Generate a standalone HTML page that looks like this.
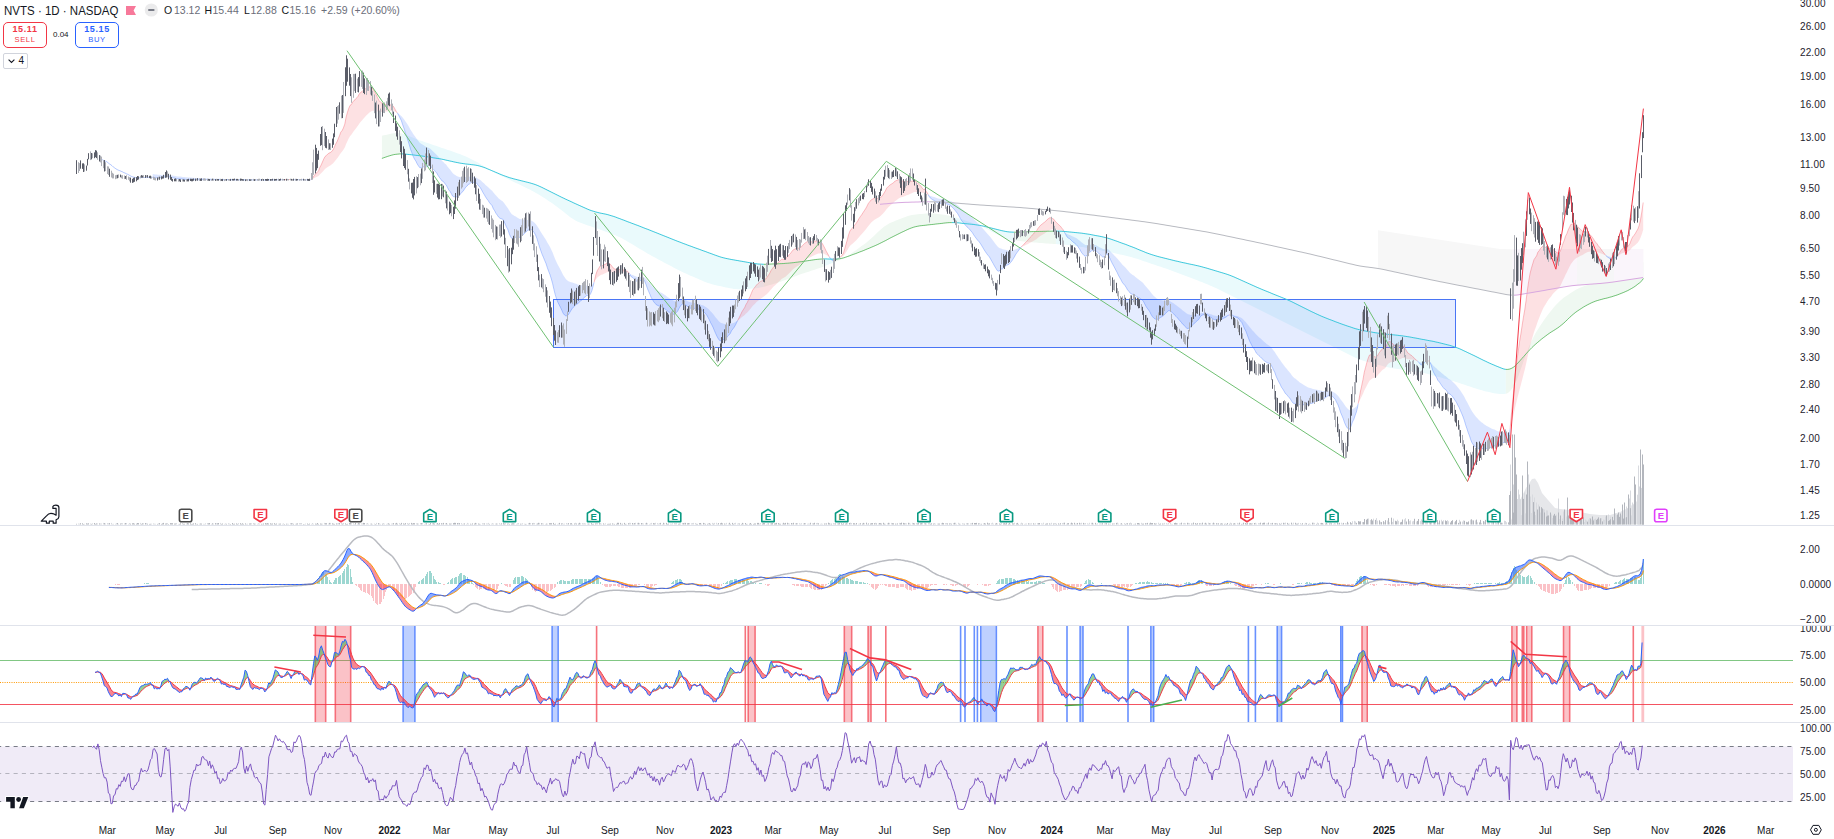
<!DOCTYPE html>
<html><head><meta charset="utf-8"><style>
html,body{margin:0;padding:0;background:#fff;}
body{width:1834px;height:839px;overflow:hidden;position:relative;font-family:"Liberation Sans",sans-serif;color:#131722}
svg{position:absolute;left:0;top:0;font-family:"Liberation Sans",sans-serif;}
.a{position:absolute;white-space:nowrap}
.hdr{left:4px;top:1.6px;font-size:13px;line-height:17px;transform:scaleX(0.885);transform-origin:0 0}
.o{top:3px;font-size:10.5px;line-height:14px;color:#131722}
.v{top:3px;font-size:10.5px;line-height:14px;color:#6b6e79}
.btn{position:absolute;top:22px;height:26px;border:1px solid;border-radius:5px;box-sizing:border-box;text-align:center}
.btn .p{position:absolute;left:0;right:0;top:1.2px;font-weight:bold;font-size:9px;line-height:10px;letter-spacing:0.6px}
.btn .l{position:absolute;left:0;right:0;top:12.1px;font-size:7.6px;line-height:9px;letter-spacing:0.6px}
</style></head><body>
<svg width="1834" height="839" viewBox="0 0 1834 839">
<polygon points="381.9,158.4 383.9,157.7 385.9,157 387.9,156.3 389.9,155.7 391.9,155.1 393.9,154.6 395.9,154.3 397.9,154.1 399.9,153.9 401.9,153.9 401.9,133.6 399.9,133.2 397.9,133 395.9,133 393.9,133.2 391.9,133.5 389.9,134 387.9,134.4 385.9,134.9 383.9,135.3 381.9,135.8" fill="#eff8f1"/>
<polygon points="401.9,153.9 403.9,154 405.9,154.2 407.9,154.4 409.9,154.6 411.9,154.8 413.9,155 415.9,155.3 417.9,155.5 419.9,155.8 421.9,156 423.9,156.3 425.9,156.6 427.9,156.9 429.9,157.2 431.9,157.5 433.9,157.9 435.9,158.2 437.9,158.5 439.9,158.8 441.9,159.2 443.9,159.6 445.9,160.1 447.9,160.5 449.9,161 451.9,161.4 453.9,161.9 455.9,162.3 457.9,162.7 459.9,163.1 461.9,163.4 463.9,163.7 465.9,164 467.9,164.2 469.9,164.4 471.9,164.7 473.9,164.9 475.9,165.2 477.9,165.6 479.9,166.1 481.9,166.7 483.9,167.4 485.9,168.1 487.9,169 489.9,169.8 491.9,170.7 493.9,171.5 495.9,172.4 497.9,173.2 499.9,174.1 501.9,174.9 503.9,175.7 505.9,176.4 507.9,177.1 509.9,177.8 511.9,178.3 513.9,178.9 515.9,179.4 517.9,179.9 519.9,180.4 521.9,180.9 523.9,181.4 525.9,181.9 527.9,182.4 529.9,182.9 531.9,183.5 533.9,184.1 535.9,184.8 537.9,185.6 539.9,186.5 541.9,187.4 543.9,188.4 545.9,189.4 547.9,190.4 549.9,191.4 551.9,192.4 553.9,193.4 555.9,194.4 557.9,195.4 559.9,196.4 561.9,197.4 563.9,198.3 565.9,199.3 567.9,200.2 569.9,201.1 571.9,202 573.9,203 575.9,203.9 577.9,204.8 579.9,205.7 581.9,206.6 583.9,207.5 585.9,208.4 587.9,209.3 589.9,210.1 591.9,210.8 593.9,211.4 595.9,212 597.9,212.5 599.9,213 601.9,213.4 603.9,213.8 605.9,214.2 607.9,214.7 609.9,215.3 611.9,215.9 613.9,216.5 615.9,217.2 617.9,218 619.9,218.7 621.9,219.5 623.9,220.2 625.9,221 627.9,221.8 629.9,222.5 631.9,223.3 633.9,224 635.9,224.8 637.9,225.5 639.9,226.3 641.9,227.1 643.9,227.9 645.9,228.7 647.9,229.4 649.9,230.2 651.9,231 653.9,231.8 655.9,232.6 657.9,233.4 659.9,234.2 661.9,235 663.9,235.8 665.9,236.6 667.9,237.4 669.9,238.2 671.9,239 673.9,239.8 675.9,240.6 677.9,241.4 679.9,242.1 681.9,242.9 683.9,243.7 685.9,244.4 687.9,245.2 689.9,245.9 691.9,246.6 693.9,247.4 695.9,248.1 697.9,248.8 699.9,249.5 701.9,250.3 703.9,251 705.9,251.7 707.9,252.5 709.9,253.2 711.9,253.9 713.9,254.7 715.9,255.4 717.9,256.1 719.9,256.8 721.9,257.4 723.9,257.9 725.9,258.4 727.9,258.8 729.9,259.2 731.9,259.6 733.9,259.9 735.9,260.3 737.9,260.6 739.9,261 741.9,261.3 743.9,261.7 745.9,262 747.9,262.4 749.9,262.7 751.9,263.1 753.9,263.4 755.9,263.7 757.9,264 759.9,264.1 761.9,264.2 763.9,264.3 763.9,286.8 761.9,287.2 759.9,287.6 757.9,288 755.9,288.2 753.9,288.5 751.9,288.6 749.9,288.7 747.9,288.9 745.9,289 743.9,289.2 741.9,289.3 739.9,289.3 737.9,289.3 735.9,289.1 733.9,288.9 731.9,288.6 729.9,288.2 727.9,287.8 725.9,287.4 723.9,286.9 721.9,286.5 719.9,286.1 717.9,285.7 715.9,285.2 713.9,284.8 711.9,284.2 709.9,283.6 707.9,282.9 705.9,282.2 703.9,281.4 701.9,280.5 699.9,279.7 697.9,278.8 695.9,278 693.9,277.1 691.9,276.2 689.9,275.4 687.9,274.5 685.9,273.6 683.9,272.7 681.9,271.8 679.9,270.8 677.9,269.8 675.9,268.8 673.9,267.7 671.9,266.6 669.9,265.6 667.9,264.5 665.9,263.4 663.9,262.4 661.9,261.3 659.9,260.3 657.9,259.2 655.9,258.1 653.9,257.1 651.9,255.9 649.9,254.8 647.9,253.7 645.9,252.5 643.9,251.3 641.9,250.1 639.9,248.9 637.9,247.7 635.9,246.5 633.9,245.3 631.9,244.1 629.9,242.9 627.9,241.7 625.9,240.5 623.9,239.4 621.9,238.3 619.9,237.3 617.9,236.4 615.9,235.5 613.9,234.7 611.9,234 609.9,233.2 607.9,232.5 605.9,231.7 603.9,231 601.9,230.2 599.9,229.5 597.9,228.8 595.9,228.1 593.9,227.4 591.9,226.7 589.9,226.1 587.9,225.4 585.9,224.7 583.9,224 581.9,223.3 579.9,222.6 577.9,221.7 575.9,220.7 573.9,219.5 571.9,218.3 569.9,216.9 567.9,215.3 565.9,213.7 563.9,212.1 561.9,210.5 559.9,208.9 557.9,207.4 555.9,205.9 553.9,204.5 551.9,203.1 549.9,201.7 547.9,200.4 545.9,199.1 543.9,197.8 541.9,196.5 539.9,195.2 537.9,194 535.9,192.9 533.9,191.7 531.9,190.7 529.9,189.6 527.9,188.7 525.9,187.7 523.9,186.7 521.9,185.8 519.9,184.8 517.9,183.8 515.9,182.9 513.9,181.9 511.9,180.9 509.9,180 507.9,179 505.9,178.1 503.9,177.1 501.9,176.2 499.9,175.2 497.9,174.3 495.9,173.3 493.9,172.2 491.9,171.1 489.9,169.9 487.9,168.6 485.9,167.4 483.9,166.1 481.9,164.9 479.9,163.7 477.9,162.5 475.9,161.4 473.9,160.4 471.9,159.4 469.9,158.4 467.9,157.4 465.9,156.5 463.9,155.7 461.9,154.9 459.9,154.1 457.9,153.4 455.9,152.7 453.9,152 451.9,151.3 449.9,150.6 447.9,149.9 445.9,149.2 443.9,148.5 441.9,147.9 439.9,147.2 437.9,146.5 435.9,145.8 433.9,145.2 431.9,144.5 429.9,143.8 427.9,143.1 425.9,142.5 423.9,141.8 421.9,141.1 419.9,140.4 417.9,139.6 415.9,138.9 413.9,138.1 411.9,137.3 409.9,136.5 407.9,135.7 405.9,134.9 403.9,134.2 401.9,133.6" fill="#eafafc"/>
<polygon points="763.9,264.3 765.9,264.3 767.9,264.2 769.9,264.1 771.9,264 773.9,263.9 775.9,263.9 777.9,263.8 779.9,263.7 781.9,263.6 783.9,263.5 785.9,263.3 787.9,263.2 789.9,263 791.9,262.8 793.9,262.6 795.9,262.3 797.9,262.1 799.9,261.8 801.9,261.6 803.9,261.3 805.9,261 807.9,260.7 809.9,260.4 811.9,260.1 813.9,259.8 815.9,259.5 817.9,259.3 819.9,259.1 821.9,259 823.9,258.9 823.9,266.4 821.9,267.2 819.9,267.9 817.9,268.6 815.9,269.3 813.9,270 811.9,270.6 809.9,271.2 807.9,271.9 805.9,272.5 803.9,273.2 801.9,273.8 799.9,274.5 797.9,275.2 795.9,276 793.9,276.7 791.9,277.5 789.9,278.2 787.9,279 785.9,279.8 783.9,280.5 781.9,281.2 779.9,281.9 777.9,282.6 775.9,283.2 773.9,283.8 771.9,284.4 769.9,285 767.9,285.6 765.9,286.2 763.9,286.8" fill="#eff8f1"/>
<polygon points="823.9,258.9 825.9,258.9 827.9,259 829.9,259.1 831.9,259.2 833.9,259.2 833.9,262.4 831.9,263.2 829.9,264 827.9,264.8 825.9,265.6 823.9,266.4" fill="#eafafc"/>
<polygon points="833.9,259.2 835.9,259.2 837.9,259 839.9,258.7 841.9,258.3 843.9,257.8 845.9,257.1 847.9,256.4 849.9,255.7 851.9,254.9 853.9,254.2 855.9,253.5 857.9,252.7 859.9,251.9 861.9,251.2 863.9,250.4 865.9,249.5 867.9,248.7 869.9,247.9 871.9,247 873.9,246.2 875.9,245.3 877.9,244.4 879.9,243.4 881.9,242.4 883.9,241.4 885.9,240.4 887.9,239.3 889.9,238.2 891.9,237.2 893.9,236.2 895.9,235.2 897.9,234.2 899.9,233.2 901.9,232.2 903.9,231.3 905.9,230.3 907.9,229.4 909.9,228.5 911.9,227.8 913.9,227.1 915.9,226.6 917.9,226.2 919.9,225.8 921.9,225.6 923.9,225.4 925.9,225.2 927.9,224.9 929.9,224.7 931.9,224.5 933.9,224.3 935.9,224 937.9,223.8 939.9,223.6 941.9,223.4 943.9,223.1 945.9,222.9 947.9,222.7 949.9,222.6 951.9,222.6 951.9,216.3 949.9,215.9 947.9,215.5 945.9,215.1 943.9,214.8 941.9,214.6 939.9,214.3 937.9,214 935.9,213.7 933.9,213.6 931.9,213.4 929.9,213.4 927.9,213.4 925.9,213.5 923.9,213.7 921.9,213.9 919.9,214.1 917.9,214.2 915.9,214.4 913.9,214.7 911.9,215.1 909.9,215.5 907.9,216.1 905.9,216.7 903.9,217.4 901.9,218.2 899.9,219 897.9,219.8 895.9,220.6 893.9,221.4 891.9,222.2 889.9,223.1 887.9,224.2 885.9,225.4 883.9,226.8 881.9,228.4 879.9,230.2 877.9,232.1 875.9,234.1 873.9,236 871.9,237.8 869.9,239.6 867.9,241.3 865.9,242.9 863.9,244.4 861.9,245.8 859.9,247.3 857.9,248.7 855.9,250.2 853.9,251.6 851.9,253 849.9,254.4 847.9,255.7 845.9,256.9 843.9,258 841.9,259.1 839.9,260 837.9,260.8 835.9,261.6 833.9,262.4" fill="#eff8f1"/>
<polygon points="951.9,222.6 953.9,222.6 955.9,222.7 957.9,222.8 959.9,223 961.9,223.3 963.9,223.5 965.9,223.7 967.9,223.9 969.9,224.1 971.9,224.3 973.9,224.5 975.9,224.8 977.9,225.1 979.9,225.4 981.9,225.8 983.9,226.2 985.9,226.7 987.9,227.2 989.9,227.7 991.9,228.2 993.9,228.7 995.9,229.2 997.9,229.7 999.9,230.2 1001.9,230.7 1003.9,231.1 1005.9,231.5 1007.9,231.8 1009.9,232 1011.9,232.1 1013.9,232.2 1013.9,240.5 1011.9,240.2 1009.9,239.8 1007.9,239.2 1005.9,238.6 1003.9,237.8 1001.9,236.8 999.9,235.8 997.9,234.8 995.9,233.7 993.9,232.7 991.9,231.7 989.9,230.6 987.9,229.6 985.9,228.6 983.9,227.6 981.9,226.6 979.9,225.8 977.9,224.9 975.9,224.2 973.9,223.4 971.9,222.8 969.9,222.1 967.9,221.4 965.9,220.7 963.9,220 961.9,219.4 959.9,218.7 957.9,218 955.9,217.4 953.9,216.8 951.9,216.3" fill="#eafafc"/>
<polygon points="1013.9,232.2 1015.9,232.2 1017.9,232.1 1019.9,232 1021.9,231.9 1023.9,231.9 1025.9,231.8 1027.9,231.7 1029.9,231.7 1031.9,231.6 1033.9,231.6 1035.9,231.5 1037.9,231.5 1039.9,231.4 1041.9,231.4 1043.9,231.3 1045.9,231.3 1047.9,231.2 1049.9,231.2 1051.9,231.2 1053.9,231.1 1055.9,231.1 1055.9,244.1 1053.9,243.9 1051.9,243.8 1049.9,243.7 1047.9,243.5 1045.9,243.4 1043.9,243.3 1041.9,243.1 1039.9,242.9 1037.9,242.8 1035.9,242.6 1033.9,242.4 1031.9,242.2 1029.9,242.1 1027.9,241.9 1025.9,241.7 1023.9,241.5 1021.9,241.3 1019.9,241.1 1017.9,240.9 1015.9,240.7 1013.9,240.5" fill="#eff8f1"/>
<polygon points="1055.9,231.1 1057.9,231.1 1059.9,231.2 1061.9,231.3 1063.9,231.4 1065.9,231.6 1067.9,231.8 1069.9,232 1071.9,232.2 1073.9,232.4 1075.9,232.6 1077.9,232.8 1079.9,233 1081.9,233.2 1083.9,233.5 1085.9,233.8 1087.9,234.1 1089.9,234.4 1091.9,234.8 1093.9,235.2 1095.9,235.6 1097.9,235.9 1099.9,236.3 1101.9,236.7 1103.9,237.2 1105.9,237.7 1107.9,238.2 1109.9,238.8 1111.9,239.5 1113.9,240.2 1115.9,240.9 1117.9,241.6 1119.9,242.4 1121.9,243.1 1123.9,243.8 1125.9,244.5 1127.9,245.3 1129.9,246.1 1131.9,246.8 1133.9,247.6 1135.9,248.4 1137.9,249.3 1139.9,250.1 1141.9,250.9 1143.9,251.7 1145.9,252.6 1147.9,253.3 1149.9,254 1151.9,254.7 1153.9,255.3 1155.9,255.9 1157.9,256.5 1159.9,257 1161.9,257.5 1163.9,258 1165.9,258.5 1167.9,259 1169.9,259.5 1171.9,260 1173.9,260.5 1175.9,261 1177.9,261.4 1179.9,261.9 1181.9,262.4 1183.9,262.8 1185.9,263.2 1187.9,263.7 1189.9,264.1 1191.9,264.5 1193.9,264.9 1195.9,265.4 1197.9,265.8 1199.9,266.3 1201.9,266.8 1203.9,267.4 1205.9,267.9 1207.9,268.5 1209.9,269.1 1211.9,269.7 1213.9,270.3 1215.9,270.9 1217.9,271.5 1219.9,272.1 1221.9,272.7 1223.9,273.3 1225.9,273.9 1227.9,274.6 1229.9,275.3 1231.9,276.1 1233.9,276.9 1235.9,277.8 1237.9,278.7 1239.9,279.6 1241.9,280.5 1243.9,281.4 1245.9,282.3 1247.9,283.2 1249.9,284.1 1251.9,285 1253.9,285.9 1255.9,286.8 1257.9,287.7 1259.9,288.5 1261.9,289.4 1263.9,290.2 1265.9,291 1267.9,291.8 1269.9,292.6 1271.9,293.5 1273.9,294.3 1275.9,295.1 1277.9,295.9 1279.9,296.7 1281.9,297.5 1283.9,298.3 1285.9,299.1 1287.9,300 1289.9,300.9 1291.9,301.8 1293.9,302.8 1295.9,303.8 1297.9,304.8 1299.9,305.8 1301.9,306.8 1303.9,307.8 1305.9,308.8 1307.9,309.8 1309.9,310.8 1311.9,311.8 1313.9,312.7 1315.9,313.7 1317.9,314.6 1319.9,315.5 1321.9,316.4 1323.9,317.2 1325.9,318 1327.9,318.8 1329.9,319.6 1331.9,320.3 1333.9,321.1 1335.9,321.9 1337.9,322.6 1339.9,323.4 1341.9,324.1 1343.9,324.8 1345.9,325.5 1347.9,326.2 1349.9,326.8 1351.9,327.5 1353.9,328.2 1355.9,328.8 1357.9,329.3 1359.9,329.9 1361.9,330.3 1363.9,330.7 1365.9,331.1 1367.9,331.5 1369.9,331.8 1371.9,332.1 1373.9,332.5 1375.9,332.8 1377.9,333.1 1379.9,333.4 1381.9,333.6 1383.9,333.9 1385.9,334.1 1387.9,334.3 1389.9,334.5 1391.9,334.7 1393.9,334.9 1395.9,335.1 1397.9,335.3 1399.9,335.6 1401.9,335.8 1403.9,336.1 1405.9,336.4 1407.9,336.7 1409.9,337 1411.9,337.4 1413.9,337.8 1415.9,338.1 1417.9,338.5 1419.9,338.9 1421.9,339.3 1423.9,339.6 1425.9,340 1427.9,340.4 1429.9,340.8 1431.9,341.1 1433.9,341.5 1435.9,342 1437.9,342.4 1439.9,342.9 1441.9,343.4 1443.9,343.9 1445.9,344.4 1447.9,344.9 1449.9,345.4 1451.9,346 1453.9,346.7 1455.9,347.4 1457.9,348.1 1459.9,348.9 1461.9,349.8 1463.9,350.8 1465.9,351.7 1467.9,352.7 1469.9,353.6 1471.9,354.6 1473.9,355.5 1475.9,356.5 1477.9,357.5 1479.9,358.5 1481.9,359.5 1483.9,360.5 1485.9,361.4 1487.9,362.4 1489.9,363.3 1491.9,364.2 1493.9,365 1495.9,365.9 1497.9,366.7 1499.9,367.5 1501.9,368.3 1503.9,369 1505.9,369.4 1505.9,393.8 1503.9,394 1501.9,394 1499.9,394 1497.9,393.8 1495.9,393.6 1493.9,393.2 1491.9,392.7 1489.9,392.3 1487.9,391.8 1485.9,391.4 1483.9,390.9 1481.9,390.3 1479.9,389.8 1477.9,389.2 1475.9,388.6 1473.9,388 1471.9,387.3 1469.9,386.6 1467.9,386 1465.9,385.3 1463.9,384.6 1461.9,384 1459.9,383.3 1457.9,382.6 1455.9,382 1453.9,381.3 1451.9,380.7 1449.9,380.1 1447.9,379.5 1445.9,378.9 1443.9,378.4 1441.9,377.8 1439.9,377.3 1437.9,376.8 1435.9,376.2 1433.9,375.7 1431.9,375.2 1429.9,374.6 1427.9,374.1 1425.9,373.6 1423.9,373.1 1421.9,372.6 1419.9,372.2 1417.9,371.8 1415.9,371.5 1413.9,371.2 1411.9,370.9 1409.9,370.7 1407.9,370.4 1405.9,370.1 1403.9,369.9 1401.9,369.6 1399.9,369.3 1397.9,369.1 1395.9,368.8 1393.9,368.5 1391.9,368.1 1389.9,367.8 1387.9,367.3 1385.9,366.9 1383.9,366.4 1381.9,365.8 1379.9,365.3 1377.9,364.8 1375.9,364.2 1373.9,363.7 1371.9,363.2 1369.9,362.6 1367.9,362.1 1365.9,361.6 1363.9,361 1361.9,360.3 1359.9,359.6 1357.9,358.8 1355.9,357.9 1353.9,357 1351.9,356 1349.9,355 1347.9,354 1345.9,353 1343.9,352 1341.9,351 1339.9,350 1337.9,349 1335.9,348 1333.9,347 1331.9,346 1329.9,345 1327.9,344 1325.9,343 1323.9,342 1321.9,341 1319.9,340 1317.9,339 1315.9,338 1313.9,337 1311.9,336 1309.9,335 1307.9,334 1305.9,333 1303.9,332 1301.9,331 1299.9,330 1297.9,329 1295.9,328 1293.9,327 1291.9,326 1289.9,325 1287.9,324 1285.9,323 1283.9,322 1281.9,321 1279.9,320 1277.9,319 1275.9,318 1273.9,317 1271.9,316 1269.9,315 1267.9,314 1265.9,313 1263.9,312 1261.9,311 1259.9,310 1257.9,309 1255.9,308 1253.9,307 1251.9,306 1249.9,305 1247.9,304 1245.9,303 1243.9,302 1241.9,301 1239.9,300 1237.9,299 1235.9,298 1233.9,297 1231.9,296 1229.9,295.1 1227.9,294.1 1225.9,293.1 1223.9,292.1 1221.9,291.1 1219.9,290.1 1217.9,289.1 1215.9,288.1 1213.9,287.2 1211.9,286.2 1209.9,285.4 1207.9,284.5 1205.9,283.7 1203.9,282.9 1201.9,282.1 1199.9,281.4 1197.9,280.6 1195.9,279.8 1193.9,279.1 1191.9,278.3 1189.9,277.6 1187.9,276.8 1185.9,276 1183.9,275.3 1181.9,274.5 1179.9,273.8 1177.9,273 1175.9,272.2 1173.9,271.5 1171.9,270.8 1169.9,270 1167.9,269.3 1165.9,268.6 1163.9,267.9 1161.9,267.3 1159.9,266.6 1157.9,265.9 1155.9,265.2 1153.9,264.6 1151.9,263.9 1149.9,263.2 1147.9,262.5 1145.9,261.8 1143.9,261.2 1141.9,260.5 1139.9,259.8 1137.9,259.1 1135.9,258.5 1133.9,257.9 1131.9,257.3 1129.9,256.7 1127.9,256.2 1125.9,255.7 1123.9,255.2 1121.9,254.8 1119.9,254.4 1117.9,253.9 1115.9,253.5 1113.9,253 1111.9,252.6 1109.9,252.2 1107.9,251.7 1105.9,251.3 1103.9,250.9 1101.9,250.5 1099.9,250.1 1097.9,249.7 1095.9,249.3 1093.9,249 1091.9,248.7 1089.9,248.3 1087.9,248 1085.9,247.7 1083.9,247.3 1081.9,247 1079.9,246.7 1077.9,246.3 1075.9,246 1073.9,245.7 1071.9,245.4 1069.9,245.2 1067.9,244.9 1065.9,244.8 1063.9,244.6 1061.9,244.5 1059.9,244.3 1057.9,244.2 1055.9,244.1" fill="#eafafc"/>
<polygon points="1505.9,369.4 1507.9,369.4 1509.9,369 1511.9,368.2 1513.9,366.9 1515.9,365.2 1517.9,363 1519.9,360.8 1521.9,358.5 1523.9,356.3 1525.9,354 1527.9,351.8 1529.9,349.7 1531.9,347.6 1533.9,345.7 1535.9,343.9 1537.9,342.2 1539.9,340.5 1541.9,338.8 1543.9,337.3 1545.9,335.8 1547.9,334.3 1549.9,332.9 1551.9,331.6 1553.9,330.4 1555.9,329.1 1557.9,327.8 1559.9,326.3 1561.9,324.7 1563.9,323 1565.9,321.1 1567.9,319.2 1569.9,317.2 1571.9,315.4 1573.9,313.7 1575.9,312.1 1577.9,310.7 1579.9,309.4 1581.9,308.1 1583.9,306.8 1585.9,305.7 1587.9,304.6 1589.9,303.6 1591.9,302.6 1593.9,301.8 1595.9,301 1597.9,300.4 1599.9,299.8 1601.9,299.3 1603.9,298.7 1605.9,298.3 1607.9,297.8 1609.9,297.2 1611.9,296.7 1613.9,296 1615.9,295.4 1617.9,294.7 1619.9,293.9 1621.9,293.1 1623.9,292.3 1625.9,291.4 1627.9,290.5 1629.9,289.4 1631.9,288.3 1633.9,287.1 1635.9,285.7 1637.9,284.1 1639.9,282.6 1641.9,280.7 1643.4,278.4 1643.4,262 1641.9,263.1 1639.9,264.5 1637.9,265.8 1635.9,267.1 1633.9,268.5 1631.9,269.9 1629.9,271.2 1627.9,272.6 1625.9,274 1623.9,275.2 1621.9,276.3 1619.9,277.2 1617.9,278 1615.9,278.7 1613.9,279.2 1611.9,279.6 1609.9,280 1607.9,280.4 1605.9,280.8 1603.9,281.2 1601.9,281.7 1599.9,282.1 1597.9,282.6 1595.9,283 1593.9,283.5 1591.9,284 1589.9,284.5 1587.9,285 1585.9,285.5 1583.9,286.2 1581.9,286.9 1579.9,287.7 1577.9,288.7 1575.9,289.8 1573.9,291 1571.9,292.3 1569.9,293.6 1567.9,294.9 1565.9,296.2 1563.9,297.6 1561.9,299.3 1559.9,301 1557.9,303 1555.9,305.1 1553.9,307.3 1551.9,309.7 1549.9,312.2 1547.9,314.8 1545.9,317.5 1543.9,320.3 1541.9,323.2 1539.9,326.2 1537.9,329.4 1535.9,332.6 1533.9,336.2 1531.9,340.2 1529.9,344.6 1527.9,349.5 1525.9,354.7 1523.9,360.2 1521.9,366 1519.9,371.6 1517.9,377.2 1515.9,381.9 1513.9,385.8 1511.9,388.8 1509.9,391.2 1507.9,392.9 1505.9,393.8" fill="#eff8f1"/>
<polygon points="1378,230.3 1500,249 1512.5,249.3 1512.5,295.8 1500,293.3 1470,287.5 1436.6,281 1378,268.3" fill="#f7f7f7"/>
<polygon points="1512.5,249 1577.5,249 1577.5,285.1 1545,290.3 1512.5,295.8" fill="#faf5fb"/>
<polygon points="1577,249 1614.5,249 1614.5,281.8 1595.8,283.8 1577,285.2" fill="#f6f6f7"/>
<polygon points="1614,249 1643.4,249 1643.4,277.5 1628.7,279.7 1614,281.9" fill="#faf5fb"/>
<rect x="553.5" y="299.5" width="902" height="48" fill="#2962ff" fill-opacity="0.12" stroke="#4a75f5" stroke-width="1"/>
<polyline points="100.1,159 101.4,159 102.7,159.9 104,160.7 105.3,161.1 106.7,161.7 108,162.7 109.3,163.8 110.6,164.6 111.9,165.6 113.2,166.9 114.5,167.8 115.9,168.8 117.2,169.6 118.5,170.2 119.8,170.7 121.1,171.3 122.4,171.8 123.8,172.6 125.1,173.1 126.4,173.8 127.7,174.3 129,175 130.3,175.8 131.7,176.5 133,177 134.3,177.3 135.6,177.6 136.9,177.8 138.2,177.8 139.5,177.8 140.9,177.6 142.2,177.6 143.5,177.5 144.8,177.5 146.1,177.4 147.4,177.4 148.8,177.3 150.1,177.4 151.4,177.3 152.7,177.4" fill="none" stroke="#2962ff" stroke-opacity="0.35" stroke-width="1"/>
<polygon points="152.7,177.4 154,177.6 155.3,177.7 156.6,177.8 158,177.8 159.3,177.7 160.6,177.7 161.9,177.8 163.2,177.6 164.5,177.1 165.9,176.8 167.2,176.7 168.5,176.8 169.8,177.1 171.1,177.4 172.4,177.6 173.7,177.9 175.1,178.3 176.4,178.6 177.7,178.7 179,178.8 180.3,178.9 181.6,178.9 183,179.1 184.3,179.2 185.6,179.4 186.9,179.5 188.2,179.7 189.5,179.7 190.8,179.7 192.2,179.8 193.5,179.7 194.8,179.7 196.1,179.7 197.4,179.8 198.7,179.8 200.1,179.7 201.4,179.6 202.7,179.7 204,179.6 205.3,179.6 206.6,179.6 207.9,179.7 209.3,179.8 210.6,179.9 211.9,179.8 213.2,179.7 214.5,179.6 215.8,179.6 217.2,179.6 218.5,179.6 219.8,179.6 221.1,179.5 222.4,179.7 223.7,179.8 225.1,179.8 226.4,179.7 227.7,179.7 229,179.7 230.3,179.8 231.6,179.8 232.9,179.8 234.3,179.8 235.6,179.9 236.9,179.9 238.2,179.9 239.5,179.9 240.8,179.8 242.2,179.8 243.5,179.9 244.8,179.9 246.1,179.9 247.4,180 248.7,180 250,180 251.4,180 252.7,180 254,180 255.3,179.9 256.6,180 257.9,179.9 259.3,179.9 260.6,180 261.9,179.9 263.2,180 264.5,180.1 265.8,180 267.1,179.9 268.5,179.9 269.8,179.9 271.1,179.9 272.4,179.9 273.7,179.9 275,179.8 276.4,179.9 277.7,179.8 279,179.8 280.3,179.8 281.6,179.7 282.9,179.7 284,179.7 284,179.7 282.9,179.7 281.6,179.7 280.3,179.7 279,179.7 277.7,179.7 276.4,179.7 275,179.7 273.7,179.7 272.4,179.7 271.1,179.7 269.8,179.7 268.5,179.7 267.1,179.7 265.8,179.7 264.5,179.7 263.2,179.7 261.9,179.6 260.6,179.6 259.3,179.6 257.9,179.6 256.6,179.6 255.3,179.6 254,179.6 252.7,179.6 251.4,179.5 250,179.5 248.7,179.5 247.4,179.5 246.1,179.4 244.8,179.4 243.5,179.4 242.2,179.3 240.8,179.3 239.5,179.3 238.2,179.3 236.9,179.3 235.6,179.2 234.3,179.2 232.9,179.2 231.6,179.1 230.3,179.1 229,179.1 227.7,179 226.4,179 225.1,179 223.7,179 222.4,178.9 221.1,178.8 219.8,178.8 218.5,178.8 217.2,178.7 215.8,178.7 214.5,178.7 213.2,178.7 211.9,178.6 210.6,178.6 209.3,178.5 207.9,178.5 206.6,178.4 205.3,178.3 204,178.3 202.7,178.3 201.4,178.2 200.1,178.1 198.7,178.1 197.4,178 196.1,177.9 194.8,177.9 193.5,177.8 192.2,177.7 190.8,177.6 189.5,177.5 188.2,177.4 186.9,177.3 185.6,177.2 184.3,177 183,176.9 181.6,176.7 180.3,176.6 179,176.5 177.7,176.4 176.4,176.2 175.1,176 173.7,175.8 172.4,175.6 171.1,175.5 169.8,175.3 168.5,175.1 167.2,175 165.9,175 164.5,175 163.2,175.1 161.9,175.1 160.6,175 159.3,174.8 158,174.7 156.6,174.6 155.3,174.5 154,174.3 152.7,174.1" fill="#2962ff" fill-opacity="0.17"/>
<polyline points="152.7,177.4 154,177.6 155.3,177.7 156.6,177.8 158,177.8 159.3,177.7 160.6,177.7 161.9,177.8 163.2,177.6 164.5,177.1 165.9,176.8 167.2,176.7 168.5,176.8 169.8,177.1 171.1,177.4 172.4,177.6 173.7,177.9 175.1,178.3 176.4,178.6 177.7,178.7 179,178.8 180.3,178.9 181.6,178.9 183,179.1 184.3,179.2 185.6,179.4 186.9,179.5 188.2,179.7 189.5,179.7 190.8,179.7 192.2,179.8 193.5,179.7 194.8,179.7 196.1,179.7 197.4,179.8 198.7,179.8 200.1,179.7 201.4,179.6 202.7,179.7 204,179.6 205.3,179.6 206.6,179.6 207.9,179.7 209.3,179.8 210.6,179.9 211.9,179.8 213.2,179.7 214.5,179.6 215.8,179.6 217.2,179.6 218.5,179.6 219.8,179.6 221.1,179.5 222.4,179.7 223.7,179.8 225.1,179.8 226.4,179.7 227.7,179.7 229,179.7 230.3,179.8 231.6,179.8 232.9,179.8 234.3,179.8 235.6,179.9 236.9,179.9 238.2,179.9 239.5,179.9 240.8,179.8 242.2,179.8 243.5,179.9 244.8,179.9 246.1,179.9 247.4,180 248.7,180 250,180 251.4,180 252.7,180 254,180 255.3,179.9 256.6,180 257.9,179.9 259.3,179.9 260.6,180 261.9,179.9 263.2,180 264.5,180.1 265.8,180 267.1,179.9 268.5,179.9 269.8,179.9 271.1,179.9 272.4,179.9 273.7,179.9 275,179.8 276.4,179.9 277.7,179.8 279,179.8 280.3,179.8 281.6,179.7 282.9,179.7 284,179.7" fill="none" stroke="#2962ff" stroke-opacity="0.3" stroke-width="1"/>
<polygon points="284,179.7 284.2,179.6 285.6,179.6 286.9,179.6 288.2,179.6 289.5,179.5 290.8,179.5 292.1,179.6 293.4,179.6 293.4,179.6 292.1,179.6 290.8,179.6 289.5,179.6 288.2,179.6 286.9,179.6 285.6,179.6 284.2,179.7 284,179.7" fill="#f23645" fill-opacity="0.15"/>
<polyline points="284,179.7 284.2,179.6 285.6,179.6 286.9,179.6 288.2,179.6 289.5,179.5 290.8,179.5 292.1,179.6 293.4,179.6" fill="none" stroke="#f23645" stroke-opacity="0.3" stroke-width="1"/>
<polygon points="293.4,179.6 293.5,179.6 294.8,179.7 296.1,179.7 297.4,179.7 298.7,179.7 300,179.7 301.4,179.7 302.7,179.7 304,179.8 305.3,179.8 306.6,179.8 307.9,179.9 309.2,180 310.6,179.8 310.8,179.7 310.8,179.7 310.6,179.7 309.2,179.8 307.9,179.7 306.6,179.7 305.3,179.7 304,179.7 302.7,179.7 301.4,179.7 300,179.7 298.7,179.7 297.4,179.7 296.1,179.7 294.8,179.7 293.5,179.6 293.4,179.6" fill="#2962ff" fill-opacity="0.17"/>
<polyline points="293.4,179.6 293.5,179.6 294.8,179.7 296.1,179.7 297.4,179.7 298.7,179.7 300,179.7 301.4,179.7 302.7,179.7 304,179.8 305.3,179.8 306.6,179.8 307.9,179.9 309.2,180 310.6,179.8 310.8,179.7" fill="none" stroke="#2962ff" stroke-opacity="0.3" stroke-width="1"/>
<polygon points="310.8,179.7 311.9,179.3 313.2,177.1 314.5,175.3 315.8,173.4 317.1,172.6 318.5,170.9 319.8,167.5 321.1,165.1 322.4,162.1 323.7,159.1 325,156.6 326.3,155.6 327.7,154.1 329,153.1 330.3,152.6 331.6,151.6 332.9,150.1 334.2,147.6 335.6,144.2 336.9,142 338.2,138.8 339.5,135.7 340.8,132.1 342.1,130.6 343.4,128 344.8,124.1 346.1,117.2 347.4,112.5 348.7,108.5 350,105.4 351.3,104.6 352.7,102.2 354,100.4 355.3,99.6 356.6,97.9 357.9,96.5 359.2,94.1 360.5,92.6 361.9,91.6 363.2,90.3 364.5,89.6 365.8,88.5 367.1,88 368.4,87.4 369.8,86.8 371.1,87.4 372.4,88.1 373.7,90.2 375,92.5 376.3,94.9 377.6,97.8 379,100.4 380.3,102 381.6,102.8 382.9,103.8 384.2,104 385.5,104.5 386.9,105 388.2,104.5 389.5,104.6 390.8,105 392.1,105.5 393.4,106.3 394.8,108.8 396.1,111.3 397.3,112.9 397.3,112.9 396.1,112.3 394.8,111.5 393.4,110.7 392.1,110.7 390.8,110.7 389.5,110.8 388.2,111 386.9,111.4 385.5,111.5 384.2,111.6 382.9,111.9 381.6,111.9 380.3,111.9 379,111.8 377.6,111.4 376.3,110.9 375,110.7 373.7,110.7 372.4,110.8 371.1,111.5 369.8,112.3 368.4,113.5 367.1,114.8 365.8,116 364.5,117.5 363.2,118.9 361.9,120.5 360.5,122.1 359.2,123.8 357.9,125.8 356.6,127.5 355.3,129.3 354,130.8 352.7,132.7 351.3,134.8 350,136.3 348.7,138.6 347.4,141.2 346.1,144 344.8,147.5 343.4,149.8 342.1,151.6 340.8,153 339.5,155.1 338.2,157 336.9,158.8 335.6,160.3 334.2,162.1 332.9,163.6 331.6,164.6 330.3,165.5 329,166.2 327.7,167.1 326.3,168.1 325,169 323.7,170.4 322.4,171.9 321.1,173.3 319.8,174.5 318.5,175.9 317.1,176.7 315.8,177.2 314.5,178 313.2,178.7 311.9,179.6 310.8,179.7" fill="#f23645" fill-opacity="0.15"/>
<polyline points="310.8,179.7 311.9,179.3 313.2,177.1 314.5,175.3 315.8,173.4 317.1,172.6 318.5,170.9 319.8,167.5 321.1,165.1 322.4,162.1 323.7,159.1 325,156.6 326.3,155.6 327.7,154.1 329,153.1 330.3,152.6 331.6,151.6 332.9,150.1 334.2,147.6 335.6,144.2 336.9,142 338.2,138.8 339.5,135.7 340.8,132.1 342.1,130.6 343.4,128 344.8,124.1 346.1,117.2 347.4,112.5 348.7,108.5 350,105.4 351.3,104.6 352.7,102.2 354,100.4 355.3,99.6 356.6,97.9 357.9,96.5 359.2,94.1 360.5,92.6 361.9,91.6 363.2,90.3 364.5,89.6 365.8,88.5 367.1,88 368.4,87.4 369.8,86.8 371.1,87.4 372.4,88.1 373.7,90.2 375,92.5 376.3,94.9 377.6,97.8 379,100.4 380.3,102 381.6,102.8 382.9,103.8 384.2,104 385.5,104.5 386.9,105 388.2,104.5 389.5,104.6 390.8,105 392.1,105.5 393.4,106.3 394.8,108.8 396.1,111.3 397.3,112.9" fill="none" stroke="#f23645" stroke-opacity="0.3" stroke-width="1"/>
<polygon points="397.3,112.9 397.4,113 398.7,115.4 400,118 401.3,120.5 402.6,124.5 404,128.4 405.3,132.8 406.6,136.3 407.9,140.4 409.2,144.5 410.5,149.2 411.9,152.8 413.2,156.4 414.5,159.1 415.8,161 417.1,163.7 418.4,165.8 419.7,167.6 421.1,167.7 422.4,167.3 423.7,166.9 425,167.1 426.3,166.8 427.6,166.5 429,165.6 430.3,166 431.6,167.5 432.9,168.7 434.2,170.1 435.5,171.6 436.8,173.2 438.2,175.6 439.5,177.5 440.8,179.2 442.1,181 443.4,181.5 444.7,183.5 446.1,184.8 447.4,187.4 448.7,189.9 450,191.4 451.3,193.6 452.6,196.1 453.9,196.8 455.3,196.8 456.6,196.9 457.9,196.3 459.2,195.8 460.5,193.9 461.8,192.3 463.2,191.2 464.5,189 465.8,187.1 467.1,186 468.4,184.4 469.7,183.8 471,182.5 472.4,182.4 473.7,182.6 475,182.4 476.3,182.8 477.6,184.6 478.9,186 480.3,187.7 481.6,189.9 482.9,192.4 484.2,194.5 485.5,196.8 486.8,198.8 488.2,200.6 489.5,202.7 490.8,204.2 492.1,205.7 493.4,208.9 494.7,210.8 496,213.4 497.4,215.3 498.7,217.2 500,218.3 501.3,218.7 502.6,219.1 503.9,221.2 505.3,224.4 506.6,227.2 507.9,229.6 509.2,233.6 510.5,236.7 511.8,238.4 513.1,238.3 514.5,237.9 515.8,237.2 517.1,237.5 518.4,237.5 519.7,237.3 521,236.6 522.4,235.6 523.7,234.1 525,233 526.3,231.6 527.6,230.5 528.9,229.8 530.2,230.1 531.6,229.8 532.9,230.9 534.2,232.6 535.5,234.9 536.8,238.1 538.1,242.3 539.5,246.9 540.8,250.7 542.1,254.3 543.4,257.3 544.7,260.5 546,263.5 547.3,267.6 548.7,271.4 550,274.7 551.3,278.9 552.6,283.6 553.9,289.3 555.2,294.6 556.6,299 557.9,302.3 559.2,304.9 560.5,307.4 561.8,310.2 563.1,313.2 564.5,315 565.8,315.9 567.1,315.8 568.4,314.7 569.7,312.6 571,310.4 572.3,308.4 573.7,307 575,305.6 576.3,304.3 577.6,303.9 578.9,302.4 580.2,301.2 581.6,300.3 582.9,299.1 584.2,297.4 585.5,296.7 586.8,295.2 588.1,295.6 589.4,295.6 590.8,293.3 592.1,290.1 593.4,285 594.1,282.2 594.1,282.2 593.4,283.2 592.1,284.9 590.8,285.8 589.4,286.3 588.1,285.9 586.8,285.4 585.5,285.5 584.2,285.3 582.9,285.4 581.6,285.2 580.2,284.9 578.9,284.7 577.6,284.5 576.3,283.8 575,283.5 573.7,283 572.3,282.5 571,282.2 569.7,281.8 568.4,281.3 567.1,280.3 565.8,278.9 564.5,277 563.1,274.9 561.8,272.3 560.5,269.7 559.2,267.3 557.9,264.9 556.6,262.2 555.2,259.2 553.9,255.9 552.6,252.6 551.3,249.7 550,247 548.7,244.8 547.3,242.4 546,239.9 544.7,237.9 543.4,235.9 542.1,234 540.8,231.9 539.5,229.8 538.1,227.5 536.8,225.5 535.5,223.8 534.2,222.6 532.9,221.6 531.6,220.8 530.2,220.5 528.9,220.1 527.6,219.9 526.3,219.9 525,219.9 523.7,219.7 522.4,219.6 521,219.3 519.7,218.9 518.4,218.2 517.1,217.4 515.8,216.5 514.5,215.9 513.1,215.1 511.8,214.2 510.5,212.6 509.2,210.5 507.9,208.2 506.6,206.5 505.3,204.7 503.9,202.8 502.6,201.3 501.3,200.4 500,199.6 498.7,198.4 497.4,197 496,195.6 494.7,194 493.4,192.6 492.1,190.8 490.8,189.7 489.5,188.6 488.2,187.3 486.8,186.1 485.5,184.9 484.2,183.6 482.9,182.5 481.6,181.2 480.3,180.1 478.9,179.2 477.6,178.4 476.3,177.5 475,177.2 473.7,177 472.4,176.7 471,176.5 469.7,176.7 468.4,176.6 467.1,176.9 465.8,176.9 464.5,177.1 463.2,177.4 461.8,177.2 460.5,177.2 459.2,177.1 457.9,176.6 456.6,176 455.3,175.1 453.9,174.2 452.6,173 451.3,171.2 450,169.6 448.7,168.1 447.4,166.4 446.1,164.6 444.7,163.4 443.4,161.9 442.1,160.9 440.8,159.4 439.5,158 438.2,156.6 436.8,155 435.5,153.7 434.2,152.4 432.9,151.2 431.6,150.1 430.3,148.8 429,148 427.6,147.6 426.3,146.9 425,146.2 423.7,145.3 422.4,144.5 421.1,143.8 419.7,142.7 418.4,141.1 417.1,139.4 415.8,137.4 414.5,135.8 413.2,133.9 411.9,131.8 410.5,129.7 409.2,127.2 407.9,125.1 406.6,123.1 405.3,121.3 404,119.3 402.6,117.6 401.3,115.9 400,114.9 398.7,113.8 397.4,112.9 397.3,112.9" fill="#2962ff" fill-opacity="0.17"/>
<polyline points="397.3,112.9 397.4,113 398.7,115.4 400,118 401.3,120.5 402.6,124.5 404,128.4 405.3,132.8 406.6,136.3 407.9,140.4 409.2,144.5 410.5,149.2 411.9,152.8 413.2,156.4 414.5,159.1 415.8,161 417.1,163.7 418.4,165.8 419.7,167.6 421.1,167.7 422.4,167.3 423.7,166.9 425,167.1 426.3,166.8 427.6,166.5 429,165.6 430.3,166 431.6,167.5 432.9,168.7 434.2,170.1 435.5,171.6 436.8,173.2 438.2,175.6 439.5,177.5 440.8,179.2 442.1,181 443.4,181.5 444.7,183.5 446.1,184.8 447.4,187.4 448.7,189.9 450,191.4 451.3,193.6 452.6,196.1 453.9,196.8 455.3,196.8 456.6,196.9 457.9,196.3 459.2,195.8 460.5,193.9 461.8,192.3 463.2,191.2 464.5,189 465.8,187.1 467.1,186 468.4,184.4 469.7,183.8 471,182.5 472.4,182.4 473.7,182.6 475,182.4 476.3,182.8 477.6,184.6 478.9,186 480.3,187.7 481.6,189.9 482.9,192.4 484.2,194.5 485.5,196.8 486.8,198.8 488.2,200.6 489.5,202.7 490.8,204.2 492.1,205.7 493.4,208.9 494.7,210.8 496,213.4 497.4,215.3 498.7,217.2 500,218.3 501.3,218.7 502.6,219.1 503.9,221.2 505.3,224.4 506.6,227.2 507.9,229.6 509.2,233.6 510.5,236.7 511.8,238.4 513.1,238.3 514.5,237.9 515.8,237.2 517.1,237.5 518.4,237.5 519.7,237.3 521,236.6 522.4,235.6 523.7,234.1 525,233 526.3,231.6 527.6,230.5 528.9,229.8 530.2,230.1 531.6,229.8 532.9,230.9 534.2,232.6 535.5,234.9 536.8,238.1 538.1,242.3 539.5,246.9 540.8,250.7 542.1,254.3 543.4,257.3 544.7,260.5 546,263.5 547.3,267.6 548.7,271.4 550,274.7 551.3,278.9 552.6,283.6 553.9,289.3 555.2,294.6 556.6,299 557.9,302.3 559.2,304.9 560.5,307.4 561.8,310.2 563.1,313.2 564.5,315 565.8,315.9 567.1,315.8 568.4,314.7 569.7,312.6 571,310.4 572.3,308.4 573.7,307 575,305.6 576.3,304.3 577.6,303.9 578.9,302.4 580.2,301.2 581.6,300.3 582.9,299.1 584.2,297.4 585.5,296.7 586.8,295.2 588.1,295.6 589.4,295.6 590.8,293.3 592.1,290.1 593.4,285 594.1,282.2" fill="none" stroke="#2962ff" stroke-opacity="0.3" stroke-width="1"/>
<polygon points="594.1,282.2 594.7,279.6 596,274.2 597.3,270.5 598.7,268.4 600,266.1 601.3,265.4 602.6,265.6 603.9,264.8 605.2,264.4 606.5,263.3 607.9,263.1 609.2,263.4 610.5,264.4 611.8,266.1 613.1,267.9 614.4,268.8 615.8,269.5 617.1,269.9 618.4,269.7 619.7,269.5 621,269.8 622.3,269.4 623.6,270 625,269.9 626.3,270.8 627.6,271.3 628.9,272.7 629.3,273.3 629.3,273.3 628.9,273.1 627.6,272.7 626.3,272.5 625,272.3 623.6,272.4 622.3,272.3 621,272.6 619.7,272.6 618.4,272.8 617.1,273 615.8,273 614.4,272.8 613.1,272.7 611.8,272.2 610.5,271.9 609.2,271.9 607.9,272.1 606.5,272.6 605.2,273.3 603.9,273.8 602.6,274.5 601.3,274.8 600,275.4 598.7,276.6 597.3,277.6 596,279.2 594.7,281.3 594.1,282.2" fill="#f23645" fill-opacity="0.15"/>
<polyline points="594.1,282.2 594.7,279.6 596,274.2 597.3,270.5 598.7,268.4 600,266.1 601.3,265.4 602.6,265.6 603.9,264.8 605.2,264.4 606.5,263.3 607.9,263.1 609.2,263.4 610.5,264.4 611.8,266.1 613.1,267.9 614.4,268.8 615.8,269.5 617.1,269.9 618.4,269.7 619.7,269.5 621,269.8 622.3,269.4 623.6,270 625,269.9 626.3,270.8 627.6,271.3 628.9,272.7 629.3,273.3" fill="none" stroke="#f23645" stroke-opacity="0.3" stroke-width="1"/>
<polygon points="629.3,273.3 630.2,275 631.5,277 632.9,277.6 634.2,279 635.5,280.3 636.8,281.3 638.1,281.9 639.4,281 640.7,280.4 642.1,279.2 643.4,279.2 644.7,281.3 646,284.4 647.3,288.2 648.6,291.3 650,294.5 651.3,297.7 652.6,299.8 653.9,302 655.2,303.4 656.5,304.9 657.9,305.5 659.2,306.1 660.5,306.6 661.8,306.9 663.1,307.5 664.4,308.6 665.7,309.3 667.1,310.8 668.4,311.8 669.7,312.4 671,313.7 672.3,314 673.6,314.3 675,314 676.3,312.6 677.6,311.2 678.9,308.7 680.2,306.4 681.5,304.6 682.8,304.1 684.2,304.4 685.5,304.6 686.8,305.8 688.1,307 689.4,308 690.7,308.2 692.1,308.8 693.4,308.3 694.7,308.4 696,308.7 697.3,309.3 698.6,309.2 699.9,309.5 701.3,310.5 702.6,311 703.9,311.9 705.2,313.5 706.5,314.6 707.8,317 709.2,319.6 710.5,322.5 711.8,324.8 713.1,327.4 714.4,330.6 715.7,333.6 717,336.4 718.4,338.9 719.7,340.5 721,340.8 722.3,339.9 723.6,339.4 724.9,338.4 726.3,338.3 727.6,336.3 728.9,335.1 730.2,333.6 731.5,330.7 732.8,329.1 734.2,327.2 735.5,324.9 736.8,322.2 737.7,320.5 737.7,320.5 736.8,321.1 735.5,322 734.2,322.7 732.8,323.2 731.5,323.5 730.2,324.2 728.9,324.3 727.6,324.3 726.3,324.5 724.9,324 723.6,323.7 722.3,323.3 721,322.9 719.7,322 718.4,320.7 717,319.1 715.7,317.5 714.4,315.8 713.1,314 711.8,312.6 710.5,311.3 709.2,309.8 707.8,308.5 706.5,307.4 705.2,306.7 703.9,305.8 702.6,305.3 701.3,304.9 699.9,304.3 698.6,304 697.3,303.8 696,303.4 694.7,303.1 693.4,302.8 692.1,302.7 690.7,302.3 689.4,302 688.1,301.4 686.8,300.7 685.5,300.1 684.2,299.9 682.8,299.6 681.5,299.6 680.2,300 678.9,300.5 677.6,301.1 676.3,301.1 675,301.2 673.6,300.8 672.3,300.1 671,299.4 669.7,298.4 668.4,297.6 667.1,296.7 665.7,295.6 664.4,294.8 663.1,293.8 661.8,293.1 660.5,292.4 659.2,291.6 657.9,290.8 656.5,290 655.2,288.9 653.9,287.8 652.6,286.5 651.3,285.2 650,283.6 648.6,282.1 647.3,280.6 646,279 644.7,277.7 643.4,276.8 642.1,276.7 640.7,277 639.4,277.1 638.1,277.2 636.8,276.8 635.5,276.3 634.2,275.7 632.9,275 631.5,274.7 630.2,274 629.3,273.3" fill="#2962ff" fill-opacity="0.17"/>
<polyline points="629.3,273.3 630.2,275 631.5,277 632.9,277.6 634.2,279 635.5,280.3 636.8,281.3 638.1,281.9 639.4,281 640.7,280.4 642.1,279.2 643.4,279.2 644.7,281.3 646,284.4 647.3,288.2 648.6,291.3 650,294.5 651.3,297.7 652.6,299.8 653.9,302 655.2,303.4 656.5,304.9 657.9,305.5 659.2,306.1 660.5,306.6 661.8,306.9 663.1,307.5 664.4,308.6 665.7,309.3 667.1,310.8 668.4,311.8 669.7,312.4 671,313.7 672.3,314 673.6,314.3 675,314 676.3,312.6 677.6,311.2 678.9,308.7 680.2,306.4 681.5,304.6 682.8,304.1 684.2,304.4 685.5,304.6 686.8,305.8 688.1,307 689.4,308 690.7,308.2 692.1,308.8 693.4,308.3 694.7,308.4 696,308.7 697.3,309.3 698.6,309.2 699.9,309.5 701.3,310.5 702.6,311 703.9,311.9 705.2,313.5 706.5,314.6 707.8,317 709.2,319.6 710.5,322.5 711.8,324.8 713.1,327.4 714.4,330.6 715.7,333.6 717,336.4 718.4,338.9 719.7,340.5 721,340.8 722.3,339.9 723.6,339.4 724.9,338.4 726.3,338.3 727.6,336.3 728.9,335.1 730.2,333.6 731.5,330.7 732.8,329.1 734.2,327.2 735.5,324.9 736.8,322.2 737.7,320.5" fill="none" stroke="#2962ff" stroke-opacity="0.3" stroke-width="1"/>
<polygon points="737.7,320.5 738.1,319.7 739.4,317.2 740.7,314.5 742,311.7 743.4,309.5 744.7,307.5 746,304.5 747.3,302.4 748.6,299.4 749.9,296.8 751.3,293.4 752.6,290.3 753.9,288.4 755.2,286.8 756.5,285 757.8,283.7 759.1,282.6 760.5,281.4 761.8,280.9 763.1,280.3 764.4,279.4 765.7,278.8 767,277.6 768.4,275.2 769.7,273.3 771,270.6 772.3,268.7 773.6,266.9 774.9,266.3 776.2,264.6 777.6,263.2 778.9,261.8 780.2,260.7 781.5,259.4 782.8,259.2 784.1,259.2 785.5,258.8 786.8,257.6 788.1,256.1 789.4,254.5 790.7,253.2 792,251.3 793.3,249.8 794.7,249.2 796,248.4 797.3,248.5 798.6,248.1 799.9,247.7 801.2,247.1 802.6,245.4 803.9,244.2 805.2,242.9 806.5,242.1 807.8,241.5 809.1,241.7 810.4,241.9 811.8,241.8 813.1,241.3 814.4,241.2 815.7,241 817,241.1 818.3,241.2 819.7,242 821,241.9 822.3,243.5 823.6,245.9 824.9,248.4 826.2,251.2 827.6,253.6 828.9,256.1 829.3,256.9 829.3,256.9 828.9,256.6 827.6,255.8 826.2,255 824.9,254.2 823.6,253.6 822.3,253.1 821,252.9 819.7,253.4 818.3,253.6 817,254 815.7,254.5 814.4,255.2 813.1,255.8 811.8,256.5 810.4,257.2 809.1,257.7 807.8,258.3 806.5,259.2 805.2,260.2 803.9,261.4 802.6,262.5 801.2,263.7 799.9,264.6 798.6,265.5 797.3,266.3 796,267 794.7,268 793.3,269 792,270.3 790.7,271.7 789.4,272.9 788.1,274.3 786.8,275.5 785.5,276.7 784.1,277.5 782.8,278.3 781.5,279.1 780.2,280.4 778.9,281.6 777.6,282.9 776.2,284.2 774.9,285.6 773.6,286.5 772.3,288 771,289.4 769.7,291.1 768.4,292.5 767,294.1 765.7,295.1 764.4,296 763.1,297 761.8,297.9 760.5,298.7 759.1,299.9 757.8,301 756.5,302.1 755.2,303.5 753.9,304.7 752.6,306 751.3,307.7 749.9,309.5 748.6,310.9 747.3,312.4 746,313.6 744.7,315 743.4,316 742,317 740.7,318.2 739.4,319.3 738.1,320.2 737.7,320.5" fill="#f23645" fill-opacity="0.15"/>
<polyline points="737.7,320.5 738.1,319.7 739.4,317.2 740.7,314.5 742,311.7 743.4,309.5 744.7,307.5 746,304.5 747.3,302.4 748.6,299.4 749.9,296.8 751.3,293.4 752.6,290.3 753.9,288.4 755.2,286.8 756.5,285 757.8,283.7 759.1,282.6 760.5,281.4 761.8,280.9 763.1,280.3 764.4,279.4 765.7,278.8 767,277.6 768.4,275.2 769.7,273.3 771,270.6 772.3,268.7 773.6,266.9 774.9,266.3 776.2,264.6 777.6,263.2 778.9,261.8 780.2,260.7 781.5,259.4 782.8,259.2 784.1,259.2 785.5,258.8 786.8,257.6 788.1,256.1 789.4,254.5 790.7,253.2 792,251.3 793.3,249.8 794.7,249.2 796,248.4 797.3,248.5 798.6,248.1 799.9,247.7 801.2,247.1 802.6,245.4 803.9,244.2 805.2,242.9 806.5,242.1 807.8,241.5 809.1,241.7 810.4,241.9 811.8,241.8 813.1,241.3 814.4,241.2 815.7,241 817,241.1 818.3,241.2 819.7,242 821,241.9 822.3,243.5 823.6,245.9 824.9,248.4 826.2,251.2 827.6,253.6 828.9,256.1 829.3,256.9" fill="none" stroke="#f23645" stroke-opacity="0.3" stroke-width="1"/>
<polygon points="829.3,256.9 830.2,258.5 831.5,259.8 832.8,260.8 834.1,261.3 835.4,260.5 836.8,259.2 838.1,258.5 839.4,258 839.8,257.6 839.8,257.6 839.4,257.8 838.1,257.9 836.8,258.2 835.4,258.5 834.1,258.8 832.8,258.5 831.5,258 830.2,257.5 829.3,256.9" fill="#2962ff" fill-opacity="0.17"/>
<polyline points="829.3,256.9 830.2,258.5 831.5,259.8 832.8,260.8 834.1,261.3 835.4,260.5 836.8,259.2 838.1,258.5 839.4,258 839.8,257.6" fill="none" stroke="#2962ff" stroke-opacity="0.3" stroke-width="1"/>
<polygon points="839.8,257.6 840.7,256.7 842,255.3 843.3,253.5 844.7,248.9 846,244.3 847.3,239.7 848.6,234.7 849.9,231.1 851.2,229.2 852.5,228 853.9,226.2 855.2,224.5 856.5,222.8 857.8,220.8 859.1,218.4 860.4,216.5 861.8,214.6 863.1,212.5 864.4,210.6 865.7,208.6 867,206.2 868.3,203.5 869.6,201.9 871,200 872.3,199.3 873.6,198.6 874.9,198 876.2,198.5 877.5,198.3 878.9,198.5 880.2,197.7 881.5,196.8 882.8,195.1 884.1,193 885.4,190.8 886.7,188.1 888.1,186.7 889.4,185.4 890.7,184.5 892,183.7 893.3,183 894.6,181.4 896,180.7 897.3,180.2 898.6,179.7 899.9,179.4 901.2,180 902.5,181 903.8,181.6 905.2,181.4 906.5,181.4 907.8,181.6 909.1,181.8 910.4,181.6 911.7,181.2 913.1,180.8 914.4,180.9 915.7,181.6 917,182.4 918.3,183.7 919.6,184.8 921,186.3 922.3,188.2 923.6,189.5 924.9,189.1 926.2,191.3 927.5,193.3 928.2,194.6 928.2,194.6 927.5,194.2 926.2,193.5 924.9,192.8 923.6,193.1 922.3,192.8 921,192.4 919.6,192.1 918.3,192 917,191.9 915.7,192 914.4,192.1 913.1,192.6 911.7,193.2 910.4,193.8 909.1,194.4 907.8,194.9 906.5,195.3 905.2,195.9 903.8,196.6 902.5,196.9 901.2,197.2 899.9,197.7 898.6,198.6 897.3,199.6 896,200.5 894.6,201.6 893.3,202.9 892,204 890.7,205.1 889.4,206.3 888.1,207.6 886.7,208.9 885.4,210.7 884.1,212.2 882.8,213.8 881.5,215.1 880.2,216.2 878.9,217.2 877.5,217.9 876.2,218.8 874.9,219.5 873.6,220.5 872.3,221.6 871,222.8 869.6,224.4 868.3,225.9 867,227.7 865.7,229.4 864.4,231 863.1,232.5 861.8,234 860.4,235.5 859.1,236.9 857.8,238.5 856.5,239.9 855.2,241.2 853.9,242.5 852.5,243.8 851.2,244.8 849.9,246.1 848.6,248 847.3,250.2 846,252.3 844.7,254.2 843.3,256 842,256.8 840.7,257.3 839.8,257.6" fill="#f23645" fill-opacity="0.15"/>
<polyline points="839.8,257.6 840.7,256.7 842,255.3 843.3,253.5 844.7,248.9 846,244.3 847.3,239.7 848.6,234.7 849.9,231.1 851.2,229.2 852.5,228 853.9,226.2 855.2,224.5 856.5,222.8 857.8,220.8 859.1,218.4 860.4,216.5 861.8,214.6 863.1,212.5 864.4,210.6 865.7,208.6 867,206.2 868.3,203.5 869.6,201.9 871,200 872.3,199.3 873.6,198.6 874.9,198 876.2,198.5 877.5,198.3 878.9,198.5 880.2,197.7 881.5,196.8 882.8,195.1 884.1,193 885.4,190.8 886.7,188.1 888.1,186.7 889.4,185.4 890.7,184.5 892,183.7 893.3,183 894.6,181.4 896,180.7 897.3,180.2 898.6,179.7 899.9,179.4 901.2,180 902.5,181 903.8,181.6 905.2,181.4 906.5,181.4 907.8,181.6 909.1,181.8 910.4,181.6 911.7,181.2 913.1,180.8 914.4,180.9 915.7,181.6 917,182.4 918.3,183.7 919.6,184.8 921,186.3 922.3,188.2 923.6,189.5 924.9,189.1 926.2,191.3 927.5,193.3 928.2,194.6" fill="none" stroke="#f23645" stroke-opacity="0.3" stroke-width="1"/>
<polygon points="928.2,194.6 928.8,196 930.2,197.9 931.5,198.9 932.8,199.8 934.1,200.5 935.4,201.3 936.7,202.3 938.1,202.8 939.4,203.4 940.7,203.3 942,203.2 943.3,202.8 944.6,203 945.9,203.5 947.3,204.3 948.6,204.5 949.9,205.4 951.2,206.2 952.5,207.6 953.8,208.8 955.2,210.5 956.5,212.2 957.8,213.8 959.1,216.2 960.4,218.6 961.7,220.7 963,222.2 964.4,223.9 965.7,225.5 967,226.9 968.3,228.1 969.6,229.2 970.9,230.9 972.3,232.6 973.6,234.7 974.9,236.6 976.2,238.3 977.5,240.1 978.8,241.4 980.1,243.1 981.5,245.3 982.8,247.5 984.1,249.7 985.4,251.7 986.7,253.6 988,255.3 989.4,256.9 990.7,259.2 992,261.5 993.3,263.8 994.6,266.2 995.9,268.3 997.3,270.6 998.6,271.2 999.9,270.6 1001.2,269 1002.5,268.8 1003.8,267.7 1005.1,266.4 1006.5,265.2 1007.8,264.9 1009.1,264.2 1010.4,262.7 1011.7,261.2 1013,259.1 1014.4,256.9 1015.7,254.4 1017,252.6 1018.3,250.8 1019.6,249.1 1020.9,247.2 1021.3,246.9 1021.3,246.9 1020.9,247 1019.6,247.6 1018.3,248.2 1017,248.7 1015.7,249.2 1014.4,249.8 1013,250.3 1011.7,250.6 1010.4,250.7 1009.1,250.8 1007.8,250.5 1006.5,250 1005.1,249.8 1003.8,249.5 1002.5,249.2 1001.2,248.5 999.9,248.2 998.6,247.5 997.3,246.3 995.9,244.5 994.6,242.8 993.3,241 992,239.3 990.7,237.6 989.4,235.9 988,234.5 986.7,233 985.4,231.5 984.1,230 982.8,228.5 981.5,226.9 980.1,225.4 978.8,224.1 977.5,222.9 976.2,221.6 974.9,220.3 973.6,219 972.3,217.6 970.9,216.4 969.6,215.3 968.3,214.3 967,213.3 965.7,212.3 964.4,211.2 963,210.1 961.7,209.1 960.4,207.9 959.1,206.6 957.8,205.4 956.5,204.5 955.2,203.6 953.8,202.7 952.5,202 951.2,201.3 949.9,200.9 948.6,200.4 947.3,200.1 945.9,199.6 944.6,199.3 943.3,199.1 942,199.1 940.7,199 939.4,198.8 938.1,198.4 936.7,198.1 935.4,197.6 934.1,197.1 932.8,196.8 931.5,196.3 930.2,195.9 928.8,195.1 928.2,194.6" fill="#2962ff" fill-opacity="0.17"/>
<polyline points="928.2,194.6 928.8,196 930.2,197.9 931.5,198.9 932.8,199.8 934.1,200.5 935.4,201.3 936.7,202.3 938.1,202.8 939.4,203.4 940.7,203.3 942,203.2 943.3,202.8 944.6,203 945.9,203.5 947.3,204.3 948.6,204.5 949.9,205.4 951.2,206.2 952.5,207.6 953.8,208.8 955.2,210.5 956.5,212.2 957.8,213.8 959.1,216.2 960.4,218.6 961.7,220.7 963,222.2 964.4,223.9 965.7,225.5 967,226.9 968.3,228.1 969.6,229.2 970.9,230.9 972.3,232.6 973.6,234.7 974.9,236.6 976.2,238.3 977.5,240.1 978.8,241.4 980.1,243.1 981.5,245.3 982.8,247.5 984.1,249.7 985.4,251.7 986.7,253.6 988,255.3 989.4,256.9 990.7,259.2 992,261.5 993.3,263.8 994.6,266.2 995.9,268.3 997.3,270.6 998.6,271.2 999.9,270.6 1001.2,269 1002.5,268.8 1003.8,267.7 1005.1,266.4 1006.5,265.2 1007.8,264.9 1009.1,264.2 1010.4,262.7 1011.7,261.2 1013,259.1 1014.4,256.9 1015.7,254.4 1017,252.6 1018.3,250.8 1019.6,249.1 1020.9,247.2 1021.3,246.9" fill="none" stroke="#2962ff" stroke-opacity="0.3" stroke-width="1"/>
<polygon points="1021.3,246.9 1022.2,245.9 1023.6,244.8 1024.9,243.1 1026.2,241.9 1027.5,240.6 1028.8,239 1030.1,237.4 1031.5,236.1 1032.8,234.5 1034.1,233 1035.4,232 1036.7,230.6 1038,228.4 1039.3,226.8 1040.7,225.2 1042,224.2 1043.3,223.1 1044.6,222.2 1045.9,221.1 1047.2,219.6 1048.6,218.5 1049.9,217.7 1051.2,217.9 1052.5,218.5 1053.8,219.2 1055.1,221.2 1056.4,222.4 1057.8,223.9 1059.1,225.1 1060.4,226.2 1061.7,228 1063,229.5 1064.3,232.1 1064.4,232.2 1064.4,232.2 1064.3,232.2 1063,231.3 1061.7,230.8 1060.4,230.3 1059.1,230.1 1057.8,229.9 1056.4,229.6 1055.1,229.5 1053.8,229.1 1052.5,229.3 1051.2,229.5 1049.9,229.9 1048.6,230.7 1047.2,231.6 1045.9,232.6 1044.6,233.4 1043.3,234.2 1042,235 1040.7,235.8 1039.3,236.8 1038,237.7 1036.7,238.9 1035.4,239.7 1034.1,240.4 1032.8,241.2 1031.5,242 1030.1,242.7 1028.8,243.5 1027.5,244.2 1026.2,244.8 1024.9,245.4 1023.6,246.1 1022.2,246.5 1021.3,246.9" fill="#f23645" fill-opacity="0.15"/>
<polyline points="1021.3,246.9 1022.2,245.9 1023.6,244.8 1024.9,243.1 1026.2,241.9 1027.5,240.6 1028.8,239 1030.1,237.4 1031.5,236.1 1032.8,234.5 1034.1,233 1035.4,232 1036.7,230.6 1038,228.4 1039.3,226.8 1040.7,225.2 1042,224.2 1043.3,223.1 1044.6,222.2 1045.9,221.1 1047.2,219.6 1048.6,218.5 1049.9,217.7 1051.2,217.9 1052.5,218.5 1053.8,219.2 1055.1,221.2 1056.4,222.4 1057.8,223.9 1059.1,225.1 1060.4,226.2 1061.7,228 1063,229.5 1064.3,232.1 1064.4,232.2" fill="none" stroke="#f23645" stroke-opacity="0.3" stroke-width="1"/>
<polygon points="1064.4,232.2 1065.7,234.5 1067,236.9 1068.3,238 1069.6,238.7 1070.9,240 1072.2,241.2 1073.5,242.4 1074.9,243.4 1076.2,244.6 1077.5,246 1078.8,247.9 1080.1,249.9 1081.4,252.3 1082.8,254.1 1084.1,255.5 1085.4,256.3 1086.7,255.7 1088,254 1089.3,252.4 1090.7,251.7 1092,250.3 1093.3,250.3 1094.6,250.4 1095.9,250.7 1097.2,251.9 1098.5,253.2 1099.9,254.4 1101.2,255.6 1102.5,256.8 1103.8,256.9 1105.1,256.2 1106.4,254.1 1107.8,254.8 1109.1,256.7 1110.4,259.5 1111.7,262.3 1113,264.8 1114.3,267.1 1115.6,269.7 1117,272.2 1118.3,275 1119.6,277.4 1120.9,279.6 1122.2,282.2 1123.5,283.9 1124.9,285.4 1126.2,287.4 1127.5,289.8 1128.8,291.2 1130.1,293.1 1131.4,293.9 1132.7,294.4 1134.1,294.6 1135.4,295.6 1136.7,296.5 1138,297.2 1139.3,297.9 1140.6,298.7 1142,299.8 1143.3,301.2 1144.6,303.7 1145.9,306.2 1147.2,308.2 1148.5,309.9 1149.8,311.8 1151.2,314.7 1152.5,316.7 1153.8,318.1 1155.1,318.9 1156.4,319.6 1157.7,319.2 1159.1,318.5 1160.4,317.5 1161.7,316.8 1163,316 1164.3,314.9 1165.6,313.3 1166.9,312.2 1168.3,310.8 1169.6,310.7 1170.9,311.3 1172.2,312.5 1173.5,313.6 1174.8,315.3 1176.2,316.5 1177.5,317.9 1178.8,319.6 1180.1,320.9 1181.4,322.4 1182.7,324.2 1184.1,325.2 1185.4,326.8 1186.7,328.3 1188,328.5 1189.3,327.9 1190.6,327.1 1191.9,325.7 1193.3,324.3 1194.6,323.3 1195.9,321.7 1197.2,320.7 1198.5,319.7 1199.8,317.5 1201.2,315.7 1202.5,315 1203.8,314.5 1205.1,314.4 1206.4,314.4 1207.7,315.1 1209,316.3 1210.4,317.2 1211.7,317.9 1213,319.1 1214.3,319.6 1215.6,319.8 1216.9,319.8 1218.3,319.3 1219.6,319.4 1220.9,319.5 1222.2,319 1223.5,318.3 1224.8,317.7 1226.1,317 1227.5,315.8 1228.8,315.1 1229.2,315 1229.2,315 1228.8,315 1227.5,315.3 1226.1,315.7 1224.8,315.9 1223.5,316 1222.2,316.2 1220.9,316.2 1219.6,316.1 1218.3,315.9 1216.9,315.9 1215.6,315.8 1214.3,315.5 1213,315.2 1211.7,314.6 1210.4,314.2 1209,313.8 1207.7,313.3 1206.4,313 1205.1,312.9 1203.8,312.8 1202.5,313 1201.2,313.1 1199.8,313.7 1198.5,314.3 1197.2,314.4 1195.9,314.5 1194.6,314.7 1193.3,314.7 1191.9,314.8 1190.6,314.9 1189.3,314.6 1188,314.3 1186.7,313.6 1185.4,312.5 1184.1,311.4 1182.7,310.5 1181.4,309.3 1180.1,308.2 1178.8,307.3 1177.5,306.2 1176.2,305.2 1174.8,304.3 1173.5,303.3 1172.2,302.5 1170.9,301.7 1169.6,301.1 1168.3,300.7 1166.9,300.8 1165.6,300.7 1164.3,300.8 1163,300.6 1161.7,300.2 1160.4,299.8 1159.1,299.4 1157.7,298.9 1156.4,298.2 1155.1,297.1 1153.8,295.9 1152.5,294.5 1151.2,292.9 1149.8,291 1148.5,289.5 1147.2,288.1 1145.9,286.6 1144.6,284.9 1143.3,283.3 1142,282 1140.6,280.9 1139.3,279.9 1138,278.9 1136.7,278 1135.4,276.9 1134.1,275.8 1132.7,274.9 1131.4,274 1130.1,272.9 1128.8,271.4 1127.5,270.1 1126.2,268.4 1124.9,267 1123.5,265.7 1122.2,264.4 1120.9,262.7 1119.6,261.3 1118.3,259.8 1117,258.2 1115.6,256.8 1114.3,255.4 1113,254.1 1111.7,252.8 1110.4,251.4 1109.1,250.1 1107.8,249.2 1106.4,248.7 1105.1,249.2 1103.8,249.2 1102.5,248.8 1101.2,248.1 1099.9,247.4 1098.5,246.7 1097.2,245.9 1095.9,245.3 1094.6,245 1093.3,244.7 1092,244.5 1090.7,244.7 1089.3,244.7 1088,244.9 1086.7,245.1 1085.4,244.9 1084.1,244.2 1082.8,243.2 1081.4,242.2 1080.1,240.9 1078.8,239.9 1077.5,238.9 1076.2,238.1 1074.9,237.4 1073.5,236.8 1072.2,236.2 1070.9,235.6 1069.6,234.9 1068.3,234.5 1067,234 1065.7,233 1064.4,232.2" fill="#2962ff" fill-opacity="0.17"/>
<polyline points="1064.4,232.2 1065.7,234.5 1067,236.9 1068.3,238 1069.6,238.7 1070.9,240 1072.2,241.2 1073.5,242.4 1074.9,243.4 1076.2,244.6 1077.5,246 1078.8,247.9 1080.1,249.9 1081.4,252.3 1082.8,254.1 1084.1,255.5 1085.4,256.3 1086.7,255.7 1088,254 1089.3,252.4 1090.7,251.7 1092,250.3 1093.3,250.3 1094.6,250.4 1095.9,250.7 1097.2,251.9 1098.5,253.2 1099.9,254.4 1101.2,255.6 1102.5,256.8 1103.8,256.9 1105.1,256.2 1106.4,254.1 1107.8,254.8 1109.1,256.7 1110.4,259.5 1111.7,262.3 1113,264.8 1114.3,267.1 1115.6,269.7 1117,272.2 1118.3,275 1119.6,277.4 1120.9,279.6 1122.2,282.2 1123.5,283.9 1124.9,285.4 1126.2,287.4 1127.5,289.8 1128.8,291.2 1130.1,293.1 1131.4,293.9 1132.7,294.4 1134.1,294.6 1135.4,295.6 1136.7,296.5 1138,297.2 1139.3,297.9 1140.6,298.7 1142,299.8 1143.3,301.2 1144.6,303.7 1145.9,306.2 1147.2,308.2 1148.5,309.9 1149.8,311.8 1151.2,314.7 1152.5,316.7 1153.8,318.1 1155.1,318.9 1156.4,319.6 1157.7,319.2 1159.1,318.5 1160.4,317.5 1161.7,316.8 1163,316 1164.3,314.9 1165.6,313.3 1166.9,312.2 1168.3,310.8 1169.6,310.7 1170.9,311.3 1172.2,312.5 1173.5,313.6 1174.8,315.3 1176.2,316.5 1177.5,317.9 1178.8,319.6 1180.1,320.9 1181.4,322.4 1182.7,324.2 1184.1,325.2 1185.4,326.8 1186.7,328.3 1188,328.5 1189.3,327.9 1190.6,327.1 1191.9,325.7 1193.3,324.3 1194.6,323.3 1195.9,321.7 1197.2,320.7 1198.5,319.7 1199.8,317.5 1201.2,315.7 1202.5,315 1203.8,314.5 1205.1,314.4 1206.4,314.4 1207.7,315.1 1209,316.3 1210.4,317.2 1211.7,317.9 1213,319.1 1214.3,319.6 1215.6,319.8 1216.9,319.8 1218.3,319.3 1219.6,319.4 1220.9,319.5 1222.2,319 1223.5,318.3 1224.8,317.7 1226.1,317 1227.5,315.8 1228.8,315.1 1229.2,315" fill="none" stroke="#2962ff" stroke-opacity="0.3" stroke-width="1"/>
<polygon points="1229.2,315 1230.1,314.9 1231.4,314.8 1231.9,315 1231.9,315 1231.4,314.9 1230.1,315 1229.2,315" fill="#f23645" fill-opacity="0.15"/>
<polyline points="1229.2,315 1230.1,314.9 1231.4,314.8 1231.9,315" fill="none" stroke="#f23645" stroke-opacity="0.3" stroke-width="1"/>
<polygon points="1231.9,315 1232.7,315.3 1234,316.4 1235.4,317.1 1236.7,317.4 1238,318 1239.3,319.5 1240.6,321.2 1241.9,322.6 1243.2,325.6 1244.6,328.9 1245.9,331.2 1247.2,334.8 1248.5,338.3 1249.8,341.5 1251.1,344 1252.5,346.8 1253.8,348.4 1255.1,350.6 1256.4,353.2 1257.7,354.3 1259,355.8 1260.3,356.8 1261.7,358.4 1263,359.6 1264.3,360.8 1265.6,361.6 1266.9,362.6 1268.2,363.1 1269.6,363.4 1270.9,364.7 1272.2,367.2 1273.5,370 1274.8,372.4 1276.1,376.2 1277.5,379.3 1278.8,381.9 1280.1,384.2 1281.4,387.1 1282.7,388.9 1284,391 1285.3,393.4 1286.7,394.5 1288,396.3 1289.3,397.7 1290.6,399.4 1291.9,401.6 1293.2,403.2 1294.6,403.6 1295.9,403.3 1297.2,403.5 1298.5,404.2 1299.8,404.8 1301.1,404.5 1302.4,404.3 1303.8,404.9 1305.1,404.9 1306.4,405 1307.7,404.7 1309,404.4 1310.3,403.6 1311.7,403.4 1313,403 1314.3,402.1 1315.6,401.4 1316.9,400.5 1318.2,400.4 1319.5,400.1 1320.9,399.9 1322.2,399.7 1323.5,399 1324.8,398.1 1326.1,397.1 1327.4,396.2 1328.8,395.6 1330.1,395.3 1331.4,396 1332.7,396.6 1334,397.9 1335.3,399.5 1336.6,402.3 1338,404.9 1339.3,408.4 1340.6,412.5 1341.9,415.5 1343.2,418.6 1344.5,422.5 1345.9,425.7 1347.2,427.9 1348.5,429.1 1349.8,429.2 1351.1,426.1 1352.4,422 1353.8,419.4 1355.1,415.5 1356.4,412 1357.7,406.6 1358.2,403.6 1358.2,403.6 1357.7,404.7 1356.4,406.5 1355.1,407.5 1353.8,408.5 1352.4,409 1351.1,409.9 1349.8,410.3 1348.5,409.5 1347.2,408.3 1345.9,406.7 1344.5,404.8 1343.2,402.8 1341.9,401 1340.6,399.4 1339.3,397.4 1338,395.8 1336.6,394.5 1335.3,393.2 1334,392.4 1332.7,391.7 1331.4,391.3 1330.1,390.9 1328.8,390.8 1327.4,390.8 1326.1,390.9 1324.8,391 1323.5,391 1322.2,390.9 1320.9,390.6 1319.5,390.3 1318.2,390.1 1316.9,389.7 1315.6,389.5 1314.3,389.3 1313,389 1311.7,388.6 1310.3,388.1 1309,387.8 1307.7,387.2 1306.4,386.6 1305.1,385.8 1303.8,385 1302.4,384 1301.1,383.2 1299.8,382.4 1298.5,381.3 1297.2,380.2 1295.9,379.1 1294.6,378.3 1293.2,377.1 1291.9,375.4 1290.6,373.6 1289.3,372 1288,370.4 1286.7,368.8 1285.3,367.3 1284,365.4 1282.7,363.7 1281.4,362 1280.1,360 1278.8,358.2 1277.5,356.3 1276.1,354.3 1274.8,352.1 1273.5,350.4 1272.2,348.7 1270.9,347.1 1269.6,345.9 1268.2,345.1 1266.9,344.2 1265.6,343 1264.3,342 1263,340.8 1261.7,339.6 1260.3,338.3 1259,337.2 1257.7,335.9 1256.4,334.8 1255.1,333.2 1253.8,331.7 1252.5,330.5 1251.1,328.8 1249.8,327.3 1248.5,325.6 1247.2,323.9 1245.9,322.2 1244.6,321 1243.2,319.6 1241.9,318.3 1240.6,317.6 1239.3,316.9 1238,316.3 1236.7,316 1235.4,315.8 1234,315.5 1232.7,315.1 1231.9,315" fill="#2962ff" fill-opacity="0.17"/>
<polyline points="1231.9,315 1232.7,315.3 1234,316.4 1235.4,317.1 1236.7,317.4 1238,318 1239.3,319.5 1240.6,321.2 1241.9,322.6 1243.2,325.6 1244.6,328.9 1245.9,331.2 1247.2,334.8 1248.5,338.3 1249.8,341.5 1251.1,344 1252.5,346.8 1253.8,348.4 1255.1,350.6 1256.4,353.2 1257.7,354.3 1259,355.8 1260.3,356.8 1261.7,358.4 1263,359.6 1264.3,360.8 1265.6,361.6 1266.9,362.6 1268.2,363.1 1269.6,363.4 1270.9,364.7 1272.2,367.2 1273.5,370 1274.8,372.4 1276.1,376.2 1277.5,379.3 1278.8,381.9 1280.1,384.2 1281.4,387.1 1282.7,388.9 1284,391 1285.3,393.4 1286.7,394.5 1288,396.3 1289.3,397.7 1290.6,399.4 1291.9,401.6 1293.2,403.2 1294.6,403.6 1295.9,403.3 1297.2,403.5 1298.5,404.2 1299.8,404.8 1301.1,404.5 1302.4,404.3 1303.8,404.9 1305.1,404.9 1306.4,405 1307.7,404.7 1309,404.4 1310.3,403.6 1311.7,403.4 1313,403 1314.3,402.1 1315.6,401.4 1316.9,400.5 1318.2,400.4 1319.5,400.1 1320.9,399.9 1322.2,399.7 1323.5,399 1324.8,398.1 1326.1,397.1 1327.4,396.2 1328.8,395.6 1330.1,395.3 1331.4,396 1332.7,396.6 1334,397.9 1335.3,399.5 1336.6,402.3 1338,404.9 1339.3,408.4 1340.6,412.5 1341.9,415.5 1343.2,418.6 1344.5,422.5 1345.9,425.7 1347.2,427.9 1348.5,429.1 1349.8,429.2 1351.1,426.1 1352.4,422 1353.8,419.4 1355.1,415.5 1356.4,412 1357.7,406.6 1358.2,403.6" fill="none" stroke="#2962ff" stroke-opacity="0.3" stroke-width="1"/>
<polygon points="1358.2,403.6 1359,399.4 1360.3,392 1361.6,386.2 1363,379.4 1364.3,372.1 1365.6,367.3 1366.9,362.3 1368.2,358.1 1369.5,355 1370.9,354.7 1372.2,354.4 1373.5,355.7 1374.8,357.1 1376.1,356.9 1377.4,356.1 1378.7,353.6 1380.1,351.6 1381.4,349.8 1382.7,348.7 1384,348.6 1385.3,348.3 1386.6,345.2 1388,342.1 1389.3,341.6 1390.6,341.8 1391.9,343.1 1393.2,344.2 1394.5,345.3 1395.8,345.4 1397.2,346 1398.5,345.9 1399.8,345.7 1401.1,346.1 1402.4,345.6 1403.7,346.4 1405.1,348.4 1406.4,350.6 1407.7,352.8 1409,353.7 1410.3,354.7 1411.6,355.5 1412.9,356.8 1414.3,358.2 1415.6,359.3 1416.9,360.7 1417.5,361.2 1417.5,361.2 1416.9,361.1 1415.6,360.6 1414.3,360.3 1412.9,359.8 1411.6,359.5 1410.3,359.4 1409,359.2 1407.7,359.2 1406.4,358.7 1405.1,358.2 1403.7,357.9 1402.4,358.1 1401.1,358.8 1399.8,359.2 1398.5,359.8 1397.2,360.4 1395.8,360.8 1394.5,361.4 1393.2,361.7 1391.9,362 1390.6,362.3 1389.3,363.1 1388,364.1 1386.6,366.1 1385.3,368 1384,368.9 1382.7,369.8 1381.4,371 1380.1,372.5 1378.7,374.1 1377.4,375.8 1376.1,376.9 1374.8,377.7 1373.5,378.1 1372.2,378.5 1370.9,379.6 1369.5,380.8 1368.2,382.9 1366.9,385.4 1365.6,388.1 1364.3,390.6 1363,393.8 1361.6,396.8 1360.3,399.2 1359,402.1 1358.2,403.6" fill="#f23645" fill-opacity="0.15"/>
<polyline points="1358.2,403.6 1359,399.4 1360.3,392 1361.6,386.2 1363,379.4 1364.3,372.1 1365.6,367.3 1366.9,362.3 1368.2,358.1 1369.5,355 1370.9,354.7 1372.2,354.4 1373.5,355.7 1374.8,357.1 1376.1,356.9 1377.4,356.1 1378.7,353.6 1380.1,351.6 1381.4,349.8 1382.7,348.7 1384,348.6 1385.3,348.3 1386.6,345.2 1388,342.1 1389.3,341.6 1390.6,341.8 1391.9,343.1 1393.2,344.2 1394.5,345.3 1395.8,345.4 1397.2,346 1398.5,345.9 1399.8,345.7 1401.1,346.1 1402.4,345.6 1403.7,346.4 1405.1,348.4 1406.4,350.6 1407.7,352.8 1409,353.7 1410.3,354.7 1411.6,355.5 1412.9,356.8 1414.3,358.2 1415.6,359.3 1416.9,360.7 1417.5,361.2" fill="none" stroke="#f23645" stroke-opacity="0.3" stroke-width="1"/>
<polygon points="1417.5,361.2 1418.2,361.8 1419.5,363.1 1420.8,364.8 1422.2,364.9 1423.5,364 1424.8,361.9 1425,361.7 1425,361.7 1424.8,361.8 1423.5,362.5 1422.2,362.7 1420.8,362.6 1419.5,361.9 1418.2,361.5 1417.5,361.2" fill="#2962ff" fill-opacity="0.17"/>
<polyline points="1417.5,361.2 1418.2,361.8 1419.5,363.1 1420.8,364.8 1422.2,364.9 1423.5,364 1424.8,361.9 1425,361.7" fill="none" stroke="#2962ff" stroke-opacity="0.3" stroke-width="1"/>
<polygon points="1425,361.7 1426.1,360.7 1427.4,360.7 1428.7,360.9 1429.4,361.6 1429.4,361.6 1428.7,361.3 1427.4,361.3 1426.1,361.3 1425,361.7" fill="#f23645" fill-opacity="0.15"/>
<polyline points="1425,361.7 1426.1,360.7 1427.4,360.7 1428.7,360.9 1429.4,361.6" fill="none" stroke="#f23645" stroke-opacity="0.3" stroke-width="1"/>
<polygon points="1429.4,361.6 1430,362.2 1431.4,365.9 1432.7,370.3 1434,373.2 1435.3,375.4 1436.6,377.6 1437.9,380.4 1439.3,381.9 1440.6,383.8 1441.9,385.8 1443.2,387.5 1444.5,389 1445.8,389.7 1447.2,391.7 1448.5,393.4 1449.8,394 1451.1,394.8 1452.4,396.4 1453.7,398.2 1455,400.2 1456.4,402.3 1457.7,405 1459,407.2 1460.3,410.3 1461.6,413.3 1462.9,416.4 1464.3,420.3 1465.6,424.8 1466.9,428.6 1468.2,432.6 1469.5,435.9 1470.8,439.9 1472.1,443 1473.5,445 1474.8,446.2 1476.1,447.7 1477.4,447.7 1478.7,448.5 1480,448.8 1481.4,449.3 1482.7,448.7 1484,449.1 1485.3,448.6 1486.6,448.4 1487.9,447.4 1489.2,447.4 1490.6,447.4 1491.9,447.4 1493.2,446.5 1494.5,445.9 1495.8,445.9 1497.1,446 1498.5,446 1499.8,444.9 1501.1,443.6 1502.4,443 1503.7,442.5 1505,442.5 1506.3,442.7 1507.7,442.5 1509,442.5 1510.1,429 1510.1,429 1509,433.7 1507.7,433.3 1506.3,433 1505,432.6 1503.7,432.2 1502.4,431.9 1501.1,431.7 1499.8,431.7 1498.5,431.5 1497.1,430.9 1495.8,430.2 1494.5,429.6 1493.2,429.2 1491.9,428.8 1490.6,428 1489.2,427.2 1487.9,426.4 1486.6,425.9 1485.3,425 1484,424.2 1482.7,423.1 1481.4,422.2 1480,421 1478.7,419.7 1477.4,418.3 1476.1,417.1 1474.8,415.3 1473.5,413.6 1472.1,411.6 1470.8,409.3 1469.5,406.7 1468.2,404.3 1466.9,401.8 1465.6,399.4 1464.3,396.7 1462.9,394.4 1461.6,392.5 1460.3,390.6 1459,388.7 1457.7,387.2 1456.4,385.5 1455,384.1 1453.7,382.7 1452.4,381.5 1451.1,380.3 1449.8,379.5 1448.5,378.7 1447.2,377.5 1445.8,376.2 1444.5,375.4 1443.2,374.3 1441.9,373.2 1440.6,372 1439.3,370.9 1437.9,369.9 1436.6,368.5 1435.3,367.4 1434,366.2 1432.7,364.9 1431.4,363.2 1430,361.8 1429.4,361.6" fill="#2962ff" fill-opacity="0.17"/>
<polyline points="1429.4,361.6 1430,362.2 1431.4,365.9 1432.7,370.3 1434,373.2 1435.3,375.4 1436.6,377.6 1437.9,380.4 1439.3,381.9 1440.6,383.8 1441.9,385.8 1443.2,387.5 1444.5,389 1445.8,389.7 1447.2,391.7 1448.5,393.4 1449.8,394 1451.1,394.8 1452.4,396.4 1453.7,398.2 1455,400.2 1456.4,402.3 1457.7,405 1459,407.2 1460.3,410.3 1461.6,413.3 1462.9,416.4 1464.3,420.3 1465.6,424.8 1466.9,428.6 1468.2,432.6 1469.5,435.9 1470.8,439.9 1472.1,443 1473.5,445 1474.8,446.2 1476.1,447.7 1477.4,447.7 1478.7,448.5 1480,448.8 1481.4,449.3 1482.7,448.7 1484,449.1 1485.3,448.6 1486.6,448.4 1487.9,447.4 1489.2,447.4 1490.6,447.4 1491.9,447.4 1493.2,446.5 1494.5,445.9 1495.8,445.9 1497.1,446 1498.5,446 1499.8,444.9 1501.1,443.6 1502.4,443 1503.7,442.5 1505,442.5 1506.3,442.7 1507.7,442.5 1509,442.5 1510.1,429" fill="none" stroke="#2962ff" stroke-opacity="0.3" stroke-width="1"/>
<polygon points="1510.1,429 1510.3,426.6 1511.6,412.2 1512.9,399.3 1514.2,385.6 1515.6,371.5 1516.9,360.5 1518.2,351.6 1519.5,342 1520.8,334.3 1522.1,325.8 1523.4,317.5 1524.8,309.4 1526.1,300.4 1527.4,290 1528.7,281.2 1530,273.7 1531.3,268.6 1532.7,263.9 1534,259.6 1535.3,257.7 1536.6,255.8 1537.9,252.1 1539.2,250.7 1540.6,248.3 1541.9,247 1543.2,246 1544.5,246.3 1545.8,247.5 1547.1,247.4 1548.4,247.4 1549.8,248.6 1551.1,249.2 1552.4,249.1 1553.7,249.8 1555,251.2 1556.3,252.2 1557.7,252.9 1559,252.9 1560.3,251.2 1561.6,247.7 1562.9,243.7 1564.2,240.5 1565.5,236.2 1566.9,233.6 1568.2,230 1569.5,227.2 1570.8,224.5 1572.1,224.2 1573.4,223.3 1574.8,223.5 1576.1,224.3 1577.4,226.2 1578.7,227.9 1580,228.7 1581.3,230.3 1582.6,231.3 1584,231.5 1585.3,231.7 1586.6,232 1587.9,232.9 1589.2,234.1 1590.5,235.1 1591.9,236.8 1593.2,238.5 1594.5,240.8 1595.8,242.4 1597.1,243.8 1598.4,245.9 1599.7,247.3 1601.1,249.3 1602.4,251.2 1603.7,252.8 1605,254.5 1605.8,255.3 1605.8,255.3 1605,255 1603.7,254.5 1602.4,254 1601.1,253.4 1599.7,252.9 1598.4,252.6 1597.1,252.2 1595.8,252.1 1594.5,251.9 1593.2,251.5 1591.9,251.5 1590.5,251.5 1589.2,251.8 1587.9,252.1 1586.6,252.6 1585.3,253.3 1584,254.1 1582.6,255 1581.3,255.6 1580,256.1 1578.7,257 1577.4,257.6 1576.1,258.2 1574.8,259.3 1573.4,260.7 1572.1,262.5 1570.8,264.2 1569.5,266.7 1568.2,269.3 1566.9,272.2 1565.5,274.7 1564.2,277.7 1562.9,280.3 1561.6,283.2 1560.3,285.9 1559,287.9 1557.7,289.3 1556.3,290.6 1555,291.8 1553.7,293 1552.4,294.5 1551.1,296.4 1549.8,298.1 1548.4,299.7 1547.1,301.8 1545.8,304 1544.5,306 1543.2,308.3 1541.9,311.2 1540.6,314.3 1539.2,317.8 1537.9,321 1536.6,325.1 1535.3,328.6 1534,332.1 1532.7,336.6 1531.3,341.2 1530,345.9 1528.7,351.5 1527.4,357.4 1526.1,363.8 1524.8,369.5 1523.4,374.7 1522.1,379.9 1520.8,385.1 1519.5,389.8 1518.2,395.1 1516.9,400 1515.6,405.4 1514.2,411.7 1512.9,417.5 1511.6,422.7 1510.3,428.1 1510.1,429" fill="#f23645" fill-opacity="0.15"/>
<polyline points="1510.1,429 1510.3,426.6 1511.6,412.2 1512.9,399.3 1514.2,385.6 1515.6,371.5 1516.9,360.5 1518.2,351.6 1519.5,342 1520.8,334.3 1522.1,325.8 1523.4,317.5 1524.8,309.4 1526.1,300.4 1527.4,290 1528.7,281.2 1530,273.7 1531.3,268.6 1532.7,263.9 1534,259.6 1535.3,257.7 1536.6,255.8 1537.9,252.1 1539.2,250.7 1540.6,248.3 1541.9,247 1543.2,246 1544.5,246.3 1545.8,247.5 1547.1,247.4 1548.4,247.4 1549.8,248.6 1551.1,249.2 1552.4,249.1 1553.7,249.8 1555,251.2 1556.3,252.2 1557.7,252.9 1559,252.9 1560.3,251.2 1561.6,247.7 1562.9,243.7 1564.2,240.5 1565.5,236.2 1566.9,233.6 1568.2,230 1569.5,227.2 1570.8,224.5 1572.1,224.2 1573.4,223.3 1574.8,223.5 1576.1,224.3 1577.4,226.2 1578.7,227.9 1580,228.7 1581.3,230.3 1582.6,231.3 1584,231.5 1585.3,231.7 1586.6,232 1587.9,232.9 1589.2,234.1 1590.5,235.1 1591.9,236.8 1593.2,238.5 1594.5,240.8 1595.8,242.4 1597.1,243.8 1598.4,245.9 1599.7,247.3 1601.1,249.3 1602.4,251.2 1603.7,252.8 1605,254.5 1605.8,255.3" fill="none" stroke="#f23645" stroke-opacity="0.3" stroke-width="1"/>
<polygon points="1605.8,255.3 1606.3,256 1607.6,257.3 1609,257.9 1610.3,259 1611.6,259.8 1612.9,259 1614.2,258.8 1615.5,257.9 1616.9,256.9 1617.3,256.1 1617.3,256.1 1616.9,256.4 1615.5,256.7 1614.2,257 1612.9,257 1611.6,257.2 1610.3,256.8 1609,256.4 1607.6,256.1 1606.3,255.6 1605.8,255.3" fill="#2962ff" fill-opacity="0.17"/>
<polyline points="1605.8,255.3 1606.3,256 1607.6,257.3 1609,257.9 1610.3,259 1611.6,259.8 1612.9,259 1614.2,258.8 1615.5,257.9 1616.9,256.9 1617.3,256.1" fill="none" stroke="#2962ff" stroke-opacity="0.3" stroke-width="1"/>
<polygon points="1617.3,256.1 1618.2,254.8 1619.5,252.8 1620.8,250.7 1622.1,248.9 1623.4,248.4 1624.7,248 1626.1,248.1 1627.4,246.8 1628.7,245.5 1630,243.4 1631.3,239.8 1632.6,237 1634,235.4 1635.3,233.5 1636.6,231.2 1637.9,229 1639.2,225.4 1640.5,219.8 1641.8,212 1643.2,202.5 1643.2,229.8 1641.8,234.2 1640.5,237.8 1639.2,240.5 1637.9,242.4 1636.6,243.7 1635.3,244.9 1634,246.1 1632.6,247.1 1631.3,248.5 1630,250.1 1628.7,251.1 1627.4,251.7 1626.1,252.4 1624.7,252.5 1623.4,252.9 1622.1,253.2 1620.8,254 1619.5,254.9 1618.2,255.7 1617.3,256.1" fill="#f23645" fill-opacity="0.15"/>
<polyline points="1617.3,256.1 1618.2,254.8 1619.5,252.8 1620.8,250.7 1622.1,248.9 1623.4,248.4 1624.7,248 1626.1,248.1 1627.4,246.8 1628.7,245.5 1630,243.4 1631.3,239.8 1632.6,237 1634,235.4 1635.3,233.5 1636.6,231.2 1637.9,229 1639.2,225.4 1640.5,219.8 1641.8,212 1643.2,202.5" fill="none" stroke="#f23645" stroke-opacity="0.3" stroke-width="1"/>
<polyline points="381.9,158.4 383.9,157.7 385.9,157 387.9,156.3 389.9,155.7 391.9,155.1 393.9,154.6 395.9,154.3 397.9,154.1 399.9,153.9 401.9,153.9" fill="none" stroke="#72c276" stroke-width="1"/>
<polyline points="401.9,153.9 403.9,154 405.9,154.2 407.9,154.4 409.9,154.6 411.9,154.8 413.9,155 415.9,155.3 417.9,155.5 419.9,155.8 421.9,156 423.9,156.3 425.9,156.6 427.9,156.9 429.9,157.2 431.9,157.5 433.9,157.9 435.9,158.2 437.9,158.5 439.9,158.8 441.9,159.2 443.9,159.6 445.9,160.1 447.9,160.5 449.9,161 451.9,161.4 453.9,161.9 455.9,162.3 457.9,162.7 459.9,163.1 461.9,163.4 463.9,163.7 465.9,164 467.9,164.2 469.9,164.4 471.9,164.7 473.9,164.9 475.9,165.2 477.9,165.6 479.9,166.1 481.9,166.7 483.9,167.4 485.9,168.1 487.9,169 489.9,169.8 491.9,170.7 493.9,171.5 495.9,172.4 497.9,173.2 499.9,174.1 501.9,174.9 503.9,175.7 505.9,176.4 507.9,177.1 509.9,177.8 511.9,178.3 513.9,178.9 515.9,179.4 517.9,179.9 519.9,180.4 521.9,180.9 523.9,181.4 525.9,181.9 527.9,182.4 529.9,182.9 531.9,183.5 533.9,184.1 535.9,184.8 537.9,185.6 539.9,186.5 541.9,187.4 543.9,188.4 545.9,189.4 547.9,190.4 549.9,191.4 551.9,192.4 553.9,193.4 555.9,194.4 557.9,195.4 559.9,196.4 561.9,197.4 563.9,198.3 565.9,199.3 567.9,200.2 569.9,201.1 571.9,202 573.9,203 575.9,203.9 577.9,204.8 579.9,205.7 581.9,206.6 583.9,207.5 585.9,208.4 587.9,209.3 589.9,210.1 591.9,210.8 593.9,211.4 595.9,212 597.9,212.5 599.9,213 601.9,213.4 603.9,213.8 605.9,214.2 607.9,214.7 609.9,215.3 611.9,215.9 613.9,216.5 615.9,217.2 617.9,218 619.9,218.7 621.9,219.5 623.9,220.2 625.9,221 627.9,221.8 629.9,222.5 631.9,223.3 633.9,224 635.9,224.8 637.9,225.5 639.9,226.3 641.9,227.1 643.9,227.9 645.9,228.7 647.9,229.4 649.9,230.2 651.9,231 653.9,231.8 655.9,232.6 657.9,233.4 659.9,234.2 661.9,235 663.9,235.8 665.9,236.6 667.9,237.4 669.9,238.2 671.9,239 673.9,239.8 675.9,240.6 677.9,241.4 679.9,242.1 681.9,242.9 683.9,243.7 685.9,244.4 687.9,245.2 689.9,245.9 691.9,246.6 693.9,247.4 695.9,248.1 697.9,248.8 699.9,249.5 701.9,250.3 703.9,251 705.9,251.7 707.9,252.5 709.9,253.2 711.9,253.9 713.9,254.7 715.9,255.4 717.9,256.1 719.9,256.8 721.9,257.4 723.9,257.9 725.9,258.4 727.9,258.8 729.9,259.2 731.9,259.6 733.9,259.9 735.9,260.3 737.9,260.6 739.9,261 741.9,261.3 743.9,261.7 745.9,262 747.9,262.4 749.9,262.7 751.9,263.1 753.9,263.4 755.9,263.7 757.9,264 759.9,264.1 761.9,264.2 763.9,264.3" fill="none" stroke="#3cc8dc" stroke-width="1"/>
<polyline points="763.9,264.3 765.9,264.3 767.9,264.2 769.9,264.1 771.9,264 773.9,263.9 775.9,263.9 777.9,263.8 779.9,263.7 781.9,263.6 783.9,263.5 785.9,263.3 787.9,263.2 789.9,263 791.9,262.8 793.9,262.6 795.9,262.3 797.9,262.1 799.9,261.8 801.9,261.6 803.9,261.3 805.9,261 807.9,260.7 809.9,260.4 811.9,260.1 813.9,259.8 815.9,259.5 817.9,259.3 819.9,259.1 821.9,259 823.9,258.9" fill="none" stroke="#72c276" stroke-width="1"/>
<polyline points="823.9,258.9 825.9,258.9 827.9,259 829.9,259.1 831.9,259.2 833.9,259.2" fill="none" stroke="#3cc8dc" stroke-width="1"/>
<polyline points="833.9,259.2 835.9,259.2 837.9,259 839.9,258.7 841.9,258.3 843.9,257.8 845.9,257.1 847.9,256.4 849.9,255.7 851.9,254.9 853.9,254.2 855.9,253.5 857.9,252.7 859.9,251.9 861.9,251.2 863.9,250.4 865.9,249.5 867.9,248.7 869.9,247.9 871.9,247 873.9,246.2 875.9,245.3 877.9,244.4 879.9,243.4 881.9,242.4 883.9,241.4 885.9,240.4 887.9,239.3 889.9,238.2 891.9,237.2 893.9,236.2 895.9,235.2 897.9,234.2 899.9,233.2 901.9,232.2 903.9,231.3 905.9,230.3 907.9,229.4 909.9,228.5 911.9,227.8 913.9,227.1 915.9,226.6 917.9,226.2 919.9,225.8 921.9,225.6 923.9,225.4 925.9,225.2 927.9,224.9 929.9,224.7 931.9,224.5 933.9,224.3 935.9,224 937.9,223.8 939.9,223.6 941.9,223.4 943.9,223.1 945.9,222.9 947.9,222.7 949.9,222.6 951.9,222.6" fill="none" stroke="#72c276" stroke-width="1"/>
<polyline points="951.9,222.6 953.9,222.6 955.9,222.7 957.9,222.8 959.9,223 961.9,223.3 963.9,223.5 965.9,223.7 967.9,223.9 969.9,224.1 971.9,224.3 973.9,224.5 975.9,224.8 977.9,225.1 979.9,225.4 981.9,225.8 983.9,226.2 985.9,226.7 987.9,227.2 989.9,227.7 991.9,228.2 993.9,228.7 995.9,229.2 997.9,229.7 999.9,230.2 1001.9,230.7 1003.9,231.1 1005.9,231.5 1007.9,231.8 1009.9,232 1011.9,232.1 1013.9,232.2" fill="none" stroke="#3cc8dc" stroke-width="1"/>
<polyline points="1013.9,232.2 1015.9,232.2 1017.9,232.1 1019.9,232 1021.9,231.9 1023.9,231.9 1025.9,231.8 1027.9,231.7 1029.9,231.7 1031.9,231.6 1033.9,231.6 1035.9,231.5 1037.9,231.5 1039.9,231.4 1041.9,231.4 1043.9,231.3 1045.9,231.3 1047.9,231.2 1049.9,231.2 1051.9,231.2 1053.9,231.1 1055.9,231.1" fill="none" stroke="#72c276" stroke-width="1"/>
<polyline points="1055.9,231.1 1057.9,231.1 1059.9,231.2 1061.9,231.3 1063.9,231.4 1065.9,231.6 1067.9,231.8 1069.9,232 1071.9,232.2 1073.9,232.4 1075.9,232.6 1077.9,232.8 1079.9,233 1081.9,233.2 1083.9,233.5 1085.9,233.8 1087.9,234.1 1089.9,234.4 1091.9,234.8 1093.9,235.2 1095.9,235.6 1097.9,235.9 1099.9,236.3 1101.9,236.7 1103.9,237.2 1105.9,237.7 1107.9,238.2 1109.9,238.8 1111.9,239.5 1113.9,240.2 1115.9,240.9 1117.9,241.6 1119.9,242.4 1121.9,243.1 1123.9,243.8 1125.9,244.5 1127.9,245.3 1129.9,246.1 1131.9,246.8 1133.9,247.6 1135.9,248.4 1137.9,249.3 1139.9,250.1 1141.9,250.9 1143.9,251.7 1145.9,252.6 1147.9,253.3 1149.9,254 1151.9,254.7 1153.9,255.3 1155.9,255.9 1157.9,256.5 1159.9,257 1161.9,257.5 1163.9,258 1165.9,258.5 1167.9,259 1169.9,259.5 1171.9,260 1173.9,260.5 1175.9,261 1177.9,261.4 1179.9,261.9 1181.9,262.4 1183.9,262.8 1185.9,263.2 1187.9,263.7 1189.9,264.1 1191.9,264.5 1193.9,264.9 1195.9,265.4 1197.9,265.8 1199.9,266.3 1201.9,266.8 1203.9,267.4 1205.9,267.9 1207.9,268.5 1209.9,269.1 1211.9,269.7 1213.9,270.3 1215.9,270.9 1217.9,271.5 1219.9,272.1 1221.9,272.7 1223.9,273.3 1225.9,273.9 1227.9,274.6 1229.9,275.3 1231.9,276.1 1233.9,276.9 1235.9,277.8 1237.9,278.7 1239.9,279.6 1241.9,280.5 1243.9,281.4 1245.9,282.3 1247.9,283.2 1249.9,284.1 1251.9,285 1253.9,285.9 1255.9,286.8 1257.9,287.7 1259.9,288.5 1261.9,289.4 1263.9,290.2 1265.9,291 1267.9,291.8 1269.9,292.6 1271.9,293.5 1273.9,294.3 1275.9,295.1 1277.9,295.9 1279.9,296.7 1281.9,297.5 1283.9,298.3 1285.9,299.1 1287.9,300 1289.9,300.9 1291.9,301.8 1293.9,302.8 1295.9,303.8 1297.9,304.8 1299.9,305.8 1301.9,306.8 1303.9,307.8 1305.9,308.8 1307.9,309.8 1309.9,310.8 1311.9,311.8 1313.9,312.7 1315.9,313.7 1317.9,314.6 1319.9,315.5 1321.9,316.4 1323.9,317.2 1325.9,318 1327.9,318.8 1329.9,319.6 1331.9,320.3 1333.9,321.1 1335.9,321.9 1337.9,322.6 1339.9,323.4 1341.9,324.1 1343.9,324.8 1345.9,325.5 1347.9,326.2 1349.9,326.8 1351.9,327.5 1353.9,328.2 1355.9,328.8 1357.9,329.3 1359.9,329.9 1361.9,330.3 1363.9,330.7 1365.9,331.1 1367.9,331.5 1369.9,331.8 1371.9,332.1 1373.9,332.5 1375.9,332.8 1377.9,333.1 1379.9,333.4 1381.9,333.6 1383.9,333.9 1385.9,334.1 1387.9,334.3 1389.9,334.5 1391.9,334.7 1393.9,334.9 1395.9,335.1 1397.9,335.3 1399.9,335.6 1401.9,335.8 1403.9,336.1 1405.9,336.4 1407.9,336.7 1409.9,337 1411.9,337.4 1413.9,337.8 1415.9,338.1 1417.9,338.5 1419.9,338.9 1421.9,339.3 1423.9,339.6 1425.9,340 1427.9,340.4 1429.9,340.8 1431.9,341.1 1433.9,341.5 1435.9,342 1437.9,342.4 1439.9,342.9 1441.9,343.4 1443.9,343.9 1445.9,344.4 1447.9,344.9 1449.9,345.4 1451.9,346 1453.9,346.7 1455.9,347.4 1457.9,348.1 1459.9,348.9 1461.9,349.8 1463.9,350.8 1465.9,351.7 1467.9,352.7 1469.9,353.6 1471.9,354.6 1473.9,355.5 1475.9,356.5 1477.9,357.5 1479.9,358.5 1481.9,359.5 1483.9,360.5 1485.9,361.4 1487.9,362.4 1489.9,363.3 1491.9,364.2 1493.9,365 1495.9,365.9 1497.9,366.7 1499.9,367.5 1501.9,368.3 1503.9,369 1505.9,369.4" fill="none" stroke="#3cc8dc" stroke-width="1"/>
<polyline points="1505.9,369.4 1507.9,369.4 1509.9,369 1511.9,368.2 1513.9,366.9 1515.9,365.2 1517.9,363 1519.9,360.8 1521.9,358.5 1523.9,356.3 1525.9,354 1527.9,351.8 1529.9,349.7 1531.9,347.6 1533.9,345.7 1535.9,343.9 1537.9,342.2 1539.9,340.5 1541.9,338.8 1543.9,337.3 1545.9,335.8 1547.9,334.3 1549.9,332.9 1551.9,331.6 1553.9,330.4 1555.9,329.1 1557.9,327.8 1559.9,326.3 1561.9,324.7 1563.9,323 1565.9,321.1 1567.9,319.2 1569.9,317.2 1571.9,315.4 1573.9,313.7 1575.9,312.1 1577.9,310.7 1579.9,309.4 1581.9,308.1 1583.9,306.8 1585.9,305.7 1587.9,304.6 1589.9,303.6 1591.9,302.6 1593.9,301.8 1595.9,301 1597.9,300.4 1599.9,299.8 1601.9,299.3 1603.9,298.7 1605.9,298.3 1607.9,297.8 1609.9,297.2 1611.9,296.7 1613.9,296 1615.9,295.4 1617.9,294.7 1619.9,293.9 1621.9,293.1 1623.9,292.3 1625.9,291.4 1627.9,290.5 1629.9,289.4 1631.9,288.3 1633.9,287.1 1635.9,285.7 1637.9,284.1 1639.9,282.6 1641.9,280.7 1643.4,278.4" fill="none" stroke="#72c276" stroke-width="1"/>
<polyline points="880,204.3 882,204.1 884,203.9 886,203.8 888,203.6 890,203.4 892,203.2 894,203 896,202.9 898,202.7 900,202.6 902,202.5 904,202.4 906,202.3 908,202.3 910,202.2 912,202.1 914,202.1 916,202 918,202 920,201.9 922,201.9 924,201.8 926,201.8 928,201.8 930,201.8" fill="none" stroke="#d8a8e0" stroke-width="1"/>
<polyline points="930,201.8 932,201.8 934,201.8 936,201.8 938,201.9 940,201.9 942,202 944,202.1 946,202.3 948,202.4 950,202.6 952,202.8 954,202.9 956,203.1 958,203.2 960,203.4 962,203.6 964,203.7 966,203.9 968,204 970,204.2 972,204.4 974,204.5 976,204.7 978,204.8 980,205 982,205.1 984,205.2 986,205.4 988,205.5 990,205.6 992,205.8 994,205.9 996,206 998,206.1 1000,206.2 1002,206.4 1004,206.5 1006,206.6 1008,206.8 1010,206.9 1012,207 1014,207.1 1016,207.3 1018,207.4 1020,207.5 1022,207.7 1024,207.9 1026,208 1028,208.2 1030,208.4 1032,208.5 1034,208.7 1036,208.9 1038,209.1 1040,209.2 1042,209.4 1044,209.6 1046,209.8 1048,210 1050,210.1 1052,210.3 1054,210.5 1056,210.7 1058,210.9 1060,211.1 1062,211.3 1064,211.5 1066,211.8 1068,212 1070,212.2 1072,212.5 1074,212.8 1076,213 1078,213.2 1080,213.5 1082,213.8 1084,214 1086,214.2 1088,214.5 1090,214.8 1092,215 1094,215.2 1096,215.5 1098,215.8 1100,216 1102,216.3 1104,216.5 1106,216.8 1108,217 1110,217.3 1112,217.6 1114,217.8 1116,218.1 1118,218.3 1120,218.6 1122,218.9 1124,219.1 1126,219.4 1128,219.6 1130,219.9 1132,220.2 1134,220.4 1136,220.7 1138,220.9 1140,221.2 1142,221.5 1144,221.7 1146,222 1148,222.3 1150,222.6 1152,222.9 1154,223.2 1156,223.5 1158,223.8 1160,224.2 1162,224.5 1164,224.8 1166,225.2 1168,225.5 1170,225.8 1172,226.2 1174,226.5 1176,226.8 1178,227.2 1180,227.5 1182,227.8 1184,228.2 1186,228.5 1188,228.8 1190,229.2 1192,229.5 1194,229.8 1196,230.2 1198,230.5 1200,230.8 1202,231.2 1204,231.5 1206,231.8 1208,232.2 1210,232.6 1212,233 1214,233.4 1216,233.8 1218,234.2 1220,234.6 1222,235 1224,235.4 1226,235.9 1228,236.3 1230,236.7 1232,237.1 1234,237.5 1236,238 1238,238.4 1240,238.8 1242,239.2 1244,239.6 1246,240.1 1248,240.5 1250,240.9 1252,241.3 1254,241.7 1256,242.2 1258,242.6 1260,243 1262,243.4 1264,243.9 1266,244.3 1268,244.8 1270,245.2 1272,245.6 1274,246.1 1276,246.5 1278,247 1280,247.4 1282,247.8 1284,248.3 1286,248.7 1288,249.2 1290,249.6 1292,250 1294,250.5 1296,250.9 1298,251.4 1300,251.8 1302,252.2 1304,252.7 1306,253.1 1308,253.6 1310,254 1312,254.5 1314,255 1316,255.5 1318,256 1320,256.4 1322,256.9 1324,257.4 1326,257.9 1328,258.4 1330,258.9 1332,259.4 1334,259.9 1336,260.3 1338,260.8 1340,261.3 1342,261.8 1344,262.3 1346,262.8 1348,263.3 1350,263.8 1352,264.2 1354,264.7 1356,265.2 1358,265.6 1360,266 1362,266.3 1364,266.6 1366,266.9 1368,267.1 1370,267.4 1372,267.6 1374,267.9 1376,268.2 1378,268.5 1380,268.8 1382,269.2 1384,269.6 1386,270 1388,270.5 1390,270.9 1392,271.3 1394,271.8 1396,272.2 1398,272.6 1400,273.1 1402,273.5 1404,273.9 1406,274.4 1408,274.8 1410,275.2 1412,275.7 1414,276.1 1416,276.5 1418,277 1420,277.4 1422,277.8 1424,278.3 1426,278.7 1428,279.1 1430,279.6 1432,280 1434,280.4 1436,280.8 1438,281.2 1440,281.7 1442,282 1444,282.4 1446,282.8 1448,283.2 1450,283.6 1452,284 1454,284.4 1456,284.8 1458,285.2 1460,285.6 1462,285.9 1464,286.3 1466,286.7 1468,287.1 1470,287.5 1472,287.9 1474,288.3 1476,288.7 1478,289 1480,289.4 1482,289.8 1484,290.2 1486,290.6 1488,291 1490,291.4 1492,291.8 1494,292.1 1496,292.5 1498,292.9 1500,293.3 1502,293.7 1504,294.1 1506,294.5 1508,294.8 1510,295 1512,295.1 1514,295.2" fill="none" stroke="#b8bac1" stroke-width="1"/>
<polyline points="1514,295.2 1516,295.1 1518,294.9 1520,294.5 1522,294.2 1524,293.9 1526,293.5 1528,293.2 1530,292.9 1532,292.5 1534,292.2 1536,291.8 1538,291.5 1540,291.2 1542,290.8 1544,290.5 1546,290.1 1548,289.7 1550,289.4 1552,289 1554,288.7 1556,288.3 1558,288 1560,287.6 1562,287.3 1564,286.9 1566,286.6 1568,286.3 1570,286 1572,285.7 1574,285.5 1576,285.3 1578,285.1 1580,285 1582,284.8 1584,284.7 1586,284.5 1588,284.4 1590,284.2 1592,284.1 1594,283.9 1596,283.8 1598,283.6 1600,283.5 1602,283.3 1604,283.1 1606,282.9 1608,282.7 1610,282.4 1612,282.2 1614,281.9 1616,281.6 1618,281.3 1620,281 1622,280.7 1624,280.4 1626,280.1 1628,279.8 1630,279.5 1632,279.2 1634,278.9 1636,278.6 1638,278.3 1640,278 1642,277.7 1643,277.5" fill="none" stroke="#d8a8e0" stroke-width="1"/>
<polygon points="1509,524.5 1515,512 1520,500 1526,488 1532,479 1535,478.6 1538,483 1542,493 1548,500 1555,508 1560,509 1570,510 1580,512 1590,514 1600,515 1610,515 1620,512 1628,508 1636,502 1643.4,495.5 1643.4,524.5" fill="#e6e7ea"/>
<path d="M78.5 524.5V523.5M79.5 524.5V523.7M84.5 524.5V523.8M90.5 524.5V523.5M92.5 524.5V523.3M97.5 524.5V523.4M100.5 524.5V523.5M101.5 524.5V523.5M103.5 524.5V522.9M105.5 524.5V523.5M107.5 524.5V523.1M108.5 524.5V523.3M111.5 524.5V522.9M112.5 524.5V523.9M113.5 524.5V523.8M115.5 524.5V523.8M116.5 524.5V523.1M118.5 524.5V523.8M121.5 524.5V523M122.5 524.5V523.2M124.5 524.5V523.4M126.5 524.5V523M128.5 524.5V523.9M129.5 524.5V523M140.5 524.5V522.9M143.5 524.5V523.2M146.5 524.5V523.2M151.5 524.5V523.7M153.5 524.5V523.4M154.5 524.5V523.7M155.5 524.5V523.8M158.5 524.5V523.3M167.5 524.5V523.1M176.5 524.5V523M178.5 524.5V523.9M182.5 524.5V523M186.5 524.5V523.5M196.5 524.5V523.9M199.5 524.5V523.7M203.5 524.5V523.8M204.5 524.5V523.9M205.5 524.5V523.3M207.5 524.5V523M211.5 524.5V523.9M213.5 524.5V523.6M216.5 524.5V523.3M220.5 524.5V522.9M224.5 524.5V523.9M225.5 524.5V523.4M228.5 524.5V523.2M229.5 524.5V523.6M238.5 524.5V523.1M246.5 524.5V523.9M247.5 524.5V523.7M251.5 524.5V523.3M253.5 524.5V523M255.5 524.5V523.6M257.5 524.5V523.8M258.5 524.5V523.2M259.5 524.5V523.6M262.5 524.5V523.8M278.5 524.5V523.7M282.5 524.5V523.8M283.5 524.5V523.4M287.5 524.5V523.7M288.5 524.5V523.8M290.5 524.5V523.1M292.5 524.5V523M295.5 524.5V523.8M299.5 524.5V523.1M300.5 524.5V523.1M301.5 524.5V523M304.5 524.5V524M305.5 524.5V523.6M311.5 524.5V523.9M312.5 524.5V523M313.5 524.5V523.8M322.5 524.5V523.7M324.5 524.5V522.9M328.5 524.5V523.6M330.5 524.5V522.9M337.5 524.5V523.4M338.5 524.5V523M341.5 524.5V523.1M343.5 524.5V522.9M351.5 524.5V523.2M353.5 524.5V523.2M354.5 524.5V524M357.5 524.5V523.7M361.5 524.5V523.4M362.5 524.5V523.4M366.5 524.5V523.5M367.5 524.5V523M368.5 524.5V523.8M370.5 524.5V523.6M372.5 524.5V523.9M374.5 524.5V523.5M376.5 524.5V522.9M379.5 524.5V523.4M380.5 524.5V523.9M383.5 524.5V523.1M384.5 524.5V523.7M386.5 524.5V523.9M387.5 524.5V523.5M391.5 524.5V523.6M392.5 524.5V523.4M399.5 524.5V523.1M407.5 524.5V523M409.5 524.5V523M416.5 524.5V523.3M418.5 524.5V523.6M420.5 524.5V523M422.5 524.5V522.9M424.5 524.5V523.9M425.5 524.5V523.3M428.5 524.5V523.7M432.5 524.5V523.1M436.5 524.5V523.5M442.5 524.5V523.4M445.5 524.5V523.3M447.5 524.5V523.8M451.5 524.5V523.4M458.5 524.5V522.9M461.5 524.5V523.1M462.5 524.5V523.9M463.5 524.5V523.5M466.5 524.5V523.9M467.5 524.5V522.9M468.5 524.5V523.5M471.5 524.5V523.9M476.5 524.5V523.2M480.5 524.5V523.9M482.5 524.5V523.2M483.5 524.5V523.3M486.5 524.5V523.4M487.5 524.5V523.5M488.5 524.5V522.9M491.5 524.5V523.7M492.5 524.5V523.1M493.5 524.5V523.6M495.5 524.5V523.6M497.5 524.5V523.6M499.5 524.5V523.1M500.5 524.5V523.9M505.5 524.5V523.1M508.5 524.5V523.2M514.5 524.5V523.4M516.5 524.5V523.9M517.5 524.5V523.3M518.5 524.5V523M521.5 524.5V523.7M522.5 524.5V523.2M524.5 524.5V523.7M526.5 524.5V523.9M528.5 524.5V523.2M530.5 524.5V523.1M533.5 524.5V522.9M534.5 524.5V523M536.5 524.5V523.7M539.5 524.5V522.9M542.5 524.5V523.2M543.5 524.5V523.6M545.5 524.5V523.9M547.5 524.5V523.7M557.5 524.5V523.9M558.5 524.5V523.5M562.5 524.5V523M563.5 524.5V523.8M564.5 524.5V523.6M566.5 524.5V523M567.5 524.5V523.6M572.5 524.5V523.9M575.5 524.5V522.8M580.5 524.5V523.3M582.5 524.5V523.1M583.5 524.5V523.4M584.5 524.5V523.2M585.5 524.5V523.5M587.5 524.5V523.6M589.5 524.5V523.7M596.5 524.5V522.8M597.5 524.5V523M600.5 524.5V523.1M601.5 524.5V523.7M604.5 524.5V523.9M605.5 524.5V523.3M613.5 524.5V523.7M621.5 524.5V523.8M626.5 524.5V523.8M629.5 524.5V522.8M630.5 524.5V522.9M633.5 524.5V523.6M635.5 524.5V522.8M637.5 524.5V522.9M639.5 524.5V523.1M642.5 524.5V523.1M643.5 524.5V523.5M645.5 524.5V523.3M647.5 524.5V523.3M649.5 524.5V523.9M650.5 524.5V523.4M651.5 524.5V522.9M655.5 524.5V522.8M657.5 524.5V523.1M658.5 524.5V523.7M659.5 524.5V523.1M662.5 524.5V524M664.5 524.5V523.4M670.5 524.5V523.6M671.5 524.5V523.7M672.5 524.5V523.2M674.5 524.5V523M675.5 524.5V523.2M676.5 524.5V522.9M680.5 524.5V523.5M682.5 524.5V523M684.5 524.5V522.8M689.5 524.5V523M691.5 524.5V523.3M692.5 524.5V523.1M693.5 524.5V522.9M695.5 524.5V523M701.5 524.5V523.7M704.5 524.5V523M708.5 524.5V523.2M712.5 524.5V522.9M714.5 524.5V522.9M716.5 524.5V522.8M717.5 524.5V523.8M725.5 524.5V523.7M726.5 524.5V522.9M728.5 524.5V523.6M734.5 524.5V523.1M735.5 524.5V522.8M737.5 524.5V523.6M738.5 524.5V523.2M743.5 524.5V523.4M747.5 524.5V523.8M759.5 524.5V523.7M760.5 524.5V523M766.5 524.5V523.9M767.5 524.5V523.4M770.5 524.5V523.4M782.5 524.5V523.6M788.5 524.5V523.1M789.5 524.5V523.5M792.5 524.5V523.3M795.5 524.5V523.3M797.5 524.5V523.1M799.5 524.5V523.2M800.5 524.5V523.7M801.5 524.5V523.2M803.5 524.5V523.4M805.5 524.5V523M807.5 524.5V523.7M808.5 524.5V523.5M809.5 524.5V523.6M812.5 524.5V523.3M816.5 524.5V523M817.5 524.5V522.9M820.5 524.5V523.8M821.5 524.5V523.5M822.5 524.5V523.8M825.5 524.5V523.4M830.5 524.5V523.7M833.5 524.5V523.1M834.5 524.5V523.3M837.5 524.5V523.3M847.5 524.5V523.4M850.5 524.5V522.7M851.5 524.5V523M855.5 524.5V523.8M858.5 524.5V523.7M859.5 524.5V523.5M864.5 524.5V523.3M867.5 524.5V523.9M875.5 524.5V522.8M878.5 524.5V523.5M885.5 524.5V523.8M887.5 524.5V523.3M889.5 524.5V522.9M891.5 524.5V522.9M896.5 524.5V523.7M899.5 524.5V522.9M905.5 524.5V523.2M906.5 524.5V523.4M909.5 524.5V522.9M910.5 524.5V523.7M912.5 524.5V522.8M916.5 524.5V523M922.5 524.5V522.8M924.5 524.5V522.8M926.5 524.5V523.5M928.5 524.5V523M929.5 524.5V523.1M934.5 524.5V523.1M935.5 524.5V523.7M937.5 524.5V523.6M941.5 524.5V523.2M945.5 524.5V523.1M946.5 524.5V523M950.5 524.5V523.1M953.5 524.5V523M955.5 524.5V522.8M956.5 524.5V523.9M958.5 524.5V522.8M960.5 524.5V523.8M962.5 524.5V523.2M963.5 524.5V523.5M966.5 524.5V523.2M968.5 524.5V523.3M970.5 524.5V523.3M971.5 524.5V523.2M979.5 524.5V523.1M980.5 524.5V523.8M983.5 524.5V523.4M991.5 524.5V523.3M992.5 524.5V522.7M993.5 524.5V523.7M997.5 524.5V523.5M1001.5 524.5V522.8M1010.5 524.5V523.8M1014.5 524.5V522.7M1020.5 524.5V523.6M1021.5 524.5V522.7M1024.5 524.5V523.9M1025.5 524.5V523.6M1026.5 524.5V523.5M1029.5 524.5V523.4M1030.5 524.5V523.5M1031.5 524.5V523.3M1034.5 524.5V523.7M1035.5 524.5V523.3M1037.5 524.5V523.2M1041.5 524.5V523.3M1042.5 524.5V523.7M1043.5 524.5V522.7M1050.5 524.5V523.7M1051.5 524.5V522.8M1054.5 524.5V523.2M1055.5 524.5V523.1M1059.5 524.5V523.8M1062.5 524.5V523M1063.5 524.5V522.8M1066.5 524.5V523.8M1070.5 524.5V523.4M1075.5 524.5V523.8M1076.5 524.5V523.4M1080.5 524.5V523.3M1081.5 524.5V522.8M1084.5 524.5V523.4M1085.5 524.5V523M1087.5 524.5V523.3M1088.5 524.5V523.8M1089.5 524.5V522.8M1091.5 524.5V522.8M1093.5 524.5V523.6M1096.5 524.5V523.9M1097.5 524.5V523.3M1099.5 524.5V523.5M1100.5 524.5V523.3M1101.5 524.5V523.4M1104.5 524.5V523.4M1105.5 524.5V522.9M1109.5 524.5V523.7M1110.5 524.5V523.6M1113.5 524.5V523.4M1114.5 524.5V523.3M1117.5 524.5V522.6M1118.5 524.5V523.6M1120.5 524.5V523.5M1122.5 524.5V523.9M1124.5 524.5V523.1M1126.5 524.5V523.1M1130.5 524.5V522.6M1133.5 524.5V523.9M1134.5 524.5V523.8M1141.5 524.5V522.8M1146.5 524.5V523.2M1156.5 524.5V523.2M1158.5 524.5V522.7M1163.5 524.5V523.6M1164.5 524.5V522.9M1166.5 524.5V523.1M1167.5 524.5V523.7M1168.5 524.5V523M1170.5 524.5V522.8M1171.5 524.5V523.8M1172.5 524.5V523.9M1177.5 524.5V523.2M1179.5 524.5V523.4M1180.5 524.5V523.2M1183.5 524.5V523.1M1184.5 524.5V522.9M1185.5 524.5V523.3M1188.5 524.5V522.9M1189.5 524.5V523.2M1192.5 524.5V523.5M1200.5 524.5V523.1M1201.5 524.5V523.5M1204.5 524.5V523.3M1208.5 524.5V522.7M1210.5 524.5V523.2M1212.5 524.5V523.3M1214.5 524.5V523.2M1217.5 524.5V523.4M1225.5 524.5V523.4M1230.5 524.5V522.7M1235.5 524.5V523.5M1237.5 524.5V522.9M1238.5 524.5V523.5M1242.5 524.5V523.8M1252.5 524.5V523.2M1255.5 524.5V522.8M1256.5 524.5V523.6M1258.5 524.5V523.1M1259.5 524.5V523.2M1266.5 524.5V523.4M1267.5 524.5V523.4M1270.5 524.5V523.1M1271.5 524.5V523.2M1274.5 524.5V523.1M1276.5 524.5V523M1281.5 524.5V522.9M1284.5 524.5V522.9M1285.5 524.5V522.6M1289.5 524.5V523.5M1292.5 524.5V523.8M1293.5 524.5V522.7M1298.5 524.5V522.9M1300.5 524.5V523M1301.5 524.5V523.9M1304.5 524.5V523.7M1305.5 524.5V522.8M1309.5 524.5V523.4M1310.5 524.5V523.9M1313.5 524.5V522.7M1314.5 524.5V522.9M1317.5 524.5V522.6M1320.5 524.5V523M1323.5 524.5V523.7M1327.5 524.5V523.7M1330.5 524.5V522.6M1333.5 524.5V523.7M1334.5 524.5V523M1335.5 524.5V523.4M1338.5 524.5V523.4M1341.5 524.5V522.7M1342.5 524.5V523.6M1345.5 524.5V523M1346.5 524.5V523.5M1348.5 524.5V522.9M1352.5 524.5V521.2M1354.5 524.5V520.9M1355.5 524.5V521.5M1362.5 524.5V522M1368.5 524.5V518.5M1370.5 524.5V520M1373.5 524.5V518.7M1376.5 524.5V518.1M1377.5 524.5V520.7M1380.5 524.5V521.8M1384.5 524.5V522.2M1387.5 524.5V520.5M1389.5 524.5V522.2M1392.5 524.5V521.9M1393.5 524.5V518.5M1397.5 524.5V519.7M1398.5 524.5V520.9M1404.5 524.5V519.4M1405.5 524.5V518.2M1409.5 524.5V521.1M1410.5 524.5V520.4M1412.5 524.5V521.4M1413.5 524.5V520.9M1416.5 524.5V521.6M1420.5 524.5V520.9M1421.5 524.5V519.4M1425.5 524.5V519.9M1426.5 524.5V520.2M1427.5 524.5V521.3M1429.5 524.5V518.9M1431.5 524.5V519.6M1433.5 524.5V520.1M1435.5 524.5V521.1M1438.5 524.5V522.7M1441.5 524.5V519.8M1443.5 524.5V520.2M1447.5 524.5V520.1M1448.5 524.5V521.2M1454.5 524.5V522.3M1459.5 524.5V519.8M1462.5 524.5V521.6M1463.5 524.5V520.4M1470.5 524.5V519.7M1472.5 524.5V520.3M1475.5 524.5V520.4M1477.5 524.5V522.3M1481.5 524.5V522.9M1484.5 524.5V521.6M1487.5 524.5V520.9M1488.5 524.5V522.3M1489.5 524.5V522.8M1491.5 524.5V521.5M1492.5 524.5V521.3M1495.5 524.5V521.3M1496.5 524.5V523M1497.5 524.5V522.1M1502.5 524.5V522.8M1504.5 524.5V520.7M1505.5 524.5V521M1506.5 524.5V522.2M1516.5 524.5V506.6M1517.5 524.5V499M1518.5 524.5V493.4M1520.5 524.5V499.2M1521.5 524.5V515.1M1525.5 524.5V513.4M1526.5 524.5V509.3M1529.5 524.5V517.7M1530.5 524.5V515.6M1531.5 524.5V513M1535.5 524.5V515.1M1538.5 524.5V508.9M1539.5 524.5V509.5M1542.5 524.5V509.9M1543.5 524.5V509.1M1544.5 524.5V509.5M1546.5 524.5V510.4M1550.5 524.5V513.7M1551.5 524.5V515.3M1552.5 524.5V518.1M1556.5 524.5V521.1M1558.5 524.5V519.2M1559.5 524.5V519M1560.5 524.5V518.8M1563.5 524.5V518.1M1564.5 524.5V519M1566.5 524.5V518.9M1569.5 524.5V517.2M1572.5 524.5V520.1M1575.5 524.5V518.3M1576.5 524.5V517.4M1577.5 524.5V519.3M1579.5 524.5V520.7M1581.5 524.5V517.2M1583.5 524.5V522.2M1584.5 524.5V522M1585.5 524.5V521.5M1588.5 524.5V520.5M1589.5 524.5V518.1M1591.5 524.5V519.8M1593.5 524.5V519.5M1594.5 524.5V519.1M1601.5 524.5V518.2M1604.5 524.5V519.8M1605.5 524.5V517.7M1614.5 524.5V520.5M1616.5 524.5V515.1M1617.5 524.5V517.6M1618.5 524.5V515.3M1621.5 524.5V515.3M1622.5 524.5V519.9M1625.5 524.5V517.6M1627.5 524.5V508.4M1629.5 524.5V513.2M1631.5 524.5V515.4M1633.5 524.5V504.7M1634.5 524.5V502.9M1635.5 524.5V514.6M1637.5 524.5V494.7M1638.5 524.5V514.9M1639.5 524.5V496.3M1641.5 524.5V487.9M1510.5 524.5V464.5M1513.5 524.5V484.5M1518.5 524.5V489.5M1519.5 524.5V494.5M1524.5 524.5V492.5M1528.5 524.5V474.5M1530.5 524.5V496.5M1532.5 524.5V494.5M1533.5 524.5V504.5M1534.5 524.5V497.5M1536.5 524.5V502.5M1538.5 524.5V504.5M1540.5 524.5V512.5M1543.5 524.5V514.5M1547.5 524.5V510.5M1551.5 524.5V514.5M1552.5 524.5V518.5M1556.5 524.5V514.5M1558.5 524.5V498.5M1562.5 524.5V518.5M1563.5 524.5V511.5M1566.5 524.5V516.5M1574.5 524.5V514.5M1579.5 524.5V519.5M1585.5 524.5V519.5M1586.5 524.5V520.5M1588.5 524.5V519.5M1595.5 524.5V518.5M1597.5 524.5V520.5M1599.5 524.5V519.5M1601.5 524.5V518.5M1603.5 524.5V519.5M1605.5 524.5V516.5M1608.5 524.5V514.5M1610.5 524.5V516.5M1612.5 524.5V518.5M1615.5 524.5V513.5M1626.5 524.5V506.5M1629.5 524.5V498.5M1630.5 524.5V490.5M1632.5 524.5V502.5M1638.5 524.5V465.5M1639.5 524.5V486.5" stroke="#d8dadf" stroke-width="1" fill="none"/>
<path d="M76.5 524.5V523.8M80.5 524.5V523.2M82.5 524.5V523.3M83.5 524.5V524M86.5 524.5V523.3M87.5 524.5V523.6M88.5 524.5V523.3M91.5 524.5V523.9M94.5 524.5V523M95.5 524.5V523.9M96.5 524.5V523.4M99.5 524.5V523.4M104.5 524.5V523.1M109.5 524.5V523.1M117.5 524.5V523M120.5 524.5V523.5M125.5 524.5V523M130.5 524.5V523.7M132.5 524.5V523.3M133.5 524.5V523.2M134.5 524.5V523.7M136.5 524.5V523.7M137.5 524.5V523M138.5 524.5V523.1M141.5 524.5V523.9M142.5 524.5V523.3M145.5 524.5V523M147.5 524.5V523.7M149.5 524.5V523.9M150.5 524.5V523.8M157.5 524.5V523.9M159.5 524.5V523.1M161.5 524.5V523.9M162.5 524.5V523.4M163.5 524.5V522.9M165.5 524.5V523.6M166.5 524.5V523.4M168.5 524.5V524M170.5 524.5V523.1M171.5 524.5V523.2M172.5 524.5V523.2M174.5 524.5V523.6M175.5 524.5V523.5M179.5 524.5V523.9M180.5 524.5V523.3M183.5 524.5V523.8M184.5 524.5V523.8M187.5 524.5V523.1M188.5 524.5V523.4M190.5 524.5V523.3M191.5 524.5V524M192.5 524.5V523.8M193.5 524.5V523.4M195.5 524.5V523.2M197.5 524.5V523.9M200.5 524.5V523.5M201.5 524.5V523.6M208.5 524.5V523.3M209.5 524.5V523M212.5 524.5V523.3M215.5 524.5V523.1M217.5 524.5V523.3M218.5 524.5V523M221.5 524.5V523.9M222.5 524.5V523.5M226.5 524.5V523.8M230.5 524.5V524M232.5 524.5V523M233.5 524.5V523.9M234.5 524.5V523.7M236.5 524.5V523.4M237.5 524.5V523.9M240.5 524.5V523.2M241.5 524.5V523.9M242.5 524.5V523.3M243.5 524.5V523.9M245.5 524.5V523.4M249.5 524.5V523.5M250.5 524.5V523.4M254.5 524.5V523.6M261.5 524.5V523.8M263.5 524.5V523.5M265.5 524.5V523.1M266.5 524.5V523.5M267.5 524.5V523.1M268.5 524.5V523.5M270.5 524.5V523.3M271.5 524.5V523.7M272.5 524.5V523.5M274.5 524.5V523.2M275.5 524.5V523.9M276.5 524.5V523.5M279.5 524.5V523.7M280.5 524.5V523.6M284.5 524.5V524M286.5 524.5V523.7M291.5 524.5V523.2M293.5 524.5V523.8M296.5 524.5V523.6M297.5 524.5V523.4M303.5 524.5V524M307.5 524.5V523.5M308.5 524.5V524M309.5 524.5V523.6M315.5 524.5V523.6M316.5 524.5V523.8M317.5 524.5V523M318.5 524.5V523.9M320.5 524.5V523.5M321.5 524.5V523.7M325.5 524.5V523.2M326.5 524.5V523.2M329.5 524.5V522.9M332.5 524.5V523.3M333.5 524.5V523.7M334.5 524.5V523.9M336.5 524.5V523.4M339.5 524.5V522.9M342.5 524.5V523.7M345.5 524.5V523.3M346.5 524.5V524M347.5 524.5V523.8M349.5 524.5V522.9M350.5 524.5V523.1M355.5 524.5V522.9M358.5 524.5V523.1M359.5 524.5V523.4M363.5 524.5V522.9M364.5 524.5V523M371.5 524.5V523.6M375.5 524.5V524M378.5 524.5V523.1M382.5 524.5V523.7M388.5 524.5V523.3M389.5 524.5V523.8M393.5 524.5V523.1M395.5 524.5V523.5M396.5 524.5V522.9M397.5 524.5V523.7M400.5 524.5V523.9M401.5 524.5V522.9M403.5 524.5V523.4M404.5 524.5V523.8M405.5 524.5V523.1M408.5 524.5V523.8M411.5 524.5V522.9M412.5 524.5V523.6M413.5 524.5V523.1M414.5 524.5V523.2M417.5 524.5V523.5M421.5 524.5V523.1M426.5 524.5V523.2M429.5 524.5V524M430.5 524.5V523M433.5 524.5V523.2M434.5 524.5V523.6M437.5 524.5V523M438.5 524.5V523.9M439.5 524.5V523.1M441.5 524.5V523.2M443.5 524.5V522.9M446.5 524.5V523M449.5 524.5V523.5M450.5 524.5V523.6M453.5 524.5V523.1M454.5 524.5V522.8M455.5 524.5V522.9M457.5 524.5V523M459.5 524.5V523.1M464.5 524.5V523.4M470.5 524.5V523.7M472.5 524.5V523.4M474.5 524.5V523.6M475.5 524.5V522.9M478.5 524.5V523.5M479.5 524.5V523.8M484.5 524.5V523.4M489.5 524.5V523.9M496.5 524.5V523.5M501.5 524.5V523.3M503.5 524.5V523.1M504.5 524.5V523.6M507.5 524.5V523.6M509.5 524.5V523.9M511.5 524.5V523.6M512.5 524.5V523.3M513.5 524.5V523.3M520.5 524.5V523.7M525.5 524.5V523.9M529.5 524.5V522.9M532.5 524.5V523.3M537.5 524.5V523.5M538.5 524.5V522.8M541.5 524.5V523.2M546.5 524.5V523.6M549.5 524.5V523.2M550.5 524.5V523.2M551.5 524.5V523.2M553.5 524.5V522.9M554.5 524.5V524M555.5 524.5V523.7M559.5 524.5V522.9M561.5 524.5V523.4M568.5 524.5V523.1M570.5 524.5V523.3M571.5 524.5V523.2M574.5 524.5V523.5M576.5 524.5V523.5M578.5 524.5V523.6M579.5 524.5V522.8M588.5 524.5V523.6M591.5 524.5V523.1M592.5 524.5V523.9M593.5 524.5V523.8M595.5 524.5V523.4M599.5 524.5V523.2M603.5 524.5V523.4M607.5 524.5V523.9M608.5 524.5V523.8M609.5 524.5V523.8M610.5 524.5V523.6M612.5 524.5V523.4M614.5 524.5V523.9M616.5 524.5V523.8M617.5 524.5V522.8M618.5 524.5V522.8M620.5 524.5V522.9M622.5 524.5V523.7M624.5 524.5V522.9M625.5 524.5V523.9M628.5 524.5V523.2M632.5 524.5V523M634.5 524.5V523.1M638.5 524.5V522.8M641.5 524.5V523M646.5 524.5V522.8M653.5 524.5V523.1M654.5 524.5V523.4M660.5 524.5V522.9M663.5 524.5V522.8M666.5 524.5V522.9M667.5 524.5V523.9M668.5 524.5V523.6M678.5 524.5V523.8M679.5 524.5V523.6M683.5 524.5V523.1M685.5 524.5V522.9M687.5 524.5V523.3M688.5 524.5V523.1M696.5 524.5V523.8M697.5 524.5V523.9M699.5 524.5V523.1M700.5 524.5V523M703.5 524.5V522.9M705.5 524.5V523.8M707.5 524.5V523.8M709.5 524.5V523.2M710.5 524.5V523.8M713.5 524.5V523.7M718.5 524.5V523.1M720.5 524.5V523.3M721.5 524.5V522.8M722.5 524.5V523.4M724.5 524.5V523.5M729.5 524.5V522.8M730.5 524.5V523.9M732.5 524.5V522.9M733.5 524.5V523.9M739.5 524.5V523.5M741.5 524.5V523.9M742.5 524.5V522.9M745.5 524.5V523M746.5 524.5V523.9M749.5 524.5V523.7M750.5 524.5V523M751.5 524.5V523.9M753.5 524.5V523.9M754.5 524.5V523.5M755.5 524.5V523.5M757.5 524.5V522.9M758.5 524.5V522.9M762.5 524.5V523.5M763.5 524.5V523M764.5 524.5V523.1M768.5 524.5V523.4M771.5 524.5V523.3M772.5 524.5V523.1M774.5 524.5V523.5M775.5 524.5V523.3M776.5 524.5V522.9M778.5 524.5V523.1M779.5 524.5V523.7M780.5 524.5V523.8M783.5 524.5V522.8M784.5 524.5V523.5M785.5 524.5V522.9M787.5 524.5V522.8M791.5 524.5V523M793.5 524.5V522.8M796.5 524.5V523.2M804.5 524.5V523.1M810.5 524.5V522.8M813.5 524.5V523.4M814.5 524.5V522.8M818.5 524.5V523.3M824.5 524.5V523.5M826.5 524.5V523.4M828.5 524.5V522.7M829.5 524.5V523.3M831.5 524.5V523.7M835.5 524.5V523.4M838.5 524.5V523.4M839.5 524.5V523.1M841.5 524.5V523.2M842.5 524.5V523.9M843.5 524.5V523.3M845.5 524.5V523.6M846.5 524.5V523.2M849.5 524.5V523M853.5 524.5V523.2M854.5 524.5V523.3M856.5 524.5V523M860.5 524.5V523.2M862.5 524.5V523.6M863.5 524.5V522.9M866.5 524.5V522.7M868.5 524.5V523.4M870.5 524.5V523.5M871.5 524.5V523.2M872.5 524.5V523.1M874.5 524.5V523.2M876.5 524.5V523.4M879.5 524.5V523M880.5 524.5V523.2M881.5 524.5V523.6M883.5 524.5V522.8M884.5 524.5V523.7M888.5 524.5V522.8M892.5 524.5V523.2M893.5 524.5V523.3M895.5 524.5V523.6M897.5 524.5V523.4M900.5 524.5V523.2M901.5 524.5V522.7M903.5 524.5V522.9M904.5 524.5V523.3M908.5 524.5V522.8M913.5 524.5V523.1M914.5 524.5V523.5M917.5 524.5V523.4M918.5 524.5V523.1M920.5 524.5V523.3M921.5 524.5V523.1M925.5 524.5V523.3M930.5 524.5V523.8M931.5 524.5V523.3M933.5 524.5V523.6M938.5 524.5V523.6M939.5 524.5V523.6M942.5 524.5V522.8M943.5 524.5V523.1M947.5 524.5V523.4M949.5 524.5V523.4M951.5 524.5V523.7M954.5 524.5V522.8M959.5 524.5V523.7M964.5 524.5V523.7M967.5 524.5V523.3M972.5 524.5V522.9M974.5 524.5V523M975.5 524.5V523M976.5 524.5V522.9M978.5 524.5V523.3M981.5 524.5V523.8M984.5 524.5V523.1M985.5 524.5V523.6M987.5 524.5V522.7M988.5 524.5V523.6M989.5 524.5V523.3M995.5 524.5V523.6M996.5 524.5V523.1M999.5 524.5V523.5M1000.5 524.5V523.8M1003.5 524.5V523.4M1004.5 524.5V523.2M1005.5 524.5V523.6M1006.5 524.5V522.7M1008.5 524.5V523.8M1009.5 524.5V523M1012.5 524.5V523.3M1013.5 524.5V523.5M1016.5 524.5V523.4M1017.5 524.5V522.9M1018.5 524.5V523.9M1022.5 524.5V523.5M1028.5 524.5V523.3M1033.5 524.5V523.3M1038.5 524.5V523.2M1039.5 524.5V523M1045.5 524.5V523.8M1046.5 524.5V523.5M1047.5 524.5V523.4M1049.5 524.5V523.4M1053.5 524.5V523.5M1056.5 524.5V523.8M1058.5 524.5V523.4M1060.5 524.5V523.2M1064.5 524.5V522.7M1067.5 524.5V523.3M1068.5 524.5V523.1M1071.5 524.5V522.7M1072.5 524.5V523.3M1074.5 524.5V522.8M1077.5 524.5V523M1079.5 524.5V522.8M1083.5 524.5V522.9M1092.5 524.5V522.8M1095.5 524.5V522.9M1102.5 524.5V523.2M1106.5 524.5V523.1M1108.5 524.5V523.6M1112.5 524.5V523.5M1116.5 524.5V522.9M1121.5 524.5V523.2M1125.5 524.5V523.9M1127.5 524.5V523.2M1129.5 524.5V523.4M1131.5 524.5V523.5M1135.5 524.5V523.6M1137.5 524.5V523M1138.5 524.5V523M1139.5 524.5V523.5M1142.5 524.5V523.7M1143.5 524.5V523.6M1145.5 524.5V523.2M1147.5 524.5V522.9M1149.5 524.5V523.5M1150.5 524.5V522.7M1151.5 524.5V523.1M1152.5 524.5V523M1154.5 524.5V523.2M1155.5 524.5V523.6M1159.5 524.5V523.9M1160.5 524.5V523.5M1162.5 524.5V523.5M1174.5 524.5V523.1M1175.5 524.5V522.8M1176.5 524.5V523.2M1181.5 524.5V522.7M1187.5 524.5V522.8M1191.5 524.5V523.5M1193.5 524.5V522.6M1195.5 524.5V523.1M1196.5 524.5V523.8M1197.5 524.5V523.2M1199.5 524.5V523.3M1202.5 524.5V522.7M1205.5 524.5V522.8M1206.5 524.5V523.6M1209.5 524.5V523.2M1213.5 524.5V522.7M1216.5 524.5V523.2M1218.5 524.5V523.3M1220.5 524.5V523.6M1221.5 524.5V523.3M1222.5 524.5V523.6M1224.5 524.5V523.8M1226.5 524.5V523.9M1227.5 524.5V523M1229.5 524.5V523.8M1231.5 524.5V523.5M1233.5 524.5V523.5M1234.5 524.5V523.2M1239.5 524.5V522.7M1241.5 524.5V523.9M1243.5 524.5V522.7M1245.5 524.5V523M1246.5 524.5V523.6M1247.5 524.5V523.1M1249.5 524.5V523.4M1250.5 524.5V523.2M1251.5 524.5V523.5M1254.5 524.5V523M1260.5 524.5V522.7M1262.5 524.5V523.3M1263.5 524.5V522.8M1264.5 524.5V522.7M1268.5 524.5V522.6M1272.5 524.5V522.9M1275.5 524.5V523.2M1277.5 524.5V523.6M1279.5 524.5V523.4M1280.5 524.5V523.9M1283.5 524.5V522.8M1287.5 524.5V522.9M1288.5 524.5V523.8M1291.5 524.5V522.7M1295.5 524.5V522.8M1296.5 524.5V523.7M1297.5 524.5V523.6M1302.5 524.5V523.2M1306.5 524.5V523.2M1308.5 524.5V523.9M1312.5 524.5V522.7M1316.5 524.5V523.9M1318.5 524.5V523.5M1321.5 524.5V522.9M1322.5 524.5V523.1M1325.5 524.5V523.6M1326.5 524.5V522.9M1329.5 524.5V523.4M1331.5 524.5V523.3M1337.5 524.5V522.8M1339.5 524.5V522.8M1343.5 524.5V522.9M1347.5 524.5V521.8M1350.5 524.5V522.2M1351.5 524.5V523.3M1356.5 524.5V522.9M1358.5 524.5V521.1M1359.5 524.5V521.5M1360.5 524.5V521.3M1363.5 524.5V522.1M1364.5 524.5V519M1366.5 524.5V519.7M1367.5 524.5V518.8M1371.5 524.5V519.2M1372.5 524.5V520.5M1375.5 524.5V519.9M1379.5 524.5V520.3M1381.5 524.5V522.1M1383.5 524.5V521.2M1385.5 524.5V520.2M1388.5 524.5V518.1M1391.5 524.5V517.7M1395.5 524.5V520.8M1396.5 524.5V521.3M1400.5 524.5V522.4M1401.5 524.5V521.9M1402.5 524.5V519.5M1406.5 524.5V521.5M1408.5 524.5V519.2M1414.5 524.5V518.8M1417.5 524.5V520.9M1418.5 524.5V519M1422.5 524.5V520.6M1423.5 524.5V521.3M1430.5 524.5V522.4M1434.5 524.5V520.2M1437.5 524.5V520.1M1439.5 524.5V520.5M1442.5 524.5V521.4M1445.5 524.5V520.4M1446.5 524.5V521.1M1450.5 524.5V522.5M1451.5 524.5V521M1452.5 524.5V520.2M1455.5 524.5V521.2M1456.5 524.5V519.9M1458.5 524.5V522.9M1460.5 524.5V521.6M1464.5 524.5V520.8M1466.5 524.5V521.9M1467.5 524.5V522.3M1468.5 524.5V521.4M1471.5 524.5V519.3M1473.5 524.5V520.4M1476.5 524.5V519.6M1479.5 524.5V522.4M1480.5 524.5V519.9M1483.5 524.5V521.1M1485.5 524.5V519.9M1493.5 524.5V521.7M1498.5 524.5V520.8M1500.5 524.5V522.4M1501.5 524.5V522.7M1508.5 524.5V522.4M1509.5 524.5V505.6M1510.5 524.5V491.2M1512.5 524.5V492.9M1513.5 524.5V512.6M1514.5 524.5V511.4M1522.5 524.5V509.1M1523.5 524.5V498.9M1527.5 524.5V513.3M1533.5 524.5V502.1M1534.5 524.5V511.7M1537.5 524.5V509.5M1541.5 524.5V507.2M1547.5 524.5V515.7M1548.5 524.5V515.9M1554.5 524.5V513.9M1555.5 524.5V515.7M1562.5 524.5V521M1567.5 524.5V517.3M1568.5 524.5V518.2M1571.5 524.5V519.1M1573.5 524.5V519.6M1580.5 524.5V518.8M1587.5 524.5V521.7M1592.5 524.5V519.9M1596.5 524.5V519.9M1597.5 524.5V518.8M1598.5 524.5V517.4M1600.5 524.5V518.3M1602.5 524.5V521.4M1606.5 524.5V520.5M1608.5 524.5V521M1609.5 524.5V520.3M1610.5 524.5V519.3M1612.5 524.5V516.9M1613.5 524.5V520.3M1619.5 524.5V516.9M1623.5 524.5V518.6M1626.5 524.5V517.2M1630.5 524.5V508.2M1642.5 524.5V495.7M1643.5 524.5V505.9M1509.5 524.5V495M1512.5 524.5V434.5M1514.5 524.5V434.5M1515.5 524.5V457.5M1516.5 524.5V474.5M1522.5 524.5V475.5M1523.5 524.5V504.5M1526.5 524.5V494.5M1527.5 524.5V461.5M1529.5 524.5V484.5M1539.5 524.5V506.5M1542.5 524.5V508.5M1544.5 524.5V512.5M1546.5 524.5V516.5M1548.5 524.5V515.5M1550.5 524.5V512.5M1553.5 524.5V515.5M1555.5 524.5V516.5M1558.5 524.5V512.5M1560.5 524.5V515.5M1564.5 524.5V509.5M1567.5 524.5V497.5M1568.5 524.5V515.5M1570.5 524.5V518.5M1572.5 524.5V519.5M1576.5 524.5V518.5M1577.5 524.5V516.5M1581.5 524.5V519.5M1583.5 524.5V517.5M1590.5 524.5V518.5M1592.5 524.5V516.5M1593.5 524.5V520.5M1606.5 524.5V515.5M1614.5 524.5V508.5M1617.5 524.5V514.5M1618.5 524.5V512.5M1620.5 524.5V513.5M1622.5 524.5V504.5M1624.5 524.5V502.5M1628.5 524.5V494.5M1634.5 524.5V476.5M1635.5 524.5V484.5M1640.5 524.5V449.5M1642.5 524.5V454.5M1643.5 524.5V464.5" stroke="#b3b6bd" stroke-width="1" fill="none"/>
<path d="M78.5 162.2V173M79.5 163.1V171M84.5 164.3V171.6M90.5 151.4V160.1M92.5 153.3V158.2M97.5 152.3V159.8M100.5 155.6V162.4M101.5 156.6V166.1M103.5 160.3V168.2M105.5 162.2V171.1M107.5 166.3V174.1M108.5 166.5V175M111.5 170.7V177.5M112.5 172.8V178.4M113.5 173.7V178.4M115.5 175.2V179.2M116.5 174.9V178.7M118.5 174.4V177.9M121.5 175.3V178.3M122.5 175.2V178.8M124.5 175.5V179.1M126.5 175.2V179.9M128.5 176.5V179.8M129.5 177.2V181.3M140.5 175.7V178.3M143.5 175.2V178M146.5 175.3V177.4M151.5 176.5V178.7M153.5 176.7V179.8M154.5 177.2V180.2M155.5 177.8V180.5M158.5 176.8V179.5M167.5 171.4V177.2M176.5 178.8V181.4M178.5 179.1V181.7M182.5 179.1V181.5M186.5 179V181.5M196.5 178.7V180.5M199.5 178.4V180.8M203.5 178.5V180.6M204.5 178.4V180.7M205.5 178.7V180.7M207.5 178.7V180.9M211.5 179.1V180.8M213.5 178.8V180.7M216.5 178.9V180.7M220.5 178.9V181.1M224.5 179.2V181.1M225.5 179V180.7M228.5 179V180.6M229.5 179V180.8M238.5 179V180.9M246.5 179V180.9M247.5 179.1V181.1M251.5 179.1V180.7M253.5 178.9V180.8M255.5 179V180.7M257.5 179V180.7M258.5 178.8V180.9M259.5 178.7V180.5M262.5 178.7V180.5M278.5 178.7V180.9M282.5 178.8V180.6M283.5 179V180.4M287.5 178.9V180.3M288.5 179V180.4M290.5 178.7V180.4M292.5 179V180.8M295.5 178.8V180.7M299.5 179.1V180.7M300.5 179.1V180.4M301.5 178.8V180.7M304.5 179.1V180.6M305.5 179.1V180.8M311.5 173V179.8M312.5 162.3V179.7M313.5 149.6V174.8M322.5 126V150.2M324.5 128.7V146.1M328.5 139.4V150M330.5 143.3V150M337.5 106V123.6M338.5 105.2V119.7M341.5 95.7V118.3M343.5 82V112.9M351.5 77.3V102.8M353.5 73.9V97.8M354.5 73.9V91.1M357.5 78.6V92M361.5 70.7V86.9M362.5 70.6V88.9M366.5 78.2V94.9M367.5 78V90.8M368.5 80V91M370.5 81.1V94.5M372.5 90.8V100.9M374.5 94.5V113.2M376.5 100.6V124.1M379.5 110.6V126.4M380.5 108.6V122M383.5 103.8V112.9M384.5 102.5V113.1M386.5 101.3V110M387.5 97.8V108.8M391.5 99.4V110.3M392.5 103.6V114.6M399.5 130.3V144.6M407.5 160.1V174.3M409.5 178.4V189.4M416.5 176.2V193.5M418.5 174V187.2M420.5 173.6V185.3M422.5 162.9V178.8M424.5 159.5V171.3M425.5 153.4V170.3M428.5 150V165.6M432.5 164.6V183M436.5 183.9V193.9M442.5 183.9V196.4M445.5 189.8V203.3M447.5 195.7V210.5M451.5 204.8V216.3M458.5 182.2V197.9M461.5 176.6V188.6M462.5 170.8V187.3M463.5 168.3V183.3M466.5 165.7V182.9M467.5 168.4V182M468.5 167.2V180.9M471.5 168.9V182.6M476.5 185.1V201M480.5 198.9V210M482.5 204.7V214.1M483.5 205.3V217.6M486.5 207.9V218.5M487.5 208.5V221.8M488.5 209.3V224.1M491.5 215.4V229M492.5 218.4V232.6M493.5 219.8V237.3M495.5 224.9V240.2M497.5 226.7V239.6M499.5 224.6V236M500.5 224.4V237.7M505.5 237.8V257.9M508.5 249.4V272.7M514.5 229V243.1M516.5 229.4V243.5M517.5 230.5V244.4M518.5 230.7V246.8M521.5 225.2V241M522.5 218.3V235.9M524.5 217.6V232.9M526.5 212.5V228.4M528.5 212.5V226.5M530.5 211.3V236.7M533.5 235.3V250.4M534.5 243.4V257.1M536.5 246.3V261.9M539.5 274.7V287.1M542.5 278.3V288.7M543.5 279.1V292.2M545.5 284.4V296.7M547.5 290.4V307.4M557.5 332.3V342.6M558.5 330.1V342.8M562.5 325.4V337.6M563.5 323.4V344.6M564.5 329.5V346.8M566.5 319.1V333.9M567.5 311.4V321M572.5 290.4V304.1M575.5 290.2V304.7M580.5 285.1V295.7M582.5 282.9V293.2M583.5 281.8V290.2M584.5 281.2V293.2M585.5 279.2V294.4M587.5 279.9V293.7M589.5 283.3V298.1M596.5 221.4V245M597.5 231V256M600.5 243.8V266.2M601.5 249.4V269.3M604.5 244.5V261.3M605.5 246.8V261.9M613.5 271.7V285.7M621.5 265.1V273.6M626.5 271.1V280.5M629.5 274.9V292.1M630.5 280.3V297.9M633.5 281.2V296.2M635.5 278.4V293.6M637.5 279.3V290.2M639.5 273.3V288.4M642.5 266.9V283.9M643.5 277.6V295.3M645.5 296V310.8M647.5 308.2V326.5M649.5 311.4V326.5M650.5 312.4V325.4M651.5 312V326.3M655.5 311.2V325.7M657.5 309.9V321.4M658.5 308.2V322.2M659.5 306.6V320.4M662.5 304.1V318.3M664.5 312.2V321.9M670.5 313.2V322.7M671.5 311.5V324.5M672.5 310V326.3M674.5 307.7V322.4M675.5 301.7V313.4M676.5 294.7V307.4M680.5 276.9V296.6M682.5 287.6V303.9M684.5 300.5V315.3M689.5 305.3V318.3M691.5 304.9V314.4M692.5 300.1V314.5M693.5 299.5V310.1M695.5 295.7V311M701.5 308.6V321.8M704.5 314.5V329.7M708.5 330.8V341.2M712.5 340.8V354.1M714.5 347V357.7M716.5 350.6V361.3M717.5 351.9V362.5M725.5 324.7V341.2M726.5 322.5V340.4M728.5 317.6V333M734.5 304.6V312.8M735.5 299.5V309.2M737.5 295.5V306.7M738.5 292.4V302.7M743.5 281.4V293.5M747.5 271.7V286.9M759.5 267.7V279.6M760.5 264.1V277.6M766.5 262.7V276.5M767.5 255.7V271.8M770.5 240V258.1M782.5 245V255.7M788.5 243V252.8M789.5 239.9V249.1M792.5 234.7V244.6M795.5 234.5V247.2M797.5 239.9V251M799.5 239V250.3M800.5 239.6V247.6M801.5 232.9V242.6M803.5 227.1V239M805.5 228.8V240.2M807.5 232V241.4M808.5 236V243.4M809.5 237.5V245M812.5 238V243.9M816.5 235V240.9M817.5 237.9V243.9M820.5 239.4V249.8M821.5 239.9V253.4M822.5 250.1V264M825.5 269V281.5M830.5 269.8V279.4M833.5 258.4V273M834.5 253.8V268.9M837.5 246.2V256.2M847.5 194.5V204.8M850.5 189.5V207.6M851.5 205.2V220.6M855.5 201.9V211.2M858.5 198.1V205.4M859.5 196.6V203.2M864.5 191V197.1M867.5 182.1V187.3M875.5 191.3V201.7M878.5 195V202.4M885.5 165.8V176.6M887.5 165.1V176.9M889.5 169.9V179.1M891.5 171.7V179M896.5 168.2V176.8M899.5 173.9V183.3M905.5 179V187.7M906.5 178.1V185.9M909.5 173V183.3M910.5 168.4V181.4M912.5 168.5V179.9M916.5 182.6V189.8M922.5 197.5V205.8M924.5 192.6V204.4M926.5 193.9V210.5M928.5 203.1V215.5M929.5 213V222.5M934.5 202V210.3M935.5 202.5V211.7M937.5 204.8V211.5M941.5 200V207.9M945.5 202.9V208.8M946.5 206.8V211.5M950.5 209.4V214.9M953.5 214.5V220.2M955.5 219.5V225.1M956.5 220.7V227.8M958.5 225.2V231.1M960.5 234.4V240.6M962.5 234.1V239.4M963.5 234.7V239M966.5 234.1V241.3M968.5 234.5V240.7M970.5 237.2V243.6M971.5 240.5V247.5M979.5 252V261M980.5 256.7V263.2M983.5 263.2V268.8M991.5 274.6V280.1M992.5 277.8V283.5M993.5 281V285.9M997.5 279.9V290.4M1001.5 253.2V264.1M1010.5 246.2V258.3M1014.5 232.9V242M1020.5 230.1V237.2M1021.5 230V236.2M1024.5 230V236.2M1025.5 229V236.8M1026.5 230.9V235.7M1029.5 224.9V231.3M1030.5 222.5V228.4M1031.5 222.1V227.2M1034.5 220.4V226M1035.5 220.1V225.3M1037.5 215V220.9M1041.5 209.9V214.8M1042.5 210.9V215.5M1043.5 211.5V215.5M1050.5 208.5V213.7M1051.5 216.8V223.8M1054.5 225.8V234.8M1055.5 228.6V237.9M1059.5 232.1V241.1M1062.5 237.5V246.7M1063.5 240.5V252.4M1066.5 250.7V259.8M1070.5 244.3V252.7M1075.5 247.9V254.1M1076.5 250.5V258.6M1080.5 264V269.9M1081.5 267.9V273.6M1084.5 267V273.1M1085.5 257V270.6M1087.5 245.4V263.5M1088.5 239.4V256.2M1089.5 237.1V251.5M1091.5 238.2V249.2M1093.5 244V252M1096.5 252.9V258.3M1097.5 254.3V262.2M1099.5 255.3V265.1M1100.5 259.7V267.1M1101.5 262.1V268.6M1104.5 256.2V265.3M1105.5 244.2V258M1109.5 271.3V280M1110.5 275.6V285.8M1113.5 279.9V290M1114.5 279.5V290.7M1117.5 288.2V296.3M1118.5 291.1V301.5M1120.5 296.1V304.2M1122.5 296.2V305.5M1124.5 294.8V306.1M1126.5 302.7V312.4M1130.5 295.3V309.7M1133.5 293.8V302.2M1134.5 294.2V304.6M1141.5 304.1V310.7M1146.5 314.9V329.3M1156.5 315.4V326.8M1158.5 312.4V320.8M1163.5 306.4V315.2M1164.5 300.6V311.1M1166.5 297.9V305.2M1167.5 297.1V305.8M1168.5 298.7V304.9M1170.5 303.9V311.8M1171.5 313.9V323M1172.5 319V326.8M1177.5 327V333.5M1179.5 328.8V334.2M1180.5 330.6V336.2M1183.5 333.1V341.8M1184.5 333.2V343.8M1185.5 335.1V344.7M1188.5 330V339.1M1189.5 322.4V331.4M1192.5 312.1V322.3M1200.5 293.9V304.3M1201.5 293.7V304.3M1204.5 308.4V315.5M1208.5 316.9V324M1210.5 317.7V327.8M1212.5 319.3V329.3M1214.5 322.1V328.4M1217.5 318.7V325.2M1225.5 301.7V312.6M1230.5 304.6V316.4M1235.5 319.2V327.8M1237.5 319.7V328.5M1238.5 321.5V332.2M1242.5 333.3V345.1M1252.5 357.5V371.4M1255.5 362V374.7M1256.5 364.1V375.1M1258.5 363.6V375.6M1259.5 363.9V373.7M1266.5 365V370.5M1267.5 364.4V371.6M1270.5 363.2V373M1271.5 369.1V380.1M1274.5 384.9V399.4M1276.5 397.3V411.6M1281.5 402.7V413.9M1284.5 400.2V411.2M1285.5 401.3V414.4M1289.5 407.7V418.5M1292.5 411V421.5M1293.5 408.6V422.4M1298.5 395.4V411.6M1300.5 396.1V411.6M1301.5 399.6V413.3M1304.5 401.8V411.9M1305.5 401.9V409.4M1309.5 397.9V405.5M1310.5 395.9V403.3M1313.5 393.2V402M1314.5 393.3V404M1317.5 391.6V401.6M1320.5 392.8V401.2M1323.5 392V401.2M1327.5 383.1V392M1330.5 387.6V400.1M1333.5 400.9V412.6M1334.5 407.4V419.9M1335.5 411.4V427.2M1338.5 423.8V436.7M1341.5 431.2V450.3M1342.5 440.1V452.7M1345.5 442.8V458.3M1346.5 446.2V457.9M1348.5 418.4V446.3M1352.5 386.4V407.2M1354.5 382.1V402.4M1355.5 375V394.3M1362.5 311.8V341.3M1368.5 316.9V337.9M1370.5 326.9V351.9M1373.5 351V372.6M1376.5 347.2V366.8M1377.5 334.3V349.4M1380.5 323.2V342.9M1384.5 332V355.5M1387.5 315.6V338M1389.5 323.9V340.1M1392.5 346.2V367.4M1393.5 344.7V362M1397.5 343.4V354.5M1398.5 341.9V355.3M1404.5 344.4V357.1M1405.5 355V367.1M1409.5 360V372.2M1410.5 361.6V373.9M1412.5 360.7V372.1M1413.5 359.9V375.8M1416.5 364.8V375.3M1420.5 371.4V385.1M1421.5 370.6V382.9M1425.5 343.3V362.1M1426.5 345.4V363.7M1427.5 350.5V365.2M1429.5 355.8V368.5M1431.5 386.6V406.5M1433.5 389V408.9M1435.5 392.9V406.4M1438.5 393.5V407.1M1441.5 396.3V410.9M1443.5 396V409.5M1447.5 392.8V410.7M1448.5 397.7V411.4M1454.5 404.8V421.4M1459.5 424.9V436.5M1462.5 434.9V446.6M1463.5 440.2V449.2M1470.5 452.3V477.2M1472.5 451.8V471.6M1475.5 448V464.4M1477.5 442.5V461.8M1481.5 445.3V459.8M1484.5 443.8V454.9M1487.5 440.3V451M1488.5 438.4V450.6M1489.5 438.6V448.8M1491.5 437.9V448.6M1492.5 436V447.6M1495.5 436V448.7M1496.5 435.5V448.4M1497.5 436.4V447.2M1502.5 431.1V445.4M1504.5 430.5V442.6M1505.5 429.4V443.1M1506.5 431.5V444.7M1509.5 435V445.8M1512.5 282.6V320.6M1513.5 269.2V308.7M1514.5 235.1V281.8M1518.5 252.8V281.1M1523.5 231.7V254.9M1525.5 219.4V247.3M1527.5 199.8V219.8M1531.5 212.6V231.2M1533.5 215.2V234.2M1534.5 218.2V237.5M1543.5 233.5V250.8M1544.5 241.1V254.7M1546.5 245.9V257.5M1548.5 246.4V261.9M1550.5 247.3V259.5M1555.5 253.3V265.3M1556.5 256.8V266.9M1558.5 254.5V265.8M1559.5 252.3V261.6M1562.5 212.3V229.8M1563.5 195.7V214.8M1564.5 196.2V216.1M1575.5 219.9V238.3M1579.5 234.2V251.7M1580.5 234.7V248.3M1581.5 236.4V249.1M1583.5 234.1V244.8M1584.5 230.9V242.2M1587.5 227.7V237.5M1594.5 251V261.5M1598.5 256.6V264.1M1600.5 258.8V265.5M1605.5 265.9V275.8M1608.5 263.5V272M1609.5 261.9V271.5M1612.5 252.8V268M1614.5 249.1V264.2M1619.5 234.5V245.6M1621.5 231.3V240.4M1622.5 231.8V240.3M1623.5 237.1V247.8M1627.5 235.2V247M1629.5 223.8V236.2M1631.5 204.9V220.4M1633.5 205.7V221.7M1635.5 207.2V220.9M1638.5 191.2V218" stroke="#aeb0b7" stroke-width="1" fill="none"/>
<path d="M76.5 160.2V174M80.5 160.4V168.7M82.5 163.4V168.9M83.5 163.3V172M86.5 165.6V170.7M87.5 158.9V165.5M88.5 153.2V159.3M91.5 153V159.4M94.5 152.4V158.2M95.5 150.1V157.2M96.5 150.6V158.1M99.5 155.1V161.5M104.5 160V171.5M109.5 168.7V176.8M117.5 174.8V178.3M120.5 174.6V177.3M125.5 176V178.9M130.5 177.6V182.7M132.5 178.8V182.9M133.5 177.8V182.4M134.5 177.4V181.8M136.5 177.1V181.3M137.5 176V180.1M138.5 176.3V179.5M141.5 175.1V177.7M142.5 175.5V177.7M145.5 175.1V177.9M147.5 175.1V177.7M149.5 175.8V178.1M150.5 175.7V178.5M157.5 177.5V180.5M159.5 176.7V179.8M161.5 176.3V179.4M162.5 176.4V178.6M163.5 174.8V178.5M165.5 172V177.8M166.5 170.4V177.5M168.5 173.8V179.4M170.5 174.6V179.8M171.5 177V180.8M172.5 178.9V181.6M174.5 178.8V181.3M175.5 178.4V181.3M179.5 179V181.4M180.5 179.3V182M183.5 179.3V181.5M184.5 179.6V181.6M187.5 179.2V181.4M188.5 178.8V181.4M190.5 178.7V181M191.5 178.8V181.3M192.5 178.8V181.3M193.5 178.5V180.7M195.5 178.6V181.1M197.5 178.1V180.7M200.5 178.7V180.9M201.5 178.3V180.9M208.5 178.9V180.7M209.5 179V180.9M212.5 178.7V180.5M215.5 179.1V180.9M217.5 179.1V180.6M218.5 179V180.7M221.5 179.1V180.9M222.5 178.9V181.1M226.5 179V180.8M230.5 178.9V180.9M232.5 178.9V180.5M233.5 178.9V180.6M234.5 178.6V180.4M236.5 178.9V180.6M237.5 178.9V180.5M240.5 178.6V180.8M241.5 178.8V180.5M242.5 179.1V180.7M243.5 179.3V180.7M245.5 179.3V181.1M249.5 179.2V180.9M250.5 179.4V180.8M254.5 179.1V181M261.5 179V180.9M263.5 179.1V180.8M265.5 179V180.7M266.5 179V180.9M267.5 178.8V180.9M268.5 179V180.6M270.5 179V180.8M271.5 179.3V180.5M272.5 178.8V180.6M274.5 178.9V180.8M275.5 179V180.6M276.5 178.9V180.5M279.5 179V180.8M280.5 178.7V180.5M284.5 179V180.5M286.5 178.8V180.7M291.5 178.9V180.6M293.5 178.7V180.7M296.5 178.9V180.7M297.5 179.1V180.4M303.5 178.8V180.6M307.5 178.9V180.7M308.5 179V180.9M309.5 178.7V180.9M315.5 144.7V173.4M316.5 147.9V170.5M317.5 153.9V168.2M318.5 150.6V159.8M320.5 134V145.8M321.5 126.9V145.1M325.5 132V147.8M326.5 136V148.3M329.5 143.2V149.5M332.5 138.6V147.8M333.5 133.4V144.8M334.5 123.7V137.2M336.5 107V127M339.5 102.3V113.7M342.5 95V118.1M345.5 67.3V96.2M346.5 55.3V85.8M347.5 58.7V81.7M349.5 67.4V85.7M350.5 74V96.1M355.5 73.7V92.9M358.5 77.1V92.4M359.5 71.1V86.5M363.5 72.6V93M364.5 78.4V94.2M371.5 86.7V95.5M375.5 102.5V118.4M378.5 104.6V126.5M382.5 103.4V116.6M388.5 93.7V105.4M389.5 92.5V106.2M393.5 111.6V123M395.5 115.6V130.9M396.5 123.3V136.5M397.5 126.7V139.8M400.5 136.4V152.1M401.5 141.2V158.4M403.5 146.4V166M404.5 148.8V168.1M405.5 153.8V169.8M408.5 168.8V181.7M411.5 182.8V193.4M412.5 182.6V197.8M413.5 179V199.4M414.5 176.9V195.4M417.5 177.1V188.2M421.5 168.4V183.1M426.5 147.6V164.4M429.5 153.4V165.7M430.5 155.6V169.2M433.5 171.4V194.8M434.5 180.3V192.5M437.5 183.8V197.6M438.5 183.7V199.4M439.5 184.6V199.2M441.5 183.9V199.2M443.5 185.6V197.3M446.5 191.5V208.4M449.5 201.6V214.3M450.5 202.7V213.1M453.5 206.8V219.1M454.5 200.4V214M455.5 193V208.6M457.5 186.6V200.8M459.5 179.8V195.4M464.5 166.7V182M470.5 168.4V181.5M472.5 172.7V183.9M474.5 176.4V187.7M475.5 178.4V194.3M478.5 188.6V203.6M479.5 193.8V209.6M484.5 207.7V217.6M489.5 210.8V224.9M496.5 226.4V239.1M501.5 221.1V236.5M503.5 220.4V234.6M504.5 229.3V244.4M507.5 246V266.2M509.5 248.1V271.5M511.5 247.7V264.3M512.5 238.4V254.2M513.5 235.8V249.7M520.5 227.2V242.3M525.5 213.3V231.6M529.5 213.8V230.6M532.5 226.3V243.9M537.5 254.6V271.1M538.5 267.1V280.4M541.5 274.1V287.4M546.5 287.1V302.5M549.5 296V312.8M550.5 301.6V317.7M551.5 307.4V326.2M553.5 317.9V335.1M554.5 325V340.7M555.5 330.5V345M559.5 325.2V337.2M561.5 322.5V337.7M568.5 301.8V311.8M570.5 292.9V303.4M571.5 288.5V302.4M574.5 291.6V305.8M576.5 287.9V303.6M578.5 286.3V300.6M579.5 285V296M588.5 286V301.9M591.5 272.8V286.5M592.5 259.4V274.1M593.5 237V255.7M595.5 216.1V238.1M599.5 236.9V261.5M603.5 249.4V268.4M607.5 251.1V266.1M608.5 257.4V271.4M609.5 263.6V280.1M610.5 269.5V284.3M612.5 272.1V284.9M614.5 270.9V283.5M616.5 268.4V281.8M617.5 267.4V280.1M618.5 266.4V276.6M620.5 265.2V274.5M622.5 263.3V273.6M624.5 267.2V276.4M625.5 268.8V278.6M628.5 272.8V286.8M632.5 281.1V295M634.5 278.9V293.8M638.5 276.9V290.4M641.5 269.7V287.9M646.5 306.1V319.9M653.5 312.3V324.5M654.5 313.8V325.4M660.5 304.5V316.6M663.5 307.8V320.9M666.5 311.4V324.1M667.5 312.8V323.4M668.5 314.5V324.1M678.5 283.1V301.2M679.5 274.6V298.3M683.5 296.5V310.1M685.5 305.3V318.2M687.5 308.7V321.4M688.5 306.2V318.1M696.5 299.3V312.9M697.5 304.2V315.3M699.5 304.9V318.9M700.5 306.6V320.2M703.5 309.1V323.2M705.5 320.7V334.6M707.5 324.2V339.2M709.5 334.2V346.9M710.5 338.2V349.8M713.5 345.8V355.8M718.5 347.5V361.2M720.5 343.5V357.3M721.5 337.1V351.4M722.5 332.3V343.1M724.5 329.4V343.2M729.5 311.5V326M730.5 306.8V323.3M732.5 305.5V318.4M733.5 305.6V316.9M739.5 290.8V301M741.5 289.5V299.3M742.5 285.4V296.4M745.5 278.4V291.3M746.5 276.2V289.1M749.5 265.3V280.2M750.5 262.9V278M751.5 262.8V273.8M753.5 262V271.4M754.5 263.8V273.6M755.5 264.4V276.7M757.5 266.4V277M758.5 269.6V281.4M762.5 265.8V279.3M763.5 266.8V281.8M764.5 268.3V282.4M768.5 248.9V264.9M771.5 245.8V262M772.5 249.1V261.1M774.5 250.3V266.6M775.5 245.7V268.8M776.5 249.2V264.6M778.5 245.9V261.1M779.5 244.6V256.9M780.5 243.8V257.2M783.5 245.3V257.8M784.5 250.2V259.7M785.5 246V259.8M787.5 246.2V256.9M791.5 236V246.7M793.5 233.7V242.4M796.5 236.9V249.7M804.5 229.4V238.8M810.5 237.2V245.5M813.5 236.2V243.5M814.5 234.1V240.3M818.5 239.3V245.3M824.5 259.6V271.9M826.5 269.2V280.2M828.5 271.2V282.6M829.5 272.1V279.9M831.5 266.7V277.9M835.5 251.1V261.1M838.5 247.4V255.9M839.5 247.6V257.6M841.5 240.9V254M842.5 227.4V246.9M843.5 213V238.6M845.5 205.3V224.8M846.5 202.6V211.1M849.5 188.1V200.4M853.5 213.8V228.7M854.5 207.2V222.3M856.5 199.2V208.7M860.5 195.5V200.7M862.5 193.7V199.1M863.5 193V199.3M866.5 186.1V192.2M868.5 179.3V185.8M870.5 180.3V188M871.5 182.9V191.9M872.5 186.5V194.5M874.5 188.6V198M876.5 195.6V203.8M879.5 192V200.3M880.5 188.7V196.1M881.5 184.1V190.8M883.5 176.8V185.6M884.5 169.9V179.5M888.5 168.1V178.2M892.5 171.5V177.4M893.5 170.1V177M895.5 167.7V176.2M897.5 171.3V179.1M900.5 176.3V187.9M901.5 177.2V195.1M903.5 179.1V193M904.5 181.5V190.9M908.5 175.8V185.1M913.5 173.5V181.8M914.5 179.3V185.5M917.5 185V194M918.5 188.3V196M920.5 191.9V199.3M921.5 195.5V201.9M925.5 178.6V204.7M930.5 208.8V217.1M931.5 204V211.6M933.5 204.1V212.7M938.5 203.2V212.1M939.5 201.7V209.1M942.5 199.6V205.7M943.5 199.2V205.8M947.5 205.5V213.8M949.5 205.9V213.8M951.5 211.6V217.6M954.5 218.1V222.6M959.5 231V237.4M964.5 234.5V239.1M967.5 234.3V241.1M972.5 243.5V251.3M974.5 246.8V255.2M975.5 248.8V256.8M976.5 248.2V256.6M978.5 249.2V256.5M981.5 260.1V265.5M984.5 264.7V269.1M985.5 264.3V271.3M987.5 266.5V273.3M988.5 269.3V276.3M989.5 270.3V278.4M995.5 282.8V289.6M996.5 283.2V295.5M999.5 274.4V284.4M1000.5 264.9V273.1M1003.5 254.1V267.7M1004.5 255.9V269M1005.5 254.6V265.6M1006.5 251.8V263.8M1008.5 251.5V263.1M1009.5 249.9V262M1012.5 243V250.9M1013.5 237.8V246.5M1016.5 229.9V239.4M1017.5 229.7V238.2M1018.5 228.6V236.7M1022.5 230.2V236.1M1028.5 229.3V233.6M1033.5 221.1V225.8M1038.5 208.9V214.7M1039.5 208.4V215M1045.5 211.1V214.4M1046.5 208.9V211.9M1047.5 206.6V210.9M1049.5 207.8V212.1M1053.5 221.7V231.8M1056.5 230.7V238.5M1058.5 231.2V237.3M1060.5 234.4V244.9M1064.5 246.9V254M1067.5 252.1V258.2M1068.5 247.2V255.3M1071.5 245.3V252.6M1072.5 245.3V252.6M1074.5 247.3V253.4M1077.5 253.1V262.5M1079.5 256.6V267.8M1083.5 266.9V273.4M1092.5 238.2V249.8M1095.5 247.1V256.2M1102.5 259.5V268.1M1106.5 234.2V253.5M1108.5 253V269.6M1112.5 277.4V292.1M1116.5 282.8V293.2M1121.5 297.6V306.1M1125.5 297.7V309.7M1127.5 302.5V316.4M1129.5 298.6V312.4M1131.5 295.4V304.9M1135.5 297.4V305.1M1137.5 297.7V306.2M1138.5 298.4V308.3M1139.5 299.4V308.1M1142.5 306.8V314.8M1143.5 310.8V320.2M1145.5 315V327.3M1147.5 317.8V329.6M1149.5 322.5V330.5M1150.5 327.3V337.7M1151.5 331.7V344.7M1152.5 330.2V339.4M1154.5 328.7V335.9M1155.5 324.4V330.8M1159.5 305.4V315.2M1160.5 305.8V315.1M1162.5 307.6V315.5M1174.5 320.4V329.3M1175.5 323.7V329.9M1176.5 325.6V332.5M1181.5 330.8V338.6M1187.5 336.6V347.9M1191.5 317.2V327.2M1193.5 309V319M1195.5 306.2V316.5M1196.5 304.2V313.3M1197.5 303.9V313.9M1199.5 305.5V315.5M1202.5 302.6V311.7M1205.5 312.7V318.3M1206.5 314V321.2M1209.5 316.6V327.5M1213.5 321.8V329.9M1216.5 319.4V326.7M1218.5 315.1V322.3M1220.5 312.5V321.5M1221.5 309.9V320M1222.5 308.5V317.2M1224.5 305.1V315.7M1226.5 298.5V311.9M1227.5 298.1V307.7M1229.5 297.4V311M1231.5 309.9V319.2M1233.5 316.8V325.2M1234.5 317.9V328M1239.5 325.1V335.2M1241.5 327.5V338.8M1243.5 338.8V352.6M1245.5 344.3V357M1246.5 351.2V362M1247.5 356.9V370M1249.5 358.4V374.4M1250.5 360.6V371.4M1251.5 360.4V371.1M1254.5 360.5V373.3M1260.5 364.4V374.8M1262.5 363.9V373.9M1263.5 364.7V372.3M1264.5 363.1V372.6M1268.5 364.2V373.2M1272.5 379.3V388.8M1275.5 391V410.9M1277.5 397.9V412.9M1279.5 402.9V419M1280.5 403V414.7M1283.5 401.2V413.2M1287.5 403.4V412.7M1288.5 402.5V416.7M1291.5 407.6V422M1295.5 403.9V418.1M1296.5 397.2V410.3M1297.5 391.3V406.6M1302.5 400.8V411.1M1306.5 402.6V409.9M1308.5 400.7V406.3M1312.5 394.2V402.5M1316.5 390.7V401.7M1318.5 393.5V401M1321.5 391.8V399.9M1322.5 392V399.6M1325.5 387.5V397M1326.5 381.3V391.5M1329.5 383.9V396.3M1331.5 391.5V405M1337.5 416.6V432.2M1339.5 429.3V443.1M1343.5 442.9V456.8M1347.5 432V451.6M1350.5 405.5V432.2M1351.5 394.1V415.7M1356.5 364.5V382.5M1358.5 347.4V370.3M1359.5 331.3V359.3M1360.5 324.2V345.9M1363.5 309.6V331.2M1364.5 306V323.6M1366.5 306.3V328.1M1367.5 310.5V331.3M1371.5 337.4V361.9M1372.5 345V367M1375.5 358.7V377.8M1379.5 324.3V337.3M1381.5 326.4V343.9M1383.5 329.2V349.1M1385.5 332.6V358.3M1388.5 312.8V329.3M1391.5 333.6V354.8M1395.5 344.5V360.6M1396.5 343.5V356M1400.5 340.4V353.5M1401.5 339.8V352M1402.5 337.2V348.9M1406.5 363V376.1M1408.5 362.5V374.7M1414.5 364.2V374.5M1417.5 365.8V379.8M1418.5 367.4V381.1M1422.5 361.4V374.8M1423.5 353.8V368.2M1430.5 370.4V385M1434.5 390.9V406.3M1437.5 393V403.5M1439.5 392.5V408.3M1442.5 396.1V410.9M1445.5 392.8V409.8M1446.5 394V409.6M1450.5 398.1V414.5M1451.5 398V413.1M1452.5 402.6V415.8M1455.5 409.9V422.6M1456.5 414.1V426.4M1458.5 420.2V429.7M1460.5 430.1V442.9M1464.5 444.3V455.7M1466.5 450.4V464M1467.5 453.6V475.6M1468.5 456.2V476.7M1471.5 454.6V474.5M1473.5 445.7V469.5M1476.5 441.9V465M1479.5 441.5V460.9M1480.5 443.4V457.9M1483.5 443.6V455M1485.5 441.8V451.7M1493.5 436.8V449.6M1498.5 437.3V446.6M1500.5 435.6V446.4M1501.5 431.6V445.6M1508.5 432.4V445.1M1510.5 288.3V319.1M1516.5 237.6V285.6M1517.5 255.4V285.8M1520.5 256V280.5M1521.5 248.1V269.7M1522.5 243.2V263.1M1526.5 211.3V235.9M1529.5 197.5V214.3M1530.5 208.5V223.9M1535.5 221.9V241.7M1537.5 221.5V239.7M1538.5 220.3V242.9M1539.5 222.3V244.9M1541.5 227V244.9M1542.5 228.3V244.1M1547.5 244.8V259.4M1551.5 245.1V259.1M1552.5 244.4V257M1554.5 248.1V261.2M1560.5 234.1V244.9M1566.5 198.9V214.8M1567.5 196.8V215.1M1568.5 192.5V208.4M1569.5 190.1V204.5M1571.5 195.7V212M1572.5 202.5V222.6M1573.5 212.9V230.3M1576.5 224.8V243.2M1577.5 227.5V246.3M1585.5 226.8V236.5M1588.5 231.5V242.5M1589.5 237.1V246.8M1591.5 241.9V254.2M1592.5 245.7V258.8M1593.5 250.3V258.1M1596.5 252.3V262.9M1597.5 254.9V263.2M1601.5 259.8V267.5M1602.5 262.2V271.6M1604.5 264.9V272.5M1606.5 268V276M1610.5 258.6V270M1613.5 252.2V266.3M1616.5 245.3V259.7M1617.5 242V256.3M1618.5 236V250.5M1625.5 242V251M1626.5 242V253.5M1630.5 217.6V229.5M1634.5 208.5V223.1M1637.5 206.2V222.6M1639.5 173.3V208.5M1641.5 155.2V178.1M1642.5 132.2V152.3M1643.5 115.2V138.1" stroke="#5a5d68" stroke-width="1" fill="none"/>
<polyline points="347,50.7 553.6,347.5" fill="none" stroke="#6fc072" stroke-width="1"/>
<polyline points="594.5,213 717.8,366.4 886.3,161.3 1345,458.4" fill="none" stroke="#6fc072" stroke-width="1"/>
<polyline points="1364.1,302 1467.5,481.5" fill="none" stroke="#6fc072" stroke-width="1"/>
<polyline points="1467.5,481.5 1487.4,432.2 1495.2,454.7 1501.9,423.4 1509.9,447.7 1528.3,192.6 1555.9,269.2 1569.5,187.3 1577.4,253.4 1585.2,224.6 1606.2,276.5 1621.2,229.8 1625.9,254.7 1643.4,108.6" fill="none" stroke="#f23645" stroke-width="1"/>
<rect x="179.4" y="509.3" width="12.4" height="12.4" rx="2" fill="#fff" stroke="#4a4a4a" stroke-width="1.6"/><text x="185.6" y="519.2" font-size="9.5" font-weight="bold" fill="#4a4a4a" text-anchor="middle">E</text>
<path d="M254.1 509.5h12.4v8.3l-6.2 3.9l-6.2 -3.9z" fill="#fff" stroke="#f23645" stroke-width="1.6" stroke-linejoin="round"/><text x="260.3" y="518.2" font-size="9.5" font-weight="bold" fill="#f23645" text-anchor="middle">E</text>
<path d="M334.8 509.5h12.4v8.3l-6.2 3.9l-6.2 -3.9z" fill="#fff" stroke="#f23645" stroke-width="1.6" stroke-linejoin="round"/><text x="341" y="518.2" font-size="9.5" font-weight="bold" fill="#f23645" text-anchor="middle">E</text>
<rect x="349.4" y="509.3" width="12.4" height="12.4" rx="2" fill="#fff" stroke="#4a4a4a" stroke-width="1.6"/><text x="355.6" y="519.2" font-size="9.5" font-weight="bold" fill="#4a4a4a" text-anchor="middle">E</text>
<path d="M423.7 521.6h12.4v-8.3l-6.2 -3.9l-6.2 3.9z" fill="#fff" stroke="#089981" stroke-width="1.6" stroke-linejoin="round"/><text x="429.9" y="520.3" font-size="9.5" font-weight="bold" fill="#089981" text-anchor="middle">E</text>
<path d="M503.3 521.6h12.4v-8.3l-6.2 -3.9l-6.2 3.9z" fill="#fff" stroke="#089981" stroke-width="1.6" stroke-linejoin="round"/><text x="509.5" y="520.3" font-size="9.5" font-weight="bold" fill="#089981" text-anchor="middle">E</text>
<path d="M587.4 521.6h12.4v-8.3l-6.2 -3.9l-6.2 3.9z" fill="#fff" stroke="#089981" stroke-width="1.6" stroke-linejoin="round"/><text x="593.6" y="520.3" font-size="9.5" font-weight="bold" fill="#089981" text-anchor="middle">E</text>
<path d="M668.4 521.6h12.4v-8.3l-6.2 -3.9l-6.2 3.9z" fill="#fff" stroke="#089981" stroke-width="1.6" stroke-linejoin="round"/><text x="674.6" y="520.3" font-size="9.5" font-weight="bold" fill="#089981" text-anchor="middle">E</text>
<path d="M761.8 521.6h12.4v-8.3l-6.2 -3.9l-6.2 3.9z" fill="#fff" stroke="#089981" stroke-width="1.6" stroke-linejoin="round"/><text x="768" y="520.3" font-size="9.5" font-weight="bold" fill="#089981" text-anchor="middle">E</text>
<path d="M835.5 521.6h12.4v-8.3l-6.2 -3.9l-6.2 3.9z" fill="#fff" stroke="#089981" stroke-width="1.6" stroke-linejoin="round"/><text x="841.7" y="520.3" font-size="9.5" font-weight="bold" fill="#089981" text-anchor="middle">E</text>
<path d="M917.8 521.6h12.4v-8.3l-6.2 -3.9l-6.2 3.9z" fill="#fff" stroke="#089981" stroke-width="1.6" stroke-linejoin="round"/><text x="924" y="520.3" font-size="9.5" font-weight="bold" fill="#089981" text-anchor="middle">E</text>
<path d="M1000.2 521.6h12.4v-8.3l-6.2 -3.9l-6.2 3.9z" fill="#fff" stroke="#089981" stroke-width="1.6" stroke-linejoin="round"/><text x="1006.4" y="520.3" font-size="9.5" font-weight="bold" fill="#089981" text-anchor="middle">E</text>
<path d="M1098.5 521.6h12.4v-8.3l-6.2 -3.9l-6.2 3.9z" fill="#fff" stroke="#089981" stroke-width="1.6" stroke-linejoin="round"/><text x="1104.7" y="520.3" font-size="9.5" font-weight="bold" fill="#089981" text-anchor="middle">E</text>
<path d="M1163.4 509.5h12.4v8.3l-6.2 3.9l-6.2 -3.9z" fill="#fff" stroke="#f23645" stroke-width="1.6" stroke-linejoin="round"/><text x="1169.6" y="518.2" font-size="9.5" font-weight="bold" fill="#f23645" text-anchor="middle">E</text>
<path d="M1240.8 509.5h12.4v8.3l-6.2 3.9l-6.2 -3.9z" fill="#fff" stroke="#f23645" stroke-width="1.6" stroke-linejoin="round"/><text x="1247" y="518.2" font-size="9.5" font-weight="bold" fill="#f23645" text-anchor="middle">E</text>
<path d="M1325.7 521.6h12.4v-8.3l-6.2 -3.9l-6.2 3.9z" fill="#fff" stroke="#089981" stroke-width="1.6" stroke-linejoin="round"/><text x="1331.9" y="520.3" font-size="9.5" font-weight="bold" fill="#089981" text-anchor="middle">E</text>
<path d="M1423.4 521.6h12.4v-8.3l-6.2 -3.9l-6.2 3.9z" fill="#fff" stroke="#089981" stroke-width="1.6" stroke-linejoin="round"/><text x="1429.6" y="520.3" font-size="9.5" font-weight="bold" fill="#089981" text-anchor="middle">E</text>
<path d="M1487.6 521.6h12.4v-8.3l-6.2 -3.9l-6.2 3.9z" fill="#fff" stroke="#089981" stroke-width="1.6" stroke-linejoin="round"/><text x="1493.8" y="520.3" font-size="9.5" font-weight="bold" fill="#089981" text-anchor="middle">E</text>
<path d="M1570.1 509.5h12.4v8.3l-6.2 3.9l-6.2 -3.9z" fill="#fff" stroke="#f23645" stroke-width="1.6" stroke-linejoin="round"/><text x="1576.3" y="518.2" font-size="9.5" font-weight="bold" fill="#f23645" text-anchor="middle">E</text>
<rect x="1654.6" y="509.3" width="12.4" height="12.4" rx="2" fill="#fff" stroke="#e040fb" stroke-width="1.6"/><text x="1660.8" y="519.2" font-size="9.5" font-weight="bold" fill="#e040fb" text-anchor="middle">E</text>
<path d="M41.3 521.2L46.5 515.8Q48.5 513.3 50.9 513.3Q53 513.3 54 513.9L56.1 515.2V508.4H52.9V506.5Q53.5 505.1 55.8 505.1Q58.9 505.1 58.9 507.5V516.7Q58.9 518.6 56.1 519.8V523.2H53.2V521.2H49.3V523.2H46.4V521.2Z" fill="#fff" stroke="#131722" stroke-width="1.2" stroke-linejoin="round"/>
<line x1="0" x2="1834" y1="525.5" y2="525.5" stroke="#e0e3eb" stroke-width="1"/>
<line x1="0" x2="1834" y1="625.5" y2="625.5" stroke="#e0e3eb" stroke-width="1"/>
<line x1="0" x2="1834" y1="722.5" y2="722.5" stroke="#e0e3eb" stroke-width="1"/>
<path d="M129.5 584.2V583.7M130.5 584.2V583.7M131.5 584.2V583.6M133.5 584.2V583.6M134.5 584.2V583.6M135.5 584.2V583.5M137.5 584.2V583.5M138.5 584.2V583.5M139.5 584.2V583.5M140.5 584.2V583.5M142.5 584.2V583.5M143.5 584.2V583.5M144.5 584.2V583.4M146.5 584.2V583.4M147.5 584.2V583.4M148.5 584.2V583.4M150.5 584.2V583.5M151.5 584.2V583.5M152.5 584.2V583.6M154.5 584.2V583.6M155.5 584.2V583.7M156.5 584.2V583.7M158.5 584.2V583.7M159.5 584.2V583.8M160.5 584.2V583.8M162.5 584.2V583.8M313.5 584.2V583.3M314.5 584.2V582.2M315.5 584.2V580.5M317.5 584.2V578.7M318.5 584.2V577.5M319.5 584.2V576.2M321.5 584.2V574.7M322.5 584.2V572.4M323.5 584.2V571.8M325.5 584.2V572.5M326.5 584.2V575M327.5 584.2V577.3M329.5 584.2V579.6M330.5 584.2V581.5M331.5 584.2V582.6M333.5 584.2V581.9M334.5 584.2V580.1M335.5 584.2V578.3M336.5 584.2V577.6M338.5 584.2V576.8M339.5 584.2V575.9M340.5 584.2V574.7M342.5 584.2V573.3M343.5 584.2V571.1M344.5 584.2V569.2M346.5 584.2V566.7M347.5 584.2V564.1M348.5 584.2V564.7M350.5 584.2V569.3M351.5 584.2V576.6M352.5 584.2V581.5M418.5 584.2V581.9M419.5 584.2V580.6M421.5 584.2V579.7M422.5 584.2V579.3M423.5 584.2V578.1M425.5 584.2V576.4M426.5 584.2V574.3M427.5 584.2V572.3M429.5 584.2V571M430.5 584.2V571.1M431.5 584.2V573.3M433.5 584.2V576M434.5 584.2V578.6M435.5 584.2V580.1M436.5 584.2V581.7M438.5 584.2V582.4M439.5 584.2V583.1M440.5 584.2V583.2M447.5 584.2V583.3M448.5 584.2V581.6M450.5 584.2V580M451.5 584.2V578.8M452.5 584.2V578.1M454.5 584.2V577.8M455.5 584.2V577.4M456.5 584.2V576.9M458.5 584.2V575.8M459.5 584.2V574.3M460.5 584.2V573.3M461.5 584.2V573.4M463.5 584.2V574.5M464.5 584.2V575.4M465.5 584.2V576.2M467.5 584.2V577.1M468.5 584.2V578.5M469.5 584.2V580.1M471.5 584.2V581.4M472.5 584.2V582.8M500.5 584.2V583.5M501.5 584.2V583.1M513.5 584.2V580.4M514.5 584.2V578M515.5 584.2V577M517.5 584.2V577M518.5 584.2V577M519.5 584.2V576.9M521.5 584.2V576.4M522.5 584.2V576.2M523.5 584.2V576.6M525.5 584.2V577.9M526.5 584.2V579.1M527.5 584.2V580.1M529.5 584.2V581.7M557.5 584.2V582.2M559.5 584.2V580.7M560.5 584.2V579.9M561.5 584.2V579.7M563.5 584.2V580M564.5 584.2V580.5M565.5 584.2V580.7M567.5 584.2V581.1M568.5 584.2V581.1M569.5 584.2V580.6M571.5 584.2V579.9M572.5 584.2V579.3M573.5 584.2V579M575.5 584.2V578.9M576.5 584.2V579M577.5 584.2V579.1M579.5 584.2V579.2M580.5 584.2V579.2M581.5 584.2V579M582.5 584.2V578.8M584.5 584.2V578.5M585.5 584.2V578.9M586.5 584.2V578.7M588.5 584.2V578.8M589.5 584.2V578.8M590.5 584.2V579.2M592.5 584.2V578.6M593.5 584.2V578M594.5 584.2V576.7M596.5 584.2V576.3M597.5 584.2V576.8M598.5 584.2V579M600.5 584.2V581.5M601.5 584.2V583.7M669.5 584.2V583.5M671.5 584.2V582.7M672.5 584.2V581.8M673.5 584.2V580.8M675.5 584.2V580.1M676.5 584.2V579.6M677.5 584.2V579.3M679.5 584.2V579M680.5 584.2V579.2M681.5 584.2V580.1M682.5 584.2V581.7M684.5 584.2V583.3M692.5 584.2V583.6M723.5 584.2V583.4M725.5 584.2V582.5M726.5 584.2V581.7M727.5 584.2V581.2M729.5 584.2V580.9M730.5 584.2V580.2M731.5 584.2V579.6M732.5 584.2V579.5M734.5 584.2V579.4M735.5 584.2V579.1M736.5 584.2V579.2M738.5 584.2V579.5M739.5 584.2V579.6M740.5 584.2V579.7M742.5 584.2V579.8M743.5 584.2V580.1M744.5 584.2V580.1M746.5 584.2V580.1M747.5 584.2V580.4M748.5 584.2V580.8M750.5 584.2V580.8M751.5 584.2V581M752.5 584.2V581.5M753.5 584.2V582.3M755.5 584.2V583.1M756.5 584.2V583.5M757.5 584.2V583.6M759.5 584.2V583.4M760.5 584.2V583.1M761.5 584.2V583.3M773.5 584.2V583.8M775.5 584.2V583.6M776.5 584.2V583.7M777.5 584.2V583.6M778.5 584.2V583.5M780.5 584.2V583.5M781.5 584.2V583.7M782.5 584.2V583.7M828.5 584.2V582.6M830.5 584.2V581.3M831.5 584.2V580.1M832.5 584.2V579.2M834.5 584.2V578.6M835.5 584.2V577.7M836.5 584.2V576.8M838.5 584.2V575.2M839.5 584.2V574.2M840.5 584.2V574.2M842.5 584.2V575.3M843.5 584.2V576.5M844.5 584.2V577.4M846.5 584.2V577.8M847.5 584.2V578.2M848.5 584.2V578.5M850.5 584.2V578.8M851.5 584.2V579.5M852.5 584.2V580.4M853.5 584.2V581.2M855.5 584.2V581.4M856.5 584.2V581.4M857.5 584.2V581.3M859.5 584.2V581.7M860.5 584.2V581.9M861.5 584.2V582.2M863.5 584.2V582.1M864.5 584.2V582.7M865.5 584.2V582.9M867.5 584.2V583.3M939.5 584.2V583.6M940.5 584.2V583.6M994.5 584.2V583.7M996.5 584.2V582.8M997.5 584.2V581.2M998.5 584.2V579.8M999.5 584.2V579M1001.5 584.2V579M1002.5 584.2V578.9M1003.5 584.2V578.6M1005.5 584.2V577.9M1006.5 584.2V577.6M1007.5 584.2V577.5M1009.5 584.2V577.7M1010.5 584.2V577.9M1011.5 584.2V578.4M1013.5 584.2V579M1014.5 584.2V579.4M1015.5 584.2V579.8M1017.5 584.2V580.2M1018.5 584.2V580.6M1019.5 584.2V580.5M1021.5 584.2V580.4M1022.5 584.2V580.8M1023.5 584.2V581.2M1024.5 584.2V581.4M1026.5 584.2V581.3M1027.5 584.2V581.5M1028.5 584.2V581.3M1030.5 584.2V581.6M1031.5 584.2V581.9M1032.5 584.2V582.3M1034.5 584.2V582.2M1035.5 584.2V581.6M1036.5 584.2V581.2M1038.5 584.2V580.8M1039.5 584.2V580.7M1040.5 584.2V581M1042.5 584.2V581.9M1043.5 584.2V582.7M1044.5 584.2V583.3M1046.5 584.2V583.7M1084.5 584.2V582.6M1085.5 584.2V580.8M1086.5 584.2V579.7M1088.5 584.2V579M1089.5 584.2V579.5M1090.5 584.2V580.4M1092.5 584.2V581.5M1093.5 584.2V582.6M1094.5 584.2V583.8M1098.5 584.2V583.7M1099.5 584.2V583.5M1101.5 584.2V583.4M1102.5 584.2V583.6M1135.5 584.2V583.3M1136.5 584.2V583.1M1138.5 584.2V582.7M1139.5 584.2V582.1M1140.5 584.2V581.8M1142.5 584.2V581.5M1143.5 584.2V581.7M1144.5 584.2V581.6M1146.5 584.2V581.7M1147.5 584.2V581.4M1148.5 584.2V581.5M1149.5 584.2V581.7M1151.5 584.2V582.2M1152.5 584.2V582.6M1153.5 584.2V583.2M1155.5 584.2V583.1M1156.5 584.2V582.8M1157.5 584.2V582.6M1159.5 584.2V582.7M1160.5 584.2V583M1161.5 584.2V583.3M1163.5 584.2V583.4M1164.5 584.2V583.5M1165.5 584.2V583.3M1167.5 584.2V583.4M1168.5 584.2V583.5M1184.5 584.2V583.4M1185.5 584.2V582.8M1186.5 584.2V582.4M1188.5 584.2V582.3M1189.5 584.2V582.3M1190.5 584.2V582.5M1192.5 584.2V582.7M1193.5 584.2V583M1194.5 584.2V582.6M1196.5 584.2V581.9M1197.5 584.2V581M1198.5 584.2V580.3M1199.5 584.2V579.7M1201.5 584.2V580.3M1202.5 584.2V581.7M1203.5 584.2V583.5M1222.5 584.2V582.8M1223.5 584.2V582M1224.5 584.2V581.3M1226.5 584.2V581.3M1227.5 584.2V581.2M1228.5 584.2V581.9M1230.5 584.2V582.5M1231.5 584.2V583.7M1265.5 584.2V583.4M1267.5 584.2V583.2M1268.5 584.2V582.9M1269.5 584.2V583.5M1278.5 584.2V583.6M1280.5 584.2V583.4M1281.5 584.2V583.7M1295.5 584.2V583.8M1297.5 584.2V583M1298.5 584.2V582.7M1299.5 584.2V582.8M1301.5 584.2V583.1M1302.5 584.2V583.5M1303.5 584.2V583.5M1305.5 584.2V583.2M1306.5 584.2V582.4M1307.5 584.2V582.3M1309.5 584.2V582.4M1310.5 584.2V582.9M1311.5 584.2V582.7M1313.5 584.2V583M1314.5 584.2V582.7M1315.5 584.2V582.8M1317.5 584.2V582.5M1318.5 584.2V582.8M1319.5 584.2V582.4M1320.5 584.2V582.3M1322.5 584.2V582.2M1323.5 584.2V582.6M1324.5 584.2V582.9M1326.5 584.2V583.4M1327.5 584.2V583.6M1328.5 584.2V583.7M1355.5 584.2V583.4M1356.5 584.2V581.2M1357.5 584.2V579.2M1359.5 584.2V577.4M1360.5 584.2V576.1M1361.5 584.2V575.6M1363.5 584.2V575.6M1364.5 584.2V575.9M1365.5 584.2V577.3M1367.5 584.2V579.5M1368.5 584.2V581.9M1369.5 584.2V583.7M1420.5 584.2V583.1M1422.5 584.2V582.7M1423.5 584.2V582.9M1424.5 584.2V583.5M1473.5 584.2V583.7M1474.5 584.2V583.3M1476.5 584.2V582.9M1477.5 584.2V582.7M1478.5 584.2V583M1480.5 584.2V583M1481.5 584.2V583M1482.5 584.2V582.8M1484.5 584.2V582.9M1485.5 584.2V582.9M1486.5 584.2V583M1488.5 584.2V582.7M1489.5 584.2V582.8M1490.5 584.2V582.8M1491.5 584.2V583.1M1493.5 584.2V583.6M1494.5 584.2V583.7M1495.5 584.2V583.3M1497.5 584.2V582.8M1498.5 584.2V582.5M1499.5 584.2V582.4M1501.5 584.2V582.7M1502.5 584.2V582.8M1503.5 584.2V582.6M1505.5 584.2V581.9M1506.5 584.2V581.3M1507.5 584.2V581.1M1509.5 584.2V579.3M1510.5 584.2V576.1M1511.5 584.2V571.5M1513.5 584.2V567.6M1514.5 584.2V566.4M1515.5 584.2V567.7M1516.5 584.2V570.1M1518.5 584.2V572.2M1519.5 584.2V573.7M1520.5 584.2V575.3M1522.5 584.2V576M1523.5 584.2V576.9M1524.5 584.2V577.2M1526.5 584.2V576.8M1527.5 584.2V575.6M1528.5 584.2V575.1M1530.5 584.2V576.2M1531.5 584.2V578.2M1532.5 584.2V580.4M1534.5 584.2V582M1535.5 584.2V583.8M1564.5 584.2V582.9M1565.5 584.2V579.9M1566.5 584.2V577.3M1568.5 584.2V576.5M1569.5 584.2V577.6M1570.5 584.2V580M1572.5 584.2V582.2M1613.5 584.2V583.7M1614.5 584.2V583.1M1615.5 584.2V582.3M1616.5 584.2V582M1618.5 584.2V581.5M1619.5 584.2V580.9M1620.5 584.2V580.4M1622.5 584.2V579.8M1623.5 584.2V579.1M1624.5 584.2V578.4M1626.5 584.2V578.5M1627.5 584.2V578.9M1628.5 584.2V578.8M1630.5 584.2V578.3M1631.5 584.2V577.6M1632.5 584.2V577M1634.5 584.2V576.5M1635.5 584.2V577.1M1636.5 584.2V578.3M1638.5 584.2V579.5M1639.5 584.2V579.5M1640.5 584.2V578.4M1641.5 584.2V573.3M1643.5 584.2V565.4M1643.5 584.2V559" stroke="#26a69a" stroke-opacity="0.45" stroke-width="1" fill="none" shape-rendering="crispEdges"/>
<path d="M115.5 584.2V584.6M117.5 584.2V584.7M118.5 584.2V584.7M119.5 584.2V584.7M355.5 584.2V585M356.5 584.2V586M358.5 584.2V587M359.5 584.2V588.1M360.5 584.2V589.7M361.5 584.2V590.7M363.5 584.2V591.7M364.5 584.2V591.9M365.5 584.2V592.8M367.5 584.2V593.3M368.5 584.2V594.2M369.5 584.2V594.9M371.5 584.2V596.2M372.5 584.2V598.2M373.5 584.2V600.6M375.5 584.2V602.6M376.5 584.2V603.8M377.5 584.2V604.6M379.5 584.2V604.4M380.5 584.2V603.8M381.5 584.2V602.1M383.5 584.2V599.4M384.5 584.2V595.7M385.5 584.2V592.4M386.5 584.2V589.7M388.5 584.2V587.4M389.5 584.2V585.8M390.5 584.2V586.2M392.5 584.2V588M393.5 584.2V589.8M394.5 584.2V591.2M396.5 584.2V592.7M397.5 584.2V594.4M398.5 584.2V595.5M400.5 584.2V596.4M401.5 584.2V597.2M402.5 584.2V598.3M404.5 584.2V598.8M405.5 584.2V598.8M406.5 584.2V598.2M408.5 584.2V597.1M409.5 584.2V596.1M410.5 584.2V595M411.5 584.2V594.4M413.5 584.2V593M414.5 584.2V590.8M415.5 584.2V587.4M443.5 584.2V584.7M444.5 584.2V585.2M473.5 584.2V584.6M475.5 584.2V586.5M476.5 584.2V588M477.5 584.2V589M479.5 584.2V589.6M480.5 584.2V589.4M481.5 584.2V588.9M483.5 584.2V588.8M484.5 584.2V589.1M485.5 584.2V589.7M486.5 584.2V590.2M488.5 584.2V590.1M489.5 584.2V589M490.5 584.2V588.4M492.5 584.2V588.4M493.5 584.2V589.3M494.5 584.2V590.3M496.5 584.2V590.4M497.5 584.2V588.7M498.5 584.2V585.6M504.5 584.2V584.6M505.5 584.2V585.5M506.5 584.2V586M507.5 584.2V586.7M509.5 584.2V587.2M510.5 584.2V586.5M531.5 584.2V587.3M532.5 584.2V589.7M534.5 584.2V591.4M535.5 584.2V592M536.5 584.2V591.3M538.5 584.2V590.2M539.5 584.2V589.7M540.5 584.2V589.8M542.5 584.2V590.4M543.5 584.2V591.2M544.5 584.2V591.9M546.5 584.2V592M547.5 584.2V591.8M548.5 584.2V591.3M550.5 584.2V590.9M551.5 584.2V590M552.5 584.2V589.3M554.5 584.2V588.1M555.5 584.2V586.5M602.5 584.2V585.2M604.5 584.2V586.4M605.5 584.2V587M606.5 584.2V587.1M607.5 584.2V587.2M609.5 584.2V587.1M610.5 584.2V586.8M611.5 584.2V586.4M613.5 584.2V586.4M614.5 584.2V586.2M615.5 584.2V586.2M617.5 584.2V586.2M618.5 584.2V586.8M619.5 584.2V587.3M621.5 584.2V587.7M622.5 584.2V587.7M623.5 584.2V588M625.5 584.2V587.8M626.5 584.2V587.8M627.5 584.2V587.6M629.5 584.2V587.7M630.5 584.2V587.5M631.5 584.2V587.4M632.5 584.2V586.8M634.5 584.2V586.3M635.5 584.2V585.8M636.5 584.2V585.8M638.5 584.2V585.3M639.5 584.2V584.9M644.5 584.2V584.7M646.5 584.2V585.6M647.5 584.2V586.5M648.5 584.2V586.9M650.5 584.2V586.9M651.5 584.2V586.7M652.5 584.2V586.2M654.5 584.2V585.9M655.5 584.2V585.4M656.5 584.2V584.9M686.5 584.2V584.8M688.5 584.2V584.6M696.5 584.2V585.4M697.5 584.2V586M698.5 584.2V586.2M700.5 584.2V586.3M701.5 584.2V586.1M702.5 584.2V585.6M704.5 584.2V585.1M705.5 584.2V584.8M706.5 584.2V584.6M709.5 584.2V585M710.5 584.2V585.8M711.5 584.2V586.5M713.5 584.2V586.8M714.5 584.2V587.2M715.5 584.2V587.4M717.5 584.2V587.5M718.5 584.2V587.1M719.5 584.2V586.6M721.5 584.2V585.6M765.5 584.2V585.4M767.5 584.2V585.7M768.5 584.2V585.5M769.5 584.2V584.8M792.5 584.2V585.1M793.5 584.2V585.1M794.5 584.2V585.6M796.5 584.2V585.6M797.5 584.2V586.1M798.5 584.2V586.1M800.5 584.2V586.4M801.5 584.2V586.5M802.5 584.2V586.8M803.5 584.2V586.6M805.5 584.2V586.5M806.5 584.2V586.6M807.5 584.2V586.7M809.5 584.2V587.3M810.5 584.2V587.9M811.5 584.2V588.7M813.5 584.2V589.2M814.5 584.2V589.8M815.5 584.2V590M817.5 584.2V590.2M818.5 584.2V590.3M819.5 584.2V590.3M821.5 584.2V589.5M822.5 584.2V588.4M823.5 584.2V587.1M825.5 584.2V586M826.5 584.2V584.9M869.5 584.2V585.3M871.5 584.2V586.8M872.5 584.2V588.1M873.5 584.2V589.2M875.5 584.2V589.8M876.5 584.2V589.2M877.5 584.2V587.7M878.5 584.2V586.1M880.5 584.2V585.1M882.5 584.2V584.7M884.5 584.2V585.2M885.5 584.2V585.7M886.5 584.2V586.1M888.5 584.2V586.5M889.5 584.2V586.9M890.5 584.2V587M892.5 584.2V586.9M893.5 584.2V586.8M894.5 584.2V587.2M896.5 584.2V587.7M897.5 584.2V587.9M898.5 584.2V587.6M900.5 584.2V587.2M901.5 584.2V587.1M902.5 584.2V587M903.5 584.2V587.2M905.5 584.2V587.7M906.5 584.2V588.8M907.5 584.2V589.7M909.5 584.2V590.3M910.5 584.2V590.4M911.5 584.2V590.6M913.5 584.2V590.4M914.5 584.2V590M915.5 584.2V589.5M917.5 584.2V588.9M918.5 584.2V588.2M919.5 584.2V587.6M921.5 584.2V587.3M922.5 584.2V587.5M923.5 584.2V587.8M925.5 584.2V588.1M926.5 584.2V588M927.5 584.2V587.8M928.5 584.2V587.1M930.5 584.2V586.2M931.5 584.2V585.1M932.5 584.2V584.6M934.5 584.2V584.6M935.5 584.2V584.9M936.5 584.2V584.7M943.5 584.2V584.6M944.5 584.2V584.8M946.5 584.2V584.6M950.5 584.2V584.7M951.5 584.2V585.1M952.5 584.2V585.9M953.5 584.2V585.8M955.5 584.2V585.5M956.5 584.2V585M957.5 584.2V584.9M959.5 584.2V584.7M960.5 584.2V584.7M961.5 584.2V585.2M963.5 584.2V585.9M964.5 584.2V586.5M965.5 584.2V586.9M967.5 584.2V586.8M968.5 584.2V586M969.5 584.2V584.8M977.5 584.2V584.6M982.5 584.2V585M984.5 584.2V585.5M985.5 584.2V586.2M986.5 584.2V586.2M988.5 584.2V586M989.5 584.2V585.4M990.5 584.2V584.7M1051.5 584.2V585.4M1052.5 584.2V587.1M1053.5 584.2V588.8M1055.5 584.2V590.3M1056.5 584.2V591.3M1057.5 584.2V591.7M1059.5 584.2V591.5M1060.5 584.2V591.2M1061.5 584.2V590.6M1063.5 584.2V590.2M1064.5 584.2V589.9M1065.5 584.2V589.7M1067.5 584.2V589.5M1068.5 584.2V589.3M1069.5 584.2V589.2M1071.5 584.2V588.8M1072.5 584.2V588.2M1073.5 584.2V587.4M1074.5 584.2V586.9M1076.5 584.2V586.5M1077.5 584.2V586.9M1078.5 584.2V587.4M1080.5 584.2V587.3M1081.5 584.2V586.4M1113.5 584.2V584.9M1114.5 584.2V585.7M1115.5 584.2V586.1M1117.5 584.2V586.8M1118.5 584.2V586.8M1119.5 584.2V587.1M1121.5 584.2V586.8M1122.5 584.2V586.6M1123.5 584.2V586.2M1124.5 584.2V586.6M1126.5 584.2V587.1M1127.5 584.2V587.5M1128.5 584.2V587.3M1130.5 584.2V586.7M1131.5 584.2V585.8M1132.5 584.2V584.7M1171.5 584.2V584.6M1172.5 584.2V585.1M1173.5 584.2V585.3M1174.5 584.2V585.5M1176.5 584.2V585.9M1177.5 584.2V586M1178.5 584.2V586.1M1180.5 584.2V585.5M1181.5 584.2V584.8M1205.5 584.2V584.9M1206.5 584.2V585.8M1207.5 584.2V586M1209.5 584.2V586.2M1210.5 584.2V586.2M1211.5 584.2V585.9M1213.5 584.2V585.6M1214.5 584.2V585.4M1215.5 584.2V585.4M1217.5 584.2V585.1M1218.5 584.2V584.9M1234.5 584.2V585M1235.5 584.2V585.6M1236.5 584.2V586M1238.5 584.2V586.7M1239.5 584.2V587.2M1240.5 584.2V588.3M1242.5 584.2V588.7M1243.5 584.2V589M1244.5 584.2V588.7M1245.5 584.2V588.1M1247.5 584.2V587.5M1248.5 584.2V587.2M1249.5 584.2V587.3M1251.5 584.2V586.9M1252.5 584.2V586.3M1253.5 584.2V585.7M1255.5 584.2V585.1M1256.5 584.2V584.6M1261.5 584.2V584.6M1273.5 584.2V584.7M1274.5 584.2V584.8M1292.5 584.2V584.7M1293.5 584.2V584.9M1331.5 584.2V584.6M1332.5 584.2V585.1M1334.5 584.2V585.6M1335.5 584.2V585.7M1336.5 584.2V586.1M1338.5 584.2V586M1339.5 584.2V585.9M1340.5 584.2V585.8M1342.5 584.2V585.9M1343.5 584.2V585.7M1344.5 584.2V585.6M1345.5 584.2V585.6M1347.5 584.2V585.4M1348.5 584.2V585M1349.5 584.2V585M1351.5 584.2V585.2M1352.5 584.2V585.5M1353.5 584.2V584.8M1370.5 584.2V584.6M1372.5 584.2V585.2M1373.5 584.2V585.5M1374.5 584.2V585.5M1376.5 584.2V585M1384.5 584.2V584.6M1385.5 584.2V584.8M1386.5 584.2V585.1M1388.5 584.2V585M1389.5 584.2V585.3M1390.5 584.2V585.5M1392.5 584.2V585.9M1393.5 584.2V586.2M1394.5 584.2V586.3M1395.5 584.2V586.5M1397.5 584.2V586.1M1398.5 584.2V586M1399.5 584.2V585.5M1401.5 584.2V585.6M1402.5 584.2V585.4M1403.5 584.2V585.5M1405.5 584.2V585.3M1406.5 584.2V585.4M1407.5 584.2V585.3M1409.5 584.2V585.5M1410.5 584.2V585.6M1411.5 584.2V586M1413.5 584.2V586.2M1414.5 584.2V586.4M1415.5 584.2V586.1M1417.5 584.2V585.6M1418.5 584.2V584.8M1426.5 584.2V584.8M1427.5 584.2V586M1428.5 584.2V586.6M1430.5 584.2V586.9M1431.5 584.2V587M1432.5 584.2V587.1M1434.5 584.2V587M1435.5 584.2V587M1436.5 584.2V586.9M1438.5 584.2V586.5M1439.5 584.2V586.3M1440.5 584.2V586.1M1442.5 584.2V586.3M1443.5 584.2V586M1444.5 584.2V585.8M1445.5 584.2V585.1M1447.5 584.2V584.8M1449.5 584.2V584.7M1451.5 584.2V584.9M1452.5 584.2V585.1M1453.5 584.2V585M1455.5 584.2V584.8M1456.5 584.2V585M1457.5 584.2V584.9M1459.5 584.2V584.8M1466.5 584.2V584.8M1468.5 584.2V585.1M1469.5 584.2V585.5M1470.5 584.2V585.2M1536.5 584.2V585M1538.5 584.2V586.1M1539.5 584.2V587.4M1540.5 584.2V588.9M1541.5 584.2V590M1543.5 584.2V590.8M1544.5 584.2V591.4M1545.5 584.2V592M1547.5 584.2V592.3M1548.5 584.2V592.7M1549.5 584.2V593.1M1551.5 584.2V593.6M1552.5 584.2V593.9M1553.5 584.2V594.2M1555.5 584.2V593.9M1556.5 584.2V593.4M1557.5 584.2V592.6M1559.5 584.2V591.9M1560.5 584.2V591.3M1561.5 584.2V589.4M1563.5 584.2V586.5M1574.5 584.2V586.3M1576.5 584.2V588.2M1577.5 584.2V589.9M1578.5 584.2V590.8M1580.5 584.2V591.3M1581.5 584.2V591M1582.5 584.2V590.8M1584.5 584.2V590.3M1585.5 584.2V590.3M1586.5 584.2V590M1588.5 584.2V589.9M1589.5 584.2V589.1M1590.5 584.2V588.5M1591.5 584.2V587.9M1593.5 584.2V588M1594.5 584.2V588.1M1595.5 584.2V588.2M1597.5 584.2V588.1M1598.5 584.2V587.9M1599.5 584.2V587.5M1601.5 584.2V587.6M1602.5 584.2V588M1603.5 584.2V588.5M1605.5 584.2V588.1M1606.5 584.2V587.8M1607.5 584.2V586.8M1609.5 584.2V585.9" stroke="#f23645" stroke-opacity="0.3" stroke-width="1" fill="none" shape-rendering="crispEdges"/>
<polygon points="108.9,587.4 108.9,587.4 108.9,587.4 108.9,587.4" fill="#2962ff" fill-opacity="0.55"/>
<polygon points="108.9,587.4 110.2,587.5 111.5,587.5 112.8,587.6 114.2,587.7 115.5,587.8 116.8,587.8 118.1,587.9 119.4,587.9 120.7,587.9 122.1,587.9 123.2,587.8 123.2,587.8 122.1,587.8 120.7,587.8 119.4,587.7 118.1,587.7 116.8,587.6 115.5,587.6 114.2,587.5 112.8,587.5 111.5,587.4 110.2,587.4 108.9,587.4" fill="#f23645" fill-opacity="0.55"/>
<polygon points="123.2,587.8 123.4,587.8 124.7,587.7 126,587.6 127.3,587.5 128.6,587.4 129.9,587.3 131.3,587.2 132.6,587.2 133.9,587.1 135.2,587 136.5,586.9 137.8,586.8 139.2,586.7 140.5,586.6 141.8,586.5 143.1,586.5 144.4,586.4 145.7,586.3 147,586.2 148.4,586.1 149.7,586 151,586 152.3,585.9 153.6,585.9 154.9,585.9 156.3,585.8 157.6,585.8 158.9,585.7 160.2,585.7 161.5,585.7 162.8,585.6 164.2,585.6 165.5,585.5 166.8,585.5 168.1,585.5 169.4,585.4 170.7,585.4 172,585.3 173.4,585.3 174.7,585.3 176,585.2 177.3,585.2 178.6,585.1 179.9,585.1 181.3,585.1 182.6,585 183.9,585 185.2,584.9 186.5,584.9 187.8,584.9 189.1,584.8 190.5,584.8 191.8,584.7 193.1,584.7 194.4,584.7 195.7,584.6 197,584.6 198.4,584.5 199.7,584.5 201,584.5 202.3,584.5 203.6,584.5 204.9,584.5 206.2,584.5 207.6,584.5 208.9,584.5 210.2,584.5 211.5,584.5 212.8,584.5 214.1,584.5 215.5,584.5 216.8,584.5 218.1,584.5 219.4,584.5 220.7,584.5 222,584.5 223.3,584.5 224.7,584.5 226,584.5 227.3,584.5 228.6,584.5 229.9,584.5 231.2,584.5 232.6,584.5 233.9,584.5 235.2,584.5 236.5,584.5 237.8,584.5 239.1,584.5 240.4,584.5 241.8,584.5 243.1,584.5 244.4,584.5 245.7,584.5 247,584.5 248.3,584.5 249.7,584.5 251,584.5 252.3,584.5 253.6,584.5 254.9,584.5 256.2,584.5 257.6,584.5 258.9,584.5 260.2,584.5 261.5,584.5 262.8,584.5 264.1,584.5 265.4,584.5 266.8,584.5 268.1,584.5 269.4,584.5 270.7,584.5 272,584.5 273.3,584.5 274.7,584.5 276,584.5 277.3,584.5 278.6,584.5 279.9,584.5 281.2,584.5 282.5,584.5 283.9,584.5 285.2,584.5 286.5,584.5 287.8,584.5 289.1,584.5 290.4,584.5 291.8,584.5 293.1,584.5 294.4,584.5 295.7,584.5 297,584.5 298.3,584.5 299.6,584.5 301,584.5 302.3,584.4 303.6,584.4 304.9,584.3 306.2,584.3 307.5,584.2 308.9,584.2 310.2,584.1 311.5,584.1 312.8,583.8 314.1,583 315.4,581.8 316.7,580.4 318.1,579.1 319.4,577.6 320.7,575.8 322,573.4 323.3,571.7 324.6,570.7 326,570.8 327.3,571.1 328.6,571.6 329.9,572.2 331.2,572.5 332.5,571.9 333.9,570.6 335.2,569.2 336.5,568 337.8,566.8 339.1,565.5 340.4,563.9 341.7,562 343.1,559.5 344.4,557 345.7,553.8 347,550.4 348.3,548.4 349.6,548.8 351,551.3 352.3,553.2 353.6,554.3 353.8,554.4 353.8,554.4 353.6,554.4 352.3,554.4 351,554.7 349.6,555.6 348.3,557.3 347,559.5 345.7,561.8 344.4,563.8 343.1,565.5 341.7,567 340.4,568.2 339.1,569.3 337.8,570.2 336.5,571.1 335.2,571.8 333.9,572.5 332.5,572.9 331.2,573.2 329.9,573.4 328.6,573.7 327.3,574.2 326,575 324.6,576 323.3,577.4 322,578.8 320.7,580.1 319.4,581.2 318.1,582.1 316.7,582.9 315.4,583.5 314.1,583.9 312.8,584.1 311.5,584.2 310.2,584.3 308.9,584.3 307.5,584.4 306.2,584.4 304.9,584.4 303.6,584.5 302.3,584.5 301,584.5 299.6,584.5 298.3,584.5 297,584.5 295.7,584.5 294.4,584.5 293.1,584.5 291.8,584.5 290.4,584.5 289.1,584.5 287.8,584.5 286.5,584.5 285.2,584.5 283.9,584.5 282.5,584.5 281.2,584.5 279.9,584.5 278.6,584.5 277.3,584.5 276,584.5 274.7,584.5 273.3,584.5 272,584.5 270.7,584.5 269.4,584.5 268.1,584.5 266.8,584.5 265.4,584.5 264.1,584.5 262.8,584.5 261.5,584.5 260.2,584.5 258.9,584.5 257.6,584.5 256.2,584.5 254.9,584.5 253.6,584.5 252.3,584.5 251,584.5 249.7,584.5 248.3,584.5 247,584.5 245.7,584.5 244.4,584.5 243.1,584.5 241.8,584.5 240.4,584.5 239.1,584.5 237.8,584.5 236.5,584.5 235.2,584.5 233.9,584.5 232.6,584.5 231.2,584.5 229.9,584.5 228.6,584.5 227.3,584.5 226,584.5 224.7,584.5 223.3,584.5 222,584.5 220.7,584.5 219.4,584.5 218.1,584.5 216.8,584.5 215.5,584.5 214.1,584.5 212.8,584.5 211.5,584.5 210.2,584.5 208.9,584.5 207.6,584.5 206.2,584.6 204.9,584.6 203.6,584.6 202.3,584.6 201,584.6 199.7,584.7 198.4,584.7 197,584.7 195.7,584.8 194.4,584.8 193.1,584.9 191.8,584.9 190.5,584.9 189.1,585 187.8,585 186.5,585.1 185.2,585.1 183.9,585.1 182.6,585.2 181.3,585.2 179.9,585.3 178.6,585.3 177.3,585.3 176,585.4 174.7,585.4 173.4,585.5 172,585.5 170.7,585.5 169.4,585.6 168.1,585.6 166.8,585.7 165.5,585.7 164.2,585.8 162.8,585.8 161.5,585.8 160.2,585.9 158.9,585.9 157.6,586 156.3,586 154.9,586.1 153.6,586.2 152.3,586.2 151,586.3 149.7,586.4 148.4,586.5 147,586.5 145.7,586.6 144.4,586.7 143.1,586.8 141.8,586.9 140.5,587 139.2,587.1 137.8,587.1 136.5,587.2 135.2,587.3 133.9,587.4 132.6,587.4 131.3,587.5 129.9,587.6 128.6,587.6 127.3,587.7 126,587.7 124.7,587.8 123.4,587.8 123.2,587.8" fill="#2962ff" fill-opacity="0.55"/>
<polygon points="353.8,554.4 354.9,554.9 356.2,555.5 357.5,556.3 358.8,557.2 360.2,558.6 361.5,559.8 362.8,561.1 364.1,562.1 365.4,563.5 366.7,564.7 368.1,566.3 369.4,567.8 370.7,569.8 372,572.3 373.3,575.2 374.6,578.2 375.9,581 377.3,583.7 378.6,585.9 379.9,587.8 381.2,589.1 382.5,589.6 383.8,589.2 385.2,588.6 386.5,588 387.8,587.3 389.1,586.8 390.4,587.2 391.7,588.5 393,589.9 394.4,591.4 395.7,593 397,594.9 398.3,596.7 399.6,598.5 400.9,600.4 402.3,602.5 403.6,604.4 404.9,606 406.2,607.3 407.5,608.3 408.8,609.2 410.1,609.9 411.5,610.8 412.8,611.2 414.1,610.9 415.4,609.7 416.7,608.3 416.8,608.3 416.8,608.3 416.7,608.3 415.4,608.3 414.1,607.9 412.8,607.2 411.5,606.2 410.1,605 408.8,603.8 407.5,602.4 406.2,601 404.9,599.4 403.6,597.7 402.3,596 400.9,594.4 399.6,593 398.3,591.6 397,590.3 395.7,589.1 394.4,588.2 393,587.4 391.7,586.7 390.4,586.3 389.1,586.1 387.8,585.9 386.5,585.5 385.2,584.9 383.8,584 382.5,582.7 381.2,580.9 379.9,578.9 378.6,576.7 377.3,574.4 375.9,572.1 374.6,569.8 373.3,567.7 372,565.9 370.7,564.3 369.4,562.9 368.1,561.7 366.7,560.6 365.4,559.5 364.1,558.6 362.8,557.7 361.5,556.8 360.2,556.1 358.8,555.5 357.5,555 356.2,554.7 354.9,554.5 353.8,554.4" fill="#f23645" fill-opacity="0.55"/>
<polygon points="416.8,608.3 418,607 419.4,605.9 420.7,605 422,604.3 423.3,603.1 424.6,601.4 425.9,599.4 427.3,597.1 428.6,595 429.9,593.6 431.2,593.3 432.5,593.6 433.8,594.1 435.1,594.4 436.5,594.8 437.8,594.9 439.1,595.1 440.4,595.1 441.7,595.4 442.1,595.5 442.1,595.5 441.7,595.5 440.4,595.5 439.1,595.6 437.8,595.7 436.5,595.9 435.1,596.2 433.8,596.7 432.5,597.3 431.2,598.3 429.9,599.5 428.6,601 427.3,602.5 425.9,603.8 424.6,605 423.3,605.8 422,606.5 420.7,607.1 419.4,607.6 418,608 416.8,608.3" fill="#2962ff" fill-opacity="0.55"/>
<polygon points="442.1,595.5 443,595.8 444.4,596.1 445.7,595.9 446,595.7 446,595.7 445.7,595.7 444.4,595.7 443,595.5 442.1,595.5" fill="#f23645" fill-opacity="0.55"/>
<polygon points="446,595.7 447,595.2 448.3,594.1 449.6,592.9 450.9,591.7 452.2,590.7 453.6,589.8 454.9,588.9 456.2,587.8 457.5,586.4 458.8,584.6 460.1,582.9 461.5,581.7 462.8,581.1 464.1,580.5 465.4,580 466.7,579.5 468,579.6 469.3,579.8 470.7,580.1 472,580.6 473,581.2 473,581.2 472,581.2 470.7,581.4 469.3,581.7 468,582.2 466.7,582.8 465.4,583.6 464.1,584.5 462.8,585.5 461.5,586.6 460.1,587.8 458.8,589.1 457.5,590.2 456.2,591.2 454.9,592 453.6,592.8 452.2,593.5 450.9,594.2 449.6,594.8 448.3,595.3 447,595.6 446,595.7" fill="#2962ff" fill-opacity="0.55"/>
<polygon points="473,581.2 473.3,581.4 474.6,582.5 475.9,583.7 477.2,584.7 478.6,585.5 479.9,586 481.2,586.4 482.5,586.8 483.8,587.5 485.1,588.4 486.4,589.3 487.8,589.9 489.1,590 490.4,590.2 491.7,590.7 493,591.6 494.3,592.8 495.7,593.6 497,593.3 498.3,592.1 499.2,591.4 499.2,591.4 498.3,591.4 497,591.2 495.7,590.7 494.3,590 493,589.3 491.7,588.8 490.4,588.3 489.1,587.8 487.8,587.3 486.4,586.6 485.1,585.9 483.8,585.3 482.5,584.7 481.2,584.2 479.9,583.7 478.6,583.1 477.2,582.5 475.9,581.9 474.6,581.5 473.3,581.3 473,581.2" fill="#f23645" fill-opacity="0.55"/>
<polygon points="499.2,591.4 499.6,591 500.9,590.7 502.2,591 502.9,591.2 502.9,591.2 502.2,591.2 500.9,591.2 499.6,591.3 499.2,591.4" fill="#2962ff" fill-opacity="0.55"/>
<polygon points="502.9,591.2 503.5,591.4 504.9,592 506.2,592.4 507.5,593 508.8,593.6 510.1,593.5 511.3,592.4 511.3,592.4 510.1,592.5 508.8,592.2 507.5,591.9 506.2,591.6 504.9,591.4 503.5,591.2 502.9,591.2" fill="#f23645" fill-opacity="0.55"/>
<polygon points="511.3,592.4 511.4,592.3 512.8,590.3 514.1,588.5 515.4,587.2 516.7,586.4 518,585.6 519.3,584.7 520.7,583.6 522,582.6 523.3,581.9 524.6,581.8 525.9,581.7 527.2,581.7 528.5,582.2 529.8,583.3 529.8,583.3 528.5,583.3 527.2,583.6 525.9,584.1 524.6,584.6 523.3,585.4 522,586.2 520.7,587.1 519.3,588 518,588.8 516.7,589.7 515.4,590.5 514.1,591.3 512.8,592 511.4,592.4 511.3,592.4" fill="#2962ff" fill-opacity="0.55"/>
<polygon points="529.8,583.3 529.9,583.4 531.2,585.1 532.5,586.8 533.8,588.4 535.1,589.5 536.4,590 537.8,590.2 539.1,590.6 540.4,591.3 541.7,592.2 543,593.4 544.3,594.6 545.6,595.6 547,596.3 548.3,596.9 549.6,597.5 550.9,597.7 552.2,598 553.5,597.9 554.9,597.4 556.2,596.4 556.2,596.4 556.2,596.4 556.2,596.4 554.9,596.4 553.5,596.1 552.2,595.7 550.9,595.1 549.6,594.4 548.3,593.7 547,592.9 545.6,592 544.3,591.1 543,590.2 541.7,589.4 540.4,588.7 539.1,588.1 537.8,587.5 536.4,586.8 535.1,586 533.8,585.1 532.5,584.3 531.2,583.7 529.9,583.3 529.8,583.3" fill="#f23645" fill-opacity="0.55"/>
<polygon points="556.2,596.4 557.5,595.2 558.8,594.1 560.1,593.3 561.4,592.7 562.7,592.4 564.1,592.1 565.4,591.9 566.7,591.7 568,591.4 569.3,590.7 570.6,589.9 572,589.1 573.3,588.3 574.6,587.7 575.9,587.2 577.2,586.6 578.5,586.1 579.8,585.6 581.2,584.9 582.5,584.1 583.8,583.4 585.1,582.9 586.4,582.3 587.7,581.7 589.1,581.1 590.4,580.7 591.7,579.7 593,578.8 594.3,577.3 595.6,576.2 597,575.7 598.3,576.1 599.6,576.9 600.9,577.8 601.3,578.1 601.3,578.1 600.9,578.1 599.6,578.1 598.3,578.4 597,579 595.6,579.9 594.3,580.8 593,581.6 591.7,582.3 590.4,583 589.1,583.5 587.7,584.1 586.4,584.7 585.1,585.4 583.8,586 582.5,586.6 581.2,587.2 579.8,587.8 578.5,588.4 577.2,588.9 575.9,589.5 574.6,590.1 573.3,590.7 572,591.3 570.6,591.9 569.3,592.4 568,592.8 566.7,593.1 565.4,593.5 564.1,593.9 562.7,594.3 561.4,594.7 560.1,595.3 558.8,595.8 557.5,596.2 556.2,596.4" fill="#2962ff" fill-opacity="0.55"/>
<polygon points="601.3,578.1 602.2,578.7 603.5,579.4 604.8,580 606.2,580.4 607.5,580.8 608.8,581.1 610.1,581.2 611.4,581.3 612.7,581.5 614.1,581.7 615.4,581.9 616.7,582.1 618,582.7 619.3,583.3 620.6,583.8 621.9,584.3 623.3,584.8 624.6,585.2 625.9,585.6 627.2,585.8 628.5,586.3 629.8,586.6 631.2,586.9 632.5,586.9 633.8,586.9 635.1,586.9 636.4,587.1 637.7,587 639,586.9 640.4,586.6 641.6,586.6 641.6,586.6 640.4,586.6 639,586.5 637.7,586.5 636.4,586.3 635.1,586.2 633.8,586 632.5,585.7 631.2,585.4 629.8,585.1 628.5,584.7 627.2,584.3 625.9,583.9 624.6,583.5 623.3,583.1 621.9,582.7 620.6,582.3 619.3,581.9 618,581.5 616.7,581.2 615.4,581 614.1,580.8 612.7,580.5 611.4,580.3 610.1,580 608.8,579.7 607.5,579.4 606.2,579.1 604.8,578.7 603.5,578.4 602.2,578.2 601.3,578.1" fill="#f23645" fill-opacity="0.55"/>
<polygon points="641.6,586.6 641.7,586.6 643,586.5 643.2,586.6 643.2,586.6 643,586.6 641.7,586.6 641.6,586.6" fill="#2962ff" fill-opacity="0.55"/>
<polygon points="643.2,586.6 644.3,586.8 645.6,587.4 646.9,588.1 648.3,588.6 649.6,588.9 650.9,589 652.2,589 653.5,589.1 654.8,589 656.1,588.8 657.3,588.5 657.3,588.5 656.1,588.6 654.8,588.5 653.5,588.3 652.2,588.1 650.9,587.9 649.6,587.6 648.3,587.3 646.9,587 645.6,586.8 644.3,586.6 643.2,586.6" fill="#f23645" fill-opacity="0.55"/>
<polygon points="657.3,588.5 657.5,588.5 658.8,588.4 660.1,588.3 661.4,588.3 662.7,588.3 663.8,588.4 663.8,588.4 662.7,588.4 661.4,588.4 660.1,588.5 658.8,588.5 657.5,588.5 657.3,588.5" fill="#2962ff" fill-opacity="0.55"/>
<polygon points="663.8,588.4 664,588.4 665.4,588.5 666.7,588.5 667.2,588.4 667.2,588.4 666.7,588.4 665.4,588.4 664,588.4 663.8,588.4" fill="#f23645" fill-opacity="0.55"/>
<polygon points="667.2,588.4 668,588.3 669.3,588 670.6,587.5 671.9,586.8 673.2,586 674.6,585.2 675.9,584.4 677.2,583.8 678.5,583 679.8,582.5 681.1,582.5 682.5,582.9 683.8,583.6 684.8,584 684.8,584 683.8,584 682.5,584.1 681.1,584.3 679.8,584.8 678.5,585.4 677.2,586 675.9,586.5 674.6,587.1 673.2,587.5 671.9,587.9 670.6,588.2 669.3,588.3 668,588.4 667.2,588.4" fill="#2962ff" fill-opacity="0.55"/>
<polygon points="684.8,584 685.1,584.1 686.4,584.3 687.7,584.3 689,584.1 689,584.1 687.7,584.1 686.4,584.1 685.1,584 684.8,584" fill="#f23645" fill-opacity="0.55"/>
<polygon points="689,584.1 689,584.1 690.4,583.9 691.7,583.7 693,583.8 693.6,584 693.6,584 693,584 691.7,584 690.4,584.1 689,584.1 689,584.1" fill="#2962ff" fill-opacity="0.55"/>
<polygon points="693.6,584 694.3,584.2 695.6,584.7 696.9,585.1 698.2,585.5 699.6,585.8 700.9,585.9 702.2,585.8 703.5,585.7 704.8,585.6 706.1,585.6 707.5,585.6 708.8,585.9 710.1,586.4 711.4,587 712.7,587.5 714,588 715.3,588.5 716.7,588.8 718,589 719.3,589.1 720.6,588.7 721.9,588.3 722.3,588.1 722.3,588.1 721.9,588.1 720.6,588.1 719.3,588 718,587.7 716.7,587.4 715.3,587 714,586.6 712.7,586.3 711.4,586 710.1,585.7 708.8,585.5 707.5,585.4 706.1,585.4 704.8,585.4 703.5,585.3 702.2,585.2 700.9,585 699.6,584.8 698.2,584.6 696.9,584.3 695.6,584.1 694.3,584 693.6,584" fill="#f23645" fill-opacity="0.55"/>
<polygon points="722.3,588.1 723.2,587.7 724.6,587.1 725.9,586.4 727.2,585.8 728.5,585.3 729.8,584.6 731.1,583.8 732.4,583.2 733.8,582.6 735.1,581.9 736.4,581.4 737.7,581 739,580.5 740.3,580.1 741.7,579.6 743,579.2 744.3,578.8 745.6,578.4 746.9,578 748.2,577.8 749.5,577.5 750.9,577.2 752.2,577.1 753.5,577.3 754.8,577.5 756.1,577.6 757.4,577.5 758.8,577.3 760.1,577.1 761.4,577.1 762.7,577.4 763.2,577.5 763.2,577.5 762.7,577.5 761.4,577.5 760.1,577.6 758.8,577.7 757.4,577.8 756.1,577.9 754.8,578 753.5,578.1 752.2,578.3 750.9,578.6 749.5,579 748.2,579.4 746.9,579.8 745.6,580.2 744.3,580.7 743,581.1 741.7,581.6 740.3,582.1 739,582.6 737.7,583.1 736.4,583.7 735.1,584.2 733.8,584.8 732.4,585.3 731.1,585.9 729.8,586.4 728.5,586.8 727.2,587.2 725.9,587.6 724.6,587.9 723.2,588.1 722.3,588.1" fill="#2962ff" fill-opacity="0.55"/>
<polygon points="763.2,577.5 764,577.7 765.3,578.2 766.6,578.5 768,578.6 769.3,578.3 770.6,578.2 771.7,578.1 771.7,578.1 770.6,578.1 769.3,578.1 768,578 766.6,577.8 765.3,577.7 764,577.5 763.2,577.5" fill="#f23645" fill-opacity="0.55"/>
<polygon points="771.7,578.1 771.9,578.1 773.2,577.9 774.5,577.7 775.9,577.7 777.2,577.5 778.5,577.4 779.8,577.4 781.1,577.4 782.4,577.3 783.8,577.4 785.1,577.5 786.2,577.5 786.2,577.5 785.1,577.5 783.8,577.5 782.4,577.6 781.1,577.6 779.8,577.7 778.5,577.8 777.2,577.8 775.9,577.9 774.5,578 773.2,578 771.9,578.1 771.7,578.1" fill="#2962ff" fill-opacity="0.55"/>
<polygon points="786.2,577.5 786.4,577.5 786.5,577.5 786.5,577.5 786.4,577.5 786.2,577.5" fill="#f23645" fill-opacity="0.55"/>
<polygon points="786.5,577.5 787.7,577.4 788.5,577.5 788.5,577.5 787.7,577.5 786.5,577.5" fill="#2962ff" fill-opacity="0.55"/>
<polygon points="788.5,577.5 789,577.6 790.3,577.7 791.6,578 793,578.2 794.3,578.6 795.6,578.7 796.9,579.2 798.2,579.3 799.5,579.7 800.9,580.1 802.2,580.5 803.5,580.7 804.8,580.9 806.1,581.2 807.4,581.5 808.7,582.1 810.1,582.9 811.4,583.7 812.7,584.5 814,585.4 815.3,586.2 816.6,587 818,587.7 819.3,588.4 820.6,588.6 821.9,588.6 823.2,588.3 824.5,588 825.8,587.6 826.8,587.3 826.8,587.3 825.8,587.3 824.5,587.2 823.2,587 821.9,586.7 820.6,586.2 819.3,585.6 818,584.9 816.6,584.2 815.3,583.5 814,582.9 812.7,582.2 811.4,581.7 810.1,581.2 808.7,580.7 807.4,580.4 806.1,580.1 804.8,579.8 803.5,579.6 802.2,579.3 800.9,579 799.5,578.7 798.2,578.5 796.9,578.3 795.6,578.1 794.3,577.9 793,577.7 791.6,577.6 790.3,577.5 789,577.5 788.5,577.5" fill="#f23645" fill-opacity="0.55"/>
<polygon points="826.8,587.3 827.2,587.1 828.5,586.3 829.8,585.4 831.1,584.4 832.4,583.5 833.7,582.5 835.1,581.4 836.4,580.1 837.7,578.4 839,576.8 840.3,575.7 841.6,575.2 842.9,574.8 844.3,574.4 845.6,573.9 846.9,573.4 848.2,572.9 849.5,572.4 850.8,572.2 852.2,572.2 853.5,572.2 854.8,572 856.1,571.7 857.4,571.3 858.7,571.2 860.1,571 861.4,570.9 862.7,570.7 864,570.7 865.3,570.7 866.6,570.8 867.9,571 868.3,571.2 868.3,571.2 867.9,571.1 866.6,571.2 865.3,571.3 864,571.4 862.7,571.6 861.4,571.8 860.1,572.1 858.7,572.3 857.4,572.6 856.1,572.9 854.8,573.3 853.5,573.6 852.2,573.9 850.8,574.3 849.5,574.9 848.2,575.5 846.9,576.1 845.6,576.8 844.3,577.5 842.9,578.3 841.6,579.2 840.3,580.2 839,581.3 837.7,582.5 836.4,583.5 835.1,584.3 833.7,585.1 832.4,585.7 831.1,586.3 829.8,586.8 828.5,587.1 827.2,587.3 826.8,587.3" fill="#2962ff" fill-opacity="0.55"/>
<polygon points="868.3,571.2 869.3,571.7 870.6,572.7 871.9,573.8 873.2,574.8 874.5,575.7 875.8,576 877.2,575.8 878.5,575.3 879.8,574.9 881.1,574.7 882.4,574.8 883.7,575.2 885,575.6 886.4,576 887.7,576.4 889,576.9 890.3,577.3 891.6,577.5 892.9,577.8 894.3,578.3 895.6,578.9 896.9,579.4 898.2,579.7 899.5,579.8 900.8,580.1 902.1,580.4 903.5,580.8 904.8,581.4 906.1,582.5 907.4,583.5 908.7,584.5 910,585.2 911.4,586 912.7,586.6 914,587.1 915.3,587.5 916.6,587.7 917.9,587.9 919.2,588 920.6,588.2 921.9,588.7 923.2,589.2 924.5,589.8 925.8,590.2 927.1,590.5 928.5,590.5 929.8,590.3 931.1,589.9 932.4,589.8 933.7,589.8 935,590 936.3,590 937.7,589.9 938,589.8 938,589.8 937.7,589.8 936.3,589.8 935,589.7 933.7,589.6 932.4,589.6 931.1,589.5 929.8,589.4 928.5,589.2 927.1,588.9 925.8,588.5 924.5,588 923.2,587.6 921.9,587.2 920.6,586.8 919.2,586.4 917.9,586.1 916.6,585.6 915.3,585.1 914,584.5 912.7,583.8 911.4,583.1 910,582.4 908.7,581.7 907.4,581 906.1,580.4 904.8,579.9 903.5,579.5 902.1,579.1 900.8,578.8 899.5,578.5 898.2,578.1 896.9,577.7 895.6,577.3 894.3,576.9 892.9,576.6 891.6,576.3 890.3,576 889,575.7 887.7,575.3 886.4,575.1 885,574.9 883.7,574.7 882.4,574.6 881.1,574.5 879.8,574.5 878.5,574.4 877.2,574.2 875.8,573.8 874.5,573.2 873.2,572.6 871.9,572 870.6,571.6 869.3,571.3 868.3,571.2" fill="#f23645" fill-opacity="0.55"/>
<polygon points="938,589.8 939,589.5 940.3,589.4 941.6,589.5 942.1,589.6 942.1,589.6 941.6,589.6 940.3,589.6 939,589.7 938,589.8" fill="#2962ff" fill-opacity="0.55"/>
<polygon points="942.1,589.6 942.9,589.9 944.2,590 945.6,590 946.9,589.9 948.2,589.9 949.5,590.1 950.8,590.4 952.1,590.9 953.5,591.1 954.8,591.1 956.1,591 957.4,591 958.7,590.9 960,591 961.3,591.3 962.7,591.9 964,592.4 965.3,592.9 966.6,593.2 967.9,593 969.2,592.5 970.2,592.2 970.2,592.2 969.2,592.2 967.9,592.2 966.6,592 965.3,591.7 964,591.4 962.7,591.1 961.3,590.9 960,590.8 958.7,590.7 957.4,590.7 956.1,590.6 954.8,590.5 953.5,590.4 952.1,590.2 950.8,590 949.5,589.9 948.2,589.8 946.9,589.8 945.6,589.8 944.2,589.7 942.9,589.7 942.1,589.6" fill="#f23645" fill-opacity="0.55"/>
<polygon points="970.2,592.2 970.6,592.1 971.9,592 973.2,592 973.8,592.2 973.8,592.2 973.2,592.1 971.9,592.2 970.6,592.2 970.2,592.2" fill="#2962ff" fill-opacity="0.55"/>
<polygon points="973.8,592.2 974.5,592.3 975.8,592.3 977.1,592.4 978.1,592.2 978.1,592.2 977.1,592.2 975.8,592.2 974.5,592.2 973.8,592.2" fill="#f23645" fill-opacity="0.55"/>
<polygon points="978.1,592.2 978.4,592.2 979.8,592.2 981.1,592.2 981.1,592.2 981.1,592.2 981.1,592.2 979.8,592.2 978.4,592.2 978.1,592.2" fill="#2962ff" fill-opacity="0.55"/>
<polygon points="981.1,592.2 982.4,592.7 983.7,593.1 985,593.6 986.3,593.8 987.7,594 989,593.8 990.3,593.6 991.6,593.3 992.1,593.3 992.1,593.3 991.6,593.3 990.3,593.3 989,593.3 987.7,593.1 986.3,592.9 985,592.7 983.7,592.5 982.4,592.3 981.1,592.2" fill="#f23645" fill-opacity="0.55"/>
<polygon points="992.1,593.3 992.9,593.3 994.2,593 995.5,592.5 996.9,591.4 998.2,590.3 999.5,589.3 1000.8,588.7 1002.1,588 1003.4,587.3 1004.8,586.2 1006.1,585.4 1007.4,584.6 1008.7,583.9 1010,583.3 1011.3,582.8 1012.6,582.5 1014,582.2 1015.3,581.9 1016.6,581.6 1017.9,581.4 1019.2,580.9 1020.5,580.4 1021.9,580.2 1023.2,580.1 1024.5,579.8 1025.8,579.5 1027.1,579.2 1028.4,578.8 1029.8,578.6 1031.1,578.6 1032.4,578.5 1033.7,578.2 1035,577.7 1036.3,577.1 1037.6,576.5 1039,576.1 1040.3,575.9 1041.6,576 1042.9,576.2 1044.2,576.4 1045.5,576.5 1046.9,576.6 1048.2,576.5 1049.2,576.7 1049.2,576.7 1048.2,576.7 1046.9,576.7 1045.5,576.7 1044.2,576.8 1042.9,576.9 1041.6,577.1 1040.3,577.3 1039,577.7 1037.6,578.1 1036.3,578.5 1035,578.8 1033.7,579.1 1032.4,579.4 1031.1,579.6 1029.8,579.8 1028.4,580.1 1027.1,580.5 1025.8,580.8 1024.5,581.1 1023.2,581.4 1021.9,581.8 1020.5,582.1 1019.2,582.6 1017.9,583 1016.6,583.4 1015.3,583.9 1014,584.4 1012.6,584.9 1011.3,585.5 1010,586.1 1008.7,586.9 1007.4,587.6 1006.1,588.4 1004.8,589.1 1003.4,589.8 1002.1,590.5 1000.8,591.1 999.5,591.7 998.2,592.3 996.9,592.8 995.5,593.1 994.2,593.3 992.9,593.3 992.1,593.3" fill="#2962ff" fill-opacity="0.55"/>
<polygon points="1049.2,576.7 1049.5,576.7 1050.8,577.4 1052.1,578.5 1053.4,579.7 1054.7,581.1 1056.1,582.4 1057.4,583.4 1058.7,584.2 1060,584.8 1061.3,585.3 1062.6,585.8 1064,586.3 1065.3,586.9 1066.6,587.3 1067.9,587.8 1069.2,588.3 1070.5,588.7 1071.8,588.9 1073.2,588.9 1074.5,588.9 1075.8,589 1077.1,589.5 1078.4,590.1 1079.7,590.4 1081.1,590.2 1082.4,589.4 1082.5,589.3 1082.5,589.3 1082.4,589.3 1081.1,589.3 1079.7,589 1078.4,588.7 1077.1,588.3 1075.8,588 1074.5,587.7 1073.2,587.4 1071.8,587 1070.5,586.6 1069.2,586.1 1067.9,585.5 1066.6,584.9 1065.3,584.3 1064,583.7 1062.6,583.1 1061.3,582.4 1060,581.7 1058.7,580.9 1057.4,580 1056.1,579.2 1054.7,578.4 1053.4,577.7 1052.1,577.2 1050.8,576.8 1049.5,576.7 1049.2,576.7" fill="#f23645" fill-opacity="0.55"/>
<polygon points="1082.5,589.3 1083.7,588.4 1085,587.1 1086.3,586.2 1087.6,585.3 1088.9,584.9 1090.3,584.9 1091.6,585.1 1092.9,585.5 1094.2,585.9 1095.1,586.1 1095.1,586.1 1094.2,586.1 1092.9,586.2 1091.6,586.3 1090.3,586.6 1088.9,587.1 1087.6,587.6 1086.3,588.2 1085,588.7 1083.7,589.1 1082.5,589.3" fill="#2962ff" fill-opacity="0.55"/>
<polygon points="1095.1,586.1 1095.5,586.2 1096.8,586.1 1096.9,586.1 1096.9,586.1 1096.8,586.1 1095.5,586.1 1095.1,586.1" fill="#f23645" fill-opacity="0.55"/>
<polygon points="1096.9,586.1 1098.2,585.9 1099.5,585.7 1100.8,585.6 1102.1,585.5 1103.4,585.7 1104.7,585.7 1106,585.8 1107.4,585.8 1108.6,585.8 1108.6,585.8 1107.4,585.8 1106,585.8 1104.7,585.8 1103.4,585.8 1102.1,585.8 1100.8,585.9 1099.5,586 1098.2,586.1 1096.9,586.1" fill="#2962ff" fill-opacity="0.55"/>
<polygon points="1108.6,585.8 1108.7,585.8 1108.7,585.8 1108.7,585.8 1108.7,585.8 1108.6,585.8" fill="#f23645" fill-opacity="0.55"/>
<polygon points="1108.7,585.8 1110,585.8 1110.1,585.8 1110.1,585.8 1110,585.8 1108.7,585.8" fill="#2962ff" fill-opacity="0.55"/>
<polygon points="1110.1,585.8 1111.3,586 1112.6,586.2 1113.9,586.7 1115.3,587.2 1116.6,587.8 1117.9,588 1119.2,588.5 1120.5,588.7 1121.8,588.9 1123.2,588.9 1124.5,589.4 1125.8,589.9 1127.1,590.5 1128.4,590.8 1129.7,590.7 1131,590.5 1132.4,590.1 1133.1,589.8 1133.1,589.8 1132.4,589.8 1131,589.8 1129.7,589.6 1128.4,589.3 1127.1,589 1125.8,588.6 1124.5,588.3 1123.2,588 1121.8,587.8 1120.5,587.5 1119.2,587.2 1117.9,586.9 1116.6,586.6 1115.3,586.3 1113.9,586.1 1112.6,585.9 1111.3,585.8 1110.1,585.8" fill="#f23645" fill-opacity="0.55"/>
<polygon points="1133.1,589.8 1133.7,589.7 1135,589.3 1136.3,589.1 1137.6,588.7 1138.9,588.2 1140.3,587.8 1141.6,587.3 1142.9,587.2 1144.2,586.9 1145.5,586.6 1146.8,586.1 1148.1,585.9 1149.5,585.7 1150.8,585.7 1152.1,585.7 1153.4,585.8 1154.7,585.7 1156,585.4 1157.4,585.1 1158.7,585 1160,585 1161.3,585 1162.6,585 1163.9,584.9 1165.2,584.7 1166.6,584.7 1167.9,584.7 1169.2,584.9 1169.4,585 1169.4,585 1169.2,585 1167.9,585 1166.6,585 1165.2,585.1 1163.9,585.2 1162.6,585.3 1161.3,585.4 1160,585.5 1158.7,585.7 1157.4,585.8 1156,586 1154.7,586.2 1153.4,586.3 1152.1,586.4 1150.8,586.6 1149.5,586.8 1148.1,587.1 1146.8,587.4 1145.5,587.7 1144.2,588 1142.9,588.3 1141.6,588.6 1140.3,588.9 1138.9,589.2 1137.6,589.4 1136.3,589.6 1135,589.7 1133.7,589.8 1133.1,589.8" fill="#2962ff" fill-opacity="0.55"/>
<polygon points="1169.4,585 1170.5,585.2 1171.8,585.5 1173.1,585.7 1174.5,586 1175.8,586.3 1177.1,586.6 1178.4,586.9 1179.7,586.7 1181,586.5 1182.1,586.2 1182.1,586.2 1181,586.2 1179.7,586.1 1178.4,586 1177.1,585.8 1175.8,585.6 1174.5,585.4 1173.1,585.2 1171.8,585.1 1170.5,585 1169.4,585" fill="#f23645" fill-opacity="0.55"/>
<polygon points="1182.1,586.2 1182.3,586.1 1183.7,585.8 1185,585.3 1186.3,584.9 1187.6,584.7 1188.9,584.5 1190.2,584.3 1191.6,584.3 1192.9,584.3 1194.2,583.9 1195.5,583.3 1196.8,582.6 1198.1,581.8 1199.4,581 1200.8,580.9 1202.1,581.2 1203.4,581.9 1204.1,582.3 1204.1,582.3 1203.4,582.2 1202.1,582.3 1200.8,582.6 1199.4,583 1198.1,583.6 1196.8,584 1195.5,584.4 1194.2,584.6 1192.9,584.8 1191.6,584.9 1190.2,585.1 1188.9,585.3 1187.6,585.5 1186.3,585.7 1185,585.9 1183.7,586.1 1182.3,586.2 1182.1,586.2" fill="#2962ff" fill-opacity="0.55"/>
<polygon points="1204.1,582.3 1204.7,582.6 1206,583.2 1207.3,583.5 1208.7,583.8 1210,584 1211.3,584.1 1212.6,584.1 1213.9,584.2 1215.2,584.3 1216.6,584.3 1217.9,584.3 1219.2,584.1 1219.8,584 1219.8,584 1219.2,584 1217.9,583.9 1216.6,583.9 1215.2,583.8 1213.9,583.6 1212.6,583.5 1211.3,583.3 1210,583.1 1208.7,582.9 1207.3,582.7 1206,582.5 1204.7,582.3 1204.1,582.3" fill="#f23645" fill-opacity="0.55"/>
<polygon points="1219.8,584 1220.5,583.8 1221.8,583.1 1223.1,582.5 1224.4,581.9 1225.8,581.5 1227.1,581.1 1228.4,581.2 1229.7,581.3 1231,581.8 1231.9,582 1231.9,582 1231,582 1229.7,582.1 1228.4,582.3 1227.1,582.5 1225.8,582.9 1224.4,583.2 1223.1,583.5 1221.8,583.8 1220.5,583.9 1219.8,584" fill="#2962ff" fill-opacity="0.55"/>
<polygon points="1231.9,582 1232.3,582.2 1233.7,582.5 1235,582.9 1236.3,583.3 1237.6,583.9 1238.9,584.5 1240.2,585.4 1241.5,586.2 1242.9,586.8 1244.2,587.2 1245.5,587.4 1246.8,587.5 1248.1,587.7 1249.4,588.1 1250.8,588.2 1252.1,588.2 1253.4,588 1254.7,587.9 1256,587.7 1257.3,587.6 1258.6,587.8 1260,587.8 1261.3,587.9 1262.6,587.8 1263.4,587.7 1263.4,587.7 1262.6,587.7 1261.3,587.7 1260,587.6 1258.6,587.6 1257.3,587.6 1256,587.5 1254.7,587.5 1253.4,587.4 1252.1,587.2 1250.8,587 1249.4,586.7 1248.1,586.3 1246.8,586 1245.5,585.6 1244.2,585.2 1242.9,584.7 1241.5,584.1 1240.2,583.6 1238.9,583.1 1237.6,582.8 1236.3,582.5 1235,582.3 1233.7,582.1 1232.3,582 1231.9,582" fill="#f23645" fill-opacity="0.55"/>
<polygon points="1263.4,587.7 1263.9,587.7 1265.2,587.3 1266.5,587 1267.9,586.8 1269.2,587 1270.5,587.1 1271.2,587.3 1271.2,587.3 1270.5,587.2 1269.2,587.3 1267.9,587.4 1266.5,587.5 1265.2,587.6 1263.9,587.7 1263.4,587.7" fill="#2962ff" fill-opacity="0.55"/>
<polygon points="1271.2,587.3 1271.8,587.4 1273.1,587.6 1274.4,587.7 1275.7,587.5 1276.4,587.4 1276.4,587.4 1275.7,587.4 1274.4,587.4 1273.1,587.3 1271.8,587.3 1271.2,587.3" fill="#f23645" fill-opacity="0.55"/>
<polygon points="1276.4,587.4 1277.1,587.3 1278.4,587 1279.7,586.9 1281,586.9 1282.3,587 1283,587.2 1283,587.2 1282.3,587.1 1281,587.2 1279.7,587.2 1278.4,587.3 1277.1,587.4 1276.4,587.4" fill="#2962ff" fill-opacity="0.55"/>
<polygon points="1283,587.2 1283.6,587.3 1285,587.3 1286.3,587.3 1286.8,587.2 1286.8,587.2 1286.3,587.2 1285,587.2 1283.6,587.2 1283,587.2" fill="#f23645" fill-opacity="0.55"/>
<polygon points="1286.8,587.2 1287.6,587.1 1288.9,587.1 1290.2,587.2 1290.2,587.2 1290.2,587.2 1290.2,587.2 1288.9,587.2 1287.6,587.2 1286.8,587.2" fill="#2962ff" fill-opacity="0.55"/>
<polygon points="1290.2,587.2 1291.5,587.4 1292.8,587.6 1294.2,587.5 1294.8,587.3 1294.8,587.3 1294.2,587.4 1292.8,587.3 1291.5,587.2 1290.2,587.2" fill="#f23645" fill-opacity="0.55"/>
<polygon points="1294.8,587.3 1295.5,587.1 1296.8,586.6 1298.1,586.3 1299.4,586.2 1300.7,586.2 1302.1,586.3 1303.4,586.2 1304.7,586 1306,585.4 1307.3,585.1 1308.6,585 1310,585.1 1311.3,584.8 1312.6,584.8 1313.9,584.5 1315.2,584.4 1316.5,584.1 1317.8,584 1319.2,583.6 1320.5,583.4 1321.8,583.1 1323.1,583.1 1324.4,583.1 1325.7,583.2 1327.1,583.3 1328.4,583.3 1329.7,583.3 1330.3,583.5 1330.3,583.5 1329.7,583.4 1328.4,583.5 1327.1,583.5 1325.7,583.6 1324.4,583.7 1323.1,583.8 1321.8,584 1320.5,584.2 1319.2,584.5 1317.8,584.7 1316.5,584.8 1315.2,585 1313.9,585.2 1312.6,585.4 1311.3,585.5 1310,585.7 1308.6,585.8 1307.3,586 1306,586.2 1304.7,586.4 1303.4,586.5 1302.1,586.6 1300.7,586.7 1299.4,586.8 1298.1,587 1296.8,587.2 1295.5,587.3 1294.8,587.3" fill="#2962ff" fill-opacity="0.55"/>
<polygon points="1330.3,583.5 1331,583.7 1332.3,584 1333.6,584.4 1334.9,584.6 1336.3,585 1337.6,585.2 1338.9,585.3 1340.2,585.5 1341.5,585.7 1342.8,585.7 1344.2,585.9 1345.5,586 1346.8,586.1 1348.1,586 1349.4,586.1 1350.7,586.3 1352,586.5 1353.4,586.3 1353.9,586 1353.9,586 1353.4,586 1352,586 1350.7,585.8 1349.4,585.7 1348.1,585.6 1346.8,585.5 1345.5,585.4 1344.2,585.2 1342.8,585.1 1341.5,584.9 1340.2,584.7 1338.9,584.5 1337.6,584.4 1336.3,584.1 1334.9,583.9 1333.6,583.8 1332.3,583.6 1331,583.5 1330.3,583.5" fill="#f23645" fill-opacity="0.55"/>
<polygon points="1353.9,586 1354.7,585.6 1356,584.2 1357.3,582.8 1358.6,581.1 1359.9,579.6 1361.3,578.5 1362.6,577.5 1363.9,576.7 1365.2,576.5 1366.5,577 1367.8,577.8 1369.1,578.6 1369.8,578.8 1369.8,578.8 1369.1,578.8 1367.8,578.9 1366.5,579.1 1365.2,579.6 1363.9,580.4 1362.6,581.4 1361.3,582.4 1359.9,583.3 1358.6,584.3 1357.3,585 1356,585.6 1354.7,585.9 1353.9,586" fill="#2962ff" fill-opacity="0.55"/>
<polygon points="1369.8,578.8 1370.5,579.1 1371.8,579.4 1373.1,579.7 1374.4,579.9 1375.7,579.7 1377,579.4 1377,579.4 1375.7,579.4 1374.4,579.3 1373.1,579.1 1371.8,579 1370.5,578.8 1369.8,578.8" fill="#f23645" fill-opacity="0.55"/>
<polygon points="1377,579.4 1377,579.4 1378.4,579.2 1379.7,579.2 1381,579.2 1382.3,579.2 1382.7,579.3 1382.7,579.3 1382.3,579.3 1381,579.3 1379.7,579.3 1378.4,579.3 1377,579.4 1377,579.4" fill="#2962ff" fill-opacity="0.55"/>
<polygon points="1382.7,579.3 1383.6,579.5 1384.9,579.7 1386.3,579.9 1387.6,580 1388.9,580.2 1390.2,580.5 1391.5,580.8 1392.8,581.2 1394.1,581.5 1395.5,581.8 1396.8,581.9 1398.1,582 1399.4,581.9 1400.7,582.1 1402,582.2 1403.4,582.3 1404.7,582.4 1406,582.6 1407.3,582.6 1408.6,582.9 1409.9,583.1 1411.2,583.5 1412.6,583.8 1413.9,584.1 1415.2,584.2 1416.5,584.1 1417.8,583.9 1418.7,583.5 1418.7,583.5 1417.8,583.6 1416.5,583.5 1415.2,583.3 1413.9,583.1 1412.6,582.9 1411.2,582.7 1409.9,582.5 1408.6,582.3 1407.3,582.1 1406,582 1404.7,581.9 1403.4,581.8 1402,581.6 1400.7,581.5 1399.4,581.3 1398.1,581.2 1396.8,581 1395.5,580.8 1394.1,580.5 1392.8,580.3 1391.5,580 1390.2,579.9 1388.9,579.7 1387.6,579.6 1386.3,579.5 1384.9,579.4 1383.6,579.3 1382.7,579.3" fill="#f23645" fill-opacity="0.55"/>
<polygon points="1418.7,583.5 1419.1,583.4 1420.5,582.9 1421.8,582.6 1423.1,582.5 1424.4,582.7 1425.1,583.1 1425.1,583.1 1424.4,583 1423.1,583.1 1421.8,583.2 1420.5,583.4 1419.1,583.5 1418.7,583.5" fill="#2962ff" fill-opacity="0.55"/>
<polygon points="1425.1,583.1 1425.7,583.3 1427,584.1 1428.3,584.6 1429.7,585.1 1431,585.4 1432.3,585.8 1433.6,586.1 1434.9,586.4 1436.2,586.7 1437.6,586.7 1438.9,586.9 1440.2,587 1441.5,587.3 1442.8,587.4 1444.1,587.5 1445.4,587.3 1446.8,587.2 1448.1,587.2 1449.4,587.3 1450.7,587.4 1452,587.6 1453.3,587.7 1454.7,587.7 1456,587.8 1457.3,587.9 1458.6,587.9 1459.9,587.8 1461.2,587.8 1461.9,587.7 1461.9,587.7 1461.2,587.7 1459.9,587.7 1458.6,587.6 1457.3,587.6 1456,587.5 1454.7,587.4 1453.3,587.3 1452,587.2 1450.7,587.1 1449.4,587 1448.1,587 1446.8,586.9 1445.4,586.9 1444.1,586.8 1442.8,586.6 1441.5,586.4 1440.2,586.2 1438.9,585.9 1437.6,585.7 1436.2,585.4 1434.9,585.1 1433.6,584.8 1432.3,584.5 1431,584.2 1429.7,583.9 1428.3,583.6 1427,583.3 1425.7,583.1 1425.1,583.1" fill="#f23645" fill-opacity="0.55"/>
<polygon points="1461.9,587.7 1462.5,587.6 1463.9,587.6 1464.9,587.6 1464.9,587.6 1463.9,587.6 1462.5,587.7 1461.9,587.7" fill="#2962ff" fill-opacity="0.55"/>
<polygon points="1464.9,587.6 1465.2,587.7 1466.5,588 1467.8,588.3 1469.1,588.6 1470.4,588.6 1471.8,588.3 1472.3,588.1 1472.3,588.1 1471.8,588.1 1470.4,588.1 1469.1,588 1467.8,587.8 1466.5,587.7 1465.2,587.6 1464.9,587.6" fill="#f23645" fill-opacity="0.55"/>
<polygon points="1472.3,588.1 1473.1,587.8 1474.4,587.5 1475.7,587.2 1477,587 1478.3,587 1479.7,586.9 1481,586.7 1482.3,586.4 1483.6,586.4 1484.9,586.2 1486.2,586.1 1487.5,585.8 1488.9,585.7 1490.2,585.5 1491.5,585.6 1492.8,585.7 1494.1,585.7 1495.4,585.4 1496.8,585 1498.1,584.7 1499.4,584.5 1500.7,584.4 1502,584.3 1503.3,584 1504.6,583.4 1506,582.8 1507.3,582.4 1508.6,581 1509.9,578.7 1511.2,575.1 1512.5,571.5 1513.9,568.9 1515.2,567.6 1516.5,567.1 1517.8,566.7 1519.1,566.1 1520.4,565.9 1521.7,565.3 1523.1,564.8 1524.4,564.2 1525.7,563.2 1527,561.6 1528.3,560.3 1529.6,559.9 1531,560.1 1532.3,560.7 1533.6,561.2 1534.9,562 1535.4,562.2 1535.4,562.2 1534.9,562.2 1533.6,562.2 1532.3,562.5 1531,562.9 1529.6,563.6 1528.3,564.5 1527,565.5 1525.7,566.5 1524.4,567.3 1523.1,568.1 1521.7,569 1520.4,569.9 1519.1,570.9 1517.8,572.1 1516.5,573.5 1515.2,575.1 1513.9,577 1512.5,579 1511.2,580.9 1509.9,582.3 1508.6,583.2 1507.3,583.8 1506,584.2 1504.6,584.5 1503.3,584.7 1502,584.9 1500.7,585.1 1499.4,585.3 1498.1,585.5 1496.8,585.7 1495.4,585.8 1494.1,585.9 1492.8,586 1491.5,586 1490.2,586.2 1488.9,586.3 1487.5,586.5 1486.2,586.7 1484.9,586.8 1483.6,586.9 1482.3,587.1 1481,587.2 1479.7,587.4 1478.3,587.5 1477,587.6 1475.7,587.8 1474.4,588 1473.1,588.1 1472.3,588.1" fill="#2962ff" fill-opacity="0.55"/>
<polygon points="1535.4,562.2 1536.2,562.6 1537.5,563.3 1538.8,564.3 1540.2,565.5 1541.5,566.7 1542.8,567.8 1544.1,568.9 1545.4,570 1546.7,571.1 1548.1,572.3 1549.4,573.4 1550.7,574.7 1552,576 1553.3,577.2 1554.6,578.2 1556,579 1557.3,579.6 1558.6,580.1 1559.9,580.7 1561.2,580.4 1562.5,579.4 1563.4,578.2 1563.4,578.2 1562.5,578.3 1561.2,578.1 1559.9,577.5 1558.6,576.7 1557.3,575.8 1556,574.8 1554.6,573.8 1553.3,572.7 1552,571.6 1550.7,570.5 1549.4,569.4 1548.1,568.4 1546.7,567.4 1545.4,566.5 1544.1,565.6 1542.8,564.8 1541.5,564 1540.2,563.4 1538.8,562.8 1537.5,562.5 1536.2,562.2 1535.4,562.2" fill="#f23645" fill-opacity="0.55"/>
<polygon points="1563.4,578.2 1563.8,577.6 1565.2,575.7 1566.5,573.7 1567.8,572.5 1569.1,572.3 1570.4,572.9 1571.7,573.6 1573.1,574.5 1573.1,574.6 1573.1,574.6 1573.1,574.5 1571.7,574.6 1570.4,574.8 1569.1,575.3 1567.8,576 1566.5,576.9 1565.2,577.7 1563.8,578.2 1563.4,578.2" fill="#2962ff" fill-opacity="0.55"/>
<polygon points="1573.1,574.6 1574.4,575.7 1575.7,577.1 1577,578.5 1578.3,579.6 1579.6,580.7 1580.9,581.3 1582.3,582 1583.6,582.4 1584.9,583.1 1586.2,583.6 1587.5,584.3 1588.8,584.5 1590.2,584.7 1591.5,584.8 1592.8,585.3 1594.1,585.8 1595.4,586.3 1596.7,586.6 1598,587 1599.4,587.2 1600.7,587.6 1602,588.3 1603.3,589 1604.6,589.2 1605.9,589.5 1607.3,589.4 1608.6,589.1 1609.9,588.6 1610.9,588.4 1610.9,588.4 1609.9,588.4 1608.6,588.4 1607.3,588.2 1605.9,587.9 1604.6,587.5 1603.3,587 1602,586.5 1600.7,586.1 1599.4,585.7 1598,585.3 1596.7,584.9 1595.4,584.5 1594.1,584 1592.8,583.6 1591.5,583.1 1590.2,582.7 1588.8,582.2 1587.5,581.7 1586.2,581 1584.9,580.3 1583.6,579.7 1582.3,579 1580.9,578.2 1579.6,577.4 1578.3,576.6 1577,575.9 1575.7,575.2 1574.4,574.8 1573.1,574.6" fill="#f23645" fill-opacity="0.55"/>
<polygon points="1610.9,588.4 1611.2,588.3 1612.5,588.1 1613.8,587.7 1615.1,587.1 1616.5,586.7 1617.8,586.2 1619.1,585.5 1620.4,584.9 1621.7,584.1 1623,583.2 1624.4,582.2 1625.7,581.6 1627,581.2 1628.3,580.5 1629.6,579.7 1630.9,578.6 1632.2,577.5 1633.6,576.4 1634.9,575.9 1636.2,575.7 1637.5,575.8 1638.8,575.2 1640.1,574.1 1641.5,570.5 1642.8,564.8 1643.3,559 1643.3,570.5 1642.8,573.3 1641.5,575.5 1640.1,576.7 1638.8,577.4 1637.5,577.9 1636.2,578.4 1634.9,579.1 1633.6,579.9 1632.2,580.8 1630.9,581.6 1629.6,582.3 1628.3,583 1627,583.6 1625.7,584.2 1624.4,584.9 1623,585.5 1621.7,586.1 1620.4,586.6 1619.1,587 1617.8,587.4 1616.5,587.7 1615.1,588 1613.8,588.2 1612.5,588.3 1611.2,588.4 1610.9,588.4" fill="#2962ff" fill-opacity="0.55"/>
<polyline points="191.7,589.5 193.2,589.5 194.7,589.4 196.2,589.4 197.7,589.4 199.2,589.3 200.7,589.3 202.2,589.3 203.7,589.2 205.2,589.2 206.7,589.2 208.2,589.1 209.7,589.1 211.2,589.1 212.7,589 214.2,589 215.7,589 217.2,588.9 218.7,588.9 220.2,588.9 221.7,588.8 223.2,588.8 224.7,588.8 226.2,588.7 227.7,588.7 229.2,588.7 230.7,588.6 232.2,588.6 233.7,588.6 235.2,588.5 236.7,588.5 238.2,588.5 239.7,588.4 241.2,588.4 242.7,588.4 244.2,588.3 245.7,588.3 247.2,588.3 248.7,588.2 250.2,588.2 251.7,588.1 253.2,588 254.7,587.9 256.2,587.9 257.7,587.8 259.2,587.7 260.7,587.6 262.2,587.5 263.7,587.5 265.2,587.4 266.7,587.3 268.2,587.2 269.7,587.1 271.2,587.1 272.7,587 274.2,586.9 275.7,586.8 277.2,586.7 278.7,586.7 280.2,586.6 281.7,586.5 283.2,586.4 284.7,586.3 286.2,586.2 287.7,586.2 289.2,586.1 290.7,586 292.2,585.9 293.7,585.8 295.2,585.8 296.7,585.7 298.2,585.6 299.7,585.5 301.2,585.4 302.7,585.2 304.2,585.1 305.7,584.9 307.2,584.8 308.7,584.6 310.2,584.5 311.7,584.1 313.2,583.5 314.7,582.7 316.2,581.7 317.7,580.6 319.2,579.4 320.7,578.3 322.2,577.1 323.7,575.8 325.2,574.3 326.7,572.7 328.2,570.9 329.7,569 331.2,567.1 332.7,565.2 334.2,563.3 335.7,561.4 337.2,559.5 338.7,557.7 340.2,555.8 341.7,554 343.2,552.2 344.7,550.4 346.2,548.6 347.7,546.8 349.2,545 350.7,543.2 352.2,541.4 353.7,540 355.2,538.8 356.7,537.9 358.2,537.3 359.7,536.9 361.2,536.6 362.7,536.2 364.2,536 365.7,535.9 367.2,536 368.7,536.2 370.2,536.7 371.7,537.5 373.2,538.5 374.7,539.7 376.2,541.3 377.7,542.9 379.2,544.6 380.7,546.3 382.2,548 383.7,549.4 385.2,550.7 386.7,551.9 388.2,552.9 389.7,554.1 391.2,555.3 392.7,556.8 394.2,558.7 395.7,560.8 397.2,563.1 398.7,565.7 400.2,568.3 401.7,571 403.2,573.7 404.7,576.3 406.2,578.9 407.7,581.4 409.2,583.9 410.7,586.2 412.2,588.5 413.7,590.6 415.2,592.7 416.7,594.6 418.2,596.5 419.7,598.1 421.2,599.5 422.7,600.8 424.2,601.8 425.7,602.6 427.2,603.4 428.7,604.1 430.2,604.6 431.7,605 433.2,605.3 434.7,605.4 436.2,605.6 437.7,605.7 439.2,605.9 440.7,606.2 442.2,606.5 443.7,606.9 445.2,607.4 446.7,607.9 448.2,608.6 449.7,609.4 451.2,610.4 452.7,611.4 454.2,612.2 455.7,612.7 457.2,612.7 458.7,612.3 460.2,611.6 461.7,610.7 463.2,609.8 464.7,608.6 466.2,607.3 467.7,606.1 469.2,605.1 470.7,604.3 472.2,603.7 473.7,603.5 475.2,603.6 476.7,603.8 478.2,604.3 479.7,604.9 481.2,605.5 482.7,606.1 484.2,606.7 485.7,607.3 487.2,607.9 488.7,608.4 490.2,608.9 491.7,609.3 493.2,609.6 494.7,609.9 496.2,610.2 497.7,610.5 499.2,610.8 500.7,611.1 502.2,611.3 503.7,611.6 505.2,611.8 506.7,612 508.2,612.1 509.7,611.9 511.2,611.5 512.7,611 514.2,610.2 515.7,609.4 517.2,608.6 518.7,607.8 520.2,607.2 521.7,606.8 523.2,606.4 524.7,606.1 526.2,605.8 527.7,605.5 529.2,605.5 530.7,605.7 532.2,606 533.7,606.5 535.2,607.1 536.7,607.7 538.2,608.3 539.7,608.8 541.2,609.4 542.7,609.9 544.2,610.4 545.7,610.9 547.2,611.4 548.7,611.9 550.2,612.4 551.7,612.8 553.2,613.2 554.7,613.6 556.2,614 557.7,614.3 559.2,614.7 560.7,615 562.2,615.2 563.7,615.1 565.2,614.7 566.7,614.1 568.2,613.2 569.7,612.3 571.2,611.3 572.7,610.4 574.2,609.3 575.7,608.2 577.2,606.9 578.7,605.6 580.2,604.2 581.7,602.9 583.2,601.5 584.7,600.2 586.2,599 587.7,598 589.2,597.1 590.7,596.3 592.2,595.6 593.7,594.9 595.2,594.2 596.7,593.5 598.2,592.9 599.7,592.4 601.2,592 602.7,591.7 604.2,591.4 605.7,591.2 607.2,591 608.7,590.8 610.2,590.6 611.7,590.4 613.2,590.3 614.7,590.2 616.2,590.2 617.7,590.2 619.2,590.3 620.7,590.4 622.2,590.5 623.7,590.6 625.2,590.7 626.7,590.8 628.2,590.9 629.7,591 631.2,591.1 632.7,591.2 634.2,591.3 635.7,591.4 637.2,591.5 638.7,591.6 640.2,591.7 641.7,591.8 643.2,591.9 644.7,592 646.2,592.1 647.7,592.2 649.2,592.3 650.7,592.4 652.2,592.5 653.7,592.6 655.2,592.7 656.7,592.8 658.2,592.8 659.7,592.9 661.2,592.9 662.7,592.8 664.2,592.7 665.7,592.6 667.2,592.5 668.7,592.4 670.2,592.3 671.7,592.2 673.2,592.1 674.7,592 676.2,592 677.7,591.9 679.2,591.9 680.7,591.8 682.2,591.8 683.7,591.7 685.2,591.7 686.7,591.6 688.2,591.6 689.7,591.6 691.2,591.6 692.7,591.6 694.2,591.6 695.7,591.7 697.2,591.7 698.7,591.8 700.2,591.8 701.7,591.9 703.2,592 704.7,592 706.2,592.2 707.7,592.3 709.2,592.5 710.7,592.6 712.2,592.8 713.7,592.9 715.2,593.1 716.7,593.3 718.2,593.4 719.7,593.4 721.2,593.3 722.7,593.1 724.2,592.8 725.7,592.4 727.2,592 728.7,591.6 730.2,591.2 731.7,590.9 733.2,590.4 734.7,589.9 736.2,589.4 737.7,588.7 739.2,588.1 740.7,587.4 742.2,586.7 743.7,586 745.2,585.3 746.7,584.7 748.2,584.1 749.7,583.5 751.2,583.1 752.7,582.6 754.2,582.2 755.7,581.7 757.2,581.3 758.7,580.9 760.2,580.4 761.7,580 763.2,579.5 764.7,579.1 766.2,578.7 767.7,578.3 769.2,577.9 770.7,577.5 772.2,577.1 773.7,576.7 775.2,576.3 776.7,575.9 778.2,575.5 779.7,575.2 781.2,574.8 782.7,574.6 784.2,574.3 785.7,574 787.2,573.8 788.7,573.5 790.2,573.3 791.7,573 793.2,572.8 794.7,572.6 796.2,572.3 797.7,572.1 799.2,571.9 800.7,571.7 802.2,571.5 803.7,571.4 805.2,571.3 806.7,571.3 808.2,571.4 809.7,571.5 811.2,571.7 812.7,572 814.2,572.2 815.7,572.4 817.2,572.6 818.7,572.9 820.2,573.3 821.7,573.7 823.2,574.2 824.7,574.7 826.2,575.3 827.7,575.9 829.2,576.4 830.7,576.9 832.2,577.3 833.7,577.5 835.2,577.6 836.7,577.5 838.2,577.2 839.7,576.9 841.2,576.4 842.7,575.9 844.2,575.3 845.7,574.7 847.2,574.1 848.7,573.5 850.2,572.8 851.7,572.1 853.2,571.4 854.7,570.6 856.2,569.9 857.7,569.1 859.2,568.4 860.7,567.7 862.2,567.1 863.7,566.5 865.2,565.9 866.7,565.4 868.2,564.9 869.7,564.4 871.2,563.9 872.7,563.5 874.2,563.1 875.7,562.7 877.2,562.3 878.7,561.9 880.2,561.6 881.7,561.3 883.2,560.9 884.7,560.7 886.2,560.5 887.7,560.3 889.2,560.1 890.7,560 892.2,559.9 893.7,559.7 895.2,559.6 896.7,559.6 898.2,559.7 899.7,559.8 901.2,560.1 902.7,560.3 904.2,560.6 905.7,560.9 907.2,561.1 908.7,561.4 910.2,561.7 911.7,562.1 913.2,562.5 914.7,563.1 916.2,563.6 917.7,564.2 919.2,564.8 920.7,565.3 922.2,565.9 923.7,566.6 925.2,567.4 926.7,568.3 928.2,569.2 929.7,570.3 931.2,571.3 932.7,572.3 934.2,573.2 935.7,574 937.2,574.8 938.7,575.4 940.2,575.9 941.7,576.5 943.2,577 944.7,577.6 946.2,578.1 947.7,578.7 949.2,579.3 950.7,579.9 952.2,580.5 953.7,581.2 955.2,581.8 956.7,582.5 958.2,583.2 959.7,584 961.2,584.8 962.7,585.6 964.2,586.5 965.7,587.4 967.2,588.3 968.7,589.2 970.2,590 971.7,590.8 973.2,591.6 974.7,592.4 976.2,593.1 977.7,593.8 979.2,594.5 980.7,595.1 982.2,595.7 983.7,596.3 985.2,596.8 986.7,597.3 988.2,597.9 989.7,598.4 991.2,598.9 992.7,599.4 994.2,599.8 995.7,600.1 997.2,600.2 998.7,600.2 1000.2,599.9 1001.7,599.6 1003.2,599.4 1004.7,599.1 1006.2,598.8 1007.7,598.4 1009.2,598 1010.7,597.4 1012.2,596.8 1013.7,596 1015.2,595.2 1016.7,594.4 1018.2,593.6 1019.7,592.8 1021.2,592 1022.7,591.2 1024.2,590.5 1025.7,589.7 1027.2,589 1028.7,588.3 1030.2,587.6 1031.7,586.9 1033.2,586.2 1034.7,585.5 1036.2,584.8 1037.7,584.1 1039.2,583.4 1040.7,582.8 1042.2,582.2 1043.7,581.6 1045.2,581 1046.7,580.6 1048.2,580.2 1049.7,579.9 1051.2,579.8 1052.7,580 1054.2,580.4 1055.7,581 1057.2,581.8 1058.7,582.6 1060.2,583.4 1061.7,584.2 1063.2,585 1064.7,585.6 1066.2,586.1 1067.7,586.6 1069.2,587 1070.7,587.3 1072.2,587.7 1073.7,588 1075.2,588.3 1076.7,588.6 1078.2,588.9 1079.7,589.1 1081.2,589.3 1082.7,589.4 1084.2,589.5 1085.7,589.6 1087.2,589.8 1088.7,589.8 1090.2,589.9 1091.7,589.9 1093.2,589.8 1094.7,589.8 1096.2,589.7 1097.7,589.6 1099.2,589.7 1100.7,589.8 1102.2,589.9 1103.7,590.1 1105.2,590.4 1106.7,590.6 1108.2,590.9 1109.7,591.1 1111.2,591.4 1112.7,591.6 1114.2,591.9 1115.7,592.3 1117.2,592.7 1118.7,593.1 1120.2,593.6 1121.7,594.1 1123.2,594.5 1124.7,595 1126.2,595.4 1127.7,595.8 1129.2,596.2 1130.7,596.6 1132.2,596.9 1133.7,597.2 1135.2,597.5 1136.7,597.8 1138.2,598.1 1139.7,598.3 1141.2,598.5 1142.7,598.6 1144.2,598.7 1145.7,598.8 1147.2,598.9 1148.7,599 1150.2,599 1151.7,599.1 1153.2,599.1 1154.7,599 1156.2,598.9 1157.7,598.7 1159.2,598.6 1160.7,598.4 1162.2,598.3 1163.7,598.1 1165.2,597.9 1166.7,597.6 1168.2,597.4 1169.7,597.1 1171.2,596.8 1172.7,596.5 1174.2,596.3 1175.7,596.1 1177.2,596 1178.7,596 1180.2,596 1181.7,596 1183.2,596 1184.7,596 1186.2,596 1187.7,596 1189.2,595.8 1190.7,595.6 1192.2,595.2 1193.7,594.8 1195.2,594.3 1196.7,593.8 1198.2,593.3 1199.7,592.8 1201.2,592.4 1202.7,592 1204.2,591.7 1205.7,591.4 1207.2,591.2 1208.7,591 1210.2,590.7 1211.7,590.5 1213.2,590.3 1214.7,590.1 1216.2,589.9 1217.7,589.7 1219.2,589.5 1220.7,589.4 1222.2,589.2 1223.7,589 1225.2,588.9 1226.7,588.7 1228.2,588.5 1229.7,588.4 1231.2,588.4 1232.7,588.4 1234.2,588.4 1235.7,588.5 1237.2,588.6 1238.7,588.7 1240.2,588.8 1241.7,589 1243.2,589.2 1244.7,589.4 1246.2,589.7 1247.7,590.1 1249.2,590.4 1250.7,590.8 1252.2,591.1 1253.7,591.5 1255.2,591.7 1256.7,592 1258.2,592.2 1259.7,592.4 1261.2,592.5 1262.7,592.7 1264.2,592.9 1265.7,593 1267.2,593.2 1268.7,593.3 1270.2,593.5 1271.7,593.7 1273.2,593.8 1274.7,594 1276.2,594.1 1277.7,594.3 1279.2,594.4 1280.7,594.6 1282.2,594.7 1283.7,594.9 1285.2,595 1286.7,595.2 1288.2,595.3 1289.7,595.3 1291.2,595.4 1292.7,595.3 1294.2,595.2 1295.7,595.1 1297.2,595 1298.7,594.9 1300.2,594.8 1301.7,594.7 1303.2,594.6 1304.7,594.5 1306.2,594.4 1307.7,594.2 1309.2,594.1 1310.7,593.9 1312.2,593.8 1313.7,593.6 1315.2,593.5 1316.7,593.3 1318.2,593.2 1319.7,593 1321.2,592.7 1322.7,592.5 1324.2,592.2 1325.7,591.9 1327.2,591.6 1328.7,591.4 1330.2,591.3 1331.7,591.3 1333.2,591.5 1334.7,591.7 1336.2,591.9 1337.7,592.1 1339.2,592.3 1340.7,592.3 1342.2,592.4 1343.7,592.3 1345.2,592.2 1346.7,592.2 1348.2,592 1349.7,591.7 1351.2,591.4 1352.7,590.9 1354.2,590.3 1355.7,589.7 1357.2,589.1 1358.7,588.4 1360.2,587.6 1361.7,586.6 1363.2,585.6 1364.7,584.6 1366.2,583.7 1367.7,583 1369.2,582.4 1370.7,582 1372.2,581.6 1373.7,581.2 1375.2,580.8 1376.7,580.5 1378.2,580.2 1379.7,580 1381.2,579.9 1382.7,579.7 1384.2,579.5 1385.7,579.4 1387.2,579.4 1388.7,579.4 1390.2,579.6 1391.7,579.7 1393.2,579.9 1394.7,580.1 1396.2,580.3 1397.7,580.6 1399.2,580.9 1400.7,581.3 1402.2,581.6 1403.7,581.8 1405.2,582.1 1406.7,582.2 1408.2,582.4 1409.7,582.5 1411.2,582.7 1412.7,582.8 1414.2,583 1415.7,583.1 1417.2,583.2 1418.7,583.4 1420.2,583.5 1421.7,583.7 1423.2,583.8 1424.7,584 1426.2,584.1 1427.7,584.3 1429.2,584.4 1430.7,584.6 1432.2,584.7 1433.7,584.9 1435.2,585 1436.7,585.2 1438.2,585.3 1439.7,585.5 1441.2,585.7 1442.7,585.9 1444.2,586.1 1445.7,586.4 1447.2,586.6 1448.7,586.8 1450.2,587 1451.7,587.3 1453.2,587.5 1454.7,587.7 1456.2,587.9 1457.7,588.2 1459.2,588.4 1460.7,588.6 1462.2,588.8 1463.7,589 1465.2,589.1 1466.7,589.3 1468.2,589.5 1469.7,589.7 1471.2,589.9 1472.7,590 1474.2,590.2 1475.7,590.4 1477.2,590.6 1478.7,590.7 1480.2,590.8 1481.7,590.8 1483.2,590.8 1484.7,590.7 1486.2,590.6 1487.7,590.5 1489.2,590.4 1490.7,590.3 1492.2,590.2 1493.7,590.1 1495.2,590 1496.7,589.8 1498.2,589.7 1499.7,589.6 1501.2,589.4 1502.7,589.3 1504.2,589.1 1505.7,589 1507.2,588.6 1508.7,587.8 1510.2,586.8 1511.7,585.4 1513.2,583.5 1514.7,581.5 1516.2,579.2 1517.7,576.9 1519.2,574.6 1520.7,572.5 1522.2,570.5 1523.7,568.7 1525.2,567 1526.7,565.3 1528.2,563.6 1529.7,562 1531.2,560.7 1532.7,559.6 1534.2,558.8 1535.7,558.3 1537.2,557.9 1538.7,557.6 1540.2,557.3 1541.7,557.1 1543.2,557.1 1544.7,557.1 1546.2,557.3 1547.7,557.5 1549.2,557.7 1550.7,557.9 1552.2,558.3 1553.7,558.7 1555.2,559.2 1556.7,559.8 1558.2,560.2 1559.7,560.2 1561.2,559.9 1562.7,559.4 1564.2,558.5 1565.7,557.6 1567.2,556.8 1568.7,556.2 1570.2,556 1571.7,556 1573.2,556.3 1574.7,556.9 1576.2,557.5 1577.7,558.1 1579.2,558.8 1580.7,559.6 1582.2,560.3 1583.7,561.1 1585.2,561.8 1586.7,562.6 1588.2,563.3 1589.7,564.1 1591.2,564.8 1592.7,565.6 1594.2,566.4 1595.7,567.2 1597.2,568 1598.7,568.9 1600.2,569.8 1601.7,570.7 1603.2,571.6 1604.7,572.5 1606.2,573.3 1607.7,574 1609.2,574.6 1610.7,575.1 1612.2,575.6 1613.7,575.9 1615.2,576.1 1616.7,576.2 1618.2,576.1 1619.7,575.9 1621.2,575.6 1622.7,575.3 1624.2,575 1625.7,574.7 1627.2,574.3 1628.7,573.9 1630.2,573.4 1631.7,573 1633.2,572.5 1634.7,572.1 1636.2,571.6 1637.7,571 1639.2,570.4 1640.7,568.6 1642.2,567.2 1643.3,563" fill="none" stroke="#b9bbc1" stroke-width="1.5"/>
<polyline points="108.9,587.4 110.2,587.4 111.5,587.4 112.8,587.5 114.2,587.5 115.5,587.6 116.8,587.6 118.1,587.7 119.4,587.7 120.7,587.8 122.1,587.8 123.4,587.8 124.7,587.8 126,587.7 127.3,587.7 128.6,587.6 129.9,587.6 131.3,587.5 132.6,587.4 133.9,587.4 135.2,587.3 136.5,587.2 137.8,587.1 139.2,587.1 140.5,587 141.8,586.9 143.1,586.8 144.4,586.7 145.7,586.6 147,586.5 148.4,586.5 149.7,586.4 151,586.3 152.3,586.2 153.6,586.2 154.9,586.1 156.3,586 157.6,586 158.9,585.9 160.2,585.9 161.5,585.8 162.8,585.8 164.2,585.8 165.5,585.7 166.8,585.7 168.1,585.6 169.4,585.6 170.7,585.5 172,585.5 173.4,585.5 174.7,585.4 176,585.4 177.3,585.3 178.6,585.3 179.9,585.3 181.3,585.2 182.6,585.2 183.9,585.1 185.2,585.1 186.5,585.1 187.8,585 189.1,585 190.5,584.9 191.8,584.9 193.1,584.9 194.4,584.8 195.7,584.8 197,584.7 198.4,584.7 199.7,584.7 201,584.6 202.3,584.6 203.6,584.6 204.9,584.6 206.2,584.6 207.6,584.5 208.9,584.5 210.2,584.5 211.5,584.5 212.8,584.5 214.1,584.5 215.5,584.5 216.8,584.5 218.1,584.5 219.4,584.5 220.7,584.5 222,584.5 223.3,584.5 224.7,584.5 226,584.5 227.3,584.5 228.6,584.5 229.9,584.5 231.2,584.5 232.6,584.5 233.9,584.5 235.2,584.5 236.5,584.5 237.8,584.5 239.1,584.5 240.4,584.5 241.8,584.5 243.1,584.5 244.4,584.5 245.7,584.5 247,584.5 248.3,584.5 249.7,584.5 251,584.5 252.3,584.5 253.6,584.5 254.9,584.5 256.2,584.5 257.6,584.5 258.9,584.5 260.2,584.5 261.5,584.5 262.8,584.5 264.1,584.5 265.4,584.5 266.8,584.5 268.1,584.5 269.4,584.5 270.7,584.5 272,584.5 273.3,584.5 274.7,584.5 276,584.5 277.3,584.5 278.6,584.5 279.9,584.5 281.2,584.5 282.5,584.5 283.9,584.5 285.2,584.5 286.5,584.5 287.8,584.5 289.1,584.5 290.4,584.5 291.8,584.5 293.1,584.5 294.4,584.5 295.7,584.5 297,584.5 298.3,584.5 299.6,584.5 301,584.5 302.3,584.5 303.6,584.5 304.9,584.4 306.2,584.4 307.5,584.4 308.9,584.3 310.2,584.3 311.5,584.2 312.8,584.1 314.1,583.9 315.4,583.5 316.7,582.9 318.1,582.1 319.4,581.2 320.7,580.1 322,578.8 323.3,577.4 324.6,576 326,575 327.3,574.2 328.6,573.7 329.9,573.4 331.2,573.2 332.5,572.9 333.9,572.5 335.2,571.8 336.5,571.1 337.8,570.2 339.1,569.3 340.4,568.2 341.7,567 343.1,565.5 344.4,563.8 345.7,561.8 347,559.5 348.3,557.3 349.6,555.6 351,554.7 352.3,554.4 353.6,554.4 354.9,554.5 356.2,554.7 357.5,555 358.8,555.5 360.2,556.1 361.5,556.8 362.8,557.7 364.1,558.6 365.4,559.5 366.7,560.6 368.1,561.7 369.4,562.9 370.7,564.3 372,565.9 373.3,567.7 374.6,569.8 375.9,572.1 377.3,574.4 378.6,576.7 379.9,578.9 381.2,580.9 382.5,582.7 383.8,584 385.2,584.9 386.5,585.5 387.8,585.9 389.1,586.1 390.4,586.3 391.7,586.7 393,587.4 394.4,588.2 395.7,589.1 397,590.3 398.3,591.6 399.6,593 400.9,594.4 402.3,596 403.6,597.7 404.9,599.4 406.2,601 407.5,602.4 408.8,603.8 410.1,605 411.5,606.2 412.8,607.2 414.1,607.9 415.4,608.3 416.7,608.3 418,608 419.4,607.6 420.7,607.1 422,606.5 423.3,605.8 424.6,605 425.9,603.8 427.3,602.5 428.6,601 429.9,599.5 431.2,598.3 432.5,597.3 433.8,596.7 435.1,596.2 436.5,595.9 437.8,595.7 439.1,595.6 440.4,595.5 441.7,595.5 443,595.5 444.4,595.7 445.7,595.7 447,595.6 448.3,595.3 449.6,594.8 450.9,594.2 452.2,593.5 453.6,592.8 454.9,592 456.2,591.2 457.5,590.2 458.8,589.1 460.1,587.8 461.5,586.6 462.8,585.5 464.1,584.5 465.4,583.6 466.7,582.8 468,582.2 469.3,581.7 470.7,581.4 472,581.2 473.3,581.3 474.6,581.5 475.9,581.9 477.2,582.5 478.6,583.1 479.9,583.7 481.2,584.2 482.5,584.7 483.8,585.3 485.1,585.9 486.4,586.6 487.8,587.3 489.1,587.8 490.4,588.3 491.7,588.8 493,589.3 494.3,590 495.7,590.7 497,591.2 498.3,591.4 499.6,591.3 500.9,591.2 502.2,591.2 503.5,591.2 504.9,591.4 506.2,591.6 507.5,591.9 508.8,592.2 510.1,592.5 511.4,592.4 512.8,592 514.1,591.3 515.4,590.5 516.7,589.7 518,588.8 519.3,588 520.7,587.1 522,586.2 523.3,585.4 524.6,584.6 525.9,584.1 527.2,583.6 528.5,583.3 529.9,583.3 531.2,583.7 532.5,584.3 533.8,585.1 535.1,586 536.4,586.8 537.8,587.5 539.1,588.1 540.4,588.7 541.7,589.4 543,590.2 544.3,591.1 545.6,592 547,592.9 548.3,593.7 549.6,594.4 550.9,595.1 552.2,595.7 553.5,596.1 554.9,596.4 556.2,596.4 557.5,596.2 558.8,595.8 560.1,595.3 561.4,594.7 562.7,594.3 564.1,593.9 565.4,593.5 566.7,593.1 568,592.8 569.3,592.4 570.6,591.9 572,591.3 573.3,590.7 574.6,590.1 575.9,589.5 577.2,588.9 578.5,588.4 579.8,587.8 581.2,587.2 582.5,586.6 583.8,586 585.1,585.4 586.4,584.7 587.7,584.1 589.1,583.5 590.4,583 591.7,582.3 593,581.6 594.3,580.8 595.6,579.9 597,579 598.3,578.4 599.6,578.1 600.9,578.1 602.2,578.2 603.5,578.4 604.8,578.7 606.2,579.1 607.5,579.4 608.8,579.7 610.1,580 611.4,580.3 612.7,580.5 614.1,580.8 615.4,581 616.7,581.2 618,581.5 619.3,581.9 620.6,582.3 621.9,582.7 623.3,583.1 624.6,583.5 625.9,583.9 627.2,584.3 628.5,584.7 629.8,585.1 631.2,585.4 632.5,585.7 633.8,586 635.1,586.2 636.4,586.3 637.7,586.5 639,586.5 640.4,586.6 641.7,586.6 643,586.6 644.3,586.6 645.6,586.8 646.9,587 648.3,587.3 649.6,587.6 650.9,587.9 652.2,588.1 653.5,588.3 654.8,588.5 656.1,588.6 657.5,588.5 658.8,588.5 660.1,588.5 661.4,588.4 662.7,588.4 664,588.4 665.4,588.4 666.7,588.4 668,588.4 669.3,588.3 670.6,588.2 671.9,587.9 673.2,587.5 674.6,587.1 675.9,586.5 677.2,586 678.5,585.4 679.8,584.8 681.1,584.3 682.5,584.1 683.8,584 685.1,584 686.4,584.1 687.7,584.1 689,584.1 690.4,584.1 691.7,584 693,584 694.3,584 695.6,584.1 696.9,584.3 698.2,584.6 699.6,584.8 700.9,585 702.2,585.2 703.5,585.3 704.8,585.4 706.1,585.4 707.5,585.4 708.8,585.5 710.1,585.7 711.4,586 712.7,586.3 714,586.6 715.3,587 716.7,587.4 718,587.7 719.3,588 720.6,588.1 721.9,588.1 723.2,588.1 724.6,587.9 725.9,587.6 727.2,587.2 728.5,586.8 729.8,586.4 731.1,585.9 732.4,585.3 733.8,584.8 735.1,584.2 736.4,583.7 737.7,583.1 739,582.6 740.3,582.1 741.7,581.6 743,581.1 744.3,580.7 745.6,580.2 746.9,579.8 748.2,579.4 749.5,579 750.9,578.6 752.2,578.3 753.5,578.1 754.8,578 756.1,577.9 757.4,577.8 758.8,577.7 760.1,577.6 761.4,577.5 762.7,577.5 764,577.5 765.3,577.7 766.6,577.8 768,578 769.3,578.1 770.6,578.1 771.9,578.1 773.2,578 774.5,578 775.9,577.9 777.2,577.8 778.5,577.8 779.8,577.7 781.1,577.6 782.4,577.6 783.8,577.5 785.1,577.5 786.4,577.5 787.7,577.5 789,577.5 790.3,577.5 791.6,577.6 793,577.7 794.3,577.9 795.6,578.1 796.9,578.3 798.2,578.5 799.5,578.7 800.9,579 802.2,579.3 803.5,579.6 804.8,579.8 806.1,580.1 807.4,580.4 808.7,580.7 810.1,581.2 811.4,581.7 812.7,582.2 814,582.9 815.3,583.5 816.6,584.2 818,584.9 819.3,585.6 820.6,586.2 821.9,586.7 823.2,587 824.5,587.2 825.8,587.3 827.2,587.3 828.5,587.1 829.8,586.8 831.1,586.3 832.4,585.7 833.7,585.1 835.1,584.3 836.4,583.5 837.7,582.5 839,581.3 840.3,580.2 841.6,579.2 842.9,578.3 844.3,577.5 845.6,576.8 846.9,576.1 848.2,575.5 849.5,574.9 850.8,574.3 852.2,573.9 853.5,573.6 854.8,573.3 856.1,572.9 857.4,572.6 858.7,572.3 860.1,572.1 861.4,571.8 862.7,571.6 864,571.4 865.3,571.3 866.6,571.2 867.9,571.1 869.3,571.3 870.6,571.6 871.9,572 873.2,572.6 874.5,573.2 875.8,573.8 877.2,574.2 878.5,574.4 879.8,574.5 881.1,574.5 882.4,574.6 883.7,574.7 885,574.9 886.4,575.1 887.7,575.3 889,575.7 890.3,576 891.6,576.3 892.9,576.6 894.3,576.9 895.6,577.3 896.9,577.7 898.2,578.1 899.5,578.5 900.8,578.8 902.1,579.1 903.5,579.5 904.8,579.9 906.1,580.4 907.4,581 908.7,581.7 910,582.4 911.4,583.1 912.7,583.8 914,584.5 915.3,585.1 916.6,585.6 917.9,586.1 919.2,586.4 920.6,586.8 921.9,587.2 923.2,587.6 924.5,588 925.8,588.5 927.1,588.9 928.5,589.2 929.8,589.4 931.1,589.5 932.4,589.6 933.7,589.6 935,589.7 936.3,589.8 937.7,589.8 939,589.7 940.3,589.6 941.6,589.6 942.9,589.7 944.2,589.7 945.6,589.8 946.9,589.8 948.2,589.8 949.5,589.9 950.8,590 952.1,590.2 953.5,590.4 954.8,590.5 956.1,590.6 957.4,590.7 958.7,590.7 960,590.8 961.3,590.9 962.7,591.1 964,591.4 965.3,591.7 966.6,592 967.9,592.2 969.2,592.2 970.6,592.2 971.9,592.2 973.2,592.1 974.5,592.2 975.8,592.2 977.1,592.2 978.4,592.2 979.8,592.2 981.1,592.2 982.4,592.3 983.7,592.5 985,592.7 986.3,592.9 987.7,593.1 989,593.3 990.3,593.3 991.6,593.3 992.9,593.3 994.2,593.3 995.5,593.1 996.9,592.8 998.2,592.3 999.5,591.7 1000.8,591.1 1002.1,590.5 1003.4,589.8 1004.8,589.1 1006.1,588.4 1007.4,587.6 1008.7,586.9 1010,586.1 1011.3,585.5 1012.6,584.9 1014,584.4 1015.3,583.9 1016.6,583.4 1017.9,583 1019.2,582.6 1020.5,582.1 1021.9,581.8 1023.2,581.4 1024.5,581.1 1025.8,580.8 1027.1,580.5 1028.4,580.1 1029.8,579.8 1031.1,579.6 1032.4,579.4 1033.7,579.1 1035,578.8 1036.3,578.5 1037.6,578.1 1039,577.7 1040.3,577.3 1041.6,577.1 1042.9,576.9 1044.2,576.8 1045.5,576.7 1046.9,576.7 1048.2,576.7 1049.5,576.7 1050.8,576.8 1052.1,577.2 1053.4,577.7 1054.7,578.4 1056.1,579.2 1057.4,580 1058.7,580.9 1060,581.7 1061.3,582.4 1062.6,583.1 1064,583.7 1065.3,584.3 1066.6,584.9 1067.9,585.5 1069.2,586.1 1070.5,586.6 1071.8,587 1073.2,587.4 1074.5,587.7 1075.8,588 1077.1,588.3 1078.4,588.7 1079.7,589 1081.1,589.3 1082.4,589.3 1083.7,589.1 1085,588.7 1086.3,588.2 1087.6,587.6 1088.9,587.1 1090.3,586.6 1091.6,586.3 1092.9,586.2 1094.2,586.1 1095.5,586.1 1096.8,586.1 1098.2,586.1 1099.5,586 1100.8,585.9 1102.1,585.8 1103.4,585.8 1104.7,585.8 1106,585.8 1107.4,585.8 1108.7,585.8 1110,585.8 1111.3,585.8 1112.6,585.9 1113.9,586.1 1115.3,586.3 1116.6,586.6 1117.9,586.9 1119.2,587.2 1120.5,587.5 1121.8,587.8 1123.2,588 1124.5,588.3 1125.8,588.6 1127.1,589 1128.4,589.3 1129.7,589.6 1131,589.8 1132.4,589.8 1133.7,589.8 1135,589.7 1136.3,589.6 1137.6,589.4 1138.9,589.2 1140.3,588.9 1141.6,588.6 1142.9,588.3 1144.2,588 1145.5,587.7 1146.8,587.4 1148.1,587.1 1149.5,586.8 1150.8,586.6 1152.1,586.4 1153.4,586.3 1154.7,586.2 1156,586 1157.4,585.8 1158.7,585.7 1160,585.5 1161.3,585.4 1162.6,585.3 1163.9,585.2 1165.2,585.1 1166.6,585 1167.9,585 1169.2,585 1170.5,585 1171.8,585.1 1173.1,585.2 1174.5,585.4 1175.8,585.6 1177.1,585.8 1178.4,586 1179.7,586.1 1181,586.2 1182.3,586.2 1183.7,586.1 1185,585.9 1186.3,585.7 1187.6,585.5 1188.9,585.3 1190.2,585.1 1191.6,584.9 1192.9,584.8 1194.2,584.6 1195.5,584.4 1196.8,584 1198.1,583.6 1199.4,583 1200.8,582.6 1202.1,582.3 1203.4,582.2 1204.7,582.3 1206,582.5 1207.3,582.7 1208.7,582.9 1210,583.1 1211.3,583.3 1212.6,583.5 1213.9,583.6 1215.2,583.8 1216.6,583.9 1217.9,583.9 1219.2,584 1220.5,583.9 1221.8,583.8 1223.1,583.5 1224.4,583.2 1225.8,582.9 1227.1,582.5 1228.4,582.3 1229.7,582.1 1231,582 1232.3,582 1233.7,582.1 1235,582.3 1236.3,582.5 1237.6,582.8 1238.9,583.1 1240.2,583.6 1241.5,584.1 1242.9,584.7 1244.2,585.2 1245.5,585.6 1246.8,586 1248.1,586.3 1249.4,586.7 1250.8,587 1252.1,587.2 1253.4,587.4 1254.7,587.5 1256,587.5 1257.3,587.6 1258.6,587.6 1260,587.6 1261.3,587.7 1262.6,587.7 1263.9,587.7 1265.2,587.6 1266.5,587.5 1267.9,587.4 1269.2,587.3 1270.5,587.2 1271.8,587.3 1273.1,587.3 1274.4,587.4 1275.7,587.4 1277.1,587.4 1278.4,587.3 1279.7,587.2 1281,587.2 1282.3,587.1 1283.6,587.2 1285,587.2 1286.3,587.2 1287.6,587.2 1288.9,587.2 1290.2,587.2 1291.5,587.2 1292.8,587.3 1294.2,587.4 1295.5,587.3 1296.8,587.2 1298.1,587 1299.4,586.8 1300.7,586.7 1302.1,586.6 1303.4,586.5 1304.7,586.4 1306,586.2 1307.3,586 1308.6,585.8 1310,585.7 1311.3,585.5 1312.6,585.4 1313.9,585.2 1315.2,585 1316.5,584.8 1317.8,584.7 1319.2,584.5 1320.5,584.2 1321.8,584 1323.1,583.8 1324.4,583.7 1325.7,583.6 1327.1,583.5 1328.4,583.5 1329.7,583.4 1331,583.5 1332.3,583.6 1333.6,583.8 1334.9,583.9 1336.3,584.1 1337.6,584.4 1338.9,584.5 1340.2,584.7 1341.5,584.9 1342.8,585.1 1344.2,585.2 1345.5,585.4 1346.8,585.5 1348.1,585.6 1349.4,585.7 1350.7,585.8 1352,586 1353.4,586 1354.7,585.9 1356,585.6 1357.3,585 1358.6,584.3 1359.9,583.3 1361.3,582.4 1362.6,581.4 1363.9,580.4 1365.2,579.6 1366.5,579.1 1367.8,578.9 1369.1,578.8 1370.5,578.8 1371.8,579 1373.1,579.1 1374.4,579.3 1375.7,579.4 1377,579.4 1378.4,579.3 1379.7,579.3 1381,579.3 1382.3,579.3 1383.6,579.3 1384.9,579.4 1386.3,579.5 1387.6,579.6 1388.9,579.7 1390.2,579.9 1391.5,580 1392.8,580.3 1394.1,580.5 1395.5,580.8 1396.8,581 1398.1,581.2 1399.4,581.3 1400.7,581.5 1402,581.6 1403.4,581.8 1404.7,581.9 1406,582 1407.3,582.1 1408.6,582.3 1409.9,582.5 1411.2,582.7 1412.6,582.9 1413.9,583.1 1415.2,583.3 1416.5,583.5 1417.8,583.6 1419.1,583.5 1420.5,583.4 1421.8,583.2 1423.1,583.1 1424.4,583 1425.7,583.1 1427,583.3 1428.3,583.6 1429.7,583.9 1431,584.2 1432.3,584.5 1433.6,584.8 1434.9,585.1 1436.2,585.4 1437.6,585.7 1438.9,585.9 1440.2,586.2 1441.5,586.4 1442.8,586.6 1444.1,586.8 1445.4,586.9 1446.8,586.9 1448.1,587 1449.4,587 1450.7,587.1 1452,587.2 1453.3,587.3 1454.7,587.4 1456,587.5 1457.3,587.6 1458.6,587.6 1459.9,587.7 1461.2,587.7 1462.5,587.7 1463.9,587.6 1465.2,587.6 1466.5,587.7 1467.8,587.8 1469.1,588 1470.4,588.1 1471.8,588.1 1473.1,588.1 1474.4,588 1475.7,587.8 1477,587.6 1478.3,587.5 1479.7,587.4 1481,587.2 1482.3,587.1 1483.6,586.9 1484.9,586.8 1486.2,586.7 1487.5,586.5 1488.9,586.3 1490.2,586.2 1491.5,586 1492.8,586 1494.1,585.9 1495.4,585.8 1496.8,585.7 1498.1,585.5 1499.4,585.3 1500.7,585.1 1502,584.9 1503.3,584.7 1504.6,584.5 1506,584.2 1507.3,583.8 1508.6,583.2 1509.9,582.3 1511.2,580.9 1512.5,579 1513.9,577 1515.2,575.1 1516.5,573.5 1517.8,572.1 1519.1,570.9 1520.4,569.9 1521.7,569 1523.1,568.1 1524.4,567.3 1525.7,566.5 1527,565.5 1528.3,564.5 1529.6,563.6 1531,562.9 1532.3,562.5 1533.6,562.2 1534.9,562.2 1536.2,562.2 1537.5,562.5 1538.8,562.8 1540.2,563.4 1541.5,564 1542.8,564.8 1544.1,565.6 1545.4,566.5 1546.7,567.4 1548.1,568.4 1549.4,569.4 1550.7,570.5 1552,571.6 1553.3,572.7 1554.6,573.8 1556,574.8 1557.3,575.8 1558.6,576.7 1559.9,577.5 1561.2,578.1 1562.5,578.3 1563.8,578.2 1565.2,577.7 1566.5,576.9 1567.8,576 1569.1,575.3 1570.4,574.8 1571.7,574.6 1573.1,574.5 1574.4,574.8 1575.7,575.2 1577,575.9 1578.3,576.6 1579.6,577.4 1580.9,578.2 1582.3,579 1583.6,579.7 1584.9,580.3 1586.2,581 1587.5,581.7 1588.8,582.2 1590.2,582.7 1591.5,583.1 1592.8,583.6 1594.1,584 1595.4,584.5 1596.7,584.9 1598,585.3 1599.4,585.7 1600.7,586.1 1602,586.5 1603.3,587 1604.6,587.5 1605.9,587.9 1607.3,588.2 1608.6,588.4 1609.9,588.4 1611.2,588.4 1612.5,588.3 1613.8,588.2 1615.1,588 1616.5,587.7 1617.8,587.4 1619.1,587 1620.4,586.6 1621.7,586.1 1623,585.5 1624.4,584.9 1625.7,584.2 1627,583.6 1628.3,583 1629.6,582.3 1630.9,581.6 1632.2,580.8 1633.6,579.9 1634.9,579.1 1636.2,578.4 1637.5,577.9 1638.8,577.4 1640.1,576.7 1641.5,575.5 1642.8,573.3 1643.3,570.5" fill="none" stroke="#ff9800" stroke-width="1"/>
<polyline points="108.9,587.4 110.2,587.5 111.5,587.5 112.8,587.6 114.2,587.7 115.5,587.8 116.8,587.8 118.1,587.9 119.4,587.9 120.7,587.9 122.1,587.9 123.4,587.8 124.7,587.7 126,587.6 127.3,587.5 128.6,587.4 129.9,587.3 131.3,587.2 132.6,587.2 133.9,587.1 135.2,587 136.5,586.9 137.8,586.8 139.2,586.7 140.5,586.6 141.8,586.5 143.1,586.5 144.4,586.4 145.7,586.3 147,586.2 148.4,586.1 149.7,586 151,586 152.3,585.9 153.6,585.9 154.9,585.9 156.3,585.8 157.6,585.8 158.9,585.7 160.2,585.7 161.5,585.7 162.8,585.6 164.2,585.6 165.5,585.5 166.8,585.5 168.1,585.5 169.4,585.4 170.7,585.4 172,585.3 173.4,585.3 174.7,585.3 176,585.2 177.3,585.2 178.6,585.1 179.9,585.1 181.3,585.1 182.6,585 183.9,585 185.2,584.9 186.5,584.9 187.8,584.9 189.1,584.8 190.5,584.8 191.8,584.7 193.1,584.7 194.4,584.7 195.7,584.6 197,584.6 198.4,584.5 199.7,584.5 201,584.5 202.3,584.5 203.6,584.5 204.9,584.5 206.2,584.5 207.6,584.5 208.9,584.5 210.2,584.5 211.5,584.5 212.8,584.5 214.1,584.5 215.5,584.5 216.8,584.5 218.1,584.5 219.4,584.5 220.7,584.5 222,584.5 223.3,584.5 224.7,584.5 226,584.5 227.3,584.5 228.6,584.5 229.9,584.5 231.2,584.5 232.6,584.5 233.9,584.5 235.2,584.5 236.5,584.5 237.8,584.5 239.1,584.5 240.4,584.5 241.8,584.5 243.1,584.5 244.4,584.5 245.7,584.5 247,584.5 248.3,584.5 249.7,584.5 251,584.5 252.3,584.5 253.6,584.5 254.9,584.5 256.2,584.5 257.6,584.5 258.9,584.5 260.2,584.5 261.5,584.5 262.8,584.5 264.1,584.5 265.4,584.5 266.8,584.5 268.1,584.5 269.4,584.5 270.7,584.5 272,584.5 273.3,584.5 274.7,584.5 276,584.5 277.3,584.5 278.6,584.5 279.9,584.5 281.2,584.5 282.5,584.5 283.9,584.5 285.2,584.5 286.5,584.5 287.8,584.5 289.1,584.5 290.4,584.5 291.8,584.5 293.1,584.5 294.4,584.5 295.7,584.5 297,584.5 298.3,584.5 299.6,584.5 301,584.5 302.3,584.4 303.6,584.4 304.9,584.3 306.2,584.3 307.5,584.2 308.9,584.2 310.2,584.1 311.5,584.1 312.8,583.8 314.1,583 315.4,581.8 316.7,580.4 318.1,579.1 319.4,577.6 320.7,575.8 322,573.4 323.3,571.7 324.6,570.7 326,570.8 327.3,571.1 328.6,571.6 329.9,572.2 331.2,572.5 332.5,571.9 333.9,570.6 335.2,569.2 336.5,568 337.8,566.8 339.1,565.5 340.4,563.9 341.7,562 343.1,559.5 344.4,557 345.7,553.8 347,550.4 348.3,548.4 349.6,548.8 351,551.3 352.3,553.2 353.6,554.3 354.9,554.9 356.2,555.5 357.5,556.3 358.8,557.2 360.2,558.6 361.5,559.8 362.8,561.1 364.1,562.1 365.4,563.5 366.7,564.7 368.1,566.3 369.4,567.8 370.7,569.8 372,572.3 373.3,575.2 374.6,578.2 375.9,581 377.3,583.7 378.6,585.9 379.9,587.8 381.2,589.1 382.5,589.6 383.8,589.2 385.2,588.6 386.5,588 387.8,587.3 389.1,586.8 390.4,587.2 391.7,588.5 393,589.9 394.4,591.4 395.7,593 397,594.9 398.3,596.7 399.6,598.5 400.9,600.4 402.3,602.5 403.6,604.4 404.9,606 406.2,607.3 407.5,608.3 408.8,609.2 410.1,609.9 411.5,610.8 412.8,611.2 414.1,610.9 415.4,609.7 416.7,608.3 418,607 419.4,605.9 420.7,605 422,604.3 423.3,603.1 424.6,601.4 425.9,599.4 427.3,597.1 428.6,595 429.9,593.6 431.2,593.3 432.5,593.6 433.8,594.1 435.1,594.4 436.5,594.8 437.8,594.9 439.1,595.1 440.4,595.1 441.7,595.4 443,595.8 444.4,596.1 445.7,595.9 447,595.2 448.3,594.1 449.6,592.9 450.9,591.7 452.2,590.7 453.6,589.8 454.9,588.9 456.2,587.8 457.5,586.4 458.8,584.6 460.1,582.9 461.5,581.7 462.8,581.1 464.1,580.5 465.4,580 466.7,579.5 468,579.6 469.3,579.8 470.7,580.1 472,580.6 473.3,581.4 474.6,582.5 475.9,583.7 477.2,584.7 478.6,585.5 479.9,586 481.2,586.4 482.5,586.8 483.8,587.5 485.1,588.4 486.4,589.3 487.8,589.9 489.1,590 490.4,590.2 491.7,590.7 493,591.6 494.3,592.8 495.7,593.6 497,593.3 498.3,592.1 499.6,591 500.9,590.7 502.2,591 503.5,591.4 504.9,592 506.2,592.4 507.5,593 508.8,593.6 510.1,593.5 511.4,592.3 512.8,590.3 514.1,588.5 515.4,587.2 516.7,586.4 518,585.6 519.3,584.7 520.7,583.6 522,582.6 523.3,581.9 524.6,581.8 525.9,581.7 527.2,581.7 528.5,582.2 529.9,583.4 531.2,585.1 532.5,586.8 533.8,588.4 535.1,589.5 536.4,590 537.8,590.2 539.1,590.6 540.4,591.3 541.7,592.2 543,593.4 544.3,594.6 545.6,595.6 547,596.3 548.3,596.9 549.6,597.5 550.9,597.7 552.2,598 553.5,597.9 554.9,597.4 556.2,596.4 557.5,595.2 558.8,594.1 560.1,593.3 561.4,592.7 562.7,592.4 564.1,592.1 565.4,591.9 566.7,591.7 568,591.4 569.3,590.7 570.6,589.9 572,589.1 573.3,588.3 574.6,587.7 575.9,587.2 577.2,586.6 578.5,586.1 579.8,585.6 581.2,584.9 582.5,584.1 583.8,583.4 585.1,582.9 586.4,582.3 587.7,581.7 589.1,581.1 590.4,580.7 591.7,579.7 593,578.8 594.3,577.3 595.6,576.2 597,575.7 598.3,576.1 599.6,576.9 600.9,577.8 602.2,578.7 603.5,579.4 604.8,580 606.2,580.4 607.5,580.8 608.8,581.1 610.1,581.2 611.4,581.3 612.7,581.5 614.1,581.7 615.4,581.9 616.7,582.1 618,582.7 619.3,583.3 620.6,583.8 621.9,584.3 623.3,584.8 624.6,585.2 625.9,585.6 627.2,585.8 628.5,586.3 629.8,586.6 631.2,586.9 632.5,586.9 633.8,586.9 635.1,586.9 636.4,587.1 637.7,587 639,586.9 640.4,586.6 641.7,586.6 643,586.5 644.3,586.8 645.6,587.4 646.9,588.1 648.3,588.6 649.6,588.9 650.9,589 652.2,589 653.5,589.1 654.8,589 656.1,588.8 657.5,588.5 658.8,588.4 660.1,588.3 661.4,588.3 662.7,588.3 664,588.4 665.4,588.5 666.7,588.5 668,588.3 669.3,588 670.6,587.5 671.9,586.8 673.2,586 674.6,585.2 675.9,584.4 677.2,583.8 678.5,583 679.8,582.5 681.1,582.5 682.5,582.9 683.8,583.6 685.1,584.1 686.4,584.3 687.7,584.3 689,584.1 690.4,583.9 691.7,583.7 693,583.8 694.3,584.2 695.6,584.7 696.9,585.1 698.2,585.5 699.6,585.8 700.9,585.9 702.2,585.8 703.5,585.7 704.8,585.6 706.1,585.6 707.5,585.6 708.8,585.9 710.1,586.4 711.4,587 712.7,587.5 714,588 715.3,588.5 716.7,588.8 718,589 719.3,589.1 720.6,588.7 721.9,588.3 723.2,587.7 724.6,587.1 725.9,586.4 727.2,585.8 728.5,585.3 729.8,584.6 731.1,583.8 732.4,583.2 733.8,582.6 735.1,581.9 736.4,581.4 737.7,581 739,580.5 740.3,580.1 741.7,579.6 743,579.2 744.3,578.8 745.6,578.4 746.9,578 748.2,577.8 749.5,577.5 750.9,577.2 752.2,577.1 753.5,577.3 754.8,577.5 756.1,577.6 757.4,577.5 758.8,577.3 760.1,577.1 761.4,577.1 762.7,577.4 764,577.7 765.3,578.2 766.6,578.5 768,578.6 769.3,578.3 770.6,578.2 771.9,578.1 773.2,577.9 774.5,577.7 775.9,577.7 777.2,577.5 778.5,577.4 779.8,577.4 781.1,577.4 782.4,577.3 783.8,577.4 785.1,577.5 786.4,577.5 787.7,577.4 789,577.6 790.3,577.7 791.6,578 793,578.2 794.3,578.6 795.6,578.7 796.9,579.2 798.2,579.3 799.5,579.7 800.9,580.1 802.2,580.5 803.5,580.7 804.8,580.9 806.1,581.2 807.4,581.5 808.7,582.1 810.1,582.9 811.4,583.7 812.7,584.5 814,585.4 815.3,586.2 816.6,587 818,587.7 819.3,588.4 820.6,588.6 821.9,588.6 823.2,588.3 824.5,588 825.8,587.6 827.2,587.1 828.5,586.3 829.8,585.4 831.1,584.4 832.4,583.5 833.7,582.5 835.1,581.4 836.4,580.1 837.7,578.4 839,576.8 840.3,575.7 841.6,575.2 842.9,574.8 844.3,574.4 845.6,573.9 846.9,573.4 848.2,572.9 849.5,572.4 850.8,572.2 852.2,572.2 853.5,572.2 854.8,572 856.1,571.7 857.4,571.3 858.7,571.2 860.1,571 861.4,570.9 862.7,570.7 864,570.7 865.3,570.7 866.6,570.8 867.9,571 869.3,571.7 870.6,572.7 871.9,573.8 873.2,574.8 874.5,575.7 875.8,576 877.2,575.8 878.5,575.3 879.8,574.9 881.1,574.7 882.4,574.8 883.7,575.2 885,575.6 886.4,576 887.7,576.4 889,576.9 890.3,577.3 891.6,577.5 892.9,577.8 894.3,578.3 895.6,578.9 896.9,579.4 898.2,579.7 899.5,579.8 900.8,580.1 902.1,580.4 903.5,580.8 904.8,581.4 906.1,582.5 907.4,583.5 908.7,584.5 910,585.2 911.4,586 912.7,586.6 914,587.1 915.3,587.5 916.6,587.7 917.9,587.9 919.2,588 920.6,588.2 921.9,588.7 923.2,589.2 924.5,589.8 925.8,590.2 927.1,590.5 928.5,590.5 929.8,590.3 931.1,589.9 932.4,589.8 933.7,589.8 935,590 936.3,590 937.7,589.9 939,589.5 940.3,589.4 941.6,589.5 942.9,589.9 944.2,590 945.6,590 946.9,589.9 948.2,589.9 949.5,590.1 950.8,590.4 952.1,590.9 953.5,591.1 954.8,591.1 956.1,591 957.4,591 958.7,590.9 960,591 961.3,591.3 962.7,591.9 964,592.4 965.3,592.9 966.6,593.2 967.9,593 969.2,592.5 970.6,592.1 971.9,592 973.2,592 974.5,592.3 975.8,592.3 977.1,592.4 978.4,592.2 979.8,592.2 981.1,592.2 982.4,592.7 983.7,593.1 985,593.6 986.3,593.8 987.7,594 989,593.8 990.3,593.6 991.6,593.3 992.9,593.3 994.2,593 995.5,592.5 996.9,591.4 998.2,590.3 999.5,589.3 1000.8,588.7 1002.1,588 1003.4,587.3 1004.8,586.2 1006.1,585.4 1007.4,584.6 1008.7,583.9 1010,583.3 1011.3,582.8 1012.6,582.5 1014,582.2 1015.3,581.9 1016.6,581.6 1017.9,581.4 1019.2,580.9 1020.5,580.4 1021.9,580.2 1023.2,580.1 1024.5,579.8 1025.8,579.5 1027.1,579.2 1028.4,578.8 1029.8,578.6 1031.1,578.6 1032.4,578.5 1033.7,578.2 1035,577.7 1036.3,577.1 1037.6,576.5 1039,576.1 1040.3,575.9 1041.6,576 1042.9,576.2 1044.2,576.4 1045.5,576.5 1046.9,576.6 1048.2,576.5 1049.5,576.7 1050.8,577.4 1052.1,578.5 1053.4,579.7 1054.7,581.1 1056.1,582.4 1057.4,583.4 1058.7,584.2 1060,584.8 1061.3,585.3 1062.6,585.8 1064,586.3 1065.3,586.9 1066.6,587.3 1067.9,587.8 1069.2,588.3 1070.5,588.7 1071.8,588.9 1073.2,588.9 1074.5,588.9 1075.8,589 1077.1,589.5 1078.4,590.1 1079.7,590.4 1081.1,590.2 1082.4,589.4 1083.7,588.4 1085,587.1 1086.3,586.2 1087.6,585.3 1088.9,584.9 1090.3,584.9 1091.6,585.1 1092.9,585.5 1094.2,585.9 1095.5,586.2 1096.8,586.1 1098.2,585.9 1099.5,585.7 1100.8,585.6 1102.1,585.5 1103.4,585.7 1104.7,585.7 1106,585.8 1107.4,585.8 1108.7,585.8 1110,585.8 1111.3,586 1112.6,586.2 1113.9,586.7 1115.3,587.2 1116.6,587.8 1117.9,588 1119.2,588.5 1120.5,588.7 1121.8,588.9 1123.2,588.9 1124.5,589.4 1125.8,589.9 1127.1,590.5 1128.4,590.8 1129.7,590.7 1131,590.5 1132.4,590.1 1133.7,589.7 1135,589.3 1136.3,589.1 1137.6,588.7 1138.9,588.2 1140.3,587.8 1141.6,587.3 1142.9,587.2 1144.2,586.9 1145.5,586.6 1146.8,586.1 1148.1,585.9 1149.5,585.7 1150.8,585.7 1152.1,585.7 1153.4,585.8 1154.7,585.7 1156,585.4 1157.4,585.1 1158.7,585 1160,585 1161.3,585 1162.6,585 1163.9,584.9 1165.2,584.7 1166.6,584.7 1167.9,584.7 1169.2,584.9 1170.5,585.2 1171.8,585.5 1173.1,585.7 1174.5,586 1175.8,586.3 1177.1,586.6 1178.4,586.9 1179.7,586.7 1181,586.5 1182.3,586.1 1183.7,585.8 1185,585.3 1186.3,584.9 1187.6,584.7 1188.9,584.5 1190.2,584.3 1191.6,584.3 1192.9,584.3 1194.2,583.9 1195.5,583.3 1196.8,582.6 1198.1,581.8 1199.4,581 1200.8,580.9 1202.1,581.2 1203.4,581.9 1204.7,582.6 1206,583.2 1207.3,583.5 1208.7,583.8 1210,584 1211.3,584.1 1212.6,584.1 1213.9,584.2 1215.2,584.3 1216.6,584.3 1217.9,584.3 1219.2,584.1 1220.5,583.8 1221.8,583.1 1223.1,582.5 1224.4,581.9 1225.8,581.5 1227.1,581.1 1228.4,581.2 1229.7,581.3 1231,581.8 1232.3,582.2 1233.7,582.5 1235,582.9 1236.3,583.3 1237.6,583.9 1238.9,584.5 1240.2,585.4 1241.5,586.2 1242.9,586.8 1244.2,587.2 1245.5,587.4 1246.8,587.5 1248.1,587.7 1249.4,588.1 1250.8,588.2 1252.1,588.2 1253.4,588 1254.7,587.9 1256,587.7 1257.3,587.6 1258.6,587.8 1260,587.8 1261.3,587.9 1262.6,587.8 1263.9,587.7 1265.2,587.3 1266.5,587 1267.9,586.8 1269.2,587 1270.5,587.1 1271.8,587.4 1273.1,587.6 1274.4,587.7 1275.7,587.5 1277.1,587.3 1278.4,587 1279.7,586.9 1281,586.9 1282.3,587 1283.6,587.3 1285,587.3 1286.3,587.3 1287.6,587.1 1288.9,587.1 1290.2,587.2 1291.5,587.4 1292.8,587.6 1294.2,587.5 1295.5,587.1 1296.8,586.6 1298.1,586.3 1299.4,586.2 1300.7,586.2 1302.1,586.3 1303.4,586.2 1304.7,586 1306,585.4 1307.3,585.1 1308.6,585 1310,585.1 1311.3,584.8 1312.6,584.8 1313.9,584.5 1315.2,584.4 1316.5,584.1 1317.8,584 1319.2,583.6 1320.5,583.4 1321.8,583.1 1323.1,583.1 1324.4,583.1 1325.7,583.2 1327.1,583.3 1328.4,583.3 1329.7,583.3 1331,583.7 1332.3,584 1333.6,584.4 1334.9,584.6 1336.3,585 1337.6,585.2 1338.9,585.3 1340.2,585.5 1341.5,585.7 1342.8,585.7 1344.2,585.9 1345.5,586 1346.8,586.1 1348.1,586 1349.4,586.1 1350.7,586.3 1352,586.5 1353.4,586.3 1354.7,585.6 1356,584.2 1357.3,582.8 1358.6,581.1 1359.9,579.6 1361.3,578.5 1362.6,577.5 1363.9,576.7 1365.2,576.5 1366.5,577 1367.8,577.8 1369.1,578.6 1370.5,579.1 1371.8,579.4 1373.1,579.7 1374.4,579.9 1375.7,579.7 1377,579.4 1378.4,579.2 1379.7,579.2 1381,579.2 1382.3,579.2 1383.6,579.5 1384.9,579.7 1386.3,579.9 1387.6,580 1388.9,580.2 1390.2,580.5 1391.5,580.8 1392.8,581.2 1394.1,581.5 1395.5,581.8 1396.8,581.9 1398.1,582 1399.4,581.9 1400.7,582.1 1402,582.2 1403.4,582.3 1404.7,582.4 1406,582.6 1407.3,582.6 1408.6,582.9 1409.9,583.1 1411.2,583.5 1412.6,583.8 1413.9,584.1 1415.2,584.2 1416.5,584.1 1417.8,583.9 1419.1,583.4 1420.5,582.9 1421.8,582.6 1423.1,582.5 1424.4,582.7 1425.7,583.3 1427,584.1 1428.3,584.6 1429.7,585.1 1431,585.4 1432.3,585.8 1433.6,586.1 1434.9,586.4 1436.2,586.7 1437.6,586.7 1438.9,586.9 1440.2,587 1441.5,587.3 1442.8,587.4 1444.1,587.5 1445.4,587.3 1446.8,587.2 1448.1,587.2 1449.4,587.3 1450.7,587.4 1452,587.6 1453.3,587.7 1454.7,587.7 1456,587.8 1457.3,587.9 1458.6,587.9 1459.9,587.8 1461.2,587.8 1462.5,587.6 1463.9,587.6 1465.2,587.7 1466.5,588 1467.8,588.3 1469.1,588.6 1470.4,588.6 1471.8,588.3 1473.1,587.8 1474.4,587.5 1475.7,587.2 1477,587 1478.3,587 1479.7,586.9 1481,586.7 1482.3,586.4 1483.6,586.4 1484.9,586.2 1486.2,586.1 1487.5,585.8 1488.9,585.7 1490.2,585.5 1491.5,585.6 1492.8,585.7 1494.1,585.7 1495.4,585.4 1496.8,585 1498.1,584.7 1499.4,584.5 1500.7,584.4 1502,584.3 1503.3,584 1504.6,583.4 1506,582.8 1507.3,582.4 1508.6,581 1509.9,578.7 1511.2,575.1 1512.5,571.5 1513.9,568.9 1515.2,567.6 1516.5,567.1 1517.8,566.7 1519.1,566.1 1520.4,565.9 1521.7,565.3 1523.1,564.8 1524.4,564.2 1525.7,563.2 1527,561.6 1528.3,560.3 1529.6,559.9 1531,560.1 1532.3,560.7 1533.6,561.2 1534.9,562 1536.2,562.6 1537.5,563.3 1538.8,564.3 1540.2,565.5 1541.5,566.7 1542.8,567.8 1544.1,568.9 1545.4,570 1546.7,571.1 1548.1,572.3 1549.4,573.4 1550.7,574.7 1552,576 1553.3,577.2 1554.6,578.2 1556,579 1557.3,579.6 1558.6,580.1 1559.9,580.7 1561.2,580.4 1562.5,579.4 1563.8,577.6 1565.2,575.7 1566.5,573.7 1567.8,572.5 1569.1,572.3 1570.4,572.9 1571.7,573.6 1573.1,574.5 1574.4,575.7 1575.7,577.1 1577,578.5 1578.3,579.6 1579.6,580.7 1580.9,581.3 1582.3,582 1583.6,582.4 1584.9,583.1 1586.2,583.6 1587.5,584.3 1588.8,584.5 1590.2,584.7 1591.5,584.8 1592.8,585.3 1594.1,585.8 1595.4,586.3 1596.7,586.6 1598,587 1599.4,587.2 1600.7,587.6 1602,588.3 1603.3,589 1604.6,589.2 1605.9,589.5 1607.3,589.4 1608.6,589.1 1609.9,588.6 1611.2,588.3 1612.5,588.1 1613.8,587.7 1615.1,587.1 1616.5,586.7 1617.8,586.2 1619.1,585.5 1620.4,584.9 1621.7,584.1 1623,583.2 1624.4,582.2 1625.7,581.6 1627,581.2 1628.3,580.5 1629.6,579.7 1630.9,578.6 1632.2,577.5 1633.6,576.4 1634.9,575.9 1636.2,575.7 1637.5,575.8 1638.8,575.2 1640.1,574.1 1641.5,570.5 1642.8,564.8 1643.3,559" fill="none" stroke="#2962ff" stroke-width="1"/>
<line x1="0" x2="1793" y1="660.5" y2="660.5" stroke="#4caf50" stroke-opacity="0.7" stroke-width="1"/>
<line x1="0" x2="1793" y1="682.5" y2="682.5" stroke="#ff9800" stroke-width="1" stroke-dasharray="1,1.3"/>
<line x1="0" x2="1793" y1="704.5" y2="704.5" stroke="#f23645" stroke-opacity="0.85" stroke-width="1"/>
<rect x="314.6" y="626" width="11.8" height="96" fill="#f23645" fill-opacity="0.3"/>
<rect x="314.6" y="626" width="1.5" height="96" fill="#f23645" fill-opacity="0.6"/>
<rect x="324.9" y="626" width="1.5" height="96" fill="#f23645" fill-opacity="0.6"/>
<rect x="334.6" y="626" width="16.8" height="96" fill="#f23645" fill-opacity="0.3"/>
<rect x="334.6" y="626" width="1.5" height="96" fill="#f23645" fill-opacity="0.6"/>
<rect x="349.9" y="626" width="1.5" height="96" fill="#f23645" fill-opacity="0.6"/>
<rect x="402.4" y="626" width="13.2" height="96" fill="#2962ff" fill-opacity="0.3"/>
<rect x="402.4" y="626" width="1.5" height="96" fill="#2962ff" fill-opacity="0.6"/>
<rect x="414.1" y="626" width="1.5" height="96" fill="#2962ff" fill-opacity="0.6"/>
<rect x="551.4" y="626" width="7.5" height="96" fill="#2962ff" fill-opacity="0.3"/>
<rect x="551.4" y="626" width="1.5" height="96" fill="#2962ff" fill-opacity="0.6"/>
<rect x="557.4" y="626" width="1.5" height="96" fill="#2962ff" fill-opacity="0.6"/>
<rect x="595.8" y="626" width="1.6" height="96" fill="#f23645" fill-opacity="0.7"/>
<rect x="744.5" y="626" width="1.6" height="96" fill="#f23645" fill-opacity="0.7"/>
<rect x="747.5" y="626" width="8.3" height="96" fill="#f23645" fill-opacity="0.3"/>
<rect x="747.5" y="626" width="1.5" height="96" fill="#f23645" fill-opacity="0.6"/>
<rect x="754.3" y="626" width="1.5" height="96" fill="#f23645" fill-opacity="0.6"/>
<rect x="843.6" y="626" width="8.8" height="96" fill="#f23645" fill-opacity="0.3"/>
<rect x="843.6" y="626" width="1.5" height="96" fill="#f23645" fill-opacity="0.6"/>
<rect x="850.9" y="626" width="1.5" height="96" fill="#f23645" fill-opacity="0.6"/>
<rect x="867.4" y="626" width="4.3" height="96" fill="#f23645" fill-opacity="0.3"/>
<rect x="867.4" y="626" width="1.5" height="96" fill="#f23645" fill-opacity="0.6"/>
<rect x="870.2" y="626" width="1.5" height="96" fill="#f23645" fill-opacity="0.6"/>
<rect x="885" y="626" width="1.6" height="96" fill="#f23645" fill-opacity="0.7"/>
<rect x="959.8" y="626" width="1.6" height="96" fill="#2962ff" fill-opacity="0.7"/>
<rect x="964.2" y="626" width="1.6" height="96" fill="#2962ff" fill-opacity="0.7"/>
<rect x="973.5" y="626" width="1.6" height="96" fill="#2962ff" fill-opacity="0.7"/>
<rect x="976.6" y="626" width="1.6" height="96" fill="#2962ff" fill-opacity="0.7"/>
<rect x="980" y="626" width="17.1" height="96" fill="#2962ff" fill-opacity="0.3"/>
<rect x="980" y="626" width="1.5" height="96" fill="#2962ff" fill-opacity="0.6"/>
<rect x="995.6" y="626" width="1.5" height="96" fill="#2962ff" fill-opacity="0.6"/>
<rect x="1037.2" y="626" width="6.3" height="96" fill="#f23645" fill-opacity="0.3"/>
<rect x="1037.2" y="626" width="1.5" height="96" fill="#f23645" fill-opacity="0.6"/>
<rect x="1042" y="626" width="1.5" height="96" fill="#f23645" fill-opacity="0.6"/>
<rect x="1066.2" y="626" width="1.6" height="96" fill="#2962ff" fill-opacity="0.7"/>
<rect x="1079.4" y="626" width="4.3" height="96" fill="#2962ff" fill-opacity="0.3"/>
<rect x="1079.4" y="626" width="1.5" height="96" fill="#2962ff" fill-opacity="0.6"/>
<rect x="1082.2" y="626" width="1.5" height="96" fill="#2962ff" fill-opacity="0.6"/>
<rect x="1127.2" y="626" width="1.6" height="96" fill="#2962ff" fill-opacity="0.7"/>
<rect x="1150.1" y="626" width="4.3" height="96" fill="#2962ff" fill-opacity="0.3"/>
<rect x="1150.1" y="626" width="1.5" height="96" fill="#2962ff" fill-opacity="0.6"/>
<rect x="1152.9" y="626" width="1.5" height="96" fill="#2962ff" fill-opacity="0.6"/>
<rect x="1247.6" y="626" width="1.6" height="96" fill="#2962ff" fill-opacity="0.7"/>
<rect x="1254.6" y="626" width="1.6" height="96" fill="#2962ff" fill-opacity="0.7"/>
<rect x="1276.5" y="626" width="5.8" height="96" fill="#2962ff" fill-opacity="0.3"/>
<rect x="1276.5" y="626" width="1.5" height="96" fill="#2962ff" fill-opacity="0.6"/>
<rect x="1280.8" y="626" width="1.5" height="96" fill="#2962ff" fill-opacity="0.6"/>
<rect x="1340" y="626" width="3.2" height="96" fill="#2962ff" fill-opacity="0.3"/>
<rect x="1340" y="626" width="1.5" height="96" fill="#2962ff" fill-opacity="0.6"/>
<rect x="1341.7" y="626" width="1.5" height="96" fill="#2962ff" fill-opacity="0.6"/>
<rect x="1361.3" y="626" width="6.7" height="96" fill="#f23645" fill-opacity="0.3"/>
<rect x="1361.3" y="626" width="1.5" height="96" fill="#f23645" fill-opacity="0.6"/>
<rect x="1366.5" y="626" width="1.5" height="96" fill="#f23645" fill-opacity="0.6"/>
<rect x="1511.2" y="626" width="6.4" height="96" fill="#f23645" fill-opacity="0.3"/>
<rect x="1511.2" y="626" width="1.5" height="96" fill="#f23645" fill-opacity="0.6"/>
<rect x="1516.1" y="626" width="1.5" height="96" fill="#f23645" fill-opacity="0.6"/>
<rect x="1521.5" y="626" width="1.6" height="96" fill="#f23645" fill-opacity="0.7"/>
<rect x="1523" y="626" width="1.6" height="96" fill="#f23645" fill-opacity="0.7"/>
<rect x="1525.9" y="626" width="6.6" height="96" fill="#f23645" fill-opacity="0.3"/>
<rect x="1525.9" y="626" width="1.5" height="96" fill="#f23645" fill-opacity="0.6"/>
<rect x="1531" y="626" width="1.5" height="96" fill="#f23645" fill-opacity="0.6"/>
<rect x="1562.8" y="626" width="7.6" height="96" fill="#f23645" fill-opacity="0.3"/>
<rect x="1562.8" y="626" width="1.5" height="96" fill="#f23645" fill-opacity="0.6"/>
<rect x="1568.9" y="626" width="1.5" height="96" fill="#f23645" fill-opacity="0.6"/>
<rect x="1632.5" y="626" width="1.6" height="96" fill="#f23645" fill-opacity="0.7"/>
<rect x="1641.4" y="626" width="2.8" height="96" fill="#f23645" fill-opacity="0.3"/>
<polygon points="95.1,672.4 96.4,671.9 97.7,671.2 98.7,672.1 98.7,672.1 97.7,672 96.4,672.3 95.1,672.4" fill="#4caf50" fill-opacity="0.6"/>
<polygon points="98.7,672.1 99,672.4 100.4,673 101.7,676.8 103,680.9 104.3,685.7 105.6,686.6 106.9,687.7 108.3,691.7 109.6,694.2 110.9,696.5 112.2,696.4 113.5,695.3 114.8,693.3 116.1,693.6 117.5,694.1 118.8,696.1 120.1,694.7 121.4,696.6 122.3,694.5 122.3,694.5 121.4,694.7 120.1,694.1 118.8,693.8 117.5,693.1 116.1,692.7 114.8,692.4 113.5,692.1 112.2,691.1 110.9,689.3 109.6,686.8 108.3,684.4 106.9,682 105.6,680.1 104.3,677.9 103,675.3 101.7,673.4 100.4,672.3 99,672.1 98.7,672.1" fill="#f23645" fill-opacity="0.6"/>
<polygon points="122.3,694.5 122.7,693.4 124,693.4 125.4,693.8 125.7,694.1 125.7,694.1 125.4,694 124,694.1 122.7,694.4 122.3,694.5" fill="#4caf50" fill-opacity="0.6"/>
<polygon points="125.7,694.1 126.7,695 128,698.1 129.3,697.8 130.6,699.4 131.9,697.5 132.6,696.8 132.6,696.8 131.9,696.9 130.6,696.7 129.3,695.9 128,695.2 126.7,694.3 125.7,694.1" fill="#f23645" fill-opacity="0.6"/>
<polygon points="132.6,696.8 133.2,696.1 134.6,695.5 135.9,693.9 137.2,694.2 138.5,691.1 139.8,687.9 141.1,686.1 142.5,685.6 143.8,685.1 145.1,684 146.4,684.3 147.7,684 149,683.8 150.4,682.4 151.5,684.8 151.5,684.8 150.4,684.7 149,685.4 147.7,686 146.4,686.6 145.1,687.4 143.8,688.6 142.5,689.7 141.1,691.1 139.8,692.7 138.5,694.3 137.2,695.4 135.9,695.8 134.6,696.4 133.2,696.7 132.6,696.8" fill="#4caf50" fill-opacity="0.6"/>
<polygon points="151.5,684.8 151.7,685.1 153,685.5 154.3,688.9 155.6,687.8 156.9,689 158.2,688.5 159.6,688.9 160.1,687.6 160.1,687.6 159.6,687.8 158.2,687.4 156.9,687.1 155.6,686.4 154.3,686 153,685 151.7,684.8 151.5,684.8" fill="#f23645" fill-opacity="0.6"/>
<polygon points="160.1,687.6 160.9,685.9 162.2,681.3 163.5,680.5 164.8,679.2 166.1,679.6 167.5,678.3 168.8,681 169.1,681.3 169.1,681.3 168.8,681.2 167.5,681.3 166.1,682.3 164.8,683.2 163.5,684.5 162.2,685.8 160.9,687.3 160.1,687.6" fill="#4caf50" fill-opacity="0.6"/>
<polygon points="169.1,681.3 170.1,682 171.4,685.2 172.7,687.7 174,688.6 175.3,688.9 176.7,690.4 178,691.1 179.3,692.6 180.6,691.8 181.9,691.7 182.7,690.1 182.7,690.1 181.9,690.3 180.6,689.9 179.3,689.2 178,688 176.7,687 175.3,685.9 174,684.9 172.7,683.7 171.4,682.3 170.1,681.4 169.1,681.3" fill="#f23645" fill-opacity="0.6"/>
<polygon points="182.7,690.1 183.2,689.1 184.6,687.6 185.9,686.4 187.2,686.7 188.5,687.6 188.8,688.1 188.8,688.1 188.5,688 187.2,688.1 185.9,688.6 184.6,689.4 183.2,690 182.7,690.1" fill="#4caf50" fill-opacity="0.6"/>
<polygon points="188.8,688.1 189.8,690.2 190.7,688.4 190.7,688.4 189.8,688.6 188.8,688.1" fill="#f23645" fill-opacity="0.6"/>
<polygon points="190.7,688.4 191.1,687.3 192.4,683.7 193.8,682.6 195.1,682.1 196.4,683.3 197.7,681.6 199,679.7 200.3,677.8 201.7,678 203,678.7 204.1,680.3 204.1,680.3 203,680.2 201.7,680.7 200.3,681.6 199,682.8 197.7,683.8 196.4,684.6 195.1,685 193.8,686 192.4,687.1 191.1,688.2 190.7,688.4" fill="#4caf50" fill-opacity="0.6"/>
<polygon points="204.1,680.3 204.3,680.6 204.5,680.2 204.5,680.2 204.3,680.3 204.1,680.3" fill="#f23645" fill-opacity="0.6"/>
<polygon points="204.5,680.2 205.6,678 206.9,679.1 208.2,678.5 209.5,679 210.9,677.1 212.2,678.7 212.2,678.7 212.2,678.7 212.2,678.7 210.9,678.7 209.5,679.2 208.2,679.3 206.9,679.6 205.6,679.7 204.5,680.2" fill="#4caf50" fill-opacity="0.6"/>
<polygon points="212.2,678.7 213.5,681.1 214.8,681.2 216,679.7 216,679.7 214.8,679.8 213.5,679.3 212.2,678.7" fill="#f23645" fill-opacity="0.6"/>
<polygon points="216,679.7 216.1,679.5 217.4,678.3 218.7,679.4 218.7,679.4 217.4,679.3 216.1,679.7 216,679.7" fill="#4caf50" fill-opacity="0.6"/>
<polygon points="218.7,679.4 218.8,679.4 220.1,680.6 221.4,684.1 222.7,683.7 224,684.6 225.3,683.8 226.6,686.4 228,686.6 229.3,687.5 230.6,687.1 231.9,686.6 233.2,687.6 234.5,687 235.9,689.3 237.2,689.4 238.5,689.2 239.8,689.4 240.2,688.2 240.2,688.2 239.8,688.4 238.5,688.1 237.2,687.7 235.9,687.2 234.5,686.5 233.2,686.3 231.9,685.9 230.6,685.6 229.3,685.1 228,684.3 226.6,683.6 225.3,682.7 224,682.3 222.7,681.5 221.4,680.8 220.1,679.7 218.8,679.4 218.7,679.4" fill="#f23645" fill-opacity="0.6"/>
<polygon points="240.2,688.2 241.1,684.9 242.4,681.1 243.8,677.2 245.1,670.1 246.4,671.3 247.7,675.6 248.2,677.8 248.2,677.8 247.7,677.5 246.4,678.1 245.1,680.3 243.8,683.7 242.4,685.9 241.1,687.6 240.2,688.2" fill="#4caf50" fill-opacity="0.6"/>
<polygon points="248.2,677.8 249,681.2 250.3,686.7 251.6,688.4 253,689.4 254.3,687.4 255.6,688.2 256.9,688.1 258.2,688.8 259.5,689.6 260.9,688.1 262.2,688.4 263.5,689.2 264.8,691.9 266.1,690.4 266.6,689.3 266.6,689.3 266.1,689.5 264.8,689.1 263.5,688.2 262.2,687.9 260.9,687.7 259.5,687.6 258.2,687 256.9,686.3 255.6,685.8 254.3,685 253,684.2 251.6,682.5 250.3,680.5 249,678.4 248.2,677.8" fill="#f23645" fill-opacity="0.6"/>
<polygon points="266.6,689.3 267.4,687.6 268.7,682.8 270.1,684 271.4,681.2 272.7,679 274,674.4 275.3,669.9 276.6,670.8 278,672.1 279.3,675 279.5,675.4 279.5,675.4 279.3,675.3 278,675.5 276.6,676.6 275.3,678.5 274,681.4 272.7,683.7 271.4,685.2 270.1,686.6 268.7,687.4 267.4,689 266.6,689.3" fill="#4caf50" fill-opacity="0.6"/>
<polygon points="279.5,675.4 280.6,677.3 281.9,677.5 283.2,676.8 283.8,676.3 283.8,676.3 283.2,676.4 281.9,676.2 280.6,675.8 279.5,675.4" fill="#f23645" fill-opacity="0.6"/>
<polygon points="283.8,676.3 284.5,675.6 285.8,673.7 287.2,671.4 288.5,672.6 289.2,674.3 289.2,674.3 288.5,674 287.2,674.5 285.8,675.6 284.5,676.2 283.8,676.3" fill="#4caf50" fill-opacity="0.6"/>
<polygon points="289.2,674.3 289.8,675.6 291.1,678.5 292.4,675.5 292.4,675.5 292.4,675.5 292.4,675.5 291.1,675.5 289.8,674.4 289.2,674.3" fill="#f23645" fill-opacity="0.6"/>
<polygon points="292.4,675.5 293.7,673.8 295.1,671 296.4,671.3 297.7,671.8 298.4,673.2 298.4,673.2 297.7,673 296.4,673.4 295.1,674.1 293.7,675.1 292.4,675.5" fill="#4caf50" fill-opacity="0.6"/>
<polygon points="298.4,673.2 299,674.5 300.1,673.3 300.1,673.3 299,673.4 298.4,673.2" fill="#f23645" fill-opacity="0.6"/>
<polygon points="300.1,673.3 300.3,673 300.7,673.3 300.7,673.3 300.3,673.3 300.1,673.3" fill="#4caf50" fill-opacity="0.6"/>
<polygon points="300.7,673.3 301.6,674.2 302.9,675.3 304.3,680.1 305.6,679.6 306.9,680 308.2,682.1 309.5,684.1 310.8,684.9 311.4,680.4 311.4,680.4 310.8,681.2 309.5,679.9 308.2,678.6 306.9,677.4 305.6,676.5 304.3,675.5 302.9,674 301.6,673.5 300.7,673.3" fill="#f23645" fill-opacity="0.6"/>
<polygon points="311.4,680.4 312.2,673.8 313.5,663.7 314.8,655.9 316.1,657.4 317.4,660.3 318.7,656.1 320.1,648.4 321.4,645.8 322.7,650.2 324,653.4 324.3,654.5 324.3,654.5 324,654.3 322.7,654.6 321.4,656.1 320.1,659.5 318.7,663.2 317.4,665.5 316.1,667.3 314.8,670.6 313.5,675.4 312.2,679.3 311.4,680.4" fill="#4caf50" fill-opacity="0.6"/>
<polygon points="324.3,654.5 325.3,657.7 326.6,660.8 327.9,664.6 329.3,666.5 330.6,666.8 331.8,662 331.8,662 330.6,662.1 329.3,660.5 327.9,658.6 326.6,656.5 325.3,655.1 324.3,654.5" fill="#f23645" fill-opacity="0.6"/>
<polygon points="331.8,662 331.9,661.8 333.2,659.2 334.5,652.5 335.8,652.5 337.2,653.4 338.5,654.7 339.8,651.2 341.1,645.9 342.4,641.4 343.7,642.1 345,639.3 346.4,641.4 347.3,644.9 347.3,644.9 346.4,644.6 345,645.7 343.7,647.9 342.4,649.8 341.1,652.6 339.8,654.8 338.5,656 337.2,656.5 335.8,657.5 334.5,659.1 333.2,661.3 331.9,662 331.8,662" fill="#4caf50" fill-opacity="0.6"/>
<polygon points="347.3,644.9 347.7,646.2 349,654.4 350.3,659.3 351.6,667.1 352.9,668.8 354.3,669.1 355.6,668.7 356.9,669.4 358.2,667.9 359.5,668.6 360.8,667.5 362.1,666.5 362.1,666.5 360.8,666.5 359.5,666.1 358.2,665.3 356.9,664.5 355.6,662.8 354.3,660.8 352.9,658.1 351.6,654.5 350.3,650.3 349,647.4 347.7,645 347.3,644.9" fill="#f23645" fill-opacity="0.6"/>
<polygon points="362.1,666.5 362.1,666.5 362.2,666.5 362.2,666.5 362.1,666.5 362.1,666.5" fill="#4caf50" fill-opacity="0.6"/>
<polygon points="362.2,666.5 363.5,666.9 364.8,667.5 366.1,672.1 367.4,672.7 368.7,675.4 370,675.6 371.4,680.1 372.7,681.3 374,684.6 375.3,685 376.6,688 377.9,688.9 379.2,688.9 380.6,690.3 381.9,687.9 383.2,689.8 384.4,687.4 384.4,687.4 383.2,687.5 381.9,686.7 380.6,686.3 379.2,684.9 377.9,683.6 376.6,681.8 375.3,679.8 374,678 372.7,675.8 371.4,674 370,672 368.7,670.8 367.4,669.3 366.1,668.1 364.8,666.8 363.5,666.6 362.2,666.5" fill="#f23645" fill-opacity="0.6"/>
<polygon points="384.4,687.4 384.5,687.1 384.8,687.4 384.8,687.4 384.5,687.4 384.4,687.4" fill="#4caf50" fill-opacity="0.6"/>
<polygon points="384.8,687.4 385.8,688.5 386.2,687.4 386.2,687.4 385.8,687.6 384.8,687.4" fill="#f23645" fill-opacity="0.6"/>
<polygon points="386.2,687.4 387.1,684.7 388.5,681.6 389.8,681.7 391.1,683.7 391.9,684.5 391.9,684.5 391.1,684.4 389.8,684.6 388.5,685.6 387.1,686.9 386.2,687.4" fill="#4caf50" fill-opacity="0.6"/>
<polygon points="391.9,684.5 392.4,685 393.7,686.1 395,688.4 396.3,692.5 397.7,697.9 399,701.3 400.3,702.8 401.6,701.9 402.9,702.7 404.2,702.2 405.6,705.2 406.9,706.4 408.2,707.7 409.5,706 410.8,707.1 412.1,708 413.5,707.5 413.8,705.8 413.8,705.8 413.5,706.2 412.1,705.7 410.8,704.9 409.5,704.2 408.2,703.6 406.9,702.2 405.6,700.8 404.2,699.3 402.9,698.4 401.6,697 400.3,695.3 399,692.9 397.7,690.1 396.3,687.5 395,685.8 393.7,684.9 392.4,684.5 391.9,684.5" fill="#f23645" fill-opacity="0.6"/>
<polygon points="413.8,705.8 414.8,701.2 416.1,695.2 417.4,693.2 418.7,691.7 420,688.7 421.3,687.8 422.7,685.2 424,684.1 425.3,683.4 426.6,681.9 427.9,684.6 428.6,686.3 428.6,686.3 427.9,686.1 426.6,686.6 425.3,688.2 424,689.7 422.7,691.6 421.3,693.7 420,695.7 418.7,698.1 417.4,700.2 416.1,702.5 414.8,704.9 413.8,705.8" fill="#4caf50" fill-opacity="0.6"/>
<polygon points="428.6,686.3 429.2,687.7 430.6,689.6 431.9,691.2 433.2,694 434.5,697.3 435.8,695.5 437.1,694.2 438.2,692.9 438.2,692.9 437.1,693 435.8,692.6 434.5,691.6 433.2,689.7 431.9,688.3 430.6,687.3 429.2,686.5 428.6,686.3" fill="#f23645" fill-opacity="0.6"/>
<polygon points="438.2,692.9 438.4,692.6 438.8,693 438.8,693 438.4,692.9 438.2,692.9" fill="#4caf50" fill-opacity="0.6"/>
<polygon points="438.8,693 439.8,694.2 440.8,693.2 440.8,693.2 439.8,693.2 438.8,693" fill="#f23645" fill-opacity="0.6"/>
<polygon points="440.8,693.2 441.1,692.9 441.6,693.2 441.6,693.2 441.1,693.1 440.8,693.2" fill="#4caf50" fill-opacity="0.6"/>
<polygon points="441.6,693.2 442.4,693.6 443,693.2 443,693.2 442.4,693.3 441.6,693.2" fill="#f23645" fill-opacity="0.6"/>
<polygon points="443,693.2 443.7,692.8 444,693.2 444,693.2 443.7,693.1 443,693.2" fill="#4caf50" fill-opacity="0.6"/>
<polygon points="444,693.2 445,694.8 446.3,696.5 447.7,697.8 449,697.4 450.2,695.7 450.2,695.7 449,695.7 447.7,695.2 446.3,694.3 445,693.5 444,693.2" fill="#f23645" fill-opacity="0.6"/>
<polygon points="450.2,695.7 450.3,695.5 451.6,693.9 452.9,692.7 454.2,690.9 455.5,688.1 456.9,685.5 458.2,684.9 459.5,686 460.8,681.2 462.1,677.4 463.4,671.8 464.8,672.8 466.1,675 467.4,676 468.7,675 470,675.3 470.7,676.7 470.7,676.7 470,676.5 468.7,676.9 467.4,677.5 466.1,678.1 464.8,679.1 463.4,681.2 462.1,684.3 460.8,686.6 459.5,688.4 458.2,689.2 456.9,690.6 455.5,692.3 454.2,693.7 452.9,694.6 451.6,695.2 450.3,695.7 450.2,695.7" fill="#4caf50" fill-opacity="0.6"/>
<polygon points="470.7,676.7 471.3,678 472.6,678.9 474,679.4 475.3,679.1 476.6,678.8 477.9,678.6 479.2,681.1 480.5,682.8 481.9,687.2 483.2,687.8 484.5,688.8 485.8,689.3 487.1,691 488.4,693.9 489.8,693.1 491.1,694.1 492.4,693.9 493.7,695.8 495,695.3 496.3,695.7 497.6,695.7 499,695.3 500.3,697.8 501.5,695.3 501.5,695.3 500.3,695.4 499,694.6 497.6,694.4 496.3,693.9 495,693.4 493.7,692.7 492.4,691.7 491.1,691 489.8,689.9 488.4,688.8 487.1,687.1 485.8,685.8 484.5,684.7 483.2,683.3 481.9,681.8 480.5,680 479.2,679.1 477.9,678.4 476.6,678.4 475.3,678.2 474,677.9 472.6,677.4 471.3,676.9 470.7,676.7" fill="#f23645" fill-opacity="0.6"/>
<polygon points="501.5,695.3 501.6,695.2 502.9,693.8 504.2,690.3 505.5,688.6 506.9,690.6 507.6,692.2 507.6,692.2 506.9,692 505.5,692.5 504.2,693.8 502.9,695 501.6,695.3 501.5,695.3" fill="#4caf50" fill-opacity="0.6"/>
<polygon points="507.6,692.2 508.2,693.5 509.5,695.6 510.7,693.1 510.7,693.1 509.5,693.2 508.2,692.4 507.6,692.2" fill="#f23645" fill-opacity="0.6"/>
<polygon points="510.7,693.1 510.8,692.8 512.1,689.8 513.4,688.4 514.7,687.5 516.1,685.8 517.4,686.1 518.7,686.7 520,685.6 521.3,685.3 522.6,683.7 524,681.8 525.3,677.3 526.6,674.8 527.9,673.8 529.2,677.6 529.8,679 529.8,679 529.2,678.8 527.9,679.2 526.6,681 525.3,683.1 524,685 522.6,686.1 521.3,686.9 520,687.4 518.7,688 517.4,688.4 516.1,689.2 514.7,690.3 513.4,691.3 512.1,692.3 510.8,693.1 510.7,693.1" fill="#4caf50" fill-opacity="0.6"/>
<polygon points="529.8,679 530.5,680.9 531.8,683.8 533.2,686.6 534.5,690.3 535.8,694 537.1,699.4 538.4,701.1 539.7,703 541.1,703.5 542.4,701 543.7,699.9 545,700 546.3,700.7 547.6,699.4 547.6,699.4 547.6,699.4 547.6,699.4 546.3,699.4 545,699 543.7,698.6 542.4,698.2 541.1,697.3 539.7,695.2 538.4,692.6 537.1,689.8 535.8,686.5 534.5,684.1 533.2,682 531.8,680.4 530.5,679.3 529.8,679" fill="#f23645" fill-opacity="0.6"/>
<polygon points="547.6,699.4 548.9,696.6 550.3,697.8 550.5,698.7 550.5,698.7 550.3,698.5 548.9,698.7 547.6,699.4" fill="#4caf50" fill-opacity="0.6"/>
<polygon points="550.5,698.7 551.6,701.9 552.9,706.1 554.2,706.8 555.5,703.1 555.7,702.5 555.7,702.5 555.5,702.6 554.2,702.5 552.9,701 551.6,699.3 550.5,698.7" fill="#f23645" fill-opacity="0.6"/>
<polygon points="555.7,702.5 556.8,698.3 558.2,699.5 559.5,699.1 560.8,698.6 562.1,693.8 563.4,691.5 564.7,689 566,688.6 567.4,684.5 568.7,680.9 570,677.2 571.3,679.4 572.6,679.8 573.9,677.7 575.3,674.3 576.6,672.3 577.9,673.2 579.2,676.6 579.4,676.7 579.4,676.7 579.2,676.7 577.9,676.8 576.6,677.9 575.3,679.8 573.9,681.7 572.6,683 571.3,684.1 570,685.7 568.7,688.5 567.4,691.1 566,693.3 564.7,694.8 563.4,696.7 562.1,698.5 560.8,700.1 559.5,700.5 558.2,701 556.8,701.5 555.7,702.5" fill="#4caf50" fill-opacity="0.6"/>
<polygon points="579.4,676.7 580.5,677.9 581.8,678 582.4,677.1 582.4,677.1 581.8,677.2 580.5,677 579.4,676.7" fill="#f23645" fill-opacity="0.6"/>
<polygon points="582.4,677.1 583.2,675.8 584.5,676.4 584.9,676.8 584.9,676.8 584.5,676.8 583.2,676.9 582.4,677.1" fill="#4caf50" fill-opacity="0.6"/>
<polygon points="584.9,676.8 585.8,677.8 587.1,678 588.4,677.5 588.6,677.3 588.6,677.3 588.4,677.3 587.1,677.3 585.8,677 584.9,676.8" fill="#f23645" fill-opacity="0.6"/>
<polygon points="588.6,677.3 589.7,675.6 591,671.8 592.4,669.3 593.7,663.8 595,660.9 596.3,663.5 597.2,667.9 597.2,667.9 596.3,667.5 595,668.8 593.7,671.5 592.4,674 591,675.6 589.7,676.9 588.6,677.3" fill="#4caf50" fill-opacity="0.6"/>
<polygon points="597.2,667.9 597.6,670 598.9,674.4 600.3,676.1 601.6,679.6 602.9,681.7 604.2,684.2 605.5,685.8 606.8,687.2 608.1,686.6 609.5,685.9 610.8,685.2 612.1,688 613.4,688.8 614.7,689 616,687.7 616.4,686.8 616.4,686.8 616,687 614.7,686.7 613.4,686 612.1,685 610.8,684 609.5,683.6 608.1,682.8 606.8,681.6 605.5,679.7 604.2,677.6 602.9,675.5 601.6,673.4 600.3,671.3 598.9,669.7 597.6,668.1 597.2,667.9" fill="#f23645" fill-opacity="0.6"/>
<polygon points="616.4,686.8 617.4,684.2 618.7,682.5 620,679.3 621.3,681.1 622.6,682.2 622.9,683.1 622.9,683.1 622.6,682.9 621.3,683.1 620,683.8 618.7,685.3 617.4,686.3 616.4,686.8" fill="#4caf50" fill-opacity="0.6"/>
<polygon points="622.9,683.1 623.9,686.5 625.2,686.6 626.6,687 627.9,686.5 629.2,691.1 630.5,693.1 631.8,693.1 633.1,690.5 633.8,689.7 633.8,689.7 633.1,689.8 631.8,689.6 630.5,688.4 629.2,686.9 627.9,685.5 626.6,685.1 625.2,684.5 623.9,683.8 622.9,683.1" fill="#f23645" fill-opacity="0.6"/>
<polygon points="633.8,689.7 634.5,689.1 635.8,687.1 637.1,684.1 638.4,683.4 639.7,683.2 640.8,685.9 640.8,685.9 639.7,685.8 638.4,686.7 637.1,687.8 635.8,689 634.5,689.6 633.8,689.7" fill="#4caf50" fill-opacity="0.6"/>
<polygon points="640.8,685.9 641,686.4 642.3,687.7 643.7,688.4 645,690.2 646.3,691.1 647.6,694 648.9,695.3 650.2,695.2 651.6,692.3 651.6,692.3 651.6,692.3 651.6,692.3 650.2,692.3 648.9,691.3 647.6,689.9 646.3,688.6 645,687.7 643.7,686.9 642.3,686.4 641,685.9 640.8,685.9" fill="#f23645" fill-opacity="0.6"/>
<polygon points="651.6,692.3 652.9,689.7 654.2,688.8 655.5,690.1 656.8,688.3 658.1,687.2 659.4,684.8 660.8,686.9 661.5,688.1 661.5,688.1 660.8,687.9 659.4,688.2 658.1,689.4 656.8,690.1 655.5,690.7 654.2,690.9 652.9,691.6 651.6,692.3" fill="#4caf50" fill-opacity="0.6"/>
<polygon points="661.5,688.1 662.1,689 663.3,688.2 663.3,688.2 662.1,688.2 661.5,688.1" fill="#f23645" fill-opacity="0.6"/>
<polygon points="663.3,688.2 663.4,688.1 664.7,685.5 666,683.1 667.3,685.6 667.8,686.3 667.8,686.3 667.3,686.2 666,686.4 664.7,687.5 663.4,688.2 663.3,688.2" fill="#4caf50" fill-opacity="0.6"/>
<polygon points="667.8,686.3 668.7,687.9 670,688.6 671.3,687.3 672.6,688.3 673,687.2 673,687.2 672.6,687.4 671.3,687.1 670,687.1 668.7,686.6 667.8,686.3" fill="#f23645" fill-opacity="0.6"/>
<polygon points="673,687.2 673.9,684.9 675.2,682.4 676.6,678 677.9,676.1 679.2,670.2 680.5,671.5 681.8,674.8 682.6,676.7 682.6,676.7 681.8,676.5 680.5,677.1 679.2,679 677.9,681.9 676.6,683.8 675.2,685.7 673.9,686.8 673,687.2" fill="#4caf50" fill-opacity="0.6"/>
<polygon points="682.6,676.7 683.1,678 684.4,679.7 685.8,680.6 687.1,684.4 688.4,688 689.7,690.5 691,689.1 692.3,685.5 692.7,685.3 692.7,685.3 692.3,685.4 691,685.3 689.7,684 688.4,681.9 687.1,679.9 685.8,678.3 684.4,677.6 683.1,676.9 682.6,676.7" fill="#f23645" fill-opacity="0.6"/>
<polygon points="692.7,685.3 693.7,684.7 695,684.2 695.5,685.1 695.5,685.1 695,684.9 693.7,685.2 692.7,685.3" fill="#4caf50" fill-opacity="0.6"/>
<polygon points="695.5,685.1 696.3,686.3 697.6,686.1 698.6,685.5 698.6,685.5 697.6,685.5 696.3,685.3 695.5,685.1" fill="#f23645" fill-opacity="0.6"/>
<polygon points="698.6,685.5 698.9,685.3 700.2,683.6 700.9,685.2 700.9,685.2 700.2,685 698.9,685.4 698.6,685.5" fill="#4caf50" fill-opacity="0.6"/>
<polygon points="700.9,685.2 701.5,686.6 702.9,690 704.2,694.3 705.5,694.1 706.8,695.6 708.1,695 709.4,697 710.8,698.4 712.1,699 713.4,702.1 714.7,701.1 716,702.1 717,699 717,699 716,699.2 714.7,698.3 713.4,697.3 712.1,695.7 710.8,694.6 709.4,693.4 708.1,692.2 706.8,691.3 705.5,689.9 704.2,688.5 702.9,686.5 701.5,685.4 700.9,685.2" fill="#f23645" fill-opacity="0.6"/>
<polygon points="717,699 717.3,697.8 718.6,697.7 720,692.8 721.3,692.6 722.6,687.1 723.9,684.9 725.2,678.6 726.5,676.6 727.9,672.2 729.2,671.2 730.5,667.6 731.8,668.9 733.1,670.1 734.4,672.1 735.7,672.5 737.1,672.5 738.4,671.7 739.3,672.6 739.3,672.6 738.4,672.6 737.1,672.8 735.7,672.9 734.4,673.1 733.1,673.5 731.8,674.6 730.5,676.4 729.2,679.4 727.9,682.1 726.5,685.4 725.2,688.3 723.9,691.6 722.6,693.8 721.3,696 720,697.1 718.6,698.6 717.3,698.9 717,699" fill="#4caf50" fill-opacity="0.6"/>
<polygon points="739.3,672.6 739.7,673.1 740.2,672.6 740.2,672.6 739.7,672.7 739.3,672.6" fill="#f23645" fill-opacity="0.6"/>
<polygon points="740.2,672.6 741,671.7 742.3,668 743.6,663.9 745,660.4 746.3,661.2 747.6,661.9 748.9,659.1 750.2,656.9 751.5,658.2 752.5,661.1 752.5,661.1 751.5,660.9 750.2,661.7 748.9,663.3 747.6,664.7 746.3,665.7 745,667.2 743.6,669.5 742.3,671.3 741,672.4 740.2,672.6" fill="#4caf50" fill-opacity="0.6"/>
<polygon points="752.5,661.1 752.9,662.2 754.2,664.5 755.5,667.3 756.8,669.8 758.1,672.9 759.4,673.4 760.7,676.5 762.1,678.4 763.4,678.4 764.7,677.7 766,677.4 766.8,675.3 766.8,675.3 766,675.5 764.7,674.9 763.4,674 762.1,672.5 760.7,670.5 759.4,668.5 758.1,666.9 756.8,665 755.5,663.3 754.2,662 752.9,661.2 752.5,661.1" fill="#f23645" fill-opacity="0.6"/>
<polygon points="766.8,675.3 767.3,674.1 768.6,670.4 770,664 771.3,661.2 772.6,664.6 773.9,666.9 775.2,666.7 776.5,664.8 777.8,666.2 779.2,666.1 780.5,665.9 781.3,666.4 781.3,666.4 780.5,666.3 779.2,666.5 777.8,666.6 776.5,666.7 775.2,667.4 773.9,667.6 772.6,667.8 771.3,668.9 770,671.5 768.6,674 767.3,675.2 766.8,675.3" fill="#4caf50" fill-opacity="0.6"/>
<polygon points="781.3,666.4 781.8,666.7 783.1,669.4 784.4,672.9 785.7,672.7 787.1,671.8 788.4,672.8 789.7,675.4 791,677.8 792.3,676.7 793.6,674.6 793.8,674.3 793.8,674.3 793.6,674.3 792.3,674.3 791,673.4 789.7,672 788.4,670.8 787.1,670.2 785.7,669.6 784.4,668.6 783.1,667.2 781.8,666.4 781.3,666.4" fill="#f23645" fill-opacity="0.6"/>
<polygon points="793.8,674.3 794.9,672.7 796.3,672.2 797.2,673.6 797.2,673.6 796.3,673.5 794.9,673.9 793.8,674.3" fill="#4caf50" fill-opacity="0.6"/>
<polygon points="797.2,673.6 797.6,674.2 798.9,675.6 800.2,675.9 801.1,674.4 801.1,674.4 800.2,674.6 798.9,674.2 797.6,673.7 797.2,673.6" fill="#f23645" fill-opacity="0.6"/>
<polygon points="801.1,674.4 801.5,673.7 802,674.5 802,674.5 801.5,674.4 801.1,674.4" fill="#4caf50" fill-opacity="0.6"/>
<polygon points="802,674.5 802.8,676 804.2,675.3 805.5,676.8 806.8,676.6 808.1,679.7 809.4,680 810.7,678.9 812,678.8 813.4,679.6 814.7,678.6 814.8,678.5 814.8,678.5 814.7,678.5 813.4,678.5 812,678.1 810.7,677.9 809.4,677.5 808.1,676.7 806.8,675.7 805.5,675.4 804.2,674.9 802.8,674.8 802,674.5" fill="#f23645" fill-opacity="0.6"/>
<polygon points="814.8,678.5 816,676.4 817.3,676.2 818.6,676 819.9,675.8 820.4,677 820.4,677 819.9,676.8 818.6,677.2 817.3,677.5 816,678 814.8,678.5" fill="#4caf50" fill-opacity="0.6"/>
<polygon points="820.4,677 821.3,679.1 822.6,686.9 823.9,694.4 825.2,696.5 826.5,699.1 827.8,701.4 829.1,698.5 830.5,696.9 831.2,694.5 831.2,694.5 830.5,694.8 829.1,694.1 827.8,692.7 826.5,689.8 825.2,686.7 823.9,683.4 822.6,679.8 821.3,677.4 820.4,677" fill="#f23645" fill-opacity="0.6"/>
<polygon points="831.2,694.5 831.8,692.7 833.1,693.6 834.4,692.7 835.7,693.3 837,689.7 838.4,684.3 839.7,678.9 841,672.3 842.3,665.6 843.6,658.8 844.9,652.4 846.3,652.2 847.6,659.7 848.5,663.7 848.5,663.7 847.6,663.4 846.3,664.6 844.9,668.7 843.6,674.1 842.3,679.2 841,683.8 839.7,687.6 838.4,690.6 837,692.7 835.7,693.6 834.4,693.8 833.1,694.1 831.8,694.3 831.2,694.5" fill="#4caf50" fill-opacity="0.6"/>
<polygon points="848.5,663.7 848.9,665.3 850.2,670.6 851.5,673.5 852.8,675.5 854.1,672.9 855.5,672 856,670.5 856,670.5 855.5,670.8 854.1,670.4 852.8,669.5 851.5,667.5 850.2,665.5 848.9,663.9 848.5,663.7" fill="#f23645" fill-opacity="0.6"/>
<polygon points="856,670.5 856.8,668.7 858.1,669.1 859.4,667.2 860.7,666.9 862,665.5 863.4,664.8 864.7,662.5 866,661.7 867.3,658.6 868.6,659.7 869.9,660.6 870.4,662.3 870.4,662.3 869.9,662 868.6,662.4 867.3,663.3 866,664.9 864.7,666 863.4,667.1 862,667.9 860.7,668.7 859.4,669.3 858.1,670 856.8,670.2 856,670.5" fill="#4caf50" fill-opacity="0.6"/>
<polygon points="870.4,662.3 871.2,665.4 872.6,665.8 873.9,671.9 875.2,676.9 876.5,681 877.8,677.5 879.1,673.4 879.4,673.1 879.4,673.1 879.1,673.2 877.8,673.1 876.5,671.6 875.2,668.4 873.9,665.6 872.6,663.6 871.2,662.8 870.4,662.3" fill="#f23645" fill-opacity="0.6"/>
<polygon points="879.4,673.1 880.5,671.3 881.8,667.7 883.1,665.1 884.4,661.9 885.7,660.1 887,660.8 888.3,661.4 889.7,662.2 890.7,663.5 890.7,663.5 889.7,663.4 888.3,663.8 887,664.6 885.7,665.9 884.4,667.9 883.1,669.9 881.8,671.4 880.5,672.7 879.4,673.1" fill="#4caf50" fill-opacity="0.6"/>
<polygon points="890.7,663.5 891,663.8 892.3,665.1 893.6,666.1 894.9,666.9 896.2,667.1 897.6,669.9 898.9,670.1 900.2,674.6 901.5,677.4 902.8,678.8 904.1,679.6 905.4,678.3 906.8,677.8 908.1,677.7 909.2,676.5 909.2,676.5 908.1,676.6 906.8,676.2 905.4,675.7 904.1,674.8 902.8,673.2 901.5,671.3 900.2,669.3 898.9,667.5 897.6,666.7 896.2,665.6 894.9,665.1 893.6,664.5 892.3,663.9 891,663.5 890.7,663.5" fill="#f23645" fill-opacity="0.6"/>
<polygon points="909.2,676.5 909.4,676.3 910.1,676.5 910.1,676.5 909.4,676.5 909.2,676.5" fill="#4caf50" fill-opacity="0.6"/>
<polygon points="910.1,676.5 910.7,676.8 912,677.3 913.3,678.1 914.7,678.8 916,678.7 917.3,680.7 918.6,682.4 919.9,687.8 921.2,692.1 922.5,695.1 923.9,696.5 925.2,696.5 926.5,698.1 927.8,697.5 929.1,694.5 929.5,694.1 929.5,694.1 929.1,694.1 927.8,694 926.5,692.9 925.2,691.1 923.9,689.3 922.5,687 921.2,684.2 919.9,681.6 918.6,679.5 917.3,678.5 916,677.8 914.7,677.5 913.3,677.1 912,676.7 910.7,676.6 910.1,676.5" fill="#f23645" fill-opacity="0.6"/>
<polygon points="929.5,694.1 930.4,692.7 931.8,693.5 932.3,693.8 932.3,693.8 931.8,693.7 930.4,693.8 929.5,694.1" fill="#4caf50" fill-opacity="0.6"/>
<polygon points="932.3,693.8 933.1,694.1 934.4,694.3 934.6,693.8 934.6,693.8 934.4,693.9 933.1,693.8 932.3,693.8" fill="#f23645" fill-opacity="0.6"/>
<polygon points="934.6,693.8 935.7,691 937,688.8 938.3,684.5 939.7,683.3 941,682.2 942.3,682.5 943.6,683.3 944.3,685.5 944.3,685.5 943.6,685.2 942.3,685.8 941,686.9 939.7,688.5 938.3,690.2 937,692.1 935.7,693.2 934.6,693.8" fill="#4caf50" fill-opacity="0.6"/>
<polygon points="944.3,685.5 944.9,687.2 946.2,691.2 947.5,693 948.9,691.4 950.2,691.6 951.5,692.5 952.8,695.4 954.1,695.9 955.4,698.3 956.8,700.2 958.1,701.5 959.4,701.1 960.7,700.9 962,702.8 963.3,706.1 964.6,707 966,705.7 967.2,703.4 967.2,703.4 966,703.5 964.6,702.8 963.3,701.4 962,699.8 960.7,698.8 959.4,698.1 958.1,697.1 956.8,695.7 955.4,694.2 954.1,692.8 952.8,691.7 951.5,690.5 950.2,689.8 948.9,689.3 947.5,688.5 946.2,687.1 944.9,685.7 944.3,685.5" fill="#f23645" fill-opacity="0.6"/>
<polygon points="967.2,703.4 967.3,703.3 968.6,702.4 969.9,702 971.2,700.6 972.5,699.1 973.9,697.4 975.2,699.7 975.6,700.4 975.6,700.4 975.2,700.3 973.9,700.5 972.5,701.5 971.2,702.3 969.9,702.9 968.6,703.2 967.3,703.4 967.2,703.4" fill="#4caf50" fill-opacity="0.6"/>
<polygon points="975.6,700.4 976.5,701.7 977.8,704.2 979.1,702.1 979.7,701.6 979.7,701.6 979.1,701.7 977.8,701.5 976.5,700.6 975.6,700.4" fill="#f23645" fill-opacity="0.6"/>
<polygon points="979.7,701.6 980.4,701 981.7,698.9 982.7,701 982.7,701 981.7,700.9 980.4,701.5 979.7,701.6" fill="#4caf50" fill-opacity="0.6"/>
<polygon points="982.7,701 983.1,701.8 984.4,703.6 985.7,705 987,706 988.3,704 989.6,704.6 991,706.3 992.3,707.8 993.6,710.7 994.9,711.6 996.2,707.8 996.2,707.8 994.9,707.9 993.6,706.6 992.3,705.3 991,704.4 989.6,703.8 988.3,703.6 987,703.4 985.7,702.6 984.4,701.7 983.1,701.1 982.7,701" fill="#f23645" fill-opacity="0.6"/>
<polygon points="996.2,707.8 996.2,707.8 997.5,699.7 998.8,690.5 1000.2,682.1 1001.5,679.4 1002.8,679.4 1004.1,678.5 1005.4,679.5 1006.7,676.8 1008.1,674.3 1009.4,670.8 1010.7,667.9 1012,668.5 1013.3,668 1014.6,668.5 1015.9,669.9 1017.3,669.7 1018.6,670 1019.9,667.3 1021.2,667.4 1022.5,667.3 1023.7,668.7 1023.7,668.7 1022.5,668.7 1021.2,669.1 1019.9,669.7 1018.6,670.5 1017.3,670.7 1015.9,671 1014.6,671.4 1013.3,672.4 1012,673.9 1010.7,675.7 1009.4,678.2 1008.1,680.7 1006.7,682.8 1005.4,684.8 1004.1,686.6 1002.8,689.3 1001.5,692.6 1000.2,697 998.8,702 997.5,705.8 996.2,707.8 996.2,707.8" fill="#4caf50" fill-opacity="0.6"/>
<polygon points="1023.7,668.7 1023.8,668.8 1025.2,669.6 1026.5,669.2 1027.8,669.2 1028,669 1028,669 1027.8,669 1026.5,669 1025.2,668.9 1023.8,668.7 1023.7,668.7" fill="#f23645" fill-opacity="0.6"/>
<polygon points="1028,669 1029.1,667.6 1030.4,666.9 1031.7,664.4 1033.1,665.5 1034.4,664.1 1035.7,664.5 1037,660.9 1038.3,658.8 1039.6,656.6 1040.9,659.2 1042.3,659.6 1043.5,660.6 1043.5,660.6 1042.3,660.6 1040.9,660.9 1039.6,661.5 1038.3,663.1 1037,664.5 1035.7,665.8 1034.4,666.2 1033.1,666.8 1031.7,667.3 1030.4,668.2 1029.1,668.7 1028,669" fill="#4caf50" fill-opacity="0.6"/>
<polygon points="1043.5,660.6 1043.6,660.6 1044.9,661.4 1046.2,661.9 1047.5,664.3 1048.8,665.5 1050.2,669.8 1051.5,674.4 1052.8,680 1054.1,683.6 1055.4,683.5 1056.7,684.4 1058,685.9 1059.4,691.3 1060.7,692.5 1062,695.6 1063.3,694.1 1064.6,696.9 1065.9,698.1 1067.3,696.6 1068.6,695.7 1069.6,694.2 1069.6,694.2 1068.6,694.3 1067.3,693.9 1065.9,693 1064.6,691.3 1063.3,689.4 1062,687.9 1060.7,685.3 1059.4,682.9 1058,680.1 1056.7,678.1 1055.4,676.1 1054.1,673.6 1052.8,670.3 1051.5,667 1050.2,664.6 1048.8,662.8 1047.5,661.9 1046.2,661.1 1044.9,660.8 1043.6,660.6 1043.5,660.6" fill="#f23645" fill-opacity="0.6"/>
<polygon points="1069.6,694.2 1069.9,693.7 1070.1,694.3 1070.1,694.3 1069.9,694.2 1069.6,694.2" fill="#4caf50" fill-opacity="0.6"/>
<polygon points="1070.1,694.3 1071.2,696.8 1072.5,698.2 1073.8,700.1 1075.1,699.1 1076.4,697.3 1076.4,697.3 1075.1,697.3 1073.8,696.8 1072.5,695.7 1071.2,694.8 1070.1,694.3" fill="#f23645" fill-opacity="0.6"/>
<polygon points="1076.4,697.3 1076.5,697.3 1077.8,697.1 1078.2,697.3 1078.2,697.3 1077.8,697.3 1076.5,697.3 1076.4,697.3" fill="#4caf50" fill-opacity="0.6"/>
<polygon points="1078.2,697.3 1079.1,697.8 1080.4,699 1081.7,698.2 1082.3,697.8 1082.3,697.8 1081.7,697.9 1080.4,697.8 1079.1,697.4 1078.2,697.3" fill="#f23645" fill-opacity="0.6"/>
<polygon points="1082.3,697.8 1083,697.4 1084.4,690.9 1085.7,687.4 1087,685.3 1088.3,683.8 1089.6,679 1090.9,676.9 1092.2,673.9 1093.6,673.9 1094.9,677 1096.1,679.2 1096.1,679.2 1094.9,679.2 1093.6,679.9 1092.2,681.9 1090.9,684.5 1089.6,687.1 1088.3,689.7 1087,691.7 1085.7,693.9 1084.4,696 1083,697.8 1082.3,697.8" fill="#4caf50" fill-opacity="0.6"/>
<polygon points="1096.1,679.2 1096.2,679.5 1097.5,682.5 1098.8,681.9 1100.1,685.3 1101.5,686.6 1102.8,691.5 1104.1,689.7 1105.4,693.3 1106.7,691.8 1108,694.1 1109.4,693.1 1110.7,693 1112,695.6 1113.3,696.3 1114.6,698.2 1115.9,698.6 1117.2,699.8 1118.6,701.6 1119.9,699.1 1121.2,698.3 1121.2,698.2 1121.2,698.2 1121.2,698.2 1119.9,698.2 1118.6,697.9 1117.2,696.7 1115.9,695.6 1114.6,694.6 1113.3,693.4 1112,692.5 1110.7,691.5 1109.4,690.9 1108,690.2 1106.7,689 1105.4,688 1104.1,686.2 1102.8,685.1 1101.5,682.9 1100.1,681.7 1098.8,680.5 1097.5,680 1096.2,679.2 1096.1,679.2" fill="#f23645" fill-opacity="0.6"/>
<polygon points="1121.2,698.2 1122.5,696.4 1123.4,697.9 1123.4,697.9 1122.5,697.8 1121.2,698.2" fill="#4caf50" fill-opacity="0.6"/>
<polygon points="1123.4,697.9 1123.8,698.6 1125.1,699 1126.5,702.3 1127.8,699.3 1127.8,699.2 1127.8,699.2 1127.8,699.3 1126.5,699.2 1125.1,698.2 1123.8,698 1123.4,697.9" fill="#f23645" fill-opacity="0.6"/>
<polygon points="1127.8,699.2 1129.1,697.1 1130.4,692.5 1131.7,690.3 1133,688.9 1134.3,689.7 1135.7,692 1137,691 1137.9,692.3 1137.9,692.3 1137,692.2 1135.7,692.6 1134.3,692.8 1133,693.8 1131.7,695.4 1130.4,697.2 1129.1,698.7 1127.8,699.2" fill="#4caf50" fill-opacity="0.6"/>
<polygon points="1137.9,692.3 1138.3,692.8 1139.6,693.6 1140.9,695.2 1142.2,697 1143.6,698.7 1144.9,699.4 1146.2,699.2 1147.5,700.3 1148.8,701.7 1150.1,704.4 1151.4,703.5 1152.8,707.2 1154.1,702.8 1154.4,702.6 1154.4,702.6 1154.1,702.6 1152.8,702.6 1151.4,701 1150.1,700.2 1148.8,698.8 1147.5,697.9 1146.2,697.1 1144.9,696.3 1143.6,695.3 1142.2,694.2 1140.9,693.3 1139.6,692.7 1138.3,692.4 1137.9,692.3" fill="#f23645" fill-opacity="0.6"/>
<polygon points="1154.4,702.6 1155.4,702.1 1156.7,699 1158,695.7 1159.3,688.7 1160.7,684.4 1162,681.8 1163.3,679.7 1164.6,677.6 1165.9,674.5 1167.2,677.3 1168.5,676.4 1169.9,679.5 1170.3,680.1 1170.3,680.1 1169.9,680 1168.5,680.1 1167.2,681.4 1165.9,682.8 1164.6,685.5 1163.3,688.2 1162,691 1160.7,694.1 1159.3,697.3 1158,700.2 1156.7,701.6 1155.4,702.5 1154.4,702.6" fill="#4caf50" fill-opacity="0.6"/>
<polygon points="1170.3,680.1 1171.2,681.3 1172.5,682.9 1173.8,685.4 1175.1,685.8 1176.4,687.2 1177.8,687.8 1179.1,689.8 1180.4,693.9 1181.7,694.2 1183,696.2 1184.3,697.3 1185.6,700.5 1187,695.3 1187.1,694.7 1187.1,694.7 1187,694.9 1185.6,694.7 1184.3,692.8 1183,691.3 1181.7,689.6 1180.4,688.1 1179.1,686.2 1177.8,685 1176.4,684 1175.1,683 1173.8,682.1 1172.5,681 1171.2,680.3 1170.3,680.1" fill="#f23645" fill-opacity="0.6"/>
<polygon points="1187.1,694.7 1188.3,689.1 1189.6,683.7 1190.9,679.8 1192.2,678.7 1193.5,674.3 1194.9,671.3 1196.2,666.2 1197.5,667.6 1198.8,669.4 1200.1,671.8 1201.1,672.9 1201.1,672.9 1200.1,672.8 1198.8,673.1 1197.5,674.3 1196.2,676.6 1194.9,680 1193.5,683 1192.2,685.8 1190.9,688.2 1189.6,691 1188.3,693.4 1187.1,694.7" fill="#4caf50" fill-opacity="0.6"/>
<polygon points="1201.1,672.9 1201.4,673.2 1202.8,674.6 1204.1,678.2 1205.4,679.5 1206.7,682.1 1208,683.5 1209.3,684.8 1210.6,687.8 1212,688.8 1213.3,690.1 1214.6,687.5 1215.5,685.8 1215.5,685.8 1214.6,686 1213.3,685.4 1212,683.9 1210.6,682.2 1209.3,680.4 1208,678.9 1206.7,677.4 1205.4,675.8 1204.1,674.5 1202.8,673.3 1201.4,672.9 1201.1,672.9" fill="#f23645" fill-opacity="0.6"/>
<polygon points="1215.5,685.8 1215.9,685 1217.2,684.8 1218.5,682.1 1219.9,681.6 1221.2,677.7 1222.5,677.5 1223.8,674.2 1225.1,671 1226.4,667.6 1227.7,666.1 1229.1,664.9 1230.4,667.2 1231.7,669.3 1231.9,669.9 1231.9,669.9 1231.7,669.7 1230.4,669.9 1229.1,670.7 1227.7,672.7 1226.4,674.9 1225.1,677.3 1223.8,679.4 1222.5,681.1 1221.2,682.3 1219.9,683.9 1218.5,684.6 1217.2,685.5 1215.9,685.7 1215.5,685.8" fill="#4caf50" fill-opacity="0.6"/>
<polygon points="1231.9,669.9 1233,673.6 1234.3,678.1 1235.6,680.8 1237,685.6 1238.3,686.4 1239.6,691 1240.9,689.6 1242.2,694.5 1243.5,693.6 1244.8,697.2 1246.2,697.8 1247.5,701.7 1248.8,701.6 1250.1,702.5 1251.4,702.6 1252.7,704.7 1254.1,705.1 1255.4,704.5 1256.7,704.3 1257.4,702.6 1257.4,702.6 1256.7,702.9 1255.4,702.4 1254.1,701.7 1252.7,700.5 1251.4,699.2 1250.1,698 1248.8,696.5 1247.5,694.8 1246.2,692.5 1244.8,690.7 1243.5,688.5 1242.2,686.8 1240.9,684.2 1239.6,682.4 1238.3,679.6 1237,677.3 1235.6,674.6 1234.3,672.5 1233,670.7 1231.9,669.9" fill="#f23645" fill-opacity="0.6"/>
<polygon points="1257.4,702.6 1258,701 1259.3,696.9 1260.6,694.4 1261.9,695.6 1263.3,697.8 1264.3,698.3 1264.3,698.3 1263.3,698.3 1261.9,698.4 1260.6,699.4 1259.3,701 1258,702.4 1257.4,702.6" fill="#4caf50" fill-opacity="0.6"/>
<polygon points="1264.3,698.3 1264.6,698.5 1265.2,698.3 1265.2,698.3 1264.6,698.3 1264.3,698.3" fill="#f23645" fill-opacity="0.6"/>
<polygon points="1265.2,698.3 1265.9,698.1 1267.2,696.1 1268.5,695 1269.8,694.9 1271.2,695.5 1272.5,695.4 1273.8,694.9 1275.1,695.4 1275.2,695.7 1275.2,695.7 1275.1,695.6 1273.8,695.7 1272.5,696 1271.2,696.3 1269.8,696.5 1268.5,697 1267.2,697.7 1265.9,698.2 1265.2,698.3" fill="#4caf50" fill-opacity="0.6"/>
<polygon points="1275.2,695.7 1276.4,700.6 1277.7,703 1279,706.7 1280.4,704.3 1281.7,703.7 1282.9,702 1282.9,702 1281.7,702 1280.4,701.4 1279,700.5 1277.7,698.4 1276.4,696.9 1275.2,695.7" fill="#f23645" fill-opacity="0.6"/>
<polygon points="1282.9,702 1283,701.8 1283.3,702 1283.3,702 1283,702 1282.9,702" fill="#4caf50" fill-opacity="0.6"/>
<polygon points="1283.3,702 1284.3,702.5 1284.6,702 1284.6,702 1284.3,702.1 1283.3,702" fill="#f23645" fill-opacity="0.6"/>
<polygon points="1284.6,702 1285.6,699.8 1286.9,697.4 1288.3,693.1 1289.6,693.1 1290.9,690.5 1292.2,689.3 1293.5,688.3 1294.8,688.5 1296.2,688.8 1297.5,685.1 1298.8,685.8 1300.1,686.4 1301.1,688.1 1301.1,688.1 1300.1,688 1298.8,688.5 1297.5,689.4 1296.2,690.9 1294.8,691.6 1293.5,692.6 1292.2,694 1290.9,695.6 1289.6,697.3 1288.3,698.6 1286.9,700.5 1285.6,701.5 1284.6,702" fill="#4caf50" fill-opacity="0.6"/>
<polygon points="1301.1,688.1 1301.4,688.8 1301.8,688 1301.8,688 1301.4,688.2 1301.1,688.1" fill="#f23645" fill-opacity="0.6"/>
<polygon points="1301.8,688 1302.7,686.3 1304,685.2 1305.4,683.5 1306.7,682 1308,679.9 1309.3,679.9 1310.6,680.7 1311.4,682.5 1311.4,682.5 1310.6,682.3 1309.3,682.8 1308,683.8 1306.7,685.1 1305.4,686.2 1304,687.1 1302.7,687.7 1301.8,688" fill="#4caf50" fill-opacity="0.6"/>
<polygon points="1311.4,682.5 1311.9,683.7 1313.3,684 1314.6,685 1315.9,683.6 1316,683.5 1316,683.5 1315.9,683.5 1314.6,683.5 1313.3,683 1311.9,682.6 1311.4,682.5" fill="#f23645" fill-opacity="0.6"/>
<polygon points="1316,683.5 1317.2,681.2 1318.5,680.6 1319.8,680.7 1321.1,680.4 1322.5,677.4 1323.8,672.4 1325.1,671.4 1326.4,669.6 1327.7,673.1 1328.4,674.7 1328.4,674.7 1327.7,674.5 1326.4,674.9 1325.1,676.7 1323.8,678.5 1322.5,680.5 1321.1,681.6 1319.8,681.9 1318.5,682.4 1317.2,683 1316,683.5" fill="#4caf50" fill-opacity="0.6"/>
<polygon points="1328.4,674.7 1329,676.3 1330.4,680.7 1331.7,683.6 1333,683.5 1334.3,685.3 1335.6,691 1336.9,694 1338.2,697.6 1339.6,698.9 1340.9,704.1 1342.2,698.6 1343.1,695.3 1343.1,695.3 1342.2,695.6 1340.9,694.6 1339.6,691.5 1338.2,689 1336.9,686.1 1335.6,683.5 1334.3,681 1333,679.5 1331.7,678.2 1330.4,676.4 1329,674.9 1328.4,674.7" fill="#f23645" fill-opacity="0.6"/>
<polygon points="1343.1,695.3 1343.5,693.8 1344.8,687.1 1346.1,686.9 1347.5,685.3 1348.8,684 1350.1,678.6 1351.4,673.8 1352.7,669.1 1354,668.3 1355.3,664.4 1356.7,663.2 1358,656.9 1359.3,653.3 1360.6,652.9 1361.9,651.3 1363.2,650.6 1364.6,651.4 1365.4,655.8 1365.4,655.8 1364.6,655.4 1363.2,656.7 1361.9,658.7 1360.6,661.2 1359.3,664 1358,667.5 1356.7,671 1355.3,673.6 1354,676.7 1352.7,679.5 1351.4,683 1350.1,686 1348.8,688.5 1347.5,690 1346.1,691.6 1344.8,693.1 1343.5,695.1 1343.1,695.3" fill="#4caf50" fill-opacity="0.6"/>
<polygon points="1365.4,655.8 1365.9,658 1367.2,662.2 1368.5,666.5 1369.8,671.4 1371.1,674.9 1372.5,678.1 1373.8,681.5 1375.1,679.8 1376.4,676.7 1376.9,674.2 1376.9,674.2 1376.4,674.6 1375.1,674 1373.8,672 1372.5,668.8 1371.1,665.7 1369.8,662.7 1368.5,659.8 1367.2,657.6 1365.9,656 1365.4,655.8" fill="#f23645" fill-opacity="0.6"/>
<polygon points="1376.9,674.2 1377.7,670.6 1379,665.4 1380.3,665.4 1381.7,669.6 1381.9,670 1381.9,670 1381.7,669.9 1380.3,670 1379,671.6 1377.7,673.6 1376.9,674.2" fill="#4caf50" fill-opacity="0.6"/>
<polygon points="1381.9,670 1383,672 1384.3,672.5 1385.6,672.2 1386.9,672.5 1388.2,677.9 1389.6,681 1390.9,686 1392.2,686.3 1393.5,686.7 1394.8,686.4 1396.1,684.4 1397.4,686.2 1398.8,685 1400.1,686.7 1401.4,687.1 1402.7,688 1404,686.1 1404.4,686.1 1404.4,686.1 1404,686.1 1402.7,686 1401.4,685.4 1400.1,684.8 1398.8,684.2 1397.4,684 1396.1,683.2 1394.8,682.8 1393.5,681.6 1392.2,680 1390.9,677.8 1389.6,675.1 1388.2,673.1 1386.9,671.6 1385.6,671.3 1384.3,670.9 1383,670.4 1381.9,670" fill="#f23645" fill-opacity="0.6"/>
<polygon points="1404.4,686.1 1405.3,685.9 1406.7,684.1 1408,684.6 1408.8,685.4 1408.8,685.4 1408,685.3 1406.7,685.5 1405.3,686 1404.4,686.1" fill="#4caf50" fill-opacity="0.6"/>
<polygon points="1408.8,685.4 1409.3,685.9 1410.6,686 1411.9,688 1413.2,686.9 1414.5,687.7 1415.9,689.2 1417.2,692.9 1418.5,695 1419.8,692.3 1420.2,690.4 1420.2,690.4 1419.8,690.8 1418.5,690.3 1417.2,688.7 1415.9,687.3 1414.5,686.7 1413.2,686.4 1411.9,686.2 1410.6,685.6 1409.3,685.4 1408.8,685.4" fill="#f23645" fill-opacity="0.6"/>
<polygon points="1420.2,690.4 1421.1,686.2 1422.4,682.4 1423.8,680.6 1425.1,677.2 1426.4,676.4 1427.7,678.8 1428.3,681.6 1428.3,681.6 1427.7,681.2 1426.4,682 1425.1,683.8 1423.8,686 1422.4,687.8 1421.1,689.6 1420.2,690.4" fill="#4caf50" fill-opacity="0.6"/>
<polygon points="1428.3,681.6 1429,684.4 1430.3,688.5 1431.6,691.8 1433,691.6 1434.3,694.3 1435.6,692 1436.9,692.8 1438,690.3 1438,690.3 1436.9,690.5 1435.6,689.7 1434.3,688.9 1433,687.2 1431.6,685.7 1430.3,683.6 1429,682 1428.3,681.6" fill="#f23645" fill-opacity="0.6"/>
<polygon points="1438,690.3 1438.2,689.8 1438.9,690.4 1438.9,690.4 1438.2,690.3 1438,690.3" fill="#4caf50" fill-opacity="0.6"/>
<polygon points="1438.9,690.4 1439.5,691.1 1439.8,690.4 1439.8,690.4 1439.5,690.5 1438.9,690.4" fill="#f23645" fill-opacity="0.6"/>
<polygon points="1439.8,690.4 1440.9,688 1442.1,689.9 1442.1,689.9 1440.9,689.9 1439.8,690.4" fill="#4caf50" fill-opacity="0.6"/>
<polygon points="1442.1,689.9 1442.2,690 1442.2,689.9 1442.2,689.9 1442.2,689.9 1442.1,689.9" fill="#f23645" fill-opacity="0.6"/>
<polygon points="1442.2,689.9 1443.5,687.4 1444.6,689.4 1444.6,689.4 1443.5,689.3 1442.2,689.9" fill="#4caf50" fill-opacity="0.6"/>
<polygon points="1444.6,689.4 1444.8,689.7 1445,689.3 1445,689.3 1444.8,689.4 1444.6,689.4" fill="#f23645" fill-opacity="0.6"/>
<polygon points="1445,689.3 1446.1,686.5 1447.4,685.1 1448.7,683.9 1450.1,683 1451.1,686.1 1451.1,686.1 1450.1,685.9 1448.7,686.8 1447.4,687.8 1446.1,688.7 1445,689.3" fill="#4caf50" fill-opacity="0.6"/>
<polygon points="1451.1,686.1 1451.4,687.1 1452.7,686.8 1454,687.5 1455.3,687.5 1456.6,690 1458,693.4 1459.3,695.1 1460.6,693.9 1461.9,695.9 1463.2,696.9 1464.5,700.3 1465.9,697.3 1467.2,695.9 1467.2,695.8 1467.2,695.8 1467.2,695.8 1465.9,695.8 1464.5,695.3 1463.2,693.6 1461.9,692.5 1460.6,691.4 1459.3,690.6 1458,689.1 1456.6,687.6 1455.3,686.8 1454,686.6 1452.7,686.3 1451.4,686.2 1451.1,686.1" fill="#f23645" fill-opacity="0.6"/>
<polygon points="1467.2,695.8 1468.5,692.9 1469.7,695.1 1469.7,695.1 1468.5,695.1 1467.2,695.8" fill="#4caf50" fill-opacity="0.6"/>
<polygon points="1469.7,695.1 1469.8,695.2 1470,695.1 1470,695.1 1469.8,695.1 1469.7,695.1" fill="#f23645" fill-opacity="0.6"/>
<polygon points="1470,695.1 1471.1,694 1472.4,693.6 1473.7,689.8 1475.1,690.4 1476.4,688.1 1477.7,688 1479,686.9 1480.3,686.6 1481.6,684.5 1483,682.3 1484.3,680.4 1485.6,681.3 1486.9,681.9 1488.2,682.7 1489.5,680.5 1490.8,679.3 1492.2,679 1493,681.3 1493,681.3 1492.2,681.1 1490.8,681.8 1489.5,682.6 1488.2,683.3 1486.9,683.5 1485.6,684 1484.3,684.9 1483,686.4 1481.6,687.8 1480.3,688.9 1479,689.7 1477.7,690.6 1476.4,691.5 1475.1,692.6 1473.7,693.3 1472.4,694.5 1471.1,694.8 1470,695.1" fill="#4caf50" fill-opacity="0.6"/>
<polygon points="1493,681.3 1493.5,682.7 1494.8,685.5 1496.1,686.5 1497.4,683.9 1497.6,683.5 1497.6,683.5 1497.4,683.6 1496.1,683.5 1494.8,682.5 1493.5,681.5 1493,681.3" fill="#f23645" fill-opacity="0.6"/>
<polygon points="1497.6,683.5 1498.7,681.1 1500.1,678.9 1501.4,677.7 1502.7,676.5 1504,679.4 1504.7,679.7 1504.7,679.7 1504,679.7 1502.7,679.8 1501.4,680.9 1500.1,682 1498.7,683 1497.6,683.5" fill="#4caf50" fill-opacity="0.6"/>
<polygon points="1504.7,679.7 1505.3,680 1506.6,679.8 1507.9,679.8 1509.3,680.4 1509.4,679.8 1509.4,679.8 1509.3,679.9 1507.9,679.8 1506.6,679.8 1505.3,679.8 1504.7,679.7" fill="#f23645" fill-opacity="0.6"/>
<polygon points="1509.4,679.8 1510.6,671.6 1511.9,658.5 1513.2,649.8 1514.5,654.2 1515.8,659.4 1517.2,662.5 1517.3,662.8 1517.3,662.8 1517.2,662.7 1515.8,662.8 1514.5,664 1513.2,667.2 1511.9,673 1510.6,677.9 1509.4,679.8" fill="#4caf50" fill-opacity="0.6"/>
<polygon points="1517.3,662.8 1518.5,666.7 1519.8,664.6 1520.1,663.8 1520.1,663.8 1519.8,664 1518.5,663.7 1517.3,662.8" fill="#f23645" fill-opacity="0.6"/>
<polygon points="1520.1,663.8 1521.1,661.2 1522.4,656.3 1523.7,655 1525,656.9 1526.4,658.1 1527.6,658.9 1527.6,658.9 1526.4,658.9 1525,659.1 1523.7,659.9 1522.4,661.5 1521.1,663.3 1520.1,663.8" fill="#4caf50" fill-opacity="0.6"/>
<polygon points="1527.6,658.9 1527.7,658.9 1529,660.2 1530.3,663.7 1531.6,662.3 1532.9,664.9 1534.3,666.9 1535.6,669.7 1536.9,671.5 1538.2,670.1 1539.5,673.5 1540.8,674.4 1542.1,677.6 1543.5,675.5 1544.8,673.9 1546.1,673.7 1547.4,675.2 1548.7,676.8 1550,679.7 1551.4,683.7 1552.7,684.1 1554,682.3 1555.3,683 1556.6,684.3 1557.5,681.4 1557.5,681.4 1556.6,681.7 1555.3,680.8 1554,680.1 1552.7,679.4 1551.4,677.8 1550,675.8 1548.7,674.5 1547.4,673.8 1546.1,673.3 1544.8,673.2 1543.5,673 1542.1,672.1 1540.8,670.3 1539.5,668.9 1538.2,667.4 1536.9,666.4 1535.6,664.7 1534.3,663.1 1532.9,661.8 1531.6,660.8 1530.3,660.4 1529,659.2 1527.7,658.9 1527.6,658.9" fill="#f23645" fill-opacity="0.6"/>
<polygon points="1557.5,681.4 1557.9,679.9 1559.3,676.8 1560.6,671.5 1561.9,668 1563.2,663.9 1564.5,662.6 1565.8,660.1 1567.1,661.8 1568.5,665.2 1568.6,666.1 1568.6,666.1 1568.5,665.9 1567.1,666.1 1565.8,667.6 1564.5,670.1 1563.2,672.6 1561.9,675.5 1560.6,678 1559.3,680.1 1557.9,681.3 1557.5,681.4" fill="#4caf50" fill-opacity="0.6"/>
<polygon points="1568.6,666.1 1569.8,671.7 1571.1,676 1572.4,678.5 1573.7,681.2 1575,682.2 1576.4,684 1577.7,686 1579,690 1580.3,690.5 1581.6,689.1 1582.9,687.5 1584.2,687.5 1585.6,686.5 1585.6,686.5 1584.2,686.5 1582.9,686.2 1581.6,685.7 1580.3,684.5 1579,682.6 1577.7,680.1 1576.4,678.1 1575,676.1 1573.7,674.1 1572.4,671.8 1571.1,669.5 1569.8,667.4 1568.6,666.1" fill="#f23645" fill-opacity="0.6"/>
<polygon points="1585.6,686.5 1585.6,686.5 1586.9,685.6 1588.2,684 1589.5,683 1590.8,682.8 1592.1,683.4 1593.2,684.3 1593.2,684.3 1592.1,684.2 1590.8,684.5 1589.5,685 1588.2,685.7 1586.9,686.3 1585.6,686.5 1585.6,686.5" fill="#4caf50" fill-opacity="0.6"/>
<polygon points="1593.2,684.3 1593.5,684.5 1594.8,687.3 1596.1,692.5 1597.4,694.4 1598.7,694.1 1600,691.6 1601.3,692.9 1602.7,695.6 1604,697.4 1605.3,698.9 1606.6,697.8 1607.9,696.4 1608.2,695.6 1608.2,695.6 1607.9,695.8 1606.6,695.6 1605.3,694.9 1604,693.5 1602.7,692.2 1601.3,691.1 1600,690.5 1598.7,690.1 1597.4,688.8 1596.1,686.9 1594.8,685 1593.5,684.3 1593.2,684.3" fill="#f23645" fill-opacity="0.6"/>
<polygon points="1608.2,695.6 1609.2,693.4 1610.6,691 1611.9,687.8 1613.2,685.4 1614.5,681.4 1615.8,678.5 1617.1,675 1618.4,674.3 1619.8,673.9 1621.1,671.5 1622.4,670.8 1623.7,673.2 1624.7,675.2 1624.7,675.2 1623.7,675 1622.4,675.7 1621.1,677.3 1619.8,679.2 1618.4,681 1617.1,683.2 1615.8,686 1614.5,688.4 1613.2,690.8 1611.9,692.6 1610.6,694.1 1609.2,695.2 1608.2,695.6" fill="#4caf50" fill-opacity="0.6"/>
<polygon points="1624.7,675.2 1625,676 1626.3,679.6 1627.7,677.2 1628,676.4 1628,676.4 1627.7,676.6 1626.3,676.4 1625,675.3 1624.7,675.2" fill="#f23645" fill-opacity="0.6"/>
<polygon points="1628,676.4 1629,673.8 1630.3,668.9 1631.6,665.1 1632.9,667.3 1634.2,670.1 1635.6,669.5 1636.7,670.3 1636.7,670.3 1635.6,670.3 1634.2,670.6 1632.9,670.7 1631.6,671.9 1630.3,674.1 1629,675.9 1628,676.4" fill="#4caf50" fill-opacity="0.6"/>
<polygon points="1636.7,670.3 1636.9,670.4 1636.9,670.3 1636.9,670.3 1636.9,670.3 1636.7,670.3" fill="#f23645" fill-opacity="0.6"/>
<polygon points="1636.9,670.3 1638.2,666 1639.5,666.6 1640.8,663.9 1642.1,642.5 1642.1,661.2 1640.8,667.4 1639.5,668.6 1638.2,669.2 1636.9,670.3" fill="#4caf50" fill-opacity="0.6"/>
<polyline points="95.1,672.4 96.4,672.3 97.7,672 99,672.1 100.4,672.3 101.7,673.4 103,675.3 104.3,677.9 105.6,680.1 106.9,682 108.3,684.4 109.6,686.8 110.9,689.3 112.2,691.1 113.5,692.1 114.8,692.4 116.1,692.7 117.5,693.1 118.8,693.8 120.1,694.1 121.4,694.7 122.7,694.4 124,694.1 125.4,694 126.7,694.3 128,695.2 129.3,695.9 130.6,696.7 131.9,696.9 133.2,696.7 134.6,696.4 135.9,695.8 137.2,695.4 138.5,694.3 139.8,692.7 141.1,691.1 142.5,689.7 143.8,688.6 145.1,687.4 146.4,686.6 147.7,686 149,685.4 150.4,684.7 151.7,684.8 153,685 154.3,686 155.6,686.4 156.9,687.1 158.2,687.4 159.6,687.8 160.9,687.3 162.2,685.8 163.5,684.5 164.8,683.2 166.1,682.3 167.5,681.3 168.8,681.2 170.1,681.4 171.4,682.3 172.7,683.7 174,684.9 175.3,685.9 176.7,687 178,688 179.3,689.2 180.6,689.9 181.9,690.3 183.2,690 184.6,689.4 185.9,688.6 187.2,688.1 188.5,688 189.8,688.6 191.1,688.2 192.4,687.1 193.8,686 195.1,685 196.4,684.6 197.7,683.8 199,682.8 200.3,681.6 201.7,680.7 203,680.2 204.3,680.3 205.6,679.7 206.9,679.6 208.2,679.3 209.5,679.2 210.9,678.7 212.2,678.7 213.5,679.3 214.8,679.8 216.1,679.7 217.4,679.3 218.8,679.4 220.1,679.7 221.4,680.8 222.7,681.5 224,682.3 225.3,682.7 226.6,683.6 228,684.3 229.3,685.1 230.6,685.6 231.9,685.9 233.2,686.3 234.5,686.5 235.9,687.2 237.2,687.7 238.5,688.1 239.8,688.4 241.1,687.6 242.4,685.9 243.8,683.7 245.1,680.3 246.4,678.1 247.7,677.5 249,678.4 250.3,680.5 251.6,682.5 253,684.2 254.3,685 255.6,685.8 256.9,686.3 258.2,687 259.5,687.6 260.9,687.7 262.2,687.9 263.5,688.2 264.8,689.1 266.1,689.5 267.4,689 268.7,687.4 270.1,686.6 271.4,685.2 272.7,683.7 274,681.4 275.3,678.5 276.6,676.6 278,675.5 279.3,675.3 280.6,675.8 281.9,676.2 283.2,676.4 284.5,676.2 285.8,675.6 287.2,674.5 288.5,674 289.8,674.4 291.1,675.5 292.4,675.5 293.7,675.1 295.1,674.1 296.4,673.4 297.7,673 299,673.4 300.3,673.3 301.6,673.5 302.9,674 304.3,675.5 305.6,676.5 306.9,677.4 308.2,678.6 309.5,679.9 310.8,681.2 312.2,679.3 313.5,675.4 314.8,670.6 316.1,667.3 317.4,665.5 318.7,663.2 320.1,659.5 321.4,656.1 322.7,654.6 324,654.3 325.3,655.1 326.6,656.5 327.9,658.6 329.3,660.5 330.6,662.1 331.9,662 333.2,661.3 334.5,659.1 335.8,657.5 337.2,656.5 338.5,656 339.8,654.8 341.1,652.6 342.4,649.8 343.7,647.9 345,645.7 346.4,644.6 347.7,645 349,647.4 350.3,650.3 351.6,654.5 352.9,658.1 354.3,660.8 355.6,662.8 356.9,664.5 358.2,665.3 359.5,666.1 360.8,666.5 362.1,666.5 363.5,666.6 364.8,666.8 366.1,668.1 367.4,669.3 368.7,670.8 370,672 371.4,674 372.7,675.8 374,678 375.3,679.8 376.6,681.8 377.9,683.6 379.2,684.9 380.6,686.3 381.9,686.7 383.2,687.5 384.5,687.4 385.8,687.6 387.1,686.9 388.5,685.6 389.8,684.6 391.1,684.4 392.4,684.5 393.7,684.9 395,685.8 396.3,687.5 397.7,690.1 399,692.9 400.3,695.3 401.6,697 402.9,698.4 404.2,699.3 405.6,700.8 406.9,702.2 408.2,703.6 409.5,704.2 410.8,704.9 412.1,705.7 413.5,706.2 414.8,704.9 416.1,702.5 417.4,700.2 418.7,698.1 420,695.7 421.3,693.7 422.7,691.6 424,689.7 425.3,688.2 426.6,686.6 427.9,686.1 429.2,686.5 430.6,687.3 431.9,688.3 433.2,689.7 434.5,691.6 435.8,692.6 437.1,693 438.4,692.9 439.8,693.2 441.1,693.1 442.4,693.3 443.7,693.1 445,693.5 446.3,694.3 447.7,695.2 449,695.7 450.3,695.7 451.6,695.2 452.9,694.6 454.2,693.7 455.5,692.3 456.9,690.6 458.2,689.2 459.5,688.4 460.8,686.6 462.1,684.3 463.4,681.2 464.8,679.1 466.1,678.1 467.4,677.5 468.7,676.9 470,676.5 471.3,676.9 472.6,677.4 474,677.9 475.3,678.2 476.6,678.4 477.9,678.4 479.2,679.1 480.5,680 481.9,681.8 483.2,683.3 484.5,684.7 485.8,685.8 487.1,687.1 488.4,688.8 489.8,689.9 491.1,691 492.4,691.7 493.7,692.7 495,693.4 496.3,693.9 497.6,694.4 499,694.6 500.3,695.4 501.6,695.3 502.9,695 504.2,693.8 505.5,692.5 506.9,692 508.2,692.4 509.5,693.2 510.8,693.1 512.1,692.3 513.4,691.3 514.7,690.3 516.1,689.2 517.4,688.4 518.7,688 520,687.4 521.3,686.9 522.6,686.1 524,685 525.3,683.1 526.6,681 527.9,679.2 529.2,678.8 530.5,679.3 531.8,680.4 533.2,682 534.5,684.1 535.8,686.5 537.1,689.8 538.4,692.6 539.7,695.2 541.1,697.3 542.4,698.2 543.7,698.6 545,699 546.3,699.4 547.6,699.4 548.9,698.7 550.3,698.5 551.6,699.3 552.9,701 554.2,702.5 555.5,702.6 556.8,701.5 558.2,701 559.5,700.5 560.8,700.1 562.1,698.5 563.4,696.7 564.7,694.8 566,693.3 567.4,691.1 568.7,688.5 570,685.7 571.3,684.1 572.6,683 573.9,681.7 575.3,679.8 576.6,677.9 577.9,676.8 579.2,676.7 580.5,677 581.8,677.2 583.2,676.9 584.5,676.8 585.8,677 587.1,677.3 588.4,677.3 589.7,676.9 591,675.6 592.4,674 593.7,671.5 595,668.8 596.3,667.5 597.6,668.1 598.9,669.7 600.3,671.3 601.6,673.4 602.9,675.5 604.2,677.6 605.5,679.7 606.8,681.6 608.1,682.8 609.5,683.6 610.8,684 612.1,685 613.4,686 614.7,686.7 616,687 617.4,686.3 618.7,685.3 620,683.8 621.3,683.1 622.6,682.9 623.9,683.8 625.2,684.5 626.6,685.1 627.9,685.5 629.2,686.9 630.5,688.4 631.8,689.6 633.1,689.8 634.5,689.6 635.8,689 637.1,687.8 638.4,686.7 639.7,685.8 641,685.9 642.3,686.4 643.7,686.9 645,687.7 646.3,688.6 647.6,689.9 648.9,691.3 650.2,692.3 651.6,692.3 652.9,691.6 654.2,690.9 655.5,690.7 656.8,690.1 658.1,689.4 659.4,688.2 660.8,687.9 662.1,688.2 663.4,688.2 664.7,687.5 666,686.4 667.3,686.2 668.7,686.6 670,687.1 671.3,687.1 672.6,687.4 673.9,686.8 675.2,685.7 676.6,683.8 677.9,681.9 679.2,679 680.5,677.1 681.8,676.5 683.1,676.9 684.4,677.6 685.8,678.3 687.1,679.9 688.4,681.9 689.7,684 691,685.3 692.3,685.4 693.7,685.2 695,684.9 696.3,685.3 697.6,685.5 698.9,685.4 700.2,685 701.5,685.4 702.9,686.5 704.2,688.5 705.5,689.9 706.8,691.3 708.1,692.2 709.4,693.4 710.8,694.6 712.1,695.7 713.4,697.3 714.7,698.3 716,699.2 717.3,698.9 718.6,698.6 720,697.1 721.3,696 722.6,693.8 723.9,691.6 725.2,688.3 726.5,685.4 727.9,682.1 729.2,679.4 730.5,676.4 731.8,674.6 733.1,673.5 734.4,673.1 735.7,672.9 737.1,672.8 738.4,672.6 739.7,672.7 741,672.4 742.3,671.3 743.6,669.5 745,667.2 746.3,665.7 747.6,664.7 748.9,663.3 750.2,661.7 751.5,660.9 752.9,661.2 754.2,662 755.5,663.3 756.8,665 758.1,666.9 759.4,668.5 760.7,670.5 762.1,672.5 763.4,674 764.7,674.9 766,675.5 767.3,675.2 768.6,674 770,671.5 771.3,668.9 772.6,667.8 773.9,667.6 775.2,667.4 776.5,666.7 777.8,666.6 779.2,666.5 780.5,666.3 781.8,666.4 783.1,667.2 784.4,668.6 785.7,669.6 787.1,670.2 788.4,670.8 789.7,672 791,673.4 792.3,674.3 793.6,674.3 794.9,673.9 796.3,673.5 797.6,673.7 798.9,674.2 800.2,674.6 801.5,674.4 802.8,674.8 804.2,674.9 805.5,675.4 806.8,675.7 808.1,676.7 809.4,677.5 810.7,677.9 812,678.1 813.4,678.5 814.7,678.5 816,678 817.3,677.5 818.6,677.2 819.9,676.8 821.3,677.4 822.6,679.8 823.9,683.4 825.2,686.7 826.5,689.8 827.8,692.7 829.1,694.1 830.5,694.8 831.8,694.3 833.1,694.1 834.4,693.8 835.7,693.6 837,692.7 838.4,690.6 839.7,687.6 841,683.8 842.3,679.2 843.6,674.1 844.9,668.7 846.3,664.6 847.6,663.4 848.9,663.9 850.2,665.5 851.5,667.5 852.8,669.5 854.1,670.4 855.5,670.8 856.8,670.2 858.1,670 859.4,669.3 860.7,668.7 862,667.9 863.4,667.1 864.7,666 866,664.9 867.3,663.3 868.6,662.4 869.9,662 871.2,662.8 872.6,663.6 873.9,665.6 875.2,668.4 876.5,671.6 877.8,673.1 879.1,673.2 880.5,672.7 881.8,671.4 883.1,669.9 884.4,667.9 885.7,665.9 887,664.6 888.3,663.8 889.7,663.4 891,663.5 892.3,663.9 893.6,664.5 894.9,665.1 896.2,665.6 897.6,666.7 898.9,667.5 900.2,669.3 901.5,671.3 902.8,673.2 904.1,674.8 905.4,675.7 906.8,676.2 908.1,676.6 909.4,676.5 910.7,676.6 912,676.7 913.3,677.1 914.7,677.5 916,677.8 917.3,678.5 918.6,679.5 919.9,681.6 921.2,684.2 922.5,687 923.9,689.3 925.2,691.1 926.5,692.9 927.8,694 929.1,694.1 930.4,693.8 931.8,693.7 933.1,693.8 934.4,693.9 935.7,693.2 937,692.1 938.3,690.2 939.7,688.5 941,686.9 942.3,685.8 943.6,685.2 944.9,685.7 946.2,687.1 947.5,688.5 948.9,689.3 950.2,689.8 951.5,690.5 952.8,691.7 954.1,692.8 955.4,694.2 956.8,695.7 958.1,697.1 959.4,698.1 960.7,698.8 962,699.8 963.3,701.4 964.6,702.8 966,703.5 967.3,703.4 968.6,703.2 969.9,702.9 971.2,702.3 972.5,701.5 973.9,700.5 975.2,700.3 976.5,700.6 977.8,701.5 979.1,701.7 980.4,701.5 981.7,700.9 983.1,701.1 984.4,701.7 985.7,702.6 987,703.4 988.3,703.6 989.6,703.8 991,704.4 992.3,705.3 993.6,706.6 994.9,707.9 996.2,707.8 997.5,705.8 998.8,702 1000.2,697 1001.5,692.6 1002.8,689.3 1004.1,686.6 1005.4,684.8 1006.7,682.8 1008.1,680.7 1009.4,678.2 1010.7,675.7 1012,673.9 1013.3,672.4 1014.6,671.4 1015.9,671 1017.3,670.7 1018.6,670.5 1019.9,669.7 1021.2,669.1 1022.5,668.7 1023.8,668.7 1025.2,668.9 1026.5,669 1027.8,669 1029.1,668.7 1030.4,668.2 1031.7,667.3 1033.1,666.8 1034.4,666.2 1035.7,665.8 1037,664.5 1038.3,663.1 1039.6,661.5 1040.9,660.9 1042.3,660.6 1043.6,660.6 1044.9,660.8 1046.2,661.1 1047.5,661.9 1048.8,662.8 1050.2,664.6 1051.5,667 1052.8,670.3 1054.1,673.6 1055.4,676.1 1056.7,678.1 1058,680.1 1059.4,682.9 1060.7,685.3 1062,687.9 1063.3,689.4 1064.6,691.3 1065.9,693 1067.3,693.9 1068.6,694.3 1069.9,694.2 1071.2,694.8 1072.5,695.7 1073.8,696.8 1075.1,697.3 1076.5,697.3 1077.8,697.3 1079.1,697.4 1080.4,697.8 1081.7,697.9 1083,697.8 1084.4,696 1085.7,693.9 1087,691.7 1088.3,689.7 1089.6,687.1 1090.9,684.5 1092.2,681.9 1093.6,679.9 1094.9,679.2 1096.2,679.2 1097.5,680 1098.8,680.5 1100.1,681.7 1101.5,682.9 1102.8,685.1 1104.1,686.2 1105.4,688 1106.7,689 1108,690.2 1109.4,690.9 1110.7,691.5 1112,692.5 1113.3,693.4 1114.6,694.6 1115.9,695.6 1117.2,696.7 1118.6,697.9 1119.9,698.2 1121.2,698.2 1122.5,697.8 1123.8,698 1125.1,698.2 1126.5,699.2 1127.8,699.3 1129.1,698.7 1130.4,697.2 1131.7,695.4 1133,693.8 1134.3,692.8 1135.7,692.6 1137,692.2 1138.3,692.4 1139.6,692.7 1140.9,693.3 1142.2,694.2 1143.6,695.3 1144.9,696.3 1146.2,697.1 1147.5,697.9 1148.8,698.8 1150.1,700.2 1151.4,701 1152.8,702.6 1154.1,702.6 1155.4,702.5 1156.7,701.6 1158,700.2 1159.3,697.3 1160.7,694.1 1162,691 1163.3,688.2 1164.6,685.5 1165.9,682.8 1167.2,681.4 1168.5,680.1 1169.9,680 1171.2,680.3 1172.5,681 1173.8,682.1 1175.1,683 1176.4,684 1177.8,685 1179.1,686.2 1180.4,688.1 1181.7,689.6 1183,691.3 1184.3,692.8 1185.6,694.7 1187,694.9 1188.3,693.4 1189.6,691 1190.9,688.2 1192.2,685.8 1193.5,683 1194.9,680 1196.2,676.6 1197.5,674.3 1198.8,673.1 1200.1,672.8 1201.4,672.9 1202.8,673.3 1204.1,674.5 1205.4,675.8 1206.7,677.4 1208,678.9 1209.3,680.4 1210.6,682.2 1212,683.9 1213.3,685.4 1214.6,686 1215.9,685.7 1217.2,685.5 1218.5,684.6 1219.9,683.9 1221.2,682.3 1222.5,681.1 1223.8,679.4 1225.1,677.3 1226.4,674.9 1227.7,672.7 1229.1,670.7 1230.4,669.9 1231.7,669.7 1233,670.7 1234.3,672.5 1235.6,674.6 1237,677.3 1238.3,679.6 1239.6,682.4 1240.9,684.2 1242.2,686.8 1243.5,688.5 1244.8,690.7 1246.2,692.5 1247.5,694.8 1248.8,696.5 1250.1,698 1251.4,699.2 1252.7,700.5 1254.1,701.7 1255.4,702.4 1256.7,702.9 1258,702.4 1259.3,701 1260.6,699.4 1261.9,698.4 1263.3,698.3 1264.6,698.3 1265.9,698.2 1267.2,697.7 1268.5,697 1269.8,696.5 1271.2,696.3 1272.5,696 1273.8,695.7 1275.1,695.6 1276.4,696.9 1277.7,698.4 1279,700.5 1280.4,701.4 1281.7,702 1283,702 1284.3,702.1 1285.6,701.5 1286.9,700.5 1288.3,698.6 1289.6,697.3 1290.9,695.6 1292.2,694 1293.5,692.6 1294.8,691.6 1296.2,690.9 1297.5,689.4 1298.8,688.5 1300.1,688 1301.4,688.2 1302.7,687.7 1304,687.1 1305.4,686.2 1306.7,685.1 1308,683.8 1309.3,682.8 1310.6,682.3 1311.9,682.6 1313.3,683 1314.6,683.5 1315.9,683.5 1317.2,683 1318.5,682.4 1319.8,681.9 1321.1,681.6 1322.5,680.5 1323.8,678.5 1325.1,676.7 1326.4,674.9 1327.7,674.5 1329,674.9 1330.4,676.4 1331.7,678.2 1333,679.5 1334.3,681 1335.6,683.5 1336.9,686.1 1338.2,689 1339.6,691.5 1340.9,694.6 1342.2,695.6 1343.5,695.1 1344.8,693.1 1346.1,691.6 1347.5,690 1348.8,688.5 1350.1,686 1351.4,683 1352.7,679.5 1354,676.7 1355.3,673.6 1356.7,671 1358,667.5 1359.3,664 1360.6,661.2 1361.9,658.7 1363.2,656.7 1364.6,655.4 1365.9,656 1367.2,657.6 1368.5,659.8 1369.8,662.7 1371.1,665.7 1372.5,668.8 1373.8,672 1375.1,674 1376.4,674.6 1377.7,673.6 1379,671.6 1380.3,670 1381.7,669.9 1383,670.4 1384.3,670.9 1385.6,671.3 1386.9,671.6 1388.2,673.1 1389.6,675.1 1390.9,677.8 1392.2,680 1393.5,681.6 1394.8,682.8 1396.1,683.2 1397.4,684 1398.8,684.2 1400.1,684.8 1401.4,685.4 1402.7,686 1404,686.1 1405.3,686 1406.7,685.5 1408,685.3 1409.3,685.4 1410.6,685.6 1411.9,686.2 1413.2,686.4 1414.5,686.7 1415.9,687.3 1417.2,688.7 1418.5,690.3 1419.8,690.8 1421.1,689.6 1422.4,687.8 1423.8,686 1425.1,683.8 1426.4,682 1427.7,681.2 1429,682 1430.3,683.6 1431.6,685.7 1433,687.2 1434.3,688.9 1435.6,689.7 1436.9,690.5 1438.2,690.3 1439.5,690.5 1440.9,689.9 1442.2,689.9 1443.5,689.3 1444.8,689.4 1446.1,688.7 1447.4,687.8 1448.7,686.8 1450.1,685.9 1451.4,686.2 1452.7,686.3 1454,686.6 1455.3,686.8 1456.6,687.6 1458,689.1 1459.3,690.6 1460.6,691.4 1461.9,692.5 1463.2,693.6 1464.5,695.3 1465.9,695.8 1467.2,695.8 1468.5,695.1 1469.8,695.1 1471.1,694.8 1472.4,694.5 1473.7,693.3 1475.1,692.6 1476.4,691.5 1477.7,690.6 1479,689.7 1480.3,688.9 1481.6,687.8 1483,686.4 1484.3,684.9 1485.6,684 1486.9,683.5 1488.2,683.3 1489.5,682.6 1490.8,681.8 1492.2,681.1 1493.5,681.5 1494.8,682.5 1496.1,683.5 1497.4,683.6 1498.7,683 1500.1,682 1501.4,680.9 1502.7,679.8 1504,679.7 1505.3,679.8 1506.6,679.8 1507.9,679.8 1509.3,679.9 1510.6,677.9 1511.9,673 1513.2,667.2 1514.5,664 1515.8,662.8 1517.2,662.7 1518.5,663.7 1519.8,664 1521.1,663.3 1522.4,661.5 1523.7,659.9 1525,659.1 1526.4,658.9 1527.7,658.9 1529,659.2 1530.3,660.4 1531.6,660.8 1532.9,661.8 1534.3,663.1 1535.6,664.7 1536.9,666.4 1538.2,667.4 1539.5,668.9 1540.8,670.3 1542.1,672.1 1543.5,673 1544.8,673.2 1546.1,673.3 1547.4,673.8 1548.7,674.5 1550,675.8 1551.4,677.8 1552.7,679.4 1554,680.1 1555.3,680.8 1556.6,681.7 1557.9,681.3 1559.3,680.1 1560.6,678 1561.9,675.5 1563.2,672.6 1564.5,670.1 1565.8,667.6 1567.1,666.1 1568.5,665.9 1569.8,667.4 1571.1,669.5 1572.4,671.8 1573.7,674.1 1575,676.1 1576.4,678.1 1577.7,680.1 1579,682.6 1580.3,684.5 1581.6,685.7 1582.9,686.2 1584.2,686.5 1585.6,686.5 1586.9,686.3 1588.2,685.7 1589.5,685 1590.8,684.5 1592.1,684.2 1593.5,684.3 1594.8,685 1596.1,686.9 1597.4,688.8 1598.7,690.1 1600,690.5 1601.3,691.1 1602.7,692.2 1604,693.5 1605.3,694.9 1606.6,695.6 1607.9,695.8 1609.2,695.2 1610.6,694.1 1611.9,692.6 1613.2,690.8 1614.5,688.4 1615.8,686 1617.1,683.2 1618.4,681 1619.8,679.2 1621.1,677.3 1622.4,675.7 1623.7,675 1625,675.3 1626.3,676.4 1627.7,676.6 1629,675.9 1630.3,674.1 1631.6,671.9 1632.9,670.7 1634.2,670.6 1635.6,670.3 1636.9,670.3 1638.2,669.2 1639.5,668.6 1640.8,667.4 1642.1,661.2" fill="none" stroke="#f23645" stroke-width="1"/>
<polyline points="95.1,672.4 96.4,671.9 97.7,671.2 99,672.4 100.4,673 101.7,676.8 103,680.9 104.3,685.7 105.6,686.6 106.9,687.7 108.3,691.7 109.6,694.2 110.9,696.5 112.2,696.4 113.5,695.3 114.8,693.3 116.1,693.6 117.5,694.1 118.8,696.1 120.1,694.7 121.4,696.6 122.7,693.4 124,693.4 125.4,693.8 126.7,695 128,698.1 129.3,697.8 130.6,699.4 131.9,697.5 133.2,696.1 134.6,695.5 135.9,693.9 137.2,694.2 138.5,691.1 139.8,687.9 141.1,686.1 142.5,685.6 143.8,685.1 145.1,684 146.4,684.3 147.7,684 149,683.8 150.4,682.4 151.7,685.1 153,685.5 154.3,688.9 155.6,687.8 156.9,689 158.2,688.5 159.6,688.9 160.9,685.9 162.2,681.3 163.5,680.5 164.8,679.2 166.1,679.6 167.5,678.3 168.8,681 170.1,682 171.4,685.2 172.7,687.7 174,688.6 175.3,688.9 176.7,690.4 178,691.1 179.3,692.6 180.6,691.8 181.9,691.7 183.2,689.1 184.6,687.6 185.9,686.4 187.2,686.7 188.5,687.6 189.8,690.2 191.1,687.3 192.4,683.7 193.8,682.6 195.1,682.1 196.4,683.3 197.7,681.6 199,679.7 200.3,677.8 201.7,678 203,678.7 204.3,680.6 205.6,678 206.9,679.1 208.2,678.5 209.5,679 210.9,677.1 212.2,678.7 213.5,681.1 214.8,681.2 216.1,679.5 217.4,678.3 218.8,679.4 220.1,680.6 221.4,684.1 222.7,683.7 224,684.6 225.3,683.8 226.6,686.4 228,686.6 229.3,687.5 230.6,687.1 231.9,686.6 233.2,687.6 234.5,687 235.9,689.3 237.2,689.4 238.5,689.2 239.8,689.4 241.1,684.9 242.4,681.1 243.8,677.2 245.1,670.1 246.4,671.3 247.7,675.6 249,681.2 250.3,686.7 251.6,688.4 253,689.4 254.3,687.4 255.6,688.2 256.9,688.1 258.2,688.8 259.5,689.6 260.9,688.1 262.2,688.4 263.5,689.2 264.8,691.9 266.1,690.4 267.4,687.6 268.7,682.8 270.1,684 271.4,681.2 272.7,679 274,674.4 275.3,669.9 276.6,670.8 278,672.1 279.3,675 280.6,677.3 281.9,677.5 283.2,676.8 284.5,675.6 285.8,673.7 287.2,671.4 288.5,672.6 289.8,675.6 291.1,678.5 292.4,675.5 293.7,673.8 295.1,671 296.4,671.3 297.7,671.8 299,674.5 300.3,673 301.6,674.2 302.9,675.3 304.3,680.1 305.6,679.6 306.9,680 308.2,682.1 309.5,684.1 310.8,684.9 312.2,673.8 313.5,663.7 314.8,655.9 316.1,657.4 317.4,660.3 318.7,656.1 320.1,648.4 321.4,645.8 322.7,650.2 324,653.4 325.3,657.7 326.6,660.8 327.9,664.6 329.3,666.5 330.6,666.8 331.9,661.8 333.2,659.2 334.5,652.5 335.8,652.5 337.2,653.4 338.5,654.7 339.8,651.2 341.1,645.9 342.4,641.4 343.7,642.1 345,639.3 346.4,641.4 347.7,646.2 349,654.4 350.3,659.3 351.6,667.1 352.9,668.8 354.3,669.1 355.6,668.7 356.9,669.4 358.2,667.9 359.5,668.6 360.8,667.5 362.1,666.5 363.5,666.9 364.8,667.5 366.1,672.1 367.4,672.7 368.7,675.4 370,675.6 371.4,680.1 372.7,681.3 374,684.6 375.3,685 376.6,688 377.9,688.9 379.2,688.9 380.6,690.3 381.9,687.9 383.2,689.8 384.5,687.1 385.8,688.5 387.1,684.7 388.5,681.6 389.8,681.7 391.1,683.7 392.4,685 393.7,686.1 395,688.4 396.3,692.5 397.7,697.9 399,701.3 400.3,702.8 401.6,701.9 402.9,702.7 404.2,702.2 405.6,705.2 406.9,706.4 408.2,707.7 409.5,706 410.8,707.1 412.1,708 413.5,707.5 414.8,701.2 416.1,695.2 417.4,693.2 418.7,691.7 420,688.7 421.3,687.8 422.7,685.2 424,684.1 425.3,683.4 426.6,681.9 427.9,684.6 429.2,687.7 430.6,689.6 431.9,691.2 433.2,694 434.5,697.3 435.8,695.5 437.1,694.2 438.4,692.6 439.8,694.2 441.1,692.9 442.4,693.6 443.7,692.8 445,694.8 446.3,696.5 447.7,697.8 449,697.4 450.3,695.5 451.6,693.9 452.9,692.7 454.2,690.9 455.5,688.1 456.9,685.5 458.2,684.9 459.5,686 460.8,681.2 462.1,677.4 463.4,671.8 464.8,672.8 466.1,675 467.4,676 468.7,675 470,675.3 471.3,678 472.6,678.9 474,679.4 475.3,679.1 476.6,678.8 477.9,678.6 479.2,681.1 480.5,682.8 481.9,687.2 483.2,687.8 484.5,688.8 485.8,689.3 487.1,691 488.4,693.9 489.8,693.1 491.1,694.1 492.4,693.9 493.7,695.8 495,695.3 496.3,695.7 497.6,695.7 499,695.3 500.3,697.8 501.6,695.2 502.9,693.8 504.2,690.3 505.5,688.6 506.9,690.6 508.2,693.5 509.5,695.6 510.8,692.8 512.1,689.8 513.4,688.4 514.7,687.5 516.1,685.8 517.4,686.1 518.7,686.7 520,685.6 521.3,685.3 522.6,683.7 524,681.8 525.3,677.3 526.6,674.8 527.9,673.8 529.2,677.6 530.5,680.9 531.8,683.8 533.2,686.6 534.5,690.3 535.8,694 537.1,699.4 538.4,701.1 539.7,703 541.1,703.5 542.4,701 543.7,699.9 545,700 546.3,700.7 547.6,699.4 548.9,696.6 550.3,697.8 551.6,701.9 552.9,706.1 554.2,706.8 555.5,703.1 556.8,698.3 558.2,699.5 559.5,699.1 560.8,698.6 562.1,693.8 563.4,691.5 564.7,689 566,688.6 567.4,684.5 568.7,680.9 570,677.2 571.3,679.4 572.6,679.8 573.9,677.7 575.3,674.3 576.6,672.3 577.9,673.2 579.2,676.6 580.5,677.9 581.8,678 583.2,675.8 584.5,676.4 585.8,677.8 587.1,678 588.4,677.5 589.7,675.6 591,671.8 592.4,669.3 593.7,663.8 595,660.9 596.3,663.5 597.6,670 598.9,674.4 600.3,676.1 601.6,679.6 602.9,681.7 604.2,684.2 605.5,685.8 606.8,687.2 608.1,686.6 609.5,685.9 610.8,685.2 612.1,688 613.4,688.8 614.7,689 616,687.7 617.4,684.2 618.7,682.5 620,679.3 621.3,681.1 622.6,682.2 623.9,686.5 625.2,686.6 626.6,687 627.9,686.5 629.2,691.1 630.5,693.1 631.8,693.1 633.1,690.5 634.5,689.1 635.8,687.1 637.1,684.1 638.4,683.4 639.7,683.2 641,686.4 642.3,687.7 643.7,688.4 645,690.2 646.3,691.1 647.6,694 648.9,695.3 650.2,695.2 651.6,692.3 652.9,689.7 654.2,688.8 655.5,690.1 656.8,688.3 658.1,687.2 659.4,684.8 660.8,686.9 662.1,689 663.4,688.1 664.7,685.5 666,683.1 667.3,685.6 668.7,687.9 670,688.6 671.3,687.3 672.6,688.3 673.9,684.9 675.2,682.4 676.6,678 677.9,676.1 679.2,670.2 680.5,671.5 681.8,674.8 683.1,678 684.4,679.7 685.8,680.6 687.1,684.4 688.4,688 689.7,690.5 691,689.1 692.3,685.5 693.7,684.7 695,684.2 696.3,686.3 697.6,686.1 698.9,685.3 700.2,683.6 701.5,686.6 702.9,690 704.2,694.3 705.5,694.1 706.8,695.6 708.1,695 709.4,697 710.8,698.4 712.1,699 713.4,702.1 714.7,701.1 716,702.1 717.3,697.8 718.6,697.7 720,692.8 721.3,692.6 722.6,687.1 723.9,684.9 725.2,678.6 726.5,676.6 727.9,672.2 729.2,671.2 730.5,667.6 731.8,668.9 733.1,670.1 734.4,672.1 735.7,672.5 737.1,672.5 738.4,671.7 739.7,673.1 741,671.7 742.3,668 743.6,663.9 745,660.4 746.3,661.2 747.6,661.9 748.9,659.1 750.2,656.9 751.5,658.2 752.9,662.2 754.2,664.5 755.5,667.3 756.8,669.8 758.1,672.9 759.4,673.4 760.7,676.5 762.1,678.4 763.4,678.4 764.7,677.7 766,677.4 767.3,674.1 768.6,670.4 770,664 771.3,661.2 772.6,664.6 773.9,666.9 775.2,666.7 776.5,664.8 777.8,666.2 779.2,666.1 780.5,665.9 781.8,666.7 783.1,669.4 784.4,672.9 785.7,672.7 787.1,671.8 788.4,672.8 789.7,675.4 791,677.8 792.3,676.7 793.6,674.6 794.9,672.7 796.3,672.2 797.6,674.2 798.9,675.6 800.2,675.9 801.5,673.7 802.8,676 804.2,675.3 805.5,676.8 806.8,676.6 808.1,679.7 809.4,680 810.7,678.9 812,678.8 813.4,679.6 814.7,678.6 816,676.4 817.3,676.2 818.6,676 819.9,675.8 821.3,679.1 822.6,686.9 823.9,694.4 825.2,696.5 826.5,699.1 827.8,701.4 829.1,698.5 830.5,696.9 831.8,692.7 833.1,693.6 834.4,692.7 835.7,693.3 837,689.7 838.4,684.3 839.7,678.9 841,672.3 842.3,665.6 843.6,658.8 844.9,652.4 846.3,652.2 847.6,659.7 848.9,665.3 850.2,670.6 851.5,673.5 852.8,675.5 854.1,672.9 855.5,672 856.8,668.7 858.1,669.1 859.4,667.2 860.7,666.9 862,665.5 863.4,664.8 864.7,662.5 866,661.7 867.3,658.6 868.6,659.7 869.9,660.6 871.2,665.4 872.6,665.8 873.9,671.9 875.2,676.9 876.5,681 877.8,677.5 879.1,673.4 880.5,671.3 881.8,667.7 883.1,665.1 884.4,661.9 885.7,660.1 887,660.8 888.3,661.4 889.7,662.2 891,663.8 892.3,665.1 893.6,666.1 894.9,666.9 896.2,667.1 897.6,669.9 898.9,670.1 900.2,674.6 901.5,677.4 902.8,678.8 904.1,679.6 905.4,678.3 906.8,677.8 908.1,677.7 909.4,676.3 910.7,676.8 912,677.3 913.3,678.1 914.7,678.8 916,678.7 917.3,680.7 918.6,682.4 919.9,687.8 921.2,692.1 922.5,695.1 923.9,696.5 925.2,696.5 926.5,698.1 927.8,697.5 929.1,694.5 930.4,692.7 931.8,693.5 933.1,694.1 934.4,694.3 935.7,691 937,688.8 938.3,684.5 939.7,683.3 941,682.2 942.3,682.5 943.6,683.3 944.9,687.2 946.2,691.2 947.5,693 948.9,691.4 950.2,691.6 951.5,692.5 952.8,695.4 954.1,695.9 955.4,698.3 956.8,700.2 958.1,701.5 959.4,701.1 960.7,700.9 962,702.8 963.3,706.1 964.6,707 966,705.7 967.3,703.3 968.6,702.4 969.9,702 971.2,700.6 972.5,699.1 973.9,697.4 975.2,699.7 976.5,701.7 977.8,704.2 979.1,702.1 980.4,701 981.7,698.9 983.1,701.8 984.4,703.6 985.7,705 987,706 988.3,704 989.6,704.6 991,706.3 992.3,707.8 993.6,710.7 994.9,711.6 996.2,707.8 997.5,699.7 998.8,690.5 1000.2,682.1 1001.5,679.4 1002.8,679.4 1004.1,678.5 1005.4,679.5 1006.7,676.8 1008.1,674.3 1009.4,670.8 1010.7,667.9 1012,668.5 1013.3,668 1014.6,668.5 1015.9,669.9 1017.3,669.7 1018.6,670 1019.9,667.3 1021.2,667.4 1022.5,667.3 1023.8,668.8 1025.2,669.6 1026.5,669.2 1027.8,669.2 1029.1,667.6 1030.4,666.9 1031.7,664.4 1033.1,665.5 1034.4,664.1 1035.7,664.5 1037,660.9 1038.3,658.8 1039.6,656.6 1040.9,659.2 1042.3,659.6 1043.6,660.6 1044.9,661.4 1046.2,661.9 1047.5,664.3 1048.8,665.5 1050.2,669.8 1051.5,674.4 1052.8,680 1054.1,683.6 1055.4,683.5 1056.7,684.4 1058,685.9 1059.4,691.3 1060.7,692.5 1062,695.6 1063.3,694.1 1064.6,696.9 1065.9,698.1 1067.3,696.6 1068.6,695.7 1069.9,693.7 1071.2,696.8 1072.5,698.2 1073.8,700.1 1075.1,699.1 1076.5,697.3 1077.8,697.1 1079.1,697.8 1080.4,699 1081.7,698.2 1083,697.4 1084.4,690.9 1085.7,687.4 1087,685.3 1088.3,683.8 1089.6,679 1090.9,676.9 1092.2,673.9 1093.6,673.9 1094.9,677 1096.2,679.5 1097.5,682.5 1098.8,681.9 1100.1,685.3 1101.5,686.6 1102.8,691.5 1104.1,689.7 1105.4,693.3 1106.7,691.8 1108,694.1 1109.4,693.1 1110.7,693 1112,695.6 1113.3,696.3 1114.6,698.2 1115.9,698.6 1117.2,699.8 1118.6,701.6 1119.9,699.1 1121.2,698.3 1122.5,696.4 1123.8,698.6 1125.1,699 1126.5,702.3 1127.8,699.3 1129.1,697.1 1130.4,692.5 1131.7,690.3 1133,688.9 1134.3,689.7 1135.7,692 1137,691 1138.3,692.8 1139.6,693.6 1140.9,695.2 1142.2,697 1143.6,698.7 1144.9,699.4 1146.2,699.2 1147.5,700.3 1148.8,701.7 1150.1,704.4 1151.4,703.5 1152.8,707.2 1154.1,702.8 1155.4,702.1 1156.7,699 1158,695.7 1159.3,688.7 1160.7,684.4 1162,681.8 1163.3,679.7 1164.6,677.6 1165.9,674.5 1167.2,677.3 1168.5,676.4 1169.9,679.5 1171.2,681.3 1172.5,682.9 1173.8,685.4 1175.1,685.8 1176.4,687.2 1177.8,687.8 1179.1,689.8 1180.4,693.9 1181.7,694.2 1183,696.2 1184.3,697.3 1185.6,700.5 1187,695.3 1188.3,689.1 1189.6,683.7 1190.9,679.8 1192.2,678.7 1193.5,674.3 1194.9,671.3 1196.2,666.2 1197.5,667.6 1198.8,669.4 1200.1,671.8 1201.4,673.2 1202.8,674.6 1204.1,678.2 1205.4,679.5 1206.7,682.1 1208,683.5 1209.3,684.8 1210.6,687.8 1212,688.8 1213.3,690.1 1214.6,687.5 1215.9,685 1217.2,684.8 1218.5,682.1 1219.9,681.6 1221.2,677.7 1222.5,677.5 1223.8,674.2 1225.1,671 1226.4,667.6 1227.7,666.1 1229.1,664.9 1230.4,667.2 1231.7,669.3 1233,673.6 1234.3,678.1 1235.6,680.8 1237,685.6 1238.3,686.4 1239.6,691 1240.9,689.6 1242.2,694.5 1243.5,693.6 1244.8,697.2 1246.2,697.8 1247.5,701.7 1248.8,701.6 1250.1,702.5 1251.4,702.6 1252.7,704.7 1254.1,705.1 1255.4,704.5 1256.7,704.3 1258,701 1259.3,696.9 1260.6,694.4 1261.9,695.6 1263.3,697.8 1264.6,698.5 1265.9,698.1 1267.2,696.1 1268.5,695 1269.8,694.9 1271.2,695.5 1272.5,695.4 1273.8,694.9 1275.1,695.4 1276.4,700.6 1277.7,703 1279,706.7 1280.4,704.3 1281.7,703.7 1283,701.8 1284.3,702.5 1285.6,699.8 1286.9,697.4 1288.3,693.1 1289.6,693.1 1290.9,690.5 1292.2,689.3 1293.5,688.3 1294.8,688.5 1296.2,688.8 1297.5,685.1 1298.8,685.8 1300.1,686.4 1301.4,688.8 1302.7,686.3 1304,685.2 1305.4,683.5 1306.7,682 1308,679.9 1309.3,679.9 1310.6,680.7 1311.9,683.7 1313.3,684 1314.6,685 1315.9,683.6 1317.2,681.2 1318.5,680.6 1319.8,680.7 1321.1,680.4 1322.5,677.4 1323.8,672.4 1325.1,671.4 1326.4,669.6 1327.7,673.1 1329,676.3 1330.4,680.7 1331.7,683.6 1333,683.5 1334.3,685.3 1335.6,691 1336.9,694 1338.2,697.6 1339.6,698.9 1340.9,704.1 1342.2,698.6 1343.5,693.8 1344.8,687.1 1346.1,686.9 1347.5,685.3 1348.8,684 1350.1,678.6 1351.4,673.8 1352.7,669.1 1354,668.3 1355.3,664.4 1356.7,663.2 1358,656.9 1359.3,653.3 1360.6,652.9 1361.9,651.3 1363.2,650.6 1364.6,651.4 1365.9,658 1367.2,662.2 1368.5,666.5 1369.8,671.4 1371.1,674.9 1372.5,678.1 1373.8,681.5 1375.1,679.8 1376.4,676.7 1377.7,670.6 1379,665.4 1380.3,665.4 1381.7,669.6 1383,672 1384.3,672.5 1385.6,672.2 1386.9,672.5 1388.2,677.9 1389.6,681 1390.9,686 1392.2,686.3 1393.5,686.7 1394.8,686.4 1396.1,684.4 1397.4,686.2 1398.8,685 1400.1,686.7 1401.4,687.1 1402.7,688 1404,686.1 1405.3,685.9 1406.7,684.1 1408,684.6 1409.3,685.9 1410.6,686 1411.9,688 1413.2,686.9 1414.5,687.7 1415.9,689.2 1417.2,692.9 1418.5,695 1419.8,692.3 1421.1,686.2 1422.4,682.4 1423.8,680.6 1425.1,677.2 1426.4,676.4 1427.7,678.8 1429,684.4 1430.3,688.5 1431.6,691.8 1433,691.6 1434.3,694.3 1435.6,692 1436.9,692.8 1438.2,689.8 1439.5,691.1 1440.9,688 1442.2,690 1443.5,687.4 1444.8,689.7 1446.1,686.5 1447.4,685.1 1448.7,683.9 1450.1,683 1451.4,687.1 1452.7,686.8 1454,687.5 1455.3,687.5 1456.6,690 1458,693.4 1459.3,695.1 1460.6,693.9 1461.9,695.9 1463.2,696.9 1464.5,700.3 1465.9,697.3 1467.2,695.9 1468.5,692.9 1469.8,695.2 1471.1,694 1472.4,693.6 1473.7,689.8 1475.1,690.4 1476.4,688.1 1477.7,688 1479,686.9 1480.3,686.6 1481.6,684.5 1483,682.3 1484.3,680.4 1485.6,681.3 1486.9,681.9 1488.2,682.7 1489.5,680.5 1490.8,679.3 1492.2,679 1493.5,682.7 1494.8,685.5 1496.1,686.5 1497.4,683.9 1498.7,681.1 1500.1,678.9 1501.4,677.7 1502.7,676.5 1504,679.4 1505.3,680 1506.6,679.8 1507.9,679.8 1509.3,680.4 1510.6,671.6 1511.9,658.5 1513.2,649.8 1514.5,654.2 1515.8,659.4 1517.2,662.5 1518.5,666.7 1519.8,664.6 1521.1,661.2 1522.4,656.3 1523.7,655 1525,656.9 1526.4,658.1 1527.7,658.9 1529,660.2 1530.3,663.7 1531.6,662.3 1532.9,664.9 1534.3,666.9 1535.6,669.7 1536.9,671.5 1538.2,670.1 1539.5,673.5 1540.8,674.4 1542.1,677.6 1543.5,675.5 1544.8,673.9 1546.1,673.7 1547.4,675.2 1548.7,676.8 1550,679.7 1551.4,683.7 1552.7,684.1 1554,682.3 1555.3,683 1556.6,684.3 1557.9,679.9 1559.3,676.8 1560.6,671.5 1561.9,668 1563.2,663.9 1564.5,662.6 1565.8,660.1 1567.1,661.8 1568.5,665.2 1569.8,671.7 1571.1,676 1572.4,678.5 1573.7,681.2 1575,682.2 1576.4,684 1577.7,686 1579,690 1580.3,690.5 1581.6,689.1 1582.9,687.5 1584.2,687.5 1585.6,686.5 1586.9,685.6 1588.2,684 1589.5,683 1590.8,682.8 1592.1,683.4 1593.5,684.5 1594.8,687.3 1596.1,692.5 1597.4,694.4 1598.7,694.1 1600,691.6 1601.3,692.9 1602.7,695.6 1604,697.4 1605.3,698.9 1606.6,697.8 1607.9,696.4 1609.2,693.4 1610.6,691 1611.9,687.8 1613.2,685.4 1614.5,681.4 1615.8,678.5 1617.1,675 1618.4,674.3 1619.8,673.9 1621.1,671.5 1622.4,670.8 1623.7,673.2 1625,676 1626.3,679.6 1627.7,677.2 1629,673.8 1630.3,668.9 1631.6,665.1 1632.9,667.3 1634.2,670.1 1635.6,669.5 1636.9,670.4 1638.2,666 1639.5,666.6 1640.8,663.9 1642.1,642.5" fill="none" stroke="#2962ff" stroke-width="1"/>
<polyline points="274.4,667 300.8,672" fill="none" stroke="#f23645" stroke-width="1.6"/>
<polyline points="313.3,635.3 346,637" fill="none" stroke="#f23645" stroke-width="1.6"/>
<polyline points="772,662 779,662 802,669.6" fill="none" stroke="#f23645" stroke-width="1.6"/>
<polyline points="849.9,648.6 870,657.9 885.5,659.9 911.3,669.6" fill="none" stroke="#f23645" stroke-width="1.6"/>
<polyline points="1510.7,641.3 1525.4,654.3 1566.8,656.7" fill="none" stroke="#f23645" stroke-width="1.6"/>
<polyline points="1378.3,666.6 1386.4,668.6" fill="none" stroke="#f23645" stroke-width="1.6"/>
<polyline points="1064.8,705.5 1083,704.8" fill="none" stroke="#4caf50" stroke-width="1.6"/>
<polyline points="1150.6,707.3 1182,700" fill="none" stroke="#4caf50" stroke-width="1.6"/>
<polyline points="1278.5,706.3 1292.3,698" fill="none" stroke="#4caf50" stroke-width="1.6"/>
<rect x="0" y="746.5" width="1793" height="55" fill="#f0ebf7"/>
<line x1="0" x2="1793" y1="746.5" y2="746.5" stroke="#787b86" stroke-width="1" stroke-dasharray="4.1,4.15" stroke-dashoffset="2.9"/>
<line x1="0" x2="1793" y1="773.5" y2="773.5" stroke="#787b86" stroke-opacity="0.5" stroke-width="1" stroke-dasharray="4.1,4.15" stroke-dashoffset="2.9"/>
<line x1="0" x2="1793" y1="801.5" y2="801.5" stroke="#787b86" stroke-width="1" stroke-dasharray="4.1,4.15" stroke-dashoffset="2.9"/>
<polyline points="92.6,747.7 93.9,745.9 95.2,747.9 96.5,749.3 97.9,743.9 99.2,749.8 100.5,760.7 101.8,767.2 103.1,773.7 104.4,777.9 105.8,777.7 107.1,782.1 108.4,793.1 109.7,794 111,803.9 112.3,803.4 113.6,795.7 115,794.7 116.3,788.7 117.6,789.1 118.9,784.6 120.2,786.4 121.5,781.2 122.9,781.5 124.2,776.8 125.5,781.7 126.8,777.3 128.1,773.5 129.4,774.3 130.7,786.8 132.1,789.5 133.4,789.6 134.7,785.5 136,785.3 137.3,782.3 138.6,781.3 140,773.1 141.3,768.4 142.6,772 143.9,770.7 145.2,770.5 146.5,771.8 147.9,770 149.2,765.3 150.5,759.7 151.8,758.4 153.1,749.4 154.4,748.6 155.7,751.2 157.1,754 158.4,769.8 159.7,776.1 161,777.1 162.3,771.6 163.6,759.7 165,748.8 166.3,747.8 167.6,751 168.9,749.4 170.2,766.9 171.5,790.3 172.8,812.4 174.2,806.7 175.5,804 176.8,805.1 178.1,806.3 179.4,802.9 180.7,807.1 182.1,809.3 183.4,808.6 184.7,811.3 186,809.4 187.3,804.9 188.6,802 189.9,787.3 191.3,779.5 192.6,775 193.9,770.3 195.2,770.3 196.5,764 197.8,765.9 199.2,764.8 200.5,764.9 201.8,757.2 203.1,756.4 204.4,759.2 205.7,759.9 207,760.4 208.4,765.7 209.7,761.1 211,768.4 212.3,764.8 213.6,767.7 214.9,773.1 216.3,771.3 217.6,778.7 218.9,777.9 220.2,783.7 221.5,782 222.8,778.4 224.1,781 225.5,780.7 226.8,778.6 228.1,772.5 229.4,773.8 230.7,770 232,771.5 233.4,768.9 234.7,768.3 236,768.4 237.3,765.2 238.6,761.7 239.9,750.3 241.3,747.1 242.6,752.1 243.9,768.1 245.2,773.1 246.5,766.1 247.8,771.3 249.1,766.8 250.5,763.9 251.8,770 253.1,771.7 254.4,777 255.7,778.1 257,777.1 258.4,780.6 259.7,782.7 261,783.8 262.3,792 263.6,803.9 264.9,805.1 266.2,789.6 267.6,774.5 268.9,756.8 270.2,752.9 271.5,748.6 272.8,746.1 274.1,740.8 275.5,735.2 276.8,737.7 278.1,740.9 279.4,738.8 280.7,740.9 282,742.3 283.3,741.3 284.7,743.2 286,745.2 287.3,749.3 288.6,749.7 289.9,749.3 291.2,752.5 292.6,751.5 293.9,741.9 295.2,742.9 296.5,740.9 297.8,737.3 299.1,735.3 300.4,737.1 301.8,743.4 303.1,754.3 304.4,759.3 305.7,769.2 307,782.3 308.3,786.6 309.7,794.4 311,795.3 312.3,787.8 313.6,781.1 314.9,773.3 316.2,771 317.6,769.9 318.9,765.5 320.2,764.4 321.5,763.5 322.8,756.4 324.1,757 325.4,752 326.8,756.7 328.1,758.1 329.4,753.2 330.7,755.7 332,757.5 333.3,757.3 334.7,751.9 336,752.1 337.3,749.4 338.6,749 339.9,748.8 341.2,740.9 342.5,741.9 343.9,739.1 345.2,736.4 346.5,735.2 347.8,741.4 349.1,743.3 350.4,751.5 351.8,751.4 353.1,756.8 354.4,753.7 355.7,754.8 357,755.9 358.3,761 359.6,763.1 361,764.6 362.3,766.7 363.6,772.2 364.9,774.9 366.2,780 367.5,777.4 368.9,783 370.2,780.2 371.5,780.9 372.8,778.6 374.1,781.8 375.4,779.9 376.7,789.8 378.1,790.8 379.4,800.1 380.7,799.7 382,799.2 383.3,800 384.6,795.6 386,798.3 387.3,796 388.6,795 389.9,789.9 391.2,789.8 392.5,785.6 393.8,785.9 395.2,785.8 396.5,780.4 397.8,789.8 399.1,796.6 400.4,798.7 401.7,800.5 403.1,803.9 404.4,804.1 405.7,805.1 407,806.4 408.3,803.6 409.6,804.9 411,801.6 412.3,795.7 413.6,793 414.9,792 416.2,792.2 417.5,789.2 418.8,783.7 420.2,780.6 421.5,777.3 422.8,776 424.1,767.8 425.4,769.5 426.7,765.1 428.1,765.5 429.4,771 430.7,769.2 432,775.4 433.3,781.9 434.6,779.2 435.9,783.5 437.3,782.9 438.6,788.1 439.9,788.9 441.2,787.2 442.5,792.4 443.8,799.1 445.2,804.3 446.5,805.6 447.8,805.5 449.1,801.6 450.4,797.3 451.7,798.7 453,801 454.4,790.9 455.7,785.5 457,776.3 458.3,771.1 459.6,762.6 460.9,757.4 462.3,754.4 463.6,752.8 464.9,748.1 466.2,753.9 467.5,752.9 468.8,759.5 470.1,764.9 471.5,762 472.8,768.8 474.1,770.3 475.4,775 476.7,777.4 478,783.7 479.4,783 480.7,790.9 482,788.3 483.3,791.7 484.6,797 485.9,796.2 487.2,798.9 488.6,802.1 489.9,806.5 491.2,809.7 492.5,810.1 493.8,805.1 495.1,803.2 496.5,802.3 497.8,794.2 499.1,788.7 500.4,784.3 501.7,783.9 503,785.2 504.4,783.1 505.7,779.3 507,773.9 508.3,772.8 509.6,769.6 510.9,769.1 512.2,769.3 513.6,762 514.9,765.8 516.2,765.3 517.5,769.8 518.8,772.6 520.1,773.4 521.5,766 522.8,765.4 524.1,754.8 525.4,752.3 526.7,746.8 528,755.9 529.3,762.6 530.7,771.5 532,772.4 533.3,774.3 534.6,780.4 535.9,781.2 537.2,784.7 538.6,782.7 539.9,785.1 541.2,785.2 542.5,789.7 543.8,786.9 545.1,789.6 546.4,792.8 547.8,786.3 549.1,783.2 550.4,778.1 551.7,784.1 553,780.9 554.3,780.7 555.7,778.6 557,780.3 558.3,779.9 559.6,781.7 560.9,788.6 562.2,794.2 563.5,796.9 564.9,791 566.2,795.4 567.5,792.4 568.8,778.6 570.1,772.6 571.4,765.4 572.8,759.2 574.1,764.1 575.4,763.5 576.7,756.2 578,756.6 579.3,758.8 580.7,751.7 582,752.6 583.3,754 584.6,753.6 585.9,762 587.2,766.2 588.5,768.8 589.9,758.2 591.2,756.9 592.5,747 593.8,745.6 595.1,741.8 596.4,750 597.8,755.3 599.1,756.4 600.4,757.6 601.7,757.4 603,761 604.3,761.8 605.6,765.3 607,768.3 608.3,767.4 609.6,767 610.9,776.3 612.2,782.6 613.5,791.5 614.9,788.6 616.2,787.3 617.5,787.6 618.8,785.1 620.1,782.5 621.4,783.4 622.7,781.5 624.1,781.2 625.4,784.2 626.7,783.2 628,782.8 629.3,778.7 630.6,776.6 632,779.2 633.3,777.2 634.6,771.2 635.9,774.6 637.2,769.9 638.5,766.7 639.8,770.8 641.2,767.8 642.5,771 643.8,769 645.1,767.7 646.4,771.6 647.7,775.2 649.1,773.4 650.4,777.9 651.7,776.3 653,780.9 654.3,776.7 655.6,782 656.9,778.9 658.3,780.7 659.6,785.2 660.9,779 662.2,777.2 663.5,781.9 664.8,779.2 666.2,775.9 667.5,774.7 668.8,773.8 670.1,774.8 671.4,775.6 672.7,770.4 674.1,771.6 675.4,772.3 676.7,767.7 678,765.1 679.3,766.5 680.6,766.9 681.9,766.6 683.3,764.1 684.6,765.2 685.9,770.2 687.2,767.6 688.5,764.6 689.8,759.6 691.2,758.6 692.5,761.5 693.8,767.6 695.1,779.7 696.4,786.2 697.7,791 699,785.8 700.4,779 701.7,775.1 703,772 704.3,776.8 705.6,782.4 706.9,789.9 708.3,789.1 709.6,793.7 710.9,800 712.2,798.1 713.5,796.8 714.8,800.5 716.1,800.1 717.5,801.9 718.8,800.5 720.1,796.1 721.4,797.4 722.7,793.6 724,792.2 725.4,792.4 726.7,785.3 728,778.3 729.3,769.3 730.6,761.1 731.9,752.9 733.2,745.9 734.6,743.7 735.9,746.8 737.2,743.1 738.5,745.4 739.8,740.8 741.1,739.2 742.5,741.1 743.8,742.6 745.1,745.5 746.4,748.1 747.7,750.3 749,756.2 750.4,754.7 751.7,761.7 753,761.1 754.3,765 755.6,763.8 756.9,770.3 758.2,767.7 759.6,774.7 760.9,770 762.2,776.5 763.5,775.2 764.8,781.5 766.1,779 767.5,774.4 768.8,767.6 770.1,763.7 771.4,754.8 772.7,752.5 774,754.5 775.3,750.3 776.7,751.9 778,752.3 779.3,753.6 780.6,755.7 781.9,755.6 783.2,760.8 784.6,761.4 785.9,768.8 787.2,775.9 788.5,779 789.8,785 791.1,791.3 792.4,791.7 793.8,788.1 795.1,791 796.4,788 797.7,785.8 799,778.1 800.3,775.2 801.7,765.5 803,763.4 804.3,764.5 805.6,761.7 806.9,767.5 808.2,761.9 809.5,763 810.9,768.6 812.2,766.1 813.5,759 814.8,758.6 816.1,758.1 817.4,754.4 818.8,762.3 820.1,769.5 821.4,780.3 822.7,780.2 824,789 825.3,786.5 826.6,790.4 828,787.1 829.3,790.9 830.6,788.5 831.9,778.8 833.2,781.6 834.5,777.2 835.9,769.7 837.2,767.3 838.5,761.3 839.8,759.9 841.1,756.4 842.4,750.5 843.8,741.9 845.1,732.7 846.4,733.5 847.7,741.1 849,747 850.3,754.4 851.6,763.2 853,760.1 854.3,757.6 855.6,762.9 856.9,757.8 858.2,758 859.5,756.6 860.9,762 862.2,759.8 863.5,761.3 864.8,761.5 866.1,764.5 867.4,755.2 868.7,744 870.1,741 871.4,745.9 872.7,746.3 874,754.6 875.3,759.2 876.6,769.6 878,780.1 879.3,785.2 880.6,781.4 881.9,781 883.2,787.9 884.5,784.8 885.8,786.7 887.2,786 888.5,781.2 889.8,775.8 891.1,774.3 892.4,765.4 893.7,761.1 895.1,754.6 896.4,746.8 897.7,757.2 899,763 900.3,763.2 901.6,768.3 902.9,778.8 904.3,778.3 905.6,782.9 906.9,779.8 908.2,779.5 909.5,777.4 910.8,778.9 912.2,777.7 913.5,776.6 914.8,781.3 916.1,784.6 917.4,784.2 918.7,783.8 920,787.4 921.4,782.8 922.7,777.5 924,771.8 925.3,764.4 926.6,768.8 927.9,777.7 929.3,777.7 930.6,777.1 931.9,772 933.2,775.2 934.5,773.5 935.8,767.6 937.2,764.7 938.5,763.9 939.8,761.7 941.1,760.5 942.4,764 943.7,766.8 945,770 946.4,770.3 947.7,775.9 949,778.9 950.3,779.1 951.6,784 952.9,788.6 954.3,791.9 955.6,797.2 956.9,804.2 958.2,808.9 959.5,809.2 960.8,809.4 962.1,809.5 963.5,809.3 964.8,807 966.1,803.1 967.4,799.4 968.7,795.1 970,788.7 971.4,788.2 972.7,785.7 974,784.7 975.3,778.6 976.6,780.5 977.9,777.7 979.2,780.9 980.6,782.6 981.9,781.1 983.2,783.2 984.5,786.7 985.8,793.9 987.1,797.2 988.5,797.5 989.8,802.1 991.1,792.9 992.4,796 993.7,798.5 995,804.3 996.3,793 997.7,785.4 999,779.5 1000.3,774.5 1001.6,777.9 1002.9,778.3 1004.2,775.7 1005.6,781.4 1006.9,778.3 1008.2,769.5 1009.5,771.3 1010.8,768.8 1012.1,765.1 1013.4,762.5 1014.8,758.2 1016.1,762.4 1017.4,765.2 1018.7,767.4 1020,767.6 1021.3,768.9 1022.7,766.3 1024,763.3 1025.3,766.2 1026.6,761.4 1027.9,758.8 1029.2,763.9 1030.6,759.6 1031.9,762 1033.2,761.4 1034.5,758 1035.8,754.8 1037.1,749.6 1038.4,748.3 1039.8,744.9 1041.1,746.7 1042.4,743.1 1043.7,743.9 1045,746.1 1046.3,741.4 1047.7,750 1049,752.8 1050.3,758.1 1051.6,762.5 1052.9,763.6 1054.2,772.3 1055.5,774.6 1056.9,776.9 1058.2,779.3 1059.5,784.1 1060.8,787 1062.1,792.9 1063.4,796 1064.8,799.3 1066.1,799.6 1067.4,797.2 1068.7,795.3 1070,791.7 1071.3,790.4 1072.6,786.3 1074,786.9 1075.3,790.8 1076.6,790.4 1077.9,793.5 1079.2,787.7 1080.5,788 1081.9,782.8 1083.2,781.2 1084.5,777.3 1085.8,773.8 1087.1,778.4 1088.4,771.4 1089.7,767.9 1091.1,770.4 1092.4,764.7 1093.7,765 1095,766.9 1096.3,767.8 1097.6,770.1 1099,770.9 1100.3,768.6 1101.6,769.2 1102.9,763.7 1104.2,764.6 1105.5,760.6 1106.9,765.4 1108.2,765.7 1109.5,768.6 1110.8,773.8 1112.1,778.8 1113.4,769.9 1114.7,771.7 1116.1,770.3 1117.4,767.8 1118.7,766.8 1120,774.9 1121.3,775.9 1122.6,787.8 1124,792.5 1125.3,788.6 1126.6,786.8 1127.9,780.4 1129.2,775.8 1130.5,775.2 1131.8,778.8 1133.2,780.5 1134.5,784.1 1135.8,781.6 1137.1,777.4 1138.4,777 1139.7,773.3 1141.1,773.3 1142.4,769.4 1143.7,767.3 1145,764.3 1146.3,775.2 1147.6,780.8 1148.9,789.8 1150.3,796 1151.6,801.8 1152.9,796.6 1154.2,795 1155.5,794.6 1156.8,791.8 1158.2,790.1 1159.5,778.9 1160.8,774.1 1162.1,771.4 1163.4,767.4 1164.7,768.5 1166,762.4 1167.4,759.2 1168.7,758.2 1170,758.2 1171.3,766.4 1172.6,768.8 1173.9,770.6 1175.3,777.9 1176.6,779.1 1177.9,781.7 1179.2,782.9 1180.5,789.4 1181.8,791.3 1183.1,792.1 1184.5,795.4 1185.8,795.4 1187.1,788.7 1188.4,788.5 1189.7,784.2 1191,777.4 1192.4,769.3 1193.7,761.5 1195,757 1196.3,760.8 1197.6,756.2 1198.9,754.6 1200.3,757.4 1201.6,759.3 1202.9,761.7 1204.2,763.6 1205.5,762.2 1206.8,763.7 1208.1,768.3 1209.5,772.9 1210.8,772.6 1212.1,780 1213.4,771.9 1214.7,769.9 1216,769.2 1217.4,769.7 1218.7,769.2 1220,764.7 1221.3,756.8 1222.6,755.2 1223.9,749.1 1225.2,741.2 1226.6,741 1227.9,734.4 1229.2,736.4 1230.5,743.4 1231.8,745.3 1233.1,747.1 1234.5,750.7 1235.8,750.7 1237.1,757.2 1238.4,759.1 1239.7,764.9 1241,774.5 1242.3,780.6 1243.7,790.7 1245,792.3 1246.3,798.2 1247.6,794.9 1248.9,789.5 1250.2,788.4 1251.6,790.7 1252.9,795.5 1254.2,793.6 1255.5,786.3 1256.8,787.4 1258.1,780.6 1259.4,780.1 1260.8,777.4 1262.1,776.3 1263.4,770.4 1264.7,764.9 1266,760.6 1267.3,769.5 1268.7,770.9 1270,767.6 1271.3,762.6 1272.6,759.8 1273.9,765.7 1275.2,767.9 1276.5,780.1 1277.9,785.3 1279.2,789.2 1280.5,786.8 1281.8,785.7 1283.1,781.9 1284.4,781.4 1285.8,787.5 1287.1,786.3 1288.4,793.6 1289.7,792.2 1291,796.7 1292.3,795.8 1293.7,788.5 1295,782.7 1296.3,774.2 1297.6,772.8 1298.9,771.7 1300.2,775.6 1301.5,779.3 1302.9,775.1 1304.2,779 1305.5,776.1 1306.8,768.1 1308.1,770.2 1309.4,766.2 1310.8,759.6 1312.1,756.6 1313.4,760.2 1314.7,763.3 1316,760.6 1317.3,765.2 1318.6,765.6 1320,763.3 1321.3,768.3 1322.6,761.8 1323.9,757.4 1325.2,755.8 1326.5,751.4 1327.9,761.9 1329.2,760.8 1330.5,772.1 1331.8,776.8 1333.1,779.5 1334.4,779.4 1335.7,784 1337.1,779.3 1338.4,783.5 1339.7,786.1 1341,785.9 1342.3,792.8 1343.6,797.1 1345,798 1346.3,791.3 1347.6,789.1 1348.9,788.6 1350.2,785.3 1351.5,776.5 1352.8,767.6 1354.2,767.4 1355.5,759.9 1356.8,749 1358.1,746 1359.4,738.8 1360.7,739.8 1362.1,735.7 1363.4,737.1 1364.7,734.7 1366,740.8 1367.3,748.7 1368.6,752.2 1370,755.6 1371.3,755.3 1372.6,754.7 1373.9,759.7 1375.2,758.2 1376.5,759.6 1377.8,760.2 1379.2,763.1 1380.5,769.1 1381.8,774 1383.1,778.7 1384.4,771.5 1385.7,765.3 1387.1,765.2 1388.4,759.1 1389.7,766.3 1391,763.1 1392.3,766.8 1393.6,772.9 1394.9,772.3 1396.3,781.4 1397.6,782.1 1398.9,781.2 1400.2,777.9 1401.5,775.2 1402.8,773.2 1404.2,781.8 1405.5,787.1 1406.8,788.8 1408.1,785.5 1409.4,778.3 1410.7,773.9 1412,774.9 1413.4,774 1414.7,778 1416,776.7 1417.3,778.6 1418.6,783.8 1419.9,780.7 1421.3,775.4 1422.6,771.2 1423.9,764.3 1425.2,759.5 1426.5,756.5 1427.8,763.1 1429.1,768.2 1430.5,773.6 1431.8,776.2 1433.1,778 1434.4,777.5 1435.7,772.2 1437,774.9 1438.4,772.4 1439.7,779 1441,781.4 1442.3,787 1443.6,795.7 1444.9,791.6 1446.2,785.3 1447.6,783.3 1448.9,773.1 1450.2,772.4 1451.5,777.4 1452.8,776 1454.1,780.7 1455.5,782.9 1456.8,783.6 1458.1,784.5 1459.4,784.6 1460.7,786.8 1462,785.5 1463.4,787.3 1464.7,785.8 1466,790.9 1467.3,795.4 1468.6,790.9 1469.9,789.2 1471.2,783.4 1472.6,777.6 1473.9,780.1 1475.2,772 1476.5,768.7 1477.8,771.5 1479.1,764.9 1480.5,765.9 1481.8,763.3 1483.1,758.7 1484.4,759.6 1485.7,758.1 1487,767.5 1488.3,773.7 1489.7,776.1 1491,776.4 1492.3,773.3 1493.6,772.8 1494.9,773.4 1496.2,766.3 1497.6,768.9 1498.9,767.6 1500.2,776.8 1501.5,773.6 1502.8,779 1504.1,781.3 1505.4,780.4 1506.8,776.2 1508.1,779.4 1509.4,799.9 1510.7,740.3 1512,747.6 1513.3,749.8 1514.7,744.1 1516,737.5 1517.3,738.5 1518.6,746.4 1519.9,748.6 1521.2,745.1 1522.5,749.7 1523.9,745.9 1525.2,745.7 1526.5,745.1 1527.8,745.1 1529.1,744.7 1530.4,749.2 1531.8,754 1533.1,758 1534.4,760.2 1535.7,756.5 1537,756.1 1538.3,759.3 1539.6,757.3 1541,761 1542.3,762.7 1543.6,772 1544.9,781.4 1546.2,790 1547.5,789.7 1548.9,779.8 1550.2,780.4 1551.5,776.6 1552.8,775.5 1554.1,778.6 1555.4,787.6 1556.8,786 1558.1,788.7 1559.4,784.2 1560.7,772.6 1562,760.7 1563.3,753.7 1564.6,757.4 1566,762 1567.3,758.1 1568.6,763.1 1569.9,768.2 1571.2,766.9 1572.5,759.8 1573.9,761.9 1575.2,757.9 1576.5,761.2 1577.8,769.6 1579.1,773.5 1580.4,777.6 1581.7,774.2 1583.1,774.6 1584.4,775.5 1585.7,774.4 1587,771.2 1588.3,775.6 1589.6,772.3 1591,779.2 1592.3,775.9 1593.6,782.2 1594.9,782.9 1596.2,792.2 1597.5,793.9 1598.8,790.4 1600.2,794 1601.5,800.4 1602.8,799.7 1604.1,796.2 1605.4,790.9 1606.7,783.1 1608.1,779 1609.4,766.9 1610.7,763.7 1612,763.1 1613.3,753.9 1614.6,752.9 1615.9,750.7 1617.3,749 1618.6,747.6 1619.9,742.6 1621.2,741.4 1622.5,749.8 1623.8,746.8 1625.2,753.6 1626.5,751.1 1627.8,751.9 1629.1,755 1630.4,752.3 1631.7,754.5 1633.1,748.1 1634.4,748.1 1635.7,757.3 1637,769.1 1638.3,770.1 1639.6,763 1640.9,758 1642.3,745.7" fill="none" stroke="#7e57c2" stroke-width="1"/>
<g stroke="#fff" stroke-width="2" stroke-linejoin="round" fill="#131722" paint-order="stroke"><path d="M6.1 797H14.8V808.3H10.4V801.8H6.1Z"/><circle cx="18.6" cy="799.5" r="2.4"/><path d="M23.2 797H28.3L23.8 808.3H19.1Z"/></g>
<path d="M1813 825.4H1818.8L1821.3 829.8L1818.8 834.3H1813L1810.5 829.8Z" fill="none" stroke="#131722" stroke-width="1"/><circle cx="1815.9" cy="829.8" r="1.5" fill="none" stroke="#131722" stroke-width="1"/>
<text x="1800" y="7.2" font-size="10" fill="#1e222d" text-anchor="start" font-weight="normal" letter-spacing="0.12">30.00</text>
<text x="1800" y="29.7" font-size="10" fill="#1e222d" text-anchor="start" font-weight="normal" letter-spacing="0.12">26.00</text>
<text x="1800" y="55.7" font-size="10" fill="#1e222d" text-anchor="start" font-weight="normal" letter-spacing="0.12">22.00</text>
<text x="1800" y="80.2" font-size="10" fill="#1e222d" text-anchor="start" font-weight="normal" letter-spacing="0.12">19.00</text>
<text x="1800" y="107.7" font-size="10" fill="#1e222d" text-anchor="start" font-weight="normal" letter-spacing="0.12">16.00</text>
<text x="1800" y="140.8" font-size="10" fill="#1e222d" text-anchor="start" font-weight="normal" letter-spacing="0.12">13.00</text>
<text x="1800" y="167.6" font-size="10" fill="#1e222d" text-anchor="start" font-weight="normal" letter-spacing="0.12">11.00</text>
<text x="1800" y="191.9" font-size="10" fill="#1e222d" text-anchor="start" font-weight="normal" letter-spacing="0.12">9.50</text>
<text x="1800" y="219.1" font-size="10" fill="#1e222d" text-anchor="start" font-weight="normal" letter-spacing="0.12">8.00</text>
<text x="1800" y="251.9" font-size="10" fill="#1e222d" text-anchor="start" font-weight="normal" letter-spacing="0.12">6.50</text>
<text x="1800" y="279.1" font-size="10" fill="#1e222d" text-anchor="start" font-weight="normal" letter-spacing="0.12">5.50</text>
<text x="1800" y="304.8" font-size="10" fill="#1e222d" text-anchor="start" font-weight="normal" letter-spacing="0.12">4.70</text>
<text x="1800" y="334.8" font-size="10" fill="#1e222d" text-anchor="start" font-weight="normal" letter-spacing="0.12">3.90</text>
<text x="1800" y="361.2" font-size="10" fill="#1e222d" text-anchor="start" font-weight="normal" letter-spacing="0.12">3.30</text>
<text x="1800" y="388" font-size="10" fill="#1e222d" text-anchor="start" font-weight="normal" letter-spacing="0.12">2.80</text>
<text x="1800" y="413" font-size="10" fill="#1e222d" text-anchor="start" font-weight="normal" letter-spacing="0.12">2.40</text>
<text x="1800" y="442.2" font-size="10" fill="#1e222d" text-anchor="start" font-weight="normal" letter-spacing="0.12">2.00</text>
<text x="1800" y="468.3" font-size="10" fill="#1e222d" text-anchor="start" font-weight="normal" letter-spacing="0.12">1.70</text>
<text x="1800" y="494.4" font-size="10" fill="#1e222d" text-anchor="start" font-weight="normal" letter-spacing="0.12">1.45</text>
<text x="1800" y="518.5" font-size="10" fill="#1e222d" text-anchor="start" font-weight="normal" letter-spacing="0.12">1.25</text>
<text x="1800" y="552.7" font-size="10" fill="#1e222d" text-anchor="start" font-weight="normal" letter-spacing="0.12">2.00</text>
<text x="1800" y="587.7" font-size="10" fill="#1e222d" text-anchor="start" font-weight="normal" letter-spacing="0.12">0.0000</text>
<text x="1800" y="622.5" font-size="10" fill="#1e222d" text-anchor="start" font-weight="normal" letter-spacing="0.12">−2.00</text>
<clipPath id="c1"><rect x="1790" y="626" width="44" height="96"/></clipPath>
<text x="1800" y="632.2" font-size="10" fill="#1e222d" letter-spacing="0.12" clip-path="url(#c1)">100.00</text>
<text x="1800" y="658.9" font-size="10" fill="#1e222d" text-anchor="start" font-weight="normal" letter-spacing="0.12">75.00</text>
<text x="1800" y="686.2" font-size="10" fill="#1e222d" text-anchor="start" font-weight="normal" letter-spacing="0.12">50.00</text>
<text x="1800" y="713.9" font-size="10" fill="#1e222d" text-anchor="start" font-weight="normal" letter-spacing="0.12">25.00</text>
<text x="1800" y="732" font-size="10" fill="#1e222d" text-anchor="start" font-weight="normal" letter-spacing="0.12">100.00</text>
<text x="1800" y="754.7" font-size="10" fill="#1e222d" text-anchor="start" font-weight="normal" letter-spacing="0.12">75.00</text>
<text x="1800" y="777.8" font-size="10" fill="#1e222d" text-anchor="start" font-weight="normal" letter-spacing="0.12">50.00</text>
<text x="1800" y="800.8" font-size="10" fill="#1e222d" text-anchor="start" font-weight="normal" letter-spacing="0.12">25.00</text>
<text x="107.3" y="833.6" font-size="10" fill="#131722" text-anchor="middle" font-weight="normal" letter-spacing="0">Mar</text>
<text x="165" y="833.6" font-size="10" fill="#131722" text-anchor="middle" font-weight="normal" letter-spacing="0">May</text>
<text x="220.7" y="833.6" font-size="10" fill="#131722" text-anchor="middle" font-weight="normal" letter-spacing="0">Jul</text>
<text x="277.6" y="833.6" font-size="10" fill="#131722" text-anchor="middle" font-weight="normal" letter-spacing="0">Sep</text>
<text x="333" y="833.6" font-size="10" fill="#131722" text-anchor="middle" font-weight="normal" letter-spacing="0">Nov</text>
<text x="389.5" y="833.6" font-size="10" fill="#131722" text-anchor="middle" font-weight="bold" letter-spacing="0">2022</text>
<text x="441.4" y="833.6" font-size="10" fill="#131722" text-anchor="middle" font-weight="normal" letter-spacing="0">Mar</text>
<text x="498" y="833.6" font-size="10" fill="#131722" text-anchor="middle" font-weight="normal" letter-spacing="0">May</text>
<text x="553" y="833.6" font-size="10" fill="#131722" text-anchor="middle" font-weight="normal" letter-spacing="0">Jul</text>
<text x="610" y="833.6" font-size="10" fill="#131722" text-anchor="middle" font-weight="normal" letter-spacing="0">Sep</text>
<text x="665" y="833.6" font-size="10" fill="#131722" text-anchor="middle" font-weight="normal" letter-spacing="0">Nov</text>
<text x="721" y="833.6" font-size="10" fill="#131722" text-anchor="middle" font-weight="bold" letter-spacing="0">2023</text>
<text x="773" y="833.6" font-size="10" fill="#131722" text-anchor="middle" font-weight="normal" letter-spacing="0">Mar</text>
<text x="829" y="833.6" font-size="10" fill="#131722" text-anchor="middle" font-weight="normal" letter-spacing="0">May</text>
<text x="885" y="833.6" font-size="10" fill="#131722" text-anchor="middle" font-weight="normal" letter-spacing="0">Jul</text>
<text x="941.4" y="833.6" font-size="10" fill="#131722" text-anchor="middle" font-weight="normal" letter-spacing="0">Sep</text>
<text x="997" y="833.6" font-size="10" fill="#131722" text-anchor="middle" font-weight="normal" letter-spacing="0">Nov</text>
<text x="1051.6" y="833.6" font-size="10" fill="#131722" text-anchor="middle" font-weight="bold" letter-spacing="0">2024</text>
<text x="1105" y="833.6" font-size="10" fill="#131722" text-anchor="middle" font-weight="normal" letter-spacing="0">Mar</text>
<text x="1160.7" y="833.6" font-size="10" fill="#131722" text-anchor="middle" font-weight="normal" letter-spacing="0">May</text>
<text x="1215.5" y="833.6" font-size="10" fill="#131722" text-anchor="middle" font-weight="normal" letter-spacing="0">Jul</text>
<text x="1273" y="833.6" font-size="10" fill="#131722" text-anchor="middle" font-weight="normal" letter-spacing="0">Sep</text>
<text x="1330" y="833.6" font-size="10" fill="#131722" text-anchor="middle" font-weight="normal" letter-spacing="0">Nov</text>
<text x="1384" y="833.6" font-size="10" fill="#131722" text-anchor="middle" font-weight="bold" letter-spacing="0">2025</text>
<text x="1435.8" y="833.6" font-size="10" fill="#131722" text-anchor="middle" font-weight="normal" letter-spacing="0">Mar</text>
<text x="1491" y="833.6" font-size="10" fill="#131722" text-anchor="middle" font-weight="normal" letter-spacing="0">May</text>
<text x="1545.4" y="833.6" font-size="10" fill="#131722" text-anchor="middle" font-weight="normal" letter-spacing="0">Jul</text>
<text x="1601.8" y="833.6" font-size="10" fill="#131722" text-anchor="middle" font-weight="normal" letter-spacing="0">Sep</text>
<text x="1660" y="833.6" font-size="10" fill="#131722" text-anchor="middle" font-weight="normal" letter-spacing="0">Nov</text>
<text x="1714.4" y="833.6" font-size="10" fill="#131722" text-anchor="middle" font-weight="bold" letter-spacing="0">2026</text>
<text x="1765.7" y="833.6" font-size="10" fill="#131722" text-anchor="middle" font-weight="normal" letter-spacing="0">Mar</text>
</svg>
<div class="a hdr">NVTS · 1D · NASDAQ</div>
<svg style="left:126px;top:6px" width="11" height="9"><path d="M0 0H10L7.6 4.5L10 9H0Z" fill="#f7799a"/></svg>
<svg style="left:144px;top:3px" width="15" height="15"><circle cx="7.3" cy="7" r="6.6" fill="#ebebec"/><rect x="4" y="6" width="6.6" height="2" rx="1" fill="#787b86"/></svg>
<div class="a o" style="left:164px">O</div><div class="a v" style="left:174px">13.12</div>
<div class="a o" style="left:204.5px">H</div><div class="a v" style="left:212.5px">15.44</div>
<div class="a o" style="left:244px">L</div><div class="a v" style="left:250.5px">12.88</div>
<div class="a o" style="left:281.5px">C</div><div class="a v" style="left:289.5px">15.16</div>
<div class="a v" style="left:321px">+2.59</div><div class="a v" style="left:351px">(+20.60%)</div>
<div class="btn" style="left:3px;width:44px;border-color:#f23645;color:#f23645"><span class="p">15.11</span><span class="l">SELL</span></div>
<div class="a" style="left:53px;top:29.5px;font-size:8px;line-height:9px;color:#131722">0.04</div>
<div class="btn" style="left:75px;width:44px;border-color:#2962ff;color:#2962ff"><span class="p">15.15</span><span class="l">BUY</span></div>
<div class="a" style="left:3px;top:53px;width:25px;height:16px;border:1px solid #d1d4dc;border-radius:2px;box-sizing:border-box;font-size:10px;line-height:14px"><svg style="position:absolute;left:4px;top:5px" width="7" height="5"><path d="M0.6 0.6L3.5 3.5L6.4 0.6" stroke="#131722" fill="none" stroke-width="1.1"/></svg><span style="position:absolute;left:14.5px;top:0">4</span></div>
</body></html>
